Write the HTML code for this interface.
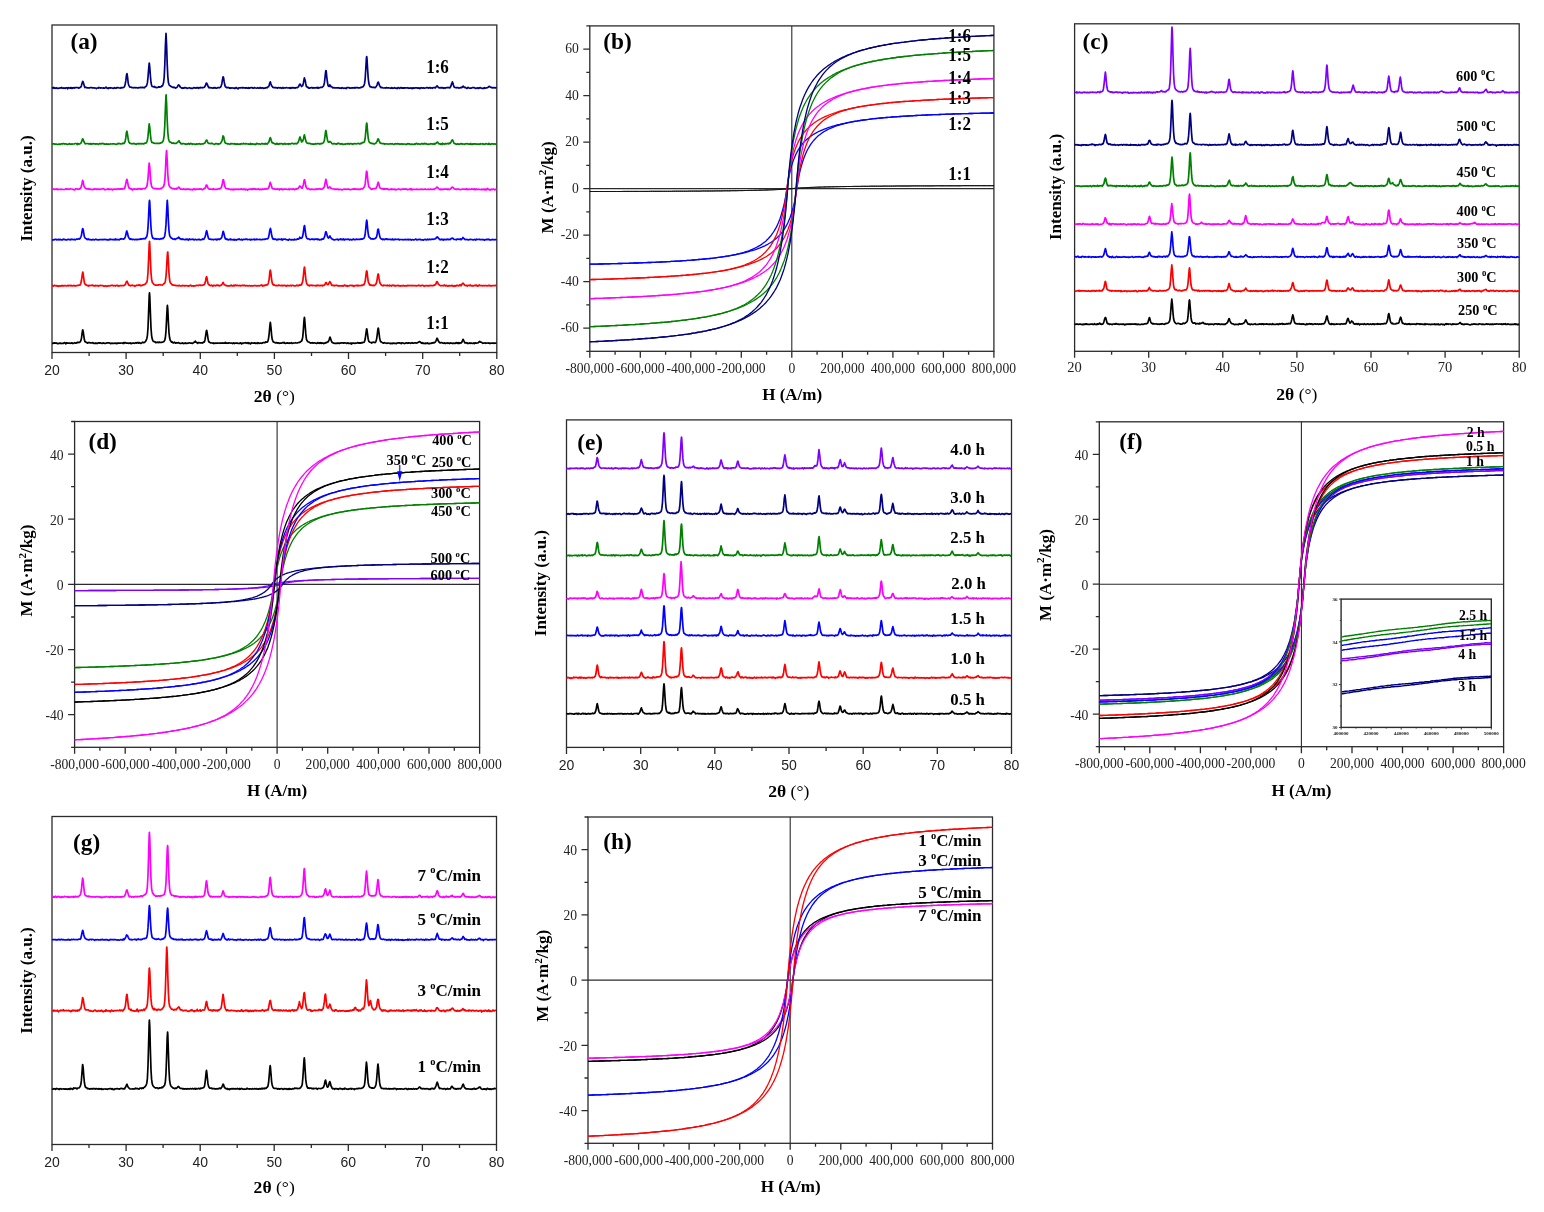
<!DOCTYPE html><html><head><meta charset="utf-8"><style>html,body{margin:0;padding:0;background:#fff}svg{display:block}</style></head><body><svg width="1544" height="1212" viewBox="0 0 1544 1212"><rect width="1544" height="1212" fill="#fff"/><g><rect x="52" y="25" width="444.8" height="327.5" fill="none" stroke="#2b2b2b" stroke-width="1.3"/>
<path d="M52 352.5v6.5M126.1 352.5v6.5M200.3 352.5v6.5M274.4 352.5v6.5M348.5 352.5v6.5M422.7 352.5v6.5M496.8 352.5v6.5M89.1 352.5v3.5M163.2 352.5v3.5M237.3 352.5v3.5M311.5 352.5v3.5M385.6 352.5v3.5M459.7 352.5v3.5" stroke="#2b2b2b" stroke-width="1.3" fill="none"/>
<text x="52" y="374.7" font-size="14" font-family="'Liberation Sans',Arial,sans-serif" text-anchor="middle" fill="#222222">20</text>
<text x="126.1" y="374.7" font-size="14" font-family="'Liberation Sans',Arial,sans-serif" text-anchor="middle" fill="#222222">30</text>
<text x="200.3" y="374.7" font-size="14" font-family="'Liberation Sans',Arial,sans-serif" text-anchor="middle" fill="#222222">40</text>
<text x="274.4" y="374.7" font-size="14" font-family="'Liberation Sans',Arial,sans-serif" text-anchor="middle" fill="#222222">50</text>
<text x="348.5" y="374.7" font-size="14" font-family="'Liberation Sans',Arial,sans-serif" text-anchor="middle" fill="#222222">60</text>
<text x="422.7" y="374.7" font-size="14" font-family="'Liberation Sans',Arial,sans-serif" text-anchor="middle" fill="#222222">70</text>
<text x="496.8" y="374.7" font-size="14" font-family="'Liberation Sans',Arial,sans-serif" text-anchor="middle" fill="#222222">80</text>
<path d="M52 343.4l.6 0 .6-.1 .6-.5 .6 .3 .6-.2 .6 .3 .6-.3 .6 .5 .6 0 .6 .4 .6-.4 .6 0 .6-.3 .6-.1 .6 .6 .6-.3 .6 0 .6 0 .6 .1 .6-.6 .6-.2 .6 .6 .6 .6 .6-1.1 .6 .2 .6 .3 .6-.2 .6 .1 .6-.1 .6 .4 .6-.2 .6 0 .6-.4 .6 .4 .6 .4 .6-.3 .6-.3 .6-.3 .6 .4 .6 0 .6-.2 .6-.6 .6 .3 .6-.2 .6-.1 .6 .1 .6-.7 .6-.9 .6-2 .6-4.8 .6-3.9 .2-.1 .4 1.4 .6 4.4 .6 4 .6 1.9 .6 .1 .6 .6 .6 .1 .6 .6 .6-.6 .6 .3 .6-.2 .6 .1 .6 .3 .6-.1 .6 .1 .6-.1 .6-.3 .6 .7 .6 .2 .6-.3 .6-.2 .6 .5 .6-.2 .6-.1 .6 .2 .6-.5 .6 0 .6 .2 .6-.3 .6 .3 .6 .1 .6 .1 .6 0 .6-.5 .6 .3 .6 .1 .6 .2 .6 .1 .6-.4 .6 0 .6-.3 .6 .2 .6-.1 .6-.1 .6 .2 .6 .4 .6 .2 .6-.3 .6-.1 .6 .1 .6 .1 .6-.1 .6 0 .6-.2 .6 0 .6 .6 .6-.2 .6-.5 .6 .4 .6-.4 .6 .2 .6-.2 .6 .2 .6-.2 .6 0 .6 .2 .6 .1 .6-.6 .6 .7 .6-.8 .6 0 .6 .3 .6 .3 .6-.1 .6-.1 .6 .4 .6-.2 .6-.1 .6 .2 .6-.4 .6 .7 .6-.1 .6-.4 .6 0 .6 0 .6 .2 .6-.1 .6-.4 .6-.1 .6 .5 .6-.6 .6 .1 .6 .5 .6-.7 .6 .4 .6 .2 .6 .3 .6-.3 .6-.4 .6-.5 .6 .5 .6-.1 .6-.2 .6-.3 .6-.8 .6-1 .6-1.6 .6-3 .6-8 .6-15.5 .6-16.7 .3-2.7 .3 3.7 .6 16.6 .6 14.9 .6 7.6 .6 3.2 .6 1.8 .6 .8 .6 .1 .6 .3 .6 .1 .6 .8 .6-.4 .6 0 .6-.1 .6 .4 .6-.2 .6-.4 .6 .5 .6 0 .6-.2 .6 0 .6-.1 .6-.2 .6-.2 .6-.6 .6-1.1 .6-2.8 .6-6.5 .6-11.9 .6-11.9 .2-1.7 .4 4.1 .6 13.4 .6 10 .6 5 .6 2.5 .6 .8 .6 .9 .6-.3 .6 .9 .6 .3 .6-.1 .6-.7 .6 .5 .6 .6 .6-.3 .6-.2 .6 .2 .6 0 .6-.3 .6 .4 .6 .3 .6 0 .6 .1 .6-.2 .6-.3 .6 .1 .6 .6 .6-.3 .6 0 .6-.4 .6 .5 .6-.2 .6 .3 .6-.4 .6 0 .6-.1 .6-.1 .6 .1 .6 .1 .6 0 .6 0 .6 .4 .6-.4 .6-.3 .6-.8 .6 .2 .3-.7 .3-.4 .6 1.1 .6 .5 .6 0 .6 .6 .6-.7 .6-.1 .6 .4 .6 0 .6-.1 .6 .2 .6-.2 .6 .3 .6-.9 .6 .1 .6-.3 .6-2.3 .6-3.6 .6-4.3 .4-1.5 .2 .4 .6 3.5 .6 4.4 .6 2.8 .6 .7 .6 .2 .6 .5 .6 .1 .6 .1 .6 0 .6 .2 .6-.3 .6 .7 .6-.3 .6-.2 .6 .2 .6-.1 .6 0 .6-.2 .6 .1 .6-.1 .6 0 .6 .3 .6-.3 .6 0 .6 .2 .6-.3 .6 .2 .6 .1 .6 0 .6-.1 .6-.7 .6 .7 .6 .1 .6-.2 .6 .3 .6-.2 .6-.2 .6 .1 .6 .1 .6-.1 .6 0 .6 .3 .6 .3 .6-.6 .6-.1 .6 .6 .6-.4 .6-.1 .6 .1 .6 .1 .6 0 .6 .1 .6 .2 .6-.1 .6 .1 .6-.7 .6 .4 .6 .6 .6-.7 .6 .4 .6-.5 .6 0 .6 0 .6-.4 .6 .4 .6-.1 .6 .5 .6-.5 .6-.3 .6 1 .6-.4 .6 0 .6 .6 .6-.7 .6-.4 .6 .3 .6 .1 .6-.1 .6 .2 .6-.4 .6 .6 .6-.3 .6 0 .6 .4 .6-.8 .6 .2 .6 .5 .6-.2 .6 0 .6-.2 .6 .3 .6-.1 .6-.4 .6-.2 .6 0 .6 .2 .6-.2 .6-.7 .6 .2 .6 .1 .6-.2 .6-1.1 .6-2.8 .6-4.8 .6-6.9 .5-4 .1 .3 .6 5.2 .6 7.2 .6 4.2 .6 1.6 .6 1.1 .6 .3 .6 0 .6 .4 .6 .3 .6-.3 .6-.1 .6 .5 .6-.3 .6 .3 .6 .3 .6-.4 .6 .1 .6-.1 .6 .1 .6-.4 .6-.1 .6 .3 .6-.5 .6 .9 .6 .2 .6-.3 .6-.3 .6 0 .6 .2 .6-.1 .6 .4 .6-.5 .6 .3 .6-.2 .6-.3 .6 .6 .6 0 .6-.2 .6-.1 .6 0 .6-.1 .6-.2 .6 .3 .6 0 .6-.1 .6-.2 .6-.2 .6-.1 .6 0 .6-.6 .6-.4 .6-.2 .6-1.6 .6-3 .6-7.2 .6-9.1 .4-2.9 .2 .7 .6 7.6 .6 8.2 .6 5.2 .6 1.5 .6 .7 .6 .7 .6 0 .6 .3 .6 .5 .6 .3 .6-.2 .6 0 .6-.2 .6 .5 .6-.2 .6-.2 .6 .2 .6 .1 .6 .1 .6 .3 .6-.2 .6-.7 .6 .3 .6 .4 .6-.5 .6 .4 .6-.6 .6 .8 .6-.5 .6 .3 .6-.2 .6 .6 .6-.5 .6 .1 .6-.7 .6 .3 .6-.3 .6-.5 .6 0 .6-1 .6-1.4 .6-2 .2-.5 .4 .8 .6 2.2 .6 1.2 .6 1.2 .6 .3 .6 .3 .6 .1 .6 .1 .6 0 .6 0 .6 0 .6 .2 .6-.5 .6 0 .6 .3 .6-.1 .6 .1 .6-.2 .6-.3 .6 .2 .6-.1 .6 .1 .6 .2 .6-.4 .6 0 .6 .2 .6 .1 .6 .3 .6-.2 .6-.4 .6 .7 .6-.3 .6 .2 .6-.2 .6-.2 .6 1 .6-1 .6 .3 .6-.1 .6-.2 .6 .3 .6 0 .6-.1 .6 0 .6-.2 .6-.3 .6 0 .6 .4 .6-.2 .6 .3 .6-.4 .6 .4 .6-.6 .6 .2 .6-.5 .6 0 .6 .1 .6-1.1 .6-2.3 .6-4.3 .6-4.7 .3-1.2 .3 1.2 .6 4.7 .6 4.5 .6 2 .6 .7 .6 .4 .6 .2 .6 0 .6 .5 .6-.6 .6 .1 .6-.4 .6 .2 .6 .3 .6-.2 .6-1.1 .6-2.2 .6-4.1 .6-5.2 .4-1.7 .2 .2 .6 4.6 .6 4.8 .6 2.9 .6 1.3 .6 0 .6 .5 .6 .3 .6 .5 .6-.3 .6-.3 .6 .4 .6 0 .6 .2 .6 .1 .6-.1 .6-.2 .6 0 .6 .2 .6 .2 .6 .2 .6-.4 .6 .2 .6 .3 .6-.7 .6 0 .6 .5 .6-.1 .6 0 .6-.1 .6 .4 .6-.5 .6-.1 .6-.3 .6 0 .6 0 .6 .4 .6-.1 .6 .6 .6-.9 .6 .1 .6 .1 .6 .4 .6-.1 .6 .3 .6-.3 .6-.4 .6 0 .6 .4 .6-.3 .6 .2 .6-.4 .6 .2 .6 .1 .6 .3 .6-.4 .6-.3 .6 .5 .6 0 .6 0 .6-.2 .6-.2 .6 0 .6 .2 .6 .1 .6-.5 .6-.1 .6-.4 .6-.4 .5-.1 .1 .1 .6 .3 .6 .8 .6 .4 .6-.5 .6 .7 .6-.3 .6 .3 .6 0 .6 .2 .6-.6 .6 .4 .6-.2 .6-.3 .6 .7 .6 0 .6 .1 .6-.4 .6 0 .6 .1 .6-.5 .6 .2 .6-.4 .6 0 .6 .1 .6-.3 .6-.6 .6-1 .6-1.5 .5-1.2 .1 .2 .6 1.1 .6 1.6 .6 .8 .6 .7 .6 .4 .6-.4 .6 0 .6 .1 .6 .3 .6 .3 .6-.2 .6-.3 .6 .7 .6-.2 .6-.1 .6-.2 .6-.1 .6 .5 .6-.4 .6 .1 .6 .4 .6-.6 .6 .3 .6 0 .6 .1 .6 .3 .6-.6 .6 .2 .6 .1 .6 .1 .6-.6 .6-.2 .6 .6 .6 .1 .6-.6 .6 .7 .6-.6 .6 .5 .6-.4 .6 .1 .6-.8 .6-1.4 .6-1.4 .1-.1 .5 1.1 .6 1 .6 1.4 .6 .1 .6 .1 .6-.3 .6 .6 .6-.1 .6 .2 .6-.1 .6-.4 .6 .2 .6 .3 .6-.4 .6 .4 .6 0 .6-.2 .6-.3 .6 .7 .6-.8 .6 .3 .6 .1 .6-.2 .6 0 .6-.1 .6-.6 .6-.6 .5-.4 .1 .5 .6 .3 .6 .1 .6 .2 .6 .5 .6 .4 .6-.2 .6 0 .6-.1 .6-.1 .6 .4 .6-.2 .6-.1 .6 0 .6 .2 .6-.3 .6 .6 .6-.3 .6 .2 .6-.3 .6 0 .6 .2 .6-.2 .6 0 .6 .3 .6-.4 .6 .2 .6-.2 .6 .3" stroke="#000000" stroke-width="1.7" fill="none" stroke-linejoin="round"/>
<path d="M52 285.6l.6 0 .6 .6 .6-.6 .6-.3 .6 .4 .6 0 .6 .2 .6-.3 .6 .5 .6-.2 .6 .5 .6-.5 .6-.1 .6 .3 .6-.1 .6-.5 .6 .4 .6-.4 .6 .5 .6-.4 .6 .2 .6-.3 .6 .2 .6 .3 .6 0 .6-.4 .6-.3 .6 .5 .6-.3 .6-.1 .6 .4 .6-.5 .6 .5 .6 .1 .6-.2 .6-.3 .6 .1 .6 .5 .6-.3 .6 .2 .6-.3 .6-.1 .6-.1 .6-.1 .6-.1 .6 0 .6-.3 .6-1.4 .6-2.7 .6-4.2 .6-4 .2-.6 .4 2.2 .6 4.5 .6 4.1 .6 1.2 .6 .4 .6 .7 .6 .1 .6 .4 .6-.1 .6 .5 .6-.6 .6 .2 .6-.1 .6-.1 .6-.2 .6 .5 .6-.5 .6 .5 .6 .1 .6 0 .6-.5 .6 .5 .6-.3 .6 .2 .6-.1 .6 .6 .6-.6 .6 0 .6 .1 .6-.4 .6 .2 .6 .1 .6 .1 .6-.1 .6 .5 .6 .2 .6-.2 .6-.4 .6 .2 .6 .4 .6-.1 .6-.3 .6-.3 .6 .4 .6-.1 .6-.2 .6 0 .6-.4 .6 0 .6 0 .6 .4 .6 .1 .6-.3 .6 .1 .6 .4 .6-.6 .6 .1 .6-.2 .6 .8 .6-.5 .6 .4 .6-.1 .6-.4 .6 .2 .6 0 .6 0 .6-.1 .6 0 .6-.1 .6-.5 .6-.2 .6-1.4 .6-1.7 .5-.4 .1-.1 .6 1.3 .6 1.3 .6 1.3 .6 .4 .6-.2 .6 .5 .6-.3 .6-.2 .6-.1 .6 .4 .6-.1 .6 .1 .6 .7 .6-.4 .6-.3 .6-.4 .6 .2 .6-.1 .6-.1 .6-.4 .6 .5 .6-.3 .6 .8 .6-.5 .6 .1 .6-.2 .6-.4 .6 .1 .6-.4 .6-.3 .6-.3 .6-1.1 .6-.4 .6-3 .6-7.2 .6-12.8 .6-15.1 .3-3 .3 3.7 .6 14.6 .6 13 .6 6.6 .6 2.8 .6 1 .6 .8 .6 .7 .6 .2 .6 .5 .6-.1 .6 0 .6 0 .6 .1 .6-.1 .6-.3 .6 0 .6-.2 .6 .3 .6 .1 .6 0 .6 .1 .6-.6 .6-.7 .6-.2 .6-.5 .6-2.2 .6-4.3 .6-8.9 .6-11.1 .4-4.6 .2 .1 .6 9.9 .6 11.3 .6 6.5 .6 2.8 .6 .8 .6 .5 .6 1 .6-.1 .6 .4 .6-.1 .6 .2 .6 0 .6 0 .6 .4 .6 0 .6-.2 .6 0 .6 .4 .6-.6 .6 .4 .6 .2 .6 .1 .6 0 .6-.6 .6 .4 .6-.3 .6 .3 .6-.1 .6 .2 .6-.4 .6 .1 .6 .2 .6 0 .6 .1 .6 .2 .6-.6 .6 .1 .6-.4 .6 .5 .6 .4 .6-.3 .6 .2 .6 .2 .6-.4 .6 .1 .6 0 .6-.4 .6-.2 .6 .2 .6-.1 .6 .3 .6-.7 .6 0 .6 0 .6 .5 .6-.1 .6 0 .6-.2 .6-.1 .6-.3 .6-.3 .6-1.4 .6-2.4 .6-3.2 .4-.8 .2 .4 .6 3.4 .6 2.8 .6 1.3 .6-.1 .6 .8 .6 .4 .6-.1 .6-.5 .6 .3 .6 .8 .6-.6 .6-.4 .6 .3 .6 .3 .6-.1 .6-.4 .6-.3 .6 .5 .6-.4 .6 .6 .6 .2 .6-.3 .6-.2 .6-.2 .6-.6 .6-1 .6-1.1 .2-.1 .4 .9 .6 1.2 .6 .4 .6 .5 .6 0 .6 .2 .6 .3 .6 0 .6 0 .6 0 .6 0 .6-.4 .6 .3 .6-.6 .6 .5 .6 .1 .6 0 .6-.6 .6 .6 .6-.4 .6-.4 .6 .5 .6 .1 .6-.3 .6 .4 .6-.1 .6 .1 .6-.3 .6 .4 .6-.1 .6-.1 .6-.2 .6 0 .6 .2 .6-.4 .6 .2 .6 .6 .6-.3 .6 0 .6-.1 .6 .3 .6 .1 .6-.2 .6-.2 .6 .2 .6 .1 .6-.2 .6 .1 .6 0 .6 .1 .6-.2 .6-.2 .6 .2 .6-.1 .6 0 .6 .4 .6-.1 .6-.2 .6 0 .6 .1 .6 0 .6-.3 .6 0 .6-.5 .6 .5 .6 .5 .6-.6 .6 .4 .6-.5 .6-.1 .6 .3 .6-.6 .6-.1 .6 .1 .6-1.1 .6-1.6 .6-3.4 .6-6.5 .5-2.3 .1 .3 .6 3.7 .6 5.3 .6 3.6 .6 1.4 .6 .8 .6-.4 .6 .4 .6 .4 .6 .1 .6-.2 .6 .3 .6 0 .6-.4 .6-.3 .6 .5 .6 0 .6 .1 .6 .1 .6-.3 .6 0 .6 .5 .6-.4 .6-.2 .6 0 .6 .4 .6 .5 .6-.2 .6-.7 .6 .3 .6-.1 .6 .3 .6-.1 .6-.1 .6-.2 .6 .5 .6-.6 .6 .2 .6-.2 .6 .5 .6 .2 .6-.2 .6 0 .6-.2 .6-.5 .6 .3 .6 .5 .6-.6 .6 .2 .6-.7 .6 .3 .6 0 .6-.6 .6-1.6 .6-2.1 .6-5.2 .6-6.1 .4-2.3 .2 .3 .6 5.7 .6 5.7 .6 3.5 .6 1.8 .6 .5 .6 .7 .6 0 .6 .5 .6-.7 .6 .1 .6 .2 .6-.3 .6 .4 .6-.2 .6 .1 .6 0 .6 .2 .6 .1 .6-.3 .6 .3 .6-.6 .6 .2 .6-.1 .6 .4 .6-.1 .6-.2 .6 .2 .6-.1 .6-.3 .6 .6 .6-.4 .6 0 .6-.3 .6-.6 .6-1.6 .3-.4 .3 0 .6 1.1 .6 1 .6 0 .6-.6 .6-1.4 .6-1 .2 .3 .4 .4 .6 1.3 .6 1.4 .6 .5 .6-.4 .6 .6 .6-.3 .6 .4 .6-.4 .6 .1 .6-.3 .6 .2 .6 .4 .6-.1 .6 .3 .6-.3 .6 .2 .6 0 .6 0 .6 .1 .6-.4 .6 .5 .6-.1 .6-.9 .6 0 .6 .6 .6 .1 .6-.3 .6 .8 .6-.6 .6 .2 .6 .1 .6-.4 .6-.3 .6 .2 .6-.1 .6 .4 .6-.5 .6 .5 .6 .5 .6-.6 .6-.2 .6 .2 .6-.1 .6-.2 .6-.2 .6 .8 .6-.6 .6 .1 .6 .1 .6 .1 .6-.1 .6-.5 .6 .2 .6 0 .6-.7 .6 0 .6-1.6 .6-1.9 .6-4.7 .6-5 .3-.5 .3 .5 .6 5.4 .6 4.6 .6 1.8 .6 1.2 .6 .7 .6-.2 .6 .2 .6 .3 .6 0 .6 .2 .6-.5 .6 .5 .6-.4 .6-.5 .6-1 .6-1.2 .6-3.4 .6-4.3 .4-.8 .2 .4 .6 3.8 .6 3.2 .6 2.1 .6 .8 .6 .6 .6 .6 .6 .2 .6 .1 .6-.7 .6 .4 .6-.2 .6 .2 .6 .1 .6 .1 .6-.6 .6 .7 .6-.3 .6 .3 .6-.6 .6 .4 .6 .1 .6 .4 .6-.9 .6 .3 .6-.2 .6-.1 .6 .7 .6-.2 .6 .1 .6-.1 .6-.1 .6 0 .6-.3 .6 .5 .6 .1 .6-.3 .6 .5 .6-.3 .6-.3 .6 .3 .6 .1 .6-.5 .6 .4 .6 .1 .6-.2 .6 .2 .6 .1 .6-.6 .6 .4 .6-.3 .6-.1 .6 .3 .6-.2 .6 .2 .6-.2 .6-.1 .6 .3 .6-.1 .6 0 .6-.1 .6 .2 .6 0 .6 .3 .6-.4 .6 .2 .6-.3 .6-.4 .6 .7 .6-.2 .6 .1 .6 .3 .6-.6 .6 0 .6 0 .6 .1 .6 .8 .6-.5 .6 0 .6-.3 .6 .2 .6-.1 .6 .4 .6-.4 .6 .3 .6-.3 .6 0 .6-.2 .6 .3 .6-.1 .6 .2 .6-.2 .6-.2 .6-.3 .6 .2 .6-.9 .6-.5 .6-2.1 .5-.1 .1 .1 .6 .9 .6 1.5 .6 .4 .6 .5 .6 .4 .6 .3 .6-.2 .6 0 .6 0 .6 .2 .6-.4 .6-.4 .6 .8 .6 0 .6-.5 .6 .4 .6 .4 .6 .1 .6-.5 .6 .3 .6-.5 .6 .3 .6 .2 .6-.5 .6-.2 .6 .8 .6-.1 .6 .3 .6-.6 .6-.2 .6 .6 .6-.4 .6-.5 .6 .3 .6 .3 .6-.1 .6-.7 .6 .5 .6-.6 .6 .8 .6-1.3 .6-.8 .6-.4 .1-.1 .5 .8 .6 .5 .6 .8 .6 .3 .6 .1 .6-.3 .6 .7 .6-.5 .6-.1 .6 .1 .6 .2 .6-.7 .6 .5 .6 .4 .6-.1 .6-.1 .6 .2 .6-.1 .6-.5 .6 0 .6 .3 .6-.6 .6 .6 .6 .6 .6-.5 .6 .2 .6-1 .6 .4 .6 .3 .6 .1 .6-.2 .6 .4 .6-.2 .6-.1 .6 0 .6 .2 .6-.3 .6 .1 .6 0 .6 .4 .6-.3 .6-.3 .6 .2 .6-.2 .6 .4 .6-.1 .6 .1 .6 0 .6-.3 .6 .2 .6 0 .6 0 .6 0 .6-.1 .6-.4 .6-.1" stroke="#ff0000" stroke-width="1.7" fill="none" stroke-linejoin="round"/>
<path d="M52 239.8l.6 .1 .6-.1 .6 .2 .6-.5 .6-.1 .6-.1 .6 0 .6 .6 .6-.2 .6-.3 .6-.1 .6 .6 .6-.6 .6 .1 .6 .3 .6 .2 .6 .1 .6-.5 .6-.3 .6 0 .6 .4 .6 0 .6 .3 .6-.1 .6 .1 .6-.5 .6-.1 .6 .2 .6 .2 .6-.3 .6 .5 .6-.7 .6 .3 .6-.2 .6 .3 .6 .1 .6-.3 .6 .2 .6 .2 .6-.5 .6-.1 .6-.1 .6 .1 .6-.2 .6-.4 .6 .4 .6-.7 .6-1.3 .6-1.4 .6-4 .6-2.9 .2 0 .4 .9 .6 3.8 .6 3.5 .6 .9 .6 .6 .6 .4 .6 .1 .6 .7 .6-.3 .6-.4 .6 .8 .6-.1 .6-.1 .6 .4 .6-.1 .6 0 .6-.4 .6 .1 .6 .4 .6-.1 .6-.3 .6-.3 .6 .4 .6 0 .6 .2 .6 0 .6 0 .6-.2 .6 .1 .6-.2 .6 .1 .6 .1 .6 0 .6-.3 .6 .3 .6-.1 .6-.3 .6 .2 .6 .2 .6-.2 .6 .5 .6-.3 .6 .2 .6-.1 .6-.6 .6-.2 .6 .6 .6-.1 .6-.1 .6 .3 .6 0 .6-.1 .6-.3 .6 .6 .6-.9 .6 .7 .6-.3 .6 .3 .6-.1 .6 0 .6 .3 .6-.5 .6-.5 .6 .2 .6-.4 .6 .3 .6 0 .6 .2 .6-.4 .6-.3 .6-1.5 .6-1.9 .6-3.2 .5-1 .1 .5 .6 2.1 .6 3 .6 1.2 .6 .8 .6 .9 .6-.6 .6 .3 .6 .3 .6 .2 .6-.3 .6 .1 .6 .1 .6 .3 .6-.3 .6-.2 .6 .4 .6 0 .6-.4 .6 .1 .6-.1 .6 0 .6-.5 .6 .4 .6-.1 .6-.3 .6 .2 .6-.3 .6-.1 .6-.1 .6 .4 .6-.5 .6-1.2 .6-.6 .6-3 .6-5.9 .6-12 .6-13 .3-2.4 .3 2.4 .6 13.3 .6 11.8 .6 6.1 .6 2.7 .6 1.5 .6 0 .6 .7 .6 0 .6 .1 .6-.3 .6 .3 .6 .2 .6-.1 .6-.2 .6 .2 .6 .3 .6-.1 .6-.5 .6 .3 .6-.4 .6-.2 .6 .2 .6-.6 .6-.8 .6-1.5 .6-4.3 .6-7 .6-12.7 .6-11 .1-.3 .5 7.1 .6 14 .6 9.3 .6 4.5 .6 1.4 .6 .7 .6 .8 .6 0 .6 .8 .6 .1 .6-.1 .6-.2 .6 .7 .6-.4 .6-.5 .6 .1 .6-.6 .6 0 .6-1 .2 .2 .4 .5 .6 .9 .6-.1 .6 .7 .6-.1 .6 .1 .6-.5 .6 .6 .6 .1 .6 .1 .6 .1 .6-.4 .6-.3 .6 .6 .6-.4 .6 .9 .6-.6 .6-.5 .6 .7 .6-.2 .6-.2 .6 .1 .6 0 .6-.3 .6 .6 .6 .2 .6-.3 .6-.3 .6 .3 .6 .2 .6-.1 .6-.2 .6 .1 .6-.4 .6 .5 .6 .2 .6-.2 .6 0 .6-.2 .6-.5 .6 .5 .6-.2 .6-1.1 .6-1.1 .6-2.1 .6-3.1 .4-1.2 .2 .3 .6 2.7 .6 3.1 .6 1.7 .6 .6 .6 0 .6 .2 .6-.1 .6 .4 .6-.1 .6-.1 .6 .4 .6-.3 .6-.1 .6-.2 .6 .2 .6 .4 .6-.6 .6 .5 .6-.6 .6 0 .6 .4 .6-.6 .6-.1 .6-.6 .6-.9 .6-2.7 .6-2.9 .2-.4 .4 .9 .6 2.6 .6 2.6 .6 1.4 .6 .4 .6-.3 .6 .7 .6-.2 .6 .4 .6-.1 .6-.2 .6-.5 .6 .9 .6-.5 .6 .2 .6 .2 .6 .2 .6-.6 .6 .6 .6-.5 .6 0 .6 .6 .6-.5 .6 0 .6-.4 .6 .3 .6-.5 .6 .5 .6 .3 .6-.2 .6-.3 .6 .7 .6-.4 .6-.2 .6 .1 .6-.2 .6 0 .6-.1 .6 .1 .6-.3 .6 .6 .6-.1 .6 0 .6 .1 .6-.2 .6 .6 .6-.7 .6 .3 .6 .1 .6-.2 .6-.2 .6-.1 .6 .6 .6-.3 .6 .2 .6-.6 .6 .2 .6 .3 .6-.1 .6 0 .6-.2 .6 .4 .6-.2 .6 .2 .6 0 .6-.4 .6 .1 .6 .1 .6-.3 .6 .1 .6-.2 .6-.3 .6 .2 .6-.1 .6-.4 .6-1.3 .6-3.1 .6-4 .5-1.4 .1-.4 .6 2.6 .6 3.7 .6 2.6 .6 1.7 .6-.3 .6 .8 .6-.3 .6 .1 .6-.1 .6 .7 .6 .1 .6-.6 .6 .3 .6-.5 .6 .2 .6 .2 .6-.1 .6 .2 .6-.7 .6 1.1 .6-.5 .6-.4 .6 .1 .6-.1 .6 .1 .6 .5 .6-.1 .6 .2 .6 .1 .6 .2 .6-.7 .6-.2 .6 .3 .6 .4 .6 0 .6-.3 .6 0 .6 .4 .6-.1 .6-.8 .6 .5 .6 .1 .6-.1 .6-.2 .6-.6 .6 .4 .6-.1 .6-.6 .6-1.3 .2 .7 .4 .1 .6 .4 .6-.4 .6-.4 .6-2 .6-3.6 .6-4.8 .4-1.6 .2 0 .6 4.7 .6 4.9 .6 2.1 .6 1.1 .6 .4 .6 .1 .6 .1 .6 .1 .6 .6 .6-.2 .6-.4 .6 0 .6 .2 .6-.3 .6 .5 .6 .2 .6-.6 .6 0 .6 .1 .6 0 .6 .4 .6-.6 .6 .4 .6 .2 .6 .4 .6-.5 .6 0 .6 .1 .6-.7 .6 .1 .6 .2 .6-.9 .6-1 .6-2.2 .6-2.9 .3-.5 .3 .2 .6 2.2 .6 2.3 .6 1.1 .6 .5 .6-.8 .6-.9 .2-.4 .4 1.5 .6 .6 .6 .4 .6 .9 .6 0 .6 .3 .6 .3 .6 .1 .6-.4 .6-.1 .6 0 .6-.3 .6 0 .6 .8 .6-.5 .6-.2 .6 .1 .6-.5 .6 .7 .6-.2 .6 .2 .6-.2 .6-.5 .6 1.1 .6-.4 .6-.3 .6 0 .6 .1 .6 0 .6-.2 .6 0 .6 .4 .6 .3 .6-.6 .6 .2 .6 .3 .6 .1 .6-.6 .6-.1 .6 0 .6 .4 .6 .2 .6-.3 .6-.3 .6 0 .6 .3 .6-.2 .6 0 .6 .1 .6-.2 .6 .1 .6-.4 .6 .2 .6 .1 .6-.4 .6-.1 .6-.5 .6-1.5 .6-2.7 .6-5.9 .6-6.5 .3-1.4 .3 1.2 .6 6.9 .6 5.3 .6 3.3 .6 .3 .6 .8 .6 .5 .6 .5 .6-.1 .6-.2 .6 .5 .6-.3 .6-.1 .6-.2 .6-.2 .6-.5 .6-1.2 .6-2.8 .6-4.6 .4 .3 .2-.4 .6 3.5 .6 2.9 .6 2.3 .6 .6 .6 .6 .6-.1 .6 .5 .6-.5 .6 .4 .6 .2 .6-.2 .6-.5 .6-.1 .6 .6 .6-.4 .6 .5 .6-.1 .6-.1 .6 0 .6 .1 .6 .2 .6 .1 .6-.7 .6 .6 .6-.2 .6 .5 .6-.5 .6-.2 .6 0 .6 .3 .6 0 .6-.2 .6 0 .6-.1 .6 .7 .6-.3 .6-.1 .6 0 .6 .1 .6-.1 .6 .2 .6 .1 .6-.2 .6 0 .6-.2 .6 .3 .6-.1 .6 .1 .6-.3 .6 .4 .6-.4 .6 .3 .6-.3 .6 .1 .6 .6 .6-.3 .6-.2 .6 .2 .6 .1 .6-.2 .6-.3 .6-.3 .6 .2 .6 .7 .6-.3 .6-.1 .6 0 .6-.3 .6 .3 .6-.3 .6 .5 .6 .2 .6-.3 .6 .3 .6 .1 .6-.6 .6 .1 .6-.3 .6 .2 .6 .5 .6-.2 .6-.6 .6 .5 .6-.1 .6-.5 .6 .6 .6-.2 .6-.3 .6 .2 .6-.2 .6 0 .6 .2 .6-.4 .6-.1 .6-.2 .6-.4 .6-1 .5-.4 .1 0 .6 .4 .6 1 .6 .3 .6 1 .6 0 .6 .2 .6-.6 .6 .3 .6-.1 .6 .7 .6-.7 .6 0 .6 .2 .6 0 .6-.2 .6 .2 .6-.2 .6-.3 .6 .6 .6-.1 .6-.3 .6 .3 .6-1 .6-.3 .6 0 .1-.1 .5 .1 .6 .4 .6 .8 .6 0 .6 0 .6 .1 .6 .2 .6-.6 .6 0 .6-.2 .6 .4 .6-.2 .6 .3 .6-.7 .6 .9 .6-.8 .6-.3 .6-1.1 .1 .8 .5 0 .6 .2 .6 .9 .6 .2 .6-.1 .6-.1 .6 .2 .6 .2 .6 0 .6-.1 .6 0 .6-.4 .6 .1 .6 .1 .6 .1 .6 .2 .6 .1 .6-.2 .6 0 .6-.4 .6 .8 .6-.4 .6-.6 .6 .4 .6 0 .6 0 .6-.3 .6 .4 .6 0 .6 .1 .6 0 .6-.3 .6 .3 .6-.2 .6 .5 .6 .2 .6-.7 .6 .2 .6 0 .6-.5 .6 .5 .6-.1 .6-.5 .6 .7 .6 .1 .6 .1 .6-.2 .6-.1 .6-.3 .6 .1 .6 .2 .6 .1 .6-.3 .6 0 .6 .3 .6 .3" stroke="#0000ff" stroke-width="1.7" fill="none" stroke-linejoin="round"/>
<path d="M52 189.6l.6-.3 .6-.1 .6-.3 .6 .4 .6 .1 .6-.2 .6 0 .6-.3 .6 .7 .6-.2 .6-.2 .6 .2 .6 0 .6-.1 .6-.1 .6 .1 .6 .1 .6 .1 .6 0 .6-.1 .6 .1 .6-.2 .6-.4 .6-.1 .6 .6 .6-.5 .6 .1 .6 .2 .6 .3 .6-.7 .6 .1 .6 .1 .6 0 .6 .2 .6 .2 .6 0 .6 .6 .6-.3 .6-.8 .6-.2 .6 .3 .6 0 .6 .3 .6-.1 .6 0 .6-.4 .6-.2 .6-.7 .6-1.8 .6-2.7 .6-3.1 .2 .4 .4 1.1 .6 3.7 .6 1.6 .6 .7 .6 .6 .6 .4 .6 0 .6-.1 .6 .2 .6-.2 .6 .7 .6-.6 .6 .5 .6 .2 .6-.1 .6 .2 .6-.2 .6 .1 .6-.4 .6-.2 .6 .2 .6 .2 .6 .2 .6-.5 .6 .1 .6-.1 .6 .4 .6-.3 .6 .4 .6-.3 .6-.1 .6-.1 .6-.2 .6-.3 .6 .5 .6 0 .6 .8 .6-.3 .6 0 .6-.2 .6-.1 .6-.3 .6 0 .6 .7 .6-.4 .6-.1 .6 .3 .6-.2 .6 0 .6 .6 .6-.4 .6-.2 .6-.1 .6-.1 .6 .3 .6 .1 .6-.3 .6 0 .6-.3 .6 .3 .6 .2 .6-.4 .6 .2 .6-.2 .6 0 .6 .2 .6-.4 .6 .3 .6-.1 .6-.5 .6-1.8 .6-2.9 .6-3.2 .5-1.2 .1 .1 .6 2.8 .6 3.3 .6 1.9 .6 1.1 .6-.2 .6 .6 .6 .2 .6-.2 .6 1.1 .6-.7 .6-.1 .6-.4 .6 .3 .6 .1 .6 .2 .6-.4 .6 .4 .6-.6 .6 .2 .6-.4 .6 .4 .6 .2 .6-.6 .6 .5 .6 0 .6-.6 .6 0 .6 0 .6 .2 .6 0 .6-.7 .6-.7 .6-.8 .6-3 .6-4.8 .6-8.9 .6-6.6 .1 .3 .5 4.4 .6 9 .6 6.6 .6 2.7 .6 1.2 .6 .5 .6 .3 .6 .3 .6 .1 .6-.2 .6 .6 .6-.3 .6-.1 .6 .4 .6-.3 .6 .1 .6 .2 .6-.1 .6-.5 .6 .2 .6-.5 .6-.5 .6-.5 .6-.5 .6-2 .6-3.9 .6-9.4 .6-13.8 .5-6.9 .1 0 .6 9.5 .6 14 .6 7.3 .6 4 .6 1 .6 1 .6 .4 .6 .1 .6 .6 .6 .1 .6 .1 .6-.2 .6 .6 .6-.3 .6 .2 .6-.5 .6 .5 .6-.7 .6-.3 .6-.9 .2 0 .4 .4 .6 .6 .6 1.1 .6-.2 .6 0 .6 .4 .6-.2 .6-.3 .6 .2 .6 .3 .6-.2 .6 .3 .6-.5 .6 .3 .6-.3 .6 .1 .6 0 .6-.1 .6 .8 .6-.4 .6 .1 .6-.1 .6 .4 .6-.6 .6-.3 .6 .5 .6-.4 .6 .6 .6-.5 .6 .1 .6 .2 .6-.4 .6 .1 .6 .2 .6-.4 .6 .3 .6-.3 .6 .2 .6 .5 .6 0 .6-.5 .6-.2 .6-.3 .6-.3 .6-1 .6-2 .4-.3 .2 .1 .6 1.6 .6 1.3 .6 .7 .6 .4 .6 .1 .6-.1 .6 .2 .6-.2 .6 .3 .6 .1 .6-.8 .6 .8 .6-.3 .6 .2 .6-.2 .6 .3 .6-.3 .6 0 .6-.3 .6 .1 .6 0 .6-.5 .6-.1 .6-.8 .6-1.5 .6-2.9 .6-3.4 .2-.2 .4 .4 .6 3.5 .6 2.9 .6 1.3 .6 .9 .6 0 .6 .1 .6 .3 .6-.1 .6 .2 .6 0 .6 .3 .6 .2 .6-.2 .6-.3 .6 .3 .6 .5 .6-.7 .6 0 .6 .4 .6-.3 .6-.1 .6 .3 .6-.4 .6 .4 .6-.4 .6 .3 .6-.1 .6-.2 .6 .3 .6-.5 .6 .5 .6-.2 .6 .3 .6-.5 .6 .5 .6 .3 .6-.6 .6 .1 .6 .2 .6 .7 .6-.7 .6-.4 .6 .2 .6-.1 .6 0 .6-.3 .6 .7 .6-.7 .6 .3 .6-.4 .6-.2 .6 .7 .6-.4 .6 .5 .6-.1 .6-.3 .6 .4 .6-.5 .6 .5 .6 .2 .6-.6 .6 .2 .6 .4 .6-.2 .6-.5 .6 .5 .6-.2 .6 0 .6-.4 .6 .3 .6 0 .6-.4 .6 .2 .6-.5 .6-.4 .6-1.6 .6-2.8 .5-1.3 .1 .7 .6 1.6 .6 1.9 .6 1.8 .6 .5 .6 .2 .6-.1 .6 0 .6 .5 .6-.3 .6 0 .6 .2 .6-.4 .6 .2 .6 .1 .6 .7 .6-1 .6 .3 .6-.2 .6-.2 .6 .9 .6 0 .6-.5 .6 0 .6 0 .6 0 .6-.1 .6 .2 .6 .2 .6-.1 .6 .1 .6-.6 .6 .7 .6-.5 .6-.1 .6 0 .6 .3 .6-.1 .6-.3 .6 .2 .6 .6 .6-.4 .6-.3 .6-.1 .6 .2 .6-.5 .6-.1 .6-.8 .6-.5 .6-1.3 .2 .4 .4 .3 .6 .7 .6 .8 .6 0 .6-1.7 .6-2 .6-3.5 .4-1.1 .2-.1 .6 3 .6 3.4 .6 1.5 .6 .7 .6 .6 .6-.3 .6-.1 .6 .7 .6 .1 .6 .3 .6-.2 .6-.4 .6 .3 .6 .1 .6 .1 .6-.1 .6 0 .6 .1 .6-.5 .6 .3 .6-.4 .6 .1 .6 .3 .6-.3 .6-.3 .6 .1 .6 .4 .6 .1 .6-.2 .6-.1 .6-1 .6-.2 .6-1.2 .6-3.1 .6-3.1 .3-1.1 .3 .7 .6 3.6 .6 2.3 .6 2.2 .6-.2 .6-.5 .6 .1 .2-.5 .4 .5 .6 .8 .6 .2 .6 .3 .6 .2 .6 0 .6-.1 .6 .5 .6-.1 .6-.3 .6 .1 .6 .4 .6-.5 .6 .1 .6 .5 .6 0 .6-.3 .6 .1 .6 0 .6 .5 .6-.2 .6-.2 .6-.4 .6 .1 .6 .1 .6-.2 .6 .2 .6 0 .6-.1 .6 0 .6-.2 .6 0 .6 .7 .6 0 .6-.2 .6-.1 .6-.1 .6-.3 .6 .3 .6-.5 .6 .4 .6-.3 .6 .2 .6 .4 .6-.3 .6-.1 .6 .2 .6-.1 .6 .3 .6-.3 .6 .1 .6-.4 .6-.2 .6 .2 .6 0 .6-.9 .6-.6 .6-1 .6-2.5 .6-6 .6-6 .3-.7 .3 .9 .6 6.1 .6 5.5 .6 3.1 .6 .6 .6 .6 .6 .4 .6 .8 .6 .2 .6-.5 .6 .1 .6-.4 .6 0 .6 .2 .6-.3 .6-.2 .6-1.1 .6-1.8 .6-2.2 .4-1 .2 .4 .6 2.1 .6 2.1 .6 1.3 .6 .4 .6 .1 .6 .2 .6 0 .6-.1 .6 .7 .6-.8 .6 .6 .6-.2 .6-.2 .6 .3 .6-.2 .6 .1 .6 .6 .6-.1 .6-.2 .6 .1 .6-.6 .6 .8 .6-.2 .6-.3 .6 .2 .6 .3 .6-.5 .6 .2 .6 .5 .6-.1 .6-.2 .6-.2 .6-.4 .6 .1 .6 .3 .6 .1 .6 .3 .6-.4 .6 0 .6-.1 .6-.3 .6 .4 .6-.3 .6 .1 .6-.2 .6 .4 .6-.2 .6 .3 .6 .4 .6-.4 .6 0 .6-.3 .6-.2 .6 .8 .6-.9 .6 1 .6-.2 .6-.3 .6 .1 .6-.1 .6 .1 .6 .1 .6-.2 .6-.1 .6 .1 .6 0 .6 0 .6 0 .6 .2 .6-.2 .6 0 .6-.1 .6 .1 .6 0 .6 0 .6 .1 .6-.2 .6-.3 .6 .6 .6 0 .6 0 .6 0 .6-.5 .6 .4 .6 .1 .6 0 .6-.5 .6 .2 .6 .2 .6 .1 .6-.4 .6 .2 .6 .1 .6-.7 .6-.2 .6-.4 .6-.8 .5-.2 .1 .3 .6 .3 .6 .6 .6 .5 .6 .7 .6 .2 .6-.7 .6 .5 .6 .1 .6-.4 .6 0 .6 .2 .6-.4 .6 .1 .6 .1 .6-.2 .6 .1 .6 .4 .6-.7 .6 .7 .6 .1 .6-.5 .6-.1 .6-.5 .6-1.1 .6-.1 .1-.2 .5 .4 .6 .2 .6 1.3 .6 0 .6 .2 .6-.1 .6 .4 .6-.4 .6-.1 .6-.1 .6 .3 .6 .2 .6 .3 .6-.2 .6-.1 .6-.1 .6-.2 .6-.1 .6 .4 .6-.1 .6-.2 .6 .1 .6 .3 .6-.8 .6 .6 .6 0 .6 0 .6-.3 .6 .5 .6 0 .6-.2 .6-.4 .6 .2 .6 .2 .6-.2 .6 .3 .6-.5 .6 .9 .6-.7 .6-.1 .6 .5 .6-.2 .6 0 .6-.1 .6 .3 .6-.1 .6 .1 .6 .1 .6-.5 .6 .6 .6-.3 .6-.3 .6 .6 .6-.6 .6 .8 .6-.8 .6 .7 .6-.8 .6-.5 .6 .9 .6-.1 .6 .4 .6 .5 .6-.7 .6-.2 .6-.1 .6 .4 .6-.3 .6-.2 .6 .3 .6 .5 .6-.6 .6 .1 .6 .1" stroke="#ff00ff" stroke-width="1.7" fill="none" stroke-linejoin="round"/>
<path d="M52 144.5l.6-.6 .6 .1 .6-.2 .6 0 .6 .5 .6-.2 .6-.1 .6 .3 .6 .2 .6-.2 .6 0 .6-.4 .6 .4 .6 0 .6-.5 .6 0 .6 .3 .6-.4 .6 0 .6 0 .6 .4 .6-.3 .6 .1 .6 .2 .6 .2 .6 0 .6-.1 .6 0 .6-.6 .6 .3 .6 .3 .6 0 .6-.3 .6 .2 .6-.1 .6 0 .6-.1 .6-.2 .6-.2 .6 0 .6 .2 .6 .9 .6-1.1 .6 .4 .6 .2 .6-.1 .6-.4 .6-.4 .6-.9 .6-1.9 .6-1.6 .2 0 .4 .7 .6 1.9 .6 1.1 .6 1.1 .6 .2 .6-.1 .6-.2 .6 0 .6 .2 .6 .1 .6-.1 .6 .4 .6-.5 .6 .6 .6-.6 .6 .5 .6-.4 .6-.2 .6 .3 .6 .1 .6 0 .6 .2 .6-.2 .6-.2 .6 .3 .6 .3 .6-.1 .6-.6 .6 .1 .6 .1 .6 0 .6-.4 .6 .2 .6 0 .6-.1 .6 .8 .6-.2 .6-.1 .6 .1 .6-.2 .6 .2 .6 0 .6 0 .6-.1 .6 .2 .6-.2 .6-.1 .6 .1 .6 0 .6-.2 .6 .1 .6-.1 .6 .1 .6 .1 .6 .2 .6 .3 .6-.3 .6-.5 .6 .1 .6-.5 .6 .3 .6-.1 .6 .3 .6 0 .6 .2 .6-.3 .6-.5 .6 0 .6 .4 .6-.9 .6-1.6 .6-3.4 .6-5.1 .5-1.4 .1 .2 .6 3.4 .6 4.3 .6 2.8 .6 .9 .6 .5 .6 .1 .6 .2 .6 .2 .6 0 .6-.3 .6 .1 .6-.2 .6 .6 .6-.1 .6 .3 .6 0 .6-.6 .6 .2 .6 .2 .6-.6 .6 .4 .6 0 .6-.2 .6 .3 .6-.4 .6 .2 .6 .3 .6-.5 .6 .2 .6-.5 .6-.1 .6-.1 .6-.9 .6-1.8 .6-4.1 .6-6.7 .6-5.7 .1 .6 .5 3.2 .6 7.1 .6 4.7 .6 2.7 .6 .6 .6-.2 .6 .4 .6 .2 .6 .2 .6 .1 .6 .1 .6-.1 .6 0 .6 0 .6-.1 .6 .3 .6-.3 .6-.1 .6-.1 .6-.5 .6 .1 .6-.8 .6-.6 .6-2.1 .6-4.1 .6-10.1 .6-16.6 .6-13 .1-.5 .5 8.6 .6 16.7 .6 11.9 .6 6.4 .6 2 .6 1.3 .6 .4 .6 0 .6 .6 .6 .5 .6-.2 .6-.3 .6 .7 .6-.1 .6 .1 .6-.2 .6 .1 .6-.5 .6-.7 .6-.3 .6-1 .2 .3 .4-.2 .6 1.3 .6 .5 .6 1.1 .6-.3 .6 .3 .6-.4 .6 .2 .6 0 .6 .2 .6 0 .6 .3 .6-.2 .6 .2 .6-.4 .6 .2 .6-.5 .6 .6 .6-.2 .6-.6 .6 .6 .6-.2 .6 .5 .6-.3 .6 .1 .6 0 .6 .2 .6 .3 .6-.4 .6-.2 .6 .2 .6-.1 .6-.1 .6 .1 .6-.3 .6 .4 .6 0 .6-.1 .6-.1 .6-.1 .6 .1 .6-.3 .6-.3 .6-.3 .6-1.4 .6-1.2 .4-.4 .2 .1 .6 1.4 .6 1.3 .6 .6 .6 0 .6 .1 .6 .2 .6 0 .6-.5 .6 .2 .6 .3 .6 .3 .6 .2 .6 .3 .6-.7 .6-.2 .6 .1 .6 .1 .6 .1 .6 .3 .6-.4 .6 .2 .6-.3 .6-.5 .6-.9 .6-.9 .6-2.5 .6-3 .2 .3 .4 .3 .6 3 .6 2.5 .6 1.1 .6 .2 .6 .2 .6 .3 .6 .1 .6-.2 .6 .3 .6 .2 .6-.3 .6-.3 .6 .3 .6-.4 .6 .3 .6 .2 .6-.2 .6-.2 .6 .7 .6-.4 .6 .2 .6 0 .6-.3 .6 .5 .6-.3 .6 .2 .6-.1 .6 .1 .6-.6 .6 .3 .6 .1 .6-.1 .6-.6 .6 .4 .6 .1 .6 .2 .6-.3 .6-.1 .6 .4 .6 0 .6-.1 .6 .3 .6-.1 .6 0 .6-.7 .6 .8 .6-.4 .6 .1 .6 .3 .6-.2 .6 .1 .6 0 .6 .5 .6-.4 .6-.9 .6 .4 .6 .1 .6 .1 .6-.1 .6 .3 .6-.1 .6 .1 .6-.3 .6-.4 .6 .6 .6-.1 .6-.1 .6-.1 .6 .5 .6-.8 .6 .5 .6-.2 .6 .4 .6-1.2 .6-.3 .6-1.5 .6-2.4 .5-1 .1 0 .6 1.7 .6 2.2 .6 1.2 .6 0 .6 .4 .6 .2 .6 .3 .6 .5 .6 .1 .6-.7 .6-.3 .6 .9 .6-.3 .6 .3 .6-.6 .6 .3 .6-.2 .6 0 .6-.2 .6 .3 .6 .6 .6-.6 .6 0 .6-.4 .6 .7 .6-.1 .6 0 .6-.2 .6 .1 .6 .4 .6-.8 .6 .2 .6 .4 .6-.4 .6-.3 .6 .1 .6-.1 .6 .2 .6 .4 .6-.3 .6-.3 .6 .1 .6 .3 .6-.1 .6-.7 .6-.5 .6-1.1 .6-2.2 .6-1.9 .2-.3 .4 .9 .6 2.2 .6 1.9 .6-.4 .6-.6 .6-2.1 .6-2.9 .4-1.1 .2 .8 .6 2.5 .6 2.7 .6 1.4 .6 .8 .6 .2 .6 .3 .6-.3 .6 0 .6 .1 .6 .6 .6 0 .6-.1 .6 .2 .6 .1 .6-.3 .6 .3 .6-.1 .6-.4 .6-.1 .6 .4 .6-.3 .6-.2 .6 .1 .6 .1 .6 .4 .6-.4 .6 .3 .6-.7 .6 .2 .6 0 .6-.7 .6-.8 .6-1.8 .6-4.1 .6-4.8 .3-.8 .3 1 .6 4.6 .6 3.6 .6 1.9 .6 .6 .6-.1 .6-.2 .2-.4 .4 .4 .6 .4 .6 .8 .6 .6 .6 .3 .6-.3 .6-.1 .6 0 .6 .4 .6-.2 .6 .4 .6-.5 .6 .1 .6-.7 .6 .4 .6 .4 .6-.3 .6 .5 .6 .1 .6-.6 .6 .3 .6 .5 .6 0 .6-.3 .6 0 .6 .1 .6-.4 .6 .1 .6 0 .6-.3 .6 .3 .6-.3 .6 .5 .6-.5 .6-.1 .6 .3 .6 .1 .6 .4 .6-.4 .6 .1 .6-.5 .6 0 .6 .2 .6 .2 .6-.2 .6 0 .6-.2 .6-.1 .6 .4 .6 .1 .6-.6 .6 .4 .6-.4 .6-.6 .6-.1 .6-.2 .6-.1 .6-1.2 .6-3.1 .6-6.7 .6-7.1 .3-1.2 .3 1.3 .6 7.4 .6 6.3 .6 3 .6 1.5 .6 .2 .6 .3 .6 .5 .6-.3 .6 .5 .6-.1 .6 .1 .6 .4 .6-.3 .6-.4 .6-.4 .6-.9 .6-.9 .6-2.2 .4-.1 .2 .2 .6 1.5 .6 1.4 .6 1.1 .6 .3 .6 0 .6 .1 .6 .2 .6-.1 .6 0 .6 .6 .6-.5 .6 .3 .6 0 .6-.2 .6 .2 .6 0 .6 .1 .6-.1 .6-.1 .6 .1 .6-.3 .6 .2 .6-.2 .6 .3 .6 .2 .6 .2 .6-.6 .6 0 .6-.1 .6 .2 .6-.1 .6-.1 .6 .3 .6-.4 .6 .6 .6-.1 .6 .1 .6-.4 .6 .1 .6 .3 .6-.3 .6 .3 .6-.2 .6 0 .6 .2 .6 .4 .6-.5 .6-.4 .6 .4 .6-.4 .6 .3 .6-.2 .6 .7 .6-.2 .6 0 .6-.3 .6 .2 .6 .3 .6 0 .6-.6 .6 .5 .6-.4 .6-.6 .6 .2 .6 .4 .6 .2 .6-.5 .6 .3 .6 .2 .6 0 .6-.3 .6-.3 .6 .1 .6 .4 .6-.4 .6 .4 .6-.8 .6 .4 .6 .3 .6-.4 .6 .6 .6 0 .6 .3 .6-.5 .6 .1 .6-.1 .6-.3 .6 .2 .6-.1 .6 .1 .6 .3 .6-.3 .6-.4 .6 .8 .6-.9 .6 0 .6-.7 .5-.4 .1-.3 .6 .2 .6 1.1 .6 .5 .6 0 .6-.1 .6 .7 .6-.6 .6 .7 .6-1.3 .6 .8 .6-.1 .6 .2 .6-.1 .6-.5 .6 .3 .6-.1 .6-.3 .6 .3 .6 .1 .6-.7 .6 .5 .6-.7 .6-.6 .6-1.5 .6-.7 .1-.3 .5 .6 .6 1.3 .6 1.5 .6 .4 .6 .1 .6 .3 .6 .4 .6-.4 .6-.2 .6 .4 .6-.1 .6 .1 .6-.2 .6-.4 .6 .3 .6-.3 .6 .6 .6-.2 .6 0 .6 .1 .6 .2 .6-.4 .6-.2 .6 0 .6 .2 .6-.2 .6 .3 .6 .3 .6-.4 .6 .3 .6-.7 .6 .9 .6 0 .6-.5 .6 .4 .6-.5 .6 0 .6 .3 .6-.3 .6 .4 .6-.1 .6 0 .6 .1 .6-.2 .6 .1 .6 .3 .6-.8 .6 .4 .6 0 .6 0 .6-.3 .6 .6 .6-.2 .6 .2 .6-.1 .6-.6 .6 .2 .6 .2 .6 .1 .6 0 .6-.7 .6 .9 .6-.2 .6 .3 .6-.3 .6-.4 .6 .3 .6-.1 .6 .2 .6-.1 .6-.1 .6 .2 .6-.1 .6 .1" stroke="#008000" stroke-width="1.7" fill="none" stroke-linejoin="round"/>
<path d="M52 88.2l.6-.3 .6 .2 .6-.7 .6 .3 .6 .7 .6-.4 .6 .1 .6-.3 .6 .5 .6 0 .6 0 .6-.3 .6 .1 .6-.3 .6 .3 .6-.6 .6 .5 .6 .2 .6-.3 .6 .4 .6-.3 .6 .4 .6-.5 .6-.1 .6 .1 .6 .9 .6-1.1 .6 .1 .6 .1 .6 .3 .6-.6 .6 .8 .6-.8 .6 .7 .6-.4 .6-.2 .6 .4 .6-.6 .6 .3 .6-.2 .6-.1 .6 0 .6 .2 .6 .5 .6-.5 .6 .3 .6-.7 .6-.3 .6-1.2 .6-2.4 .6-1.8 .2-.2 .4 .8 .6 1.9 .6 2.2 .6 1.3 .6-.5 .6 .5 .6 .1 .6 .1 .6 .1 .6 .1 .6-.2 .6 0 .6-.2 .6-.1 .6 .1 .6 .2 .6 .1 .6-.1 .6 0 .6 .3 .6-.1 .6 0 .6 .6 .6-.6 .6 0 .6 .1 .6-.7 .6 .3 .6 .2 .6 .2 .6-.3 .6 .2 .6 0 .6 .1 .6-.2 .6 .2 .6 .1 .6-.5 .6-.6 .6 .8 .6 .4 .6-.3 .6 .5 .6-.8 .6 .2 .6 .2 .6-.4 .6 .2 .6 .1 .6 .2 .6 .1 .6-.3 .6-.4 .6 .7 .6-.2 .6 .1 .6-.6 .6 .2 .6-.3 .6 .2 .6 .3 .6 0 .6 .1 .6-.6 .6 .5 .6-.3 .6 0 .6-.2 .6-.4 .6-.7 .6-2.3 .6-3.2 .6-5.1 .5-2.2 .1 0 .6 3.9 .6 5.6 .6 2.3 .6 1 .6 .8 .6-.1 .6 .1 .6 .4 .6 0 .6 .1 .6 .1 .6-.2 .6 0 .6 .2 .6-.1 .6 0 .6 .2 .6-.1 .6 .2 .6-.5 .6 .2 .6-.1 .6-.3 .6 .4 .6-.1 .6-.3 .6 .4 .6-.2 .6 .3 .6-.8 .6-.4 .6-.4 .6-1.1 .6-2.2 .6-5.5 .6-7.8 .6-6.4 .1 0 .5 4.5 .6 8.3 .6 6.5 .6 2.8 .6 1.2 .6 .1 .6 .2 .6 0 .6-.3 .6 1 .6-.2 .6 .3 .6 0 .6-.1 .6-.4 .6-.3 .6 .4 .6-.3 .6-.1 .6-.1 .6-.9 .6 .1 .6-1.3 .6-2.1 .6-5.4 .6-12.3 .6-19.1 .6-12.1 0-.2 .6 11.6 .6 18.9 .6 12.4 .6 6.2 .6 2.1 .6 .9 .6 .3 .6 .4 .6 .6 .6 .2 .6 .4 .6-.3 .6 .5 .6-.3 .6 .4 .6 .5 .6-.5 .6-.2 .6-.8 .6-1.1 .6-.7 .2 .2 .4 .1 .6 1.1 .6 1 .6 .3 .6 .4 .6 .4 .6-.5 .6 0 .6 .3 .6-.7 .6 .1 .6 .3 .6 0 .6 .4 .6 0 .6-.3 .6 0 .6-.2 .6 .1 .6 .3 .6 .3 .6-.3 .6 .2 .6-.3 .6-.4 .6 0 .6 .3 .6-.2 .6 .4 .6-.5 .6 .1 .6-.2 .6 .7 .6-.6 .6 .3 .6-.6 .6 .5 .6-.4 .6 0 .6 .4 .6-.4 .6 0 .6-.3 .6-.9 .6-1.1 .6-1.9 .4-.2 .2 .2 .6 1.3 .6 1.6 .6 1 .6 .7 .6-.5 .6 .4 .6 .2 .6-.2 .6 .2 .6 .1 .6-.5 .6 .5 .6-.4 .6-.1 .6 .6 .6-.1 .6 0 .6-.4 .6 0 .6-.1 .6 .2 .6-.3 .6-.4 .6-1.3 .6-1.9 .6-3.7 .6-3.3 .2-.1 .4 1.1 .6 4 .6 3.2 .6 1.7 .6 .1 .6 .8 .6-.1 .6 .1 .6-.3 .6 .5 .6 .2 .6-.3 .6 .5 .6-.3 .6-.2 .6 .2 .6 .1 .6 0 .6-.1 .6 .5 .6-.6 .6-.4 .6 .6 .6 .2 .6 .6 .6-1.1 .6 0 .6 .1 .6 .1 .6-.4 .6 .2 .6 0 .6-.3 .6 .5 .6-.1 .6 0 .6 0 .6 .2 .6-.4 .6 .5 .6-.2 .6 .3 .6-.7 .6 .6 .6-.3 .6-.1 .6-.2 .6-.1 .6 .4 .6 .2 .6 .1 .6-.5 .6 0 .6 .3 .6 0 .6 .2 .6-.2 .6-.3 .6 .5 .6 0 .6-.2 .6-.5 .6 .7 .6-.1 .6-.3 .6 .1 .6 .5 .6-.3 .6 0 .6 0 .6-.2 .6-.4 .6 .3 .6-.2 .6-.7 .6-.4 .6-1.2 .6-2.5 .5-1 .1 .3 .6 1.9 .6 1.7 .6 .7 .6 .9 .6 .1 .6 .3 .6-.2 .6 .4 .6-.4 .6 .3 .6 0 .6 .4 .6-.5 .6 0 .6 .1 .6 0 .6-.1 .6 .3 .6 .4 .6-.5 .6-.4 .6 .6 .6-.1 .6-.1 .6 0 .6-.2 .6-.2 .6 .3 .6 .2 .6-.1 .6-.2 .6 .4 .6 .2 .6-.6 .6 .4 .6-.4 .6 0 .6 .1 .6-.1 .6 .2 .6 .2 .6-.2 .6-.3 .6 .1 .6 0 .6-.5 .6-.6 .6-1.6 .6-.9 .2 0 .4 .3 .6 1.1 .6 1 .6-.6 .6-.4 .6-2.6 .6-3.3 .4-1.8 .2 .7 .6 1.9 .6 3.6 .6 2.6 .6 .1 .6 .6 .6 .1 .6 .7 .6 .1 .6-.3 .6 0 .6-.3 .6 0 .6 .3 .6 .2 .6-.5 .6 .4 .6-.2 .6 .1 .6-.2 .6-.1 .6 .6 .6-.9 .6 .8 .6-.2 .6-.2 .6-.3 .6-.1 .6 0 .6 .1 .6-.5 .6-.5 .6-1.1 .6-2.4 .6-5.3 .6-5.7 .3-1.4 .3 .6 .6 6.3 .6 4.6 .6 3.3 .6 1 .6 .2 .6-1.6 .2 .4 .4 .5 .6 .9 .6-.2 .6 .9 .6 .5 .6-.2 .6-.1 .6 .3 .6 .1 .6-.1 .6 0 .6-.1 .6 .2 .6-.3 .6 .2 .6 .2 .6 .1 .6 0 .6-.3 .6 .4 .6-.7 .6 .4 .6 .3 .6-.1 .6-.1 .6 .1 .6 .5 .6-.9 .6-.2 .6 .2 .6-.3 .6 .3 .6 .3 .6-.2 .6 .3 .6-.2 .6-.3 .6 .4 .6-.3 .6 0 .6-.3 .6 .7 .6-.7 .6 .1 .6 0 .6 0 .6 .3 .6 0 .6-.1 .6 .1 .6-.3 .6-.2 .6 0 .6-.6 .6 .2 .6-.7 .6-1 .6-1.9 .6-5.1 .6-9.5 .6-10.5 .3-1.8 .3 2.4 .6 10.1 .6 9.1 .6 4.9 .6 2.2 .6 1.4 .6 .4 .6-.1 .6 .4 .6 .1 .6-.2 .6 .3 .6-.2 .6 .4 .6-.1 .6-.8 .6-.9 .6-1.3 .6-2.1 .4-.4 .2 .1 .6 1.7 .6 1.9 .6 .7 .6 1.2 .6 0 .6-.4 .6 .5 .6 .2 .6 0 .6 0 .6-.2 .6 .3 .6-.4 .6 0 .6 .2 .6-.1 .6 .1 .6 .1 .6 0 .6 .2 .6 0 .6-.6 .6 .7 .6-.2 .6 .1 .6-.2 .6-.4 .6 .6 .6 0 .6-.2 .6 .6 .6-.7 .6-.3 .6 .2 .6 .6 .6-.3 .6-.4 .6-.1 .6 .6 .6-.3 .6 .2 .6-.2 .6 .2 .6-.2 .6 0 .6 .1 .6-.1 .6-.2 .6 .2 .6 .4 .6-.3 .6 0 .6 .2 .6-.3 .6 .4 .6-.5 .6 .8 .6-.5 .6-.2 .6 .2 .6-.1 .6-.2 .6 .2 .6-.2 .6 .3 .6 .1 .6-.3 .6 .6 .6-.5 .6 .3 .6-.4 .6-.2 .6 .3 .6 .2 .6-.4 .6 .3 .6 0 .6-.1 .6 0 .6-.4 .6 0 .6 .1 .6 .4 .6-.2 .6 .1 .6-.5 .6 .6 .6-.3 .6 .2 .6 .3 .6-.7 .6 0 .6 0 .6 .1 .6 .2 .6-.8 .6-.9 .5-.4 .1 .3 .6 .5 .6 .9 .6 .3 .6 .1 .6-.3 .6 .3 .6-.2 .6 .1 .6-.2 .6 .7 .6-.4 .6 0 .6 .4 .6-.4 .6-.2 .6-.2 .6 .2 .6-.3 .6 .3 .6 0 .6 .2 .6-.8 .6-1.2 .6-2.1 .6-1.6 .1-.3 .5 .9 .6 2.1 .6 1.9 .6 .6 .6 .1 .6 .1 .6 .3 .6-.4 .6 .1 .6 .1 .6 .4 .6-.1 .6-.1 .6-.3 .6-.2 .6 .2 .6-.6 .6-.5 .1-.4 .5 .7 .6 .4 .6 .4 .6-.3 .6 .6 .6 .4 .6 .1 .6-1 .6 .2 .6 .4 .6 .2 .6-.2 .6 .3 .6-.2 .6-.3 .6-.3 .6 .1 .6 .1 .6 0 .6 .4 .6 .4 .6-.3 .6-.2 .6-.2 .6 .7 .6-.6 .6 .3 .6-.6 .6 .1 .6 .5 .6 0 .6 .2 .6-.1 .6-.1 .6 .1 .6-.6 .6 .4 .6-.1 .6-.1 .6 0 .6-.4 .6-.3 .6-.6 .6-.2 0 .3 .6 .1 .6 .5 .6 .3 .6-.2 .6 .4 .6 0 .6-.1 .6-.1 .6 .3 .6-.1 .6-.1 .6 .2" stroke="#000080" stroke-width="1.7" fill="none" stroke-linejoin="round"/>
<text x="0" y="0" font-size="17.0" font-family="'Liberation Serif','Times New Roman',serif" font-weight="bold" transform="translate(426.2 72.9) scale(1 1.06)">1:6</text>
<text x="0" y="0" font-size="17.0" font-family="'Liberation Serif','Times New Roman',serif" font-weight="bold" transform="translate(426.2 130.4) scale(1 1.06)">1:5</text>
<text x="0" y="0" font-size="17.0" font-family="'Liberation Serif','Times New Roman',serif" font-weight="bold" transform="translate(426.2 177.8) scale(1 1.06)">1:4</text>
<text x="0" y="0" font-size="17.0" font-family="'Liberation Serif','Times New Roman',serif" font-weight="bold" transform="translate(426.2 225.2) scale(1 1.06)">1:3</text>
<text x="0" y="0" font-size="17.0" font-family="'Liberation Serif','Times New Roman',serif" font-weight="bold" transform="translate(426.2 272.5) scale(1 1.06)">1:2</text>
<text x="0" y="0" font-size="17.0" font-family="'Liberation Serif','Times New Roman',serif" font-weight="bold" transform="translate(426.2 329) scale(1 1.06)">1:1</text>
<text x="31.7" y="188.5" font-size="17" font-family="'Liberation Serif','Times New Roman',serif" font-weight="bold" text-anchor="middle" fill="#000" transform="rotate(-90 31.7 188.5)">Intensity (a.u.)</text>
<text x="274.4" y="402.3" font-size="17.6" font-family="'Liberation Serif','Times New Roman',serif" font-weight="bold" text-anchor="middle">2&#952; <tspan font-weight="normal">(&#176;)</tspan></text>
<text x="70.4" y="48.8" font-size="23.3" font-family="'Liberation Serif','Times New Roman',serif" font-weight="bold" fill="#000">(a)</text>
<rect x="589.8" y="25.9" width="404.1" height="325.4" fill="none" stroke="#2b2b2b" stroke-width="1.3"/>
<path d="M791.8 25.9V351.3M589.8 188.6H993.9" stroke="#2b2b2b" stroke-width="1.1" fill="none"/>
<path d="M589.8 351.3v6.5M640.3 351.3v6.5M690.8 351.3v6.5M741.3 351.3v6.5M791.8 351.3v6.5M842.4 351.3v6.5M892.9 351.3v6.5M943.4 351.3v6.5M993.9 351.3v6.5M615.1 351.3v3.5M665.6 351.3v3.5M716.1 351.3v3.5M766.6 351.3v3.5M817.1 351.3v3.5M867.6 351.3v3.5M918.1 351.3v3.5M968.6 351.3v3.5" stroke="#2b2b2b" stroke-width="1.3" fill="none"/>
<path d="M589.8 328.1h-6.5M589.8 281.6h-6.5M589.8 235.1h-6.5M589.8 188.6h-6.5M589.8 142.1h-6.5M589.8 95.6h-6.5M589.8 49.1h-6.5M589.8 351.3h-3.5M589.8 304.8h-3.5M589.8 258.3h-3.5M589.8 211.8h-3.5M589.8 165.4h-3.5M589.8 118.9h-3.5M589.8 72.4h-3.5M589.8 25.9h-3.5" stroke="#2b2b2b" stroke-width="1.3" fill="none"/>
<text x="589.8" y="372.8" font-size="13.6" font-family="'Liberation Serif','Times New Roman',serif" text-anchor="middle" fill="#222222">-800,000</text>
<text x="640.3" y="372.8" font-size="13.6" font-family="'Liberation Serif','Times New Roman',serif" text-anchor="middle" fill="#222222">-600,000</text>
<text x="690.8" y="372.8" font-size="13.6" font-family="'Liberation Serif','Times New Roman',serif" text-anchor="middle" fill="#222222">-400,000</text>
<text x="741.3" y="372.8" font-size="13.6" font-family="'Liberation Serif','Times New Roman',serif" text-anchor="middle" fill="#222222">-200,000</text>
<text x="791.8" y="372.8" font-size="13.6" font-family="'Liberation Serif','Times New Roman',serif" text-anchor="middle" fill="#222222">0</text>
<text x="842.4" y="372.8" font-size="13.6" font-family="'Liberation Serif','Times New Roman',serif" text-anchor="middle" fill="#222222">200,000</text>
<text x="892.9" y="372.8" font-size="13.6" font-family="'Liberation Serif','Times New Roman',serif" text-anchor="middle" fill="#222222">400,000</text>
<text x="943.4" y="372.8" font-size="13.6" font-family="'Liberation Serif','Times New Roman',serif" text-anchor="middle" fill="#222222">600,000</text>
<text x="993.9" y="372.8" font-size="13.6" font-family="'Liberation Serif','Times New Roman',serif" text-anchor="middle" fill="#222222">800,000</text>
<text x="578.8" y="332.4" font-size="13.6" font-family="'Liberation Serif','Times New Roman',serif" text-anchor="end" fill="#222222">-60</text>
<text x="578.8" y="285.9" font-size="13.6" font-family="'Liberation Serif','Times New Roman',serif" text-anchor="end" fill="#222222">-40</text>
<text x="578.8" y="239.4" font-size="13.6" font-family="'Liberation Serif','Times New Roman',serif" text-anchor="end" fill="#222222">-20</text>
<text x="578.8" y="192.9" font-size="13.6" font-family="'Liberation Serif','Times New Roman',serif" text-anchor="end" fill="#222222">0</text>
<text x="578.8" y="146.4" font-size="13.6" font-family="'Liberation Serif','Times New Roman',serif" text-anchor="end" fill="#222222">20</text>
<text x="578.8" y="99.9" font-size="13.6" font-family="'Liberation Serif','Times New Roman',serif" text-anchor="end" fill="#222222">40</text>
<text x="578.8" y="53.4" font-size="13.6" font-family="'Liberation Serif','Times New Roman',serif" text-anchor="end" fill="#222222">60</text>
<path d="M589.8 191.5l2.5 0 2.5 0 2.4 0 2.5 0 2.4 0 2.4 0 2.4 0 2.4 0 2.4 0 2.4 0 2.4 0 2.3 0 2.3 0 2.4-.1 2.3 0 2.3 0 2.3 0 2.3 0 2.2 0 2.3 0 2.2 0 2.3 0 2.2 0 2.2 0 2.2 0 2.2-.1 2.1 0 2.2 0 2.1 0 2.2 0 2.1 0 2.1 0 2.1 0 2.1 0 2 0 2.1 0 2-.1 2 0 2.1 0 2 0 2 0 1.9 0 2 0 1.9 0 2-.1 1.9 0 1.9 0 1.9 0 1.9 0 1.8 0 1.9 0 1.8-.1 1.8 0 1.9 0 1.7 0 1.8 0 1.8 0 1.7 0 1.8-.1 1.7 0 1.7 0 1.7 0 1.7 0 1.7-.1 1.6 0 1.6 0 1.6 0 1.7 0 1.5-.1 1.6 0 1.6 0 1.5 0 1.5-.1 1.5 0 1.5 0 1.5 0 1.5-.1 1.4 0 1.4 0 1.4 0 1.4-.1 1.4 0 1.4 0 1.3-.1 1.3 0 1.3 0 1.3 0 1.3-.1 1.3 0 1.2-.1 1.2 0 1.2 0 1.2-.1 1.2 0 1.1 0 1.1-.1 1.1 0 1.1-.1 1.1 0 1 0 1-.1 1 0 1-.1 1 0 .9-.1 .9 0 .9-.1 .9 0 .8-.1 .8 0 .8-.1 .8 0 .8-.1 .7 0 .7 0 .6-.1 .7 0 .6-.1 .6 0 .5-.1 .5 0 .5-.1 .5 0 .4 0 .3-.1 .4 0 .3 0 .2 0 .2-.1 .1 0 .2 0 .2 0 .3 0 .4-.1 .3 0 .4 0 .5-.1 .5 0 .5 0 .5-.1 .6 0 .6-.1 .7 0 .6-.1 .7 0 .7 0 .8-.1 .8 0 .8-.1 .8 0 .8-.1 .9 0 .9-.1 .9 0 .9 0 1-.1 1 0 1-.1 1 0 1 0 1.1-.1 1.1 0 1.1-.1 1.1 0 1.1 0 1.2-.1 1.2 0 1.2 0 1.2-.1 1.2 0 1.3 0 1.3-.1 1.3 0 1.3 0 1.3-.1 1.3 0 1.4 0 1.4 0 1.4-.1 1.4 0 1.4 0 1.4-.1 1.5 0 1.5 0 1.5 0 1.5-.1 1.5 0 1.5 0 1.6 0 1.6 0 1.5-.1 1.7 0 1.6 0 1.6 0 1.6 0 1.7-.1 1.7 0 1.7 0 1.7 0 1.7 0 1.8-.1 1.7 0 1.8 0 1.8 0 1.7 0 1.9 0 1.8 0 1.8-.1 1.9 0 1.8 0 1.9 0 1.9 0 1.9 0 1.9 0 2-.1 1.9 0 2 0 1.9 0 2 0 2 0 2.1 0 2 0 2-.1 2.1 0 2 0 2.1 0 2.1 0 2.1 0 2.1 0 2.2 0 2.1 0 2.2 0 2.1 0 2.2-.1 2.2 0 2.2 0 2.2 0 2.3 0 2.2 0 2.3 0 2.2 0 2.3 0 2.3 0 2.3 0 2.3 0 2.4-.1 2.3 0 2.3 0 2.4 0 2.4 0 2.4 0 2.4 0 2.4 0 2.4 0 2.4 0 2.5 0 2.4 0 2.5 0 2.5 0" stroke="#111" stroke-width="1.0" fill="none"/>
<path d="M589.8 191.5l2.5 0 2.5 0 2.4 0 2.5 0 2.4 0 2.4 0 2.4 0 2.4 0 2.4 0 2.4 0 2.4 0 2.3 0 2.3 0 2.4-.1 2.3 0 2.3 0 2.3 0 2.3 0 2.2 0 2.3 0 2.2 0 2.3 0 2.2 0 2.2 0 2.2 0 2.2-.1 2.1 0 2.2 0 2.1 0 2.2 0 2.1 0 2.1 0 2.1 0 2.1 0 2 0 2.1 0 2-.1 2 0 2.1 0 2 0 2 0 1.9 0 2 0 1.9 0 2-.1 1.9 0 1.9 0 1.9 0 1.9 0 1.8 0 1.9 0 1.8-.1 1.8 0 1.9 0 1.7 0 1.8 0 1.8 0 1.7 0 1.8-.1 1.7 0 1.7 0 1.7 0 1.7 0 1.7-.1 1.6 0 1.6 0 1.6 0 1.7 0 1.5-.1 1.6 0 1.6 0 1.5 0 1.5 0 1.5-.1 1.5 0 1.5 0 1.5 0 1.4-.1 1.4 0 1.4 0 1.4-.1 1.4 0 1.4 0 1.3 0 1.3-.1 1.3 0 1.3 0 1.3-.1 1.3 0 1.2 0 1.2-.1 1.2 0 1.2 0 1.2-.1 1.1 0 1.1 0 1.1-.1 1.1 0 1.1-.1 1 0 1 0 1-.1 1 0 1-.1 .9 0 .9 0 .9-.1 .9 0 .8-.1 .8 0 .8-.1 .8 0 .8-.1 .7 0 .7 0 .6-.1 .7 0 .6-.1 .6 0 .5-.1 .5 0 .5 0 .5-.1 .4 0 .3 0 .4-.1 .3 0 .2 0 .2 0 .1 0 .2-.1 .2 0 .3 0 .4 0 .3-.1 .4 0 .5 0 .5-.1 .5 0 .5-.1 .6 0 .6-.1 .7 0 .6-.1 .7 0 .7 0 .8-.1 .8 0 .8-.1 .8 0 .8-.1 .9 0 .9-.1 .9 0 .9-.1 1 0 1-.1 1 0 1-.1 1 0 1.1 0 1.1-.1 1.1 0 1.1-.1 1.1 0 1.2 0 1.2-.1 1.2 0 1.2 0 1.2-.1 1.3 0 1.3-.1 1.3 0 1.3 0 1.3 0 1.3-.1 1.4 0 1.4 0 1.4-.1 1.4 0 1.4 0 1.4 0 1.5-.1 1.5 0 1.5 0 1.5 0 1.5-.1 1.5 0 1.6 0 1.6 0 1.5-.1 1.7 0 1.6 0 1.6 0 1.6 0 1.7-.1 1.7 0 1.7 0 1.7 0 1.7 0 1.8-.1 1.7 0 1.8 0 1.8 0 1.7 0 1.9 0 1.8 0 1.8-.1 1.9 0 1.8 0 1.9 0 1.9 0 1.9 0 1.9 0 2-.1 1.9 0 2 0 1.9 0 2 0 2 0 2.1 0 2 0 2-.1 2.1 0 2 0 2.1 0 2.1 0 2.1 0 2.1 0 2.2 0 2.1 0 2.2 0 2.1 0 2.2-.1 2.2 0 2.2 0 2.2 0 2.3 0 2.2 0 2.3 0 2.2 0 2.3 0 2.3 0 2.3 0 2.3 0 2.4-.1 2.3 0 2.3 0 2.4 0 2.4 0 2.4 0 2.4 0 2.4 0 2.4 0 2.4 0 2.5 0 2.4 0 2.5 0 2.5 0" stroke="#111" stroke-width="1.0" fill="none"/>
<path d="M589.8 264.2l2.5 0 2.5-.1 2.4 0 2.5-.1 2.4 0 2.4-.1 2.4 0 2.4-.1 2.4-.1 2.4 0 2.4-.1 2.3-.1 2.3 0 2.4-.1 2.3-.1 2.3 0 2.3-.1 2.3-.1 2.2-.1 2.3 0 2.2-.1 2.3-.1 2.2-.1 2.2-.1 2.2-.1 2.2 0 2.1-.1 2.2-.1 2.1-.1 2.2-.1 2.1-.1 2.1-.1 2.1-.1 2.1-.1 2-.1 2.1-.2 2-.1 2-.1 2.1-.1 2-.1 2-.2 1.9-.1 2-.1 1.9-.2 2-.1 1.9-.1 1.9-.2 1.9-.1 1.9-.2 1.8-.2 1.9-.1 1.8-.2 1.8-.2 1.9-.2 1.7-.2 1.8-.1 1.8-.2 1.7-.2 1.8-.3 1.7-.2 1.7-.2 1.7-.2 1.7-.3 1.7-.2 1.6-.3 1.6-.3 1.6-.2 1.7-.3 1.5-.3 1.6-.3 1.6-.4 1.5-.3 1.5-.4 1.5-.3 1.5-.4 1.5-.4 1.5-.4 1.4-.5 1.4-.4 1.4-.5 1.4-.5 1.4-.6 1.4-.5 1.3-.6 1.3-.6 1.3-.7 1.3-.6 1.3-.8 1.3-.7 1.2-.8 1.2-.9 1.2-.9 1.2-.9 1.2-1 1.1-1.1 1.1-1.1 1.1-1.2 1.1-1.2 1.1-1.4 1-1.4 1-1.5 1-1.6 1-1.7 1-1.8 .9-1.9 .9-2 .9-2.2 .9-2.3 .8-2.5 .8-2.7 .8-2.8 .8-3 .8-3.2 .7-3.4 .7-3.6 .6-3.9 .7-4.1 .6-4 .6-3.4 .5-3 .5-2.6 .5-2.3 .5-2 .4-1.6 .3-1.5 .4-1.2 .3-1 .2-.8 .2-.6 0-.3 .1-.3 .2-.5 .2-.7 .3-.9 .4-1 .3-1 .4-1.1 .5-1.2 .5-1.2 .5-1.2 .5-1.2 .6-1.2 .6-1.2 .7-1.2 .6-1.2 .7-1.1 .7-1.1 .8-1.1 .8-1.1 .8-1 .8-1 .8-1 .9-.9 .9-.9 .9-.9 .9-.8 1-.8 1-.8 1-.8 1-.7 1-.7 1.1-.7 1.1-.6 1.1-.7 1.1-.6 1.1-.6 1.2-.6 1.2-.5 1.2-.6 1.2-.5 1.2-.5 1.3-.5 1.3-.4 1.3-.5 1.3-.5 1.3-.4 1.3-.4 1.4-.4 1.4-.4 1.4-.4 1.4-.4 1.4-.4 1.4-.3 1.5-.4 1.5-.3 1.5-.3 1.5-.3 1.5-.3 1.5-.3 1.6-.3 1.6-.3 1.5-.3 1.7-.3 1.6-.2 1.6-.3 1.6-.2 1.7-.3 1.7-.2 1.7-.2 1.7-.2 1.7-.3 1.8-.2 1.7-.2 1.8-.2 1.8-.2 1.7-.1 1.9-.2 1.8-.2 1.8-.2 1.9-.1 1.8-.2 1.9-.2 1.9-.1 1.9-.2 1.9-.1 2-.1 1.9-.2 2-.1 1.9-.1 2-.2 2-.1 2.1-.1 2-.1 2-.1 2.1-.2 2-.1 2.1-.1 2.1-.1 2.1-.1 2.1-.1 2.2-.1 2.1-.1 2.2-.1 2.1-.1 2.2 0 2.2-.1 2.2-.1 2.2-.1 2.3-.1 2.2-.1 2.3 0 2.2-.1 2.3-.1 2.3-.1 2.3 0 2.3-.1 2.4-.1 2.3 0 2.3-.1 2.4-.1 2.4 0 2.4-.1 2.4-.1 2.4 0 2.4-.1 2.4 0 2.5-.1 2.4 0 2.5-.1 2.5 0" stroke="#0000ff" stroke-width="1.3" fill="none"/>
<path d="M589.8 264.2l2.5 0 2.5-.1 2.4 0 2.5-.1 2.4 0 2.4-.1 2.4 0 2.4-.1 2.4-.1 2.4 0 2.4-.1 2.3-.1 2.3 0 2.4-.1 2.3-.1 2.3 0 2.3-.1 2.3-.1 2.2-.1 2.3 0 2.2-.1 2.3-.1 2.2-.1 2.2-.1 2.2-.1 2.2 0 2.1-.1 2.2-.1 2.1-.1 2.2-.1 2.1-.1 2.1-.1 2.1-.1 2.1-.1 2-.1 2.1-.2 2-.1 2-.1 2.1-.1 2-.1 2-.2 1.9-.1 2-.1 1.9-.2 2-.1 1.9-.1 1.9-.2 1.9-.1 1.9-.2 1.8-.2 1.9-.1 1.8-.2 1.8-.2 1.9-.2 1.7-.1 1.8-.2 1.8-.2 1.7-.2 1.8-.2 1.7-.3 1.7-.2 1.7-.2 1.7-.2 1.7-.3 1.6-.2 1.6-.3 1.6-.2 1.7-.3 1.5-.3 1.6-.3 1.6-.3 1.5-.3 1.5-.3 1.5-.3 1.5-.3 1.5-.3 1.5-.4 1.4-.3 1.4-.4 1.4-.4 1.4-.4 1.4-.4 1.4-.4 1.3-.4 1.3-.4 1.3-.5 1.3-.5 1.3-.4 1.3-.5 1.2-.5 1.2-.5 1.2-.6 1.2-.5 1.2-.6 1.1-.6 1.1-.6 1.1-.7 1.1-.6 1.1-.7 1-.7 1-.7 1-.8 1-.8 1-.8 .9-.8 .9-.9 .9-.9 .9-.9 .8-1 .8-1 .8-1 .8-1.1 .8-1.1 .7-1.1 .7-1.1 .6-1.2 .7-1.2 .6-1.2 .6-1.2 .5-1.2 .5-1.2 .5-1.2 .5-1.2 .4-1.1 .3-1 .4-1 .3-.9 .2-.7 .2-.5 0-.3 .1-.3 .2-.6 .2-.8 .3-1 .4-1.2 .3-1.5 .4-1.6 .5-2 .5-2.3 .5-2.6 .5-3 .6-3.4 .6-4 .7-4.1 .6-3.9 .7-3.6 .7-3.4 .8-3.2 .8-3 .8-2.8 .8-2.7 .8-2.5 .9-2.3 .9-2.2 .9-2 .9-1.9 1-1.8 1-1.7 1-1.6 1-1.5 1-1.4 1.1-1.4 1.1-1.2 1.1-1.2 1.1-1.1 1.1-1.1 1.2-1 1.2-.9 1.2-.9 1.2-.9 1.2-.8 1.3-.7 1.3-.8 1.3-.6 1.3-.7 1.3-.6 1.3-.6 1.4-.5 1.4-.6 1.4-.5 1.4-.5 1.4-.4 1.4-.5 1.5-.4 1.5-.4 1.5-.4 1.5-.3 1.5-.4 1.5-.3 1.6-.4 1.6-.3 1.5-.3 1.7-.3 1.6-.2 1.6-.3 1.6-.3 1.7-.2 1.7-.3 1.7-.2 1.7-.2 1.7-.2 1.8-.3 1.7-.2 1.8-.2 1.8-.1 1.7-.2 1.9-.2 1.8-.2 1.8-.2 1.9-.1 1.8-.2 1.9-.2 1.9-.1 1.9-.2 1.9-.1 2-.1 1.9-.2 2-.1 1.9-.1 2-.2 2-.1 2.1-.1 2-.1 2-.1 2.1-.2 2-.1 2.1-.1 2.1-.1 2.1-.1 2.1-.1 2.2-.1 2.1-.1 2.2-.1 2.1-.1 2.2 0 2.2-.1 2.2-.1 2.2-.1 2.3-.1 2.2-.1 2.3 0 2.2-.1 2.3-.1 2.3-.1 2.3 0 2.3-.1 2.4-.1 2.3 0 2.3-.1 2.4-.1 2.4 0 2.4-.1 2.4-.1 2.4 0 2.4-.1 2.4 0 2.5-.1 2.4 0 2.5-.1 2.5 0" stroke="#0000ff" stroke-width="1.3" fill="none"/>
<path d="M589.8 279.6l2.5-.1 2.5 0 2.4-.1 2.5-.1 2.4 0 2.4-.1 2.4-.1 2.4 0 2.4-.1 2.4-.1 2.4-.1 2.3-.1 2.3 0 2.4-.1 2.3-.1 2.3-.1 2.3-.1 2.3-.1 2.2-.1 2.3-.1 2.2 0 2.3-.1 2.2-.1 2.2-.1 2.2-.2 2.2-.1 2.1-.1 2.2-.1 2.1-.1 2.2-.1 2.1-.1 2.1-.2 2.1-.1 2.1-.1 2-.1 2.1-.2 2-.1 2-.2 2.1-.1 2-.1 2-.2 1.9-.2 2-.1 1.9-.2 2-.2 1.9-.1 1.9-.2 1.9-.2 1.9-.2 1.8-.2 1.9-.2 1.8-.2 1.8-.2 1.9-.2 1.7-.2 1.8-.3 1.8-.2 1.7-.3 1.8-.2 1.7-.3 1.7-.2 1.7-.3 1.7-.3 1.7-.3 1.6-.3 1.6-.4 1.6-.3 1.7-.3 1.5-.4 1.6-.4 1.6-.4 1.5-.4 1.5-.4 1.5-.4 1.5-.5 1.5-.5 1.5-.5 1.4-.5 1.4-.6 1.4-.6 1.4-.6 1.4-.6 1.4-.7 1.3-.7 1.3-.7 1.3-.8 1.3-.8 1.3-.9 1.3-.9 1.2-1 1.2-1 1.2-1.1 1.2-1.1 1.2-1.2 1.1-1.3 1.1-1.3 1.1-1.4 1.1-1.5 1.1-1.6 1-1.7 1-1.9 1-1.9 1-2 1-2.2 .9-2.3 .9-2.5 .9-2.6 .9-2.8 .8-3 .8-3.1 .8-3.4 .8-3.7 .8-3.8 .7-4.1 .7-4.4 .6-4.6 .7-4.9 .6-4.8 .6-4.2 .5-3.6 .5-3.1 .5-2.8 .5-2.3 .4-2 .3-1.8 .4-1.5 .3-1.2 .2-.9 .2-.7 0-.4 .1-.3 .2-.7 .2-.8 .3-1.1 .4-1.2 .3-1.2 .4-1.4 .5-1.4 .5-1.4 .5-1.4 .5-1.5 .6-1.4 .6-1.5 .7-1.4 .6-1.4 .7-1.4 .7-1.3 .8-1.3 .8-1.3 .8-1.2 .8-1.2 .8-1.2 .9-1.1 .9-1.1 .9-1.1 .9-1 1-1 1-.9 1-.9 1-.9 1-.8 1.1-.9 1.1-.7 1.1-.8 1.1-.8 1.1-.7 1.2-.7 1.2-.6 1.2-.7 1.2-.6 1.2-.6 1.3-.6 1.3-.6 1.3-.5 1.3-.6 1.3-.5 1.3-.5 1.4-.5 1.4-.5 1.4-.4 1.4-.5 1.4-.4 1.4-.5 1.5-.4 1.5-.4 1.5-.4 1.5-.4 1.5-.3 1.5-.4 1.6-.3 1.6-.4 1.5-.3 1.7-.3 1.6-.4 1.6-.3 1.6-.3 1.7-.2 1.7-.3 1.7-.3 1.7-.3 1.7-.2 1.8-.3 1.7-.2 1.8-.2 1.8-.3 1.7-.2 1.9-.2 1.8-.2 1.8-.2 1.9-.2 1.8-.2 1.9-.2 1.9-.2 1.9-.2 1.9-.1 2-.2 1.9-.2 2-.1 1.9-.2 2-.2 2-.1 2.1-.1 2-.2 2-.1 2.1-.2 2-.1 2.1-.1 2.1-.1 2.1-.2 2.1-.1 2.2-.1 2.1-.1 2.2-.1 2.1-.1 2.2-.1 2.2-.2 2.2-.1 2.2-.1 2.3-.1 2.2 0 2.3-.1 2.2-.1 2.3-.1 2.3-.1 2.3-.1 2.3-.1 2.4-.1 2.3 0 2.3-.1 2.4-.1 2.4-.1 2.4-.1 2.4 0 2.4-.1 2.4-.1 2.4 0 2.5-.1 2.4-.1 2.5 0 2.5-.1" stroke="#ff0000" stroke-width="1.3" fill="none"/>
<path d="M589.8 279.6l2.5-.1 2.5 0 2.4-.1 2.5-.1 2.4 0 2.4-.1 2.4-.1 2.4 0 2.4-.1 2.4-.1 2.4-.1 2.3-.1 2.3 0 2.4-.1 2.3-.1 2.3-.1 2.3-.1 2.3-.1 2.2-.1 2.3-.1 2.2 0 2.3-.1 2.2-.1 2.2-.1 2.2-.2 2.2-.1 2.1-.1 2.2-.1 2.1-.1 2.2-.1 2.1-.1 2.1-.2 2.1-.1 2.1-.1 2-.1 2.1-.2 2-.1 2-.2 2.1-.1 2-.1 2-.2 1.9-.2 2-.1 1.9-.2 2-.2 1.9-.1 1.9-.2 1.9-.2 1.9-.2 1.8-.2 1.9-.2 1.8-.2 1.8-.2 1.9-.2 1.7-.2 1.8-.3 1.8-.2 1.7-.2 1.8-.3 1.7-.2 1.7-.3 1.7-.3 1.7-.3 1.7-.2 1.6-.3 1.6-.3 1.6-.4 1.7-.3 1.5-.3 1.6-.4 1.6-.3 1.5-.4 1.5-.3 1.5-.4 1.5-.4 1.5-.4 1.5-.4 1.4-.5 1.4-.4 1.4-.5 1.4-.4 1.4-.5 1.4-.5 1.3-.5 1.3-.5 1.3-.6 1.3-.5 1.3-.6 1.3-.6 1.2-.6 1.2-.6 1.2-.7 1.2-.6 1.2-.7 1.1-.7 1.1-.8 1.1-.8 1.1-.7 1.1-.9 1-.8 1-.9 1-.9 1-.9 1-1 .9-1 .9-1.1 .9-1.1 .9-1.1 .8-1.2 .8-1.2 .8-1.2 .8-1.3 .8-1.3 .7-1.3 .7-1.4 .6-1.4 .7-1.4 .6-1.5 .6-1.4 .5-1.5 .5-1.4 .5-1.4 .5-1.4 .4-1.4 .3-1.2 .4-1.2 .3-1.1 .2-.8 .2-.7 0-.3 .1-.4 .2-.7 .2-.9 .3-1.2 .4-1.5 .3-1.8 .4-2 .5-2.3 .5-2.8 .5-3.1 .5-3.6 .6-4.2 .6-4.8 .7-4.9 .6-4.6 .7-4.4 .7-4.1 .8-3.8 .8-3.7 .8-3.4 .8-3.1 .8-3 .9-2.8 .9-2.6 .9-2.5 .9-2.3 1-2.2 1-2 1-1.9 1-1.9 1-1.7 1.1-1.6 1.1-1.5 1.1-1.4 1.1-1.3 1.1-1.3 1.2-1.2 1.2-1.1 1.2-1.1 1.2-1 1.2-1 1.3-.9 1.3-.9 1.3-.8 1.3-.8 1.3-.7 1.3-.7 1.4-.7 1.4-.6 1.4-.6 1.4-.6 1.4-.6 1.4-.5 1.5-.5 1.5-.5 1.5-.5 1.5-.4 1.5-.4 1.5-.4 1.6-.4 1.6-.4 1.5-.4 1.7-.3 1.6-.3 1.6-.4 1.6-.3 1.7-.3 1.7-.3 1.7-.3 1.7-.2 1.7-.3 1.8-.2 1.7-.3 1.8-.2 1.8-.3 1.7-.2 1.9-.2 1.8-.2 1.8-.2 1.9-.2 1.8-.2 1.9-.2 1.9-.2 1.9-.2 1.9-.1 2-.2 1.9-.2 2-.1 1.9-.2 2-.2 2-.1 2.1-.1 2-.2 2-.1 2.1-.2 2-.1 2.1-.1 2.1-.1 2.1-.2 2.1-.1 2.2-.1 2.1-.1 2.2-.1 2.1-.1 2.2-.1 2.2-.2 2.2-.1 2.2-.1 2.3-.1 2.2 0 2.3-.1 2.2-.1 2.3-.1 2.3-.1 2.3-.1 2.3-.1 2.4-.1 2.3 0 2.3-.1 2.4-.1 2.4-.1 2.4-.1 2.4 0 2.4-.1 2.4-.1 2.4 0 2.5-.1 2.4-.1 2.5 0 2.5-.1" stroke="#ff0000" stroke-width="1.3" fill="none"/>
<path d="M589.8 298.7l2.5-.1 2.5-.1 2.4-.1 2.5 0 2.4-.1 2.4-.1 2.4-.1 2.4-.1 2.4-.1 2.4-.1 2.4-.1 2.3-.1 2.3-.1 2.4-.1 2.3-.1 2.3-.1 2.3-.1 2.3-.1 2.2-.1 2.3-.1 2.2-.1 2.3-.1 2.2-.2 2.2-.1 2.2-.1 2.2-.1 2.1-.2 2.2-.1 2.1-.1 2.2-.2 2.1-.1 2.1-.2 2.1-.1 2.1-.2 2-.1 2.1-.2 2-.2 2-.1 2.1-.2 2-.2 2-.2 1.9-.2 2-.2 1.9-.2 2-.2 1.9-.2 1.9-.2 1.9-.2 1.9-.3 1.8-.2 1.9-.2 1.8-.3 1.8-.2 1.9-.3 1.7-.3 1.8-.3 1.8-.2 1.7-.3 1.8-.3 1.7-.4 1.7-.3 1.7-.3 1.7-.4 1.7-.3 1.6-.4 1.6-.4 1.6-.4 1.7-.4 1.5-.5 1.6-.4 1.6-.5 1.5-.5 1.5-.5 1.5-.5 1.5-.6 1.5-.6 1.5-.6 1.4-.6 1.4-.7 1.4-.7 1.4-.7 1.4-.8 1.4-.8 1.3-.8 1.3-.9 1.3-.9 1.3-1 1.3-1 1.3-1.1 1.2-1.1 1.2-1.2 1.2-1.3 1.2-1.3 1.2-1.4 1.1-1.5 1.1-1.6 1.1-1.7 1.1-1.7 1.1-1.9 1-2 1-2.1 1-2.2 1-2.4 1-2.5 .9-2.7 .9-2.8 .9-3.1 .9-3.2 .8-3.4 .8-3.6 .8-3.9 .8-4.1 .8-4.3 .7-4.6 .7-4.9 .6-5.2 .7-5.5 .6-5.8 .6-5.4 .5-4.7 .5-4.1 .5-3.5 .5-3 .4-2.7 .3-2.2 .4-1.9 .3-1.6 .2-1.2 .2-.9 0-.4 .1-.4 .2-.9 .2-1.1 .3-1.4 .4-1.5 .3-1.6 .4-1.7 .5-1.8 .5-1.8 .5-1.8 .5-1.9 .6-1.9 .6-1.8 .7-1.8 .6-1.8 .7-1.7 .7-1.7 .8-1.7 .8-1.6 .8-1.5 .8-1.5 .8-1.5 .9-1.4 .9-1.4 .9-1.3 .9-1.3 1-1.2 1-1.2 1-1.1 1-1.1 1-1.1 1.1-1 1.1-1 1.1-1 1.1-.9 1.1-.9 1.2-.8 1.2-.9 1.2-.8 1.2-.7 1.2-.8 1.3-.7 1.3-.7 1.3-.7 1.3-.7 1.3-.6 1.3-.6 1.4-.7 1.4-.5 1.4-.6 1.4-.6 1.4-.5 1.4-.5 1.5-.5 1.5-.5 1.5-.5 1.5-.5 1.5-.4 1.5-.5 1.6-.4 1.6-.4 1.5-.4 1.7-.4 1.6-.4 1.6-.4 1.6-.3 1.7-.4 1.7-.3 1.7-.3 1.7-.4 1.7-.3 1.8-.3 1.7-.3 1.8-.3 1.8-.2 1.7-.3 1.9-.3 1.8-.2 1.8-.3 1.9-.2 1.8-.2 1.9-.3 1.9-.2 1.9-.2 1.9-.2 2-.2 1.9-.2 2-.2 1.9-.2 2-.2 2-.2 2.1-.2 2-.1 2-.2 2.1-.2 2-.1 2.1-.2 2.1-.1 2.1-.2 2.1-.1 2.2-.2 2.1-.1 2.2-.1 2.1-.2 2.2-.1 2.2-.1 2.2-.1 2.2-.2 2.3-.1 2.2-.1 2.3-.1 2.2-.1 2.3-.1 2.3-.1 2.3-.1 2.3-.1 2.4-.1 2.3-.1 2.3-.1 2.4-.1 2.4-.1 2.4-.1 2.4-.1 2.4-.1 2.4-.1 2.4-.1 2.5 0 2.4-.1 2.5-.1 2.5-.1" stroke="#ff00ff" stroke-width="1.3" fill="none"/>
<path d="M589.8 298.7l2.5-.1 2.5-.1 2.4-.1 2.5 0 2.4-.1 2.4-.1 2.4-.1 2.4-.1 2.4-.1 2.4-.1 2.4-.1 2.3-.1 2.3-.1 2.4-.1 2.3-.1 2.3-.1 2.3-.1 2.3-.1 2.2-.1 2.3-.1 2.2-.1 2.3-.1 2.2-.2 2.2-.1 2.2-.1 2.2-.1 2.1-.2 2.2-.1 2.1-.1 2.2-.2 2.1-.1 2.1-.2 2.1-.1 2.1-.2 2-.1 2.1-.2 2-.2 2-.1 2.1-.2 2-.2 2-.2 1.9-.2 2-.2 1.9-.2 2-.2 1.9-.2 1.9-.2 1.9-.2 1.9-.3 1.8-.2 1.9-.2 1.8-.3 1.8-.2 1.9-.3 1.7-.3 1.8-.2 1.8-.3 1.7-.3 1.8-.3 1.7-.3 1.7-.4 1.7-.3 1.7-.3 1.7-.4 1.6-.3 1.6-.4 1.6-.4 1.7-.4 1.5-.4 1.6-.4 1.6-.4 1.5-.5 1.5-.4 1.5-.5 1.5-.5 1.5-.5 1.5-.5 1.4-.5 1.4-.5 1.4-.6 1.4-.6 1.4-.5 1.4-.7 1.3-.6 1.3-.6 1.3-.7 1.3-.7 1.3-.7 1.3-.7 1.2-.8 1.2-.7 1.2-.8 1.2-.9 1.2-.8 1.1-.9 1.1-.9 1.1-1 1.1-1 1.1-1 1-1.1 1-1.1 1-1.1 1-1.2 1-1.2 .9-1.3 .9-1.3 .9-1.4 .9-1.4 .8-1.5 .8-1.5 .8-1.5 .8-1.6 .8-1.7 .7-1.7 .7-1.7 .6-1.8 .7-1.8 .6-1.8 .6-1.9 .5-1.9 .5-1.8 .5-1.8 .5-1.8 .4-1.7 .3-1.6 .4-1.5 .3-1.4 .2-1.1 .2-.9 0-.4 .1-.4 .2-.9 .2-1.2 .3-1.6 .4-1.9 .3-2.2 .4-2.7 .5-3 .5-3.5 .5-4.1 .5-4.7 .6-5.4 .6-5.8 .7-5.5 .6-5.2 .7-4.9 .7-4.6 .8-4.3 .8-4.1 .8-3.9 .8-3.6 .8-3.4 .9-3.2 .9-3.1 .9-2.8 .9-2.7 1-2.5 1-2.4 1-2.2 1-2.1 1-2 1.1-1.9 1.1-1.7 1.1-1.7 1.1-1.6 1.1-1.5 1.2-1.4 1.2-1.3 1.2-1.3 1.2-1.2 1.2-1.1 1.3-1.1 1.3-1 1.3-1 1.3-.9 1.3-.9 1.3-.8 1.4-.8 1.4-.8 1.4-.7 1.4-.7 1.4-.7 1.4-.6 1.5-.6 1.5-.6 1.5-.6 1.5-.5 1.5-.5 1.5-.5 1.6-.5 1.6-.4 1.5-.5 1.7-.4 1.6-.4 1.6-.4 1.6-.4 1.7-.3 1.7-.4 1.7-.3 1.7-.3 1.7-.4 1.8-.3 1.7-.3 1.8-.2 1.8-.3 1.7-.3 1.9-.3 1.8-.2 1.8-.3 1.9-.2 1.8-.2 1.9-.3 1.9-.2 1.9-.2 1.9-.2 2-.2 1.9-.2 2-.2 1.9-.2 2-.2 2-.2 2.1-.2 2-.1 2-.2 2.1-.2 2-.1 2.1-.2 2.1-.1 2.1-.2 2.1-.1 2.2-.2 2.1-.1 2.2-.1 2.1-.2 2.2-.1 2.2-.1 2.2-.1 2.2-.2 2.3-.1 2.2-.1 2.3-.1 2.2-.1 2.3-.1 2.3-.1 2.3-.1 2.3-.1 2.4-.1 2.3-.1 2.3-.1 2.4-.1 2.4-.1 2.4-.1 2.4-.1 2.4-.1 2.4-.1 2.4-.1 2.5 0 2.4-.1 2.5-.1 2.5-.1" stroke="#ff00ff" stroke-width="1.3" fill="none"/>
<path d="M589.8 326.7l2.5-.1 2.5-.1 2.4-.1 2.5-.1 2.4-.1 2.4-.1 2.4-.1 2.4-.1 2.4-.2 2.4-.1 2.4-.1 2.3-.1 2.3-.1 2.4-.2 2.3-.1 2.3-.1 2.3-.2 2.3-.1 2.2-.1 2.3-.2 2.2-.1 2.3-.2 2.2-.1 2.2-.2 2.2-.1 2.2-.2 2.1-.2 2.2-.1 2.1-.2 2.2-.2 2.1-.2 2.1-.2 2.1-.2 2.1-.1 2-.2 2.1-.3 2-.2 2-.2 2.1-.2 2-.2 2-.3 1.9-.2 2-.2 1.9-.3 2-.3 1.9-.2 1.9-.3 1.9-.3 1.9-.3 1.8-.3 1.9-.3 1.8-.3 1.8-.3 1.9-.3 1.7-.4 1.8-.3 1.8-.4 1.7-.4 1.8-.4 1.7-.4 1.7-.4 1.7-.4 1.7-.4 1.7-.5 1.6-.5 1.6-.5 1.6-.5 1.7-.5 1.5-.6 1.6-.5 1.6-.6 1.5-.6 1.5-.7 1.5-.6 1.5-.7 1.5-.8 1.5-.7 1.4-.8 1.4-.9 1.4-.8 1.4-.9 1.4-1 1.4-1 1.3-1 1.3-1.1 1.3-1.2 1.3-1.2 1.3-1.3 1.3-1.3 1.2-1.4 1.2-1.5 1.2-1.6 1.2-1.7 1.2-1.7 1.1-1.9 1.1-1.9 1.1-2.1 1.1-2.2 1.1-2.3 1-2.4 1-2.6 1-2.8 1-2.9 1-3.1 .9-3.3 .9-3.4 .9-3.7 .9-3.9 .8-4.2 .8-4.4 .8-4.7 .8-5 .8-5.3 .7-5.5 .7-6 .6-6.2 .7-6.6 .6-6.9 .6-6.9 .5-6.1 .5-5.3 .5-4.5 .5-4 .4-3.3 .3-3 .4-2.4 .3-2 .2-1.6 .2-1.2 0-.5 .1-.6 .2-1.1 .2-1.4 .3-1.7 .4-2 .3-2.1 .4-2.2 .5-2.3 .5-2.3 .5-2.4 .5-2.4 .6-2.4 .6-2.3 .7-2.3 .6-2.3 .7-2.3 .7-2.1 .8-2.2 .8-2 .8-2 .8-2 .8-1.8 .9-1.9 .9-1.7 .9-1.7 .9-1.6 1-1.6 1-1.5 1-1.5 1-1.4 1-1.3 1.1-1.3 1.1-1.3 1.1-1.2 1.1-1.2 1.1-1.1 1.2-1.1 1.2-1.1 1.2-1 1.2-1 1.2-1 1.3-.9 1.3-.9 1.3-.9 1.3-.8 1.3-.8 1.3-.8 1.4-.8 1.4-.7 1.4-.8 1.4-.7 1.4-.7 1.4-.6 1.5-.7 1.5-.6 1.5-.6 1.5-.6 1.5-.6 1.5-.5 1.6-.6 1.6-.5 1.5-.5 1.7-.5 1.6-.5 1.6-.4 1.6-.5 1.7-.4 1.7-.5 1.7-.4 1.7-.4 1.7-.4 1.8-.3 1.7-.4 1.8-.4 1.8-.3 1.7-.4 1.9-.3 1.8-.3 1.8-.3 1.9-.3 1.8-.3 1.9-.3 1.9-.3 1.9-.3 1.9-.2 2-.3 1.9-.3 2-.2 1.9-.2 2-.3 2-.2 2.1-.2 2-.2 2-.2 2.1-.3 2-.2 2.1-.1 2.1-.2 2.1-.2 2.1-.2 2.2-.2 2.1-.2 2.2-.1 2.1-.2 2.2-.2 2.2-.1 2.2-.2 2.2-.1 2.3-.2 2.2-.1 2.3-.2 2.2-.1 2.3-.1 2.3-.2 2.3-.1 2.3-.1 2.4-.2 2.3-.1 2.3-.1 2.4-.1 2.4-.1 2.4-.2 2.4-.1 2.4-.1 2.4-.1 2.4-.1 2.5-.1 2.4-.1 2.5-.1 2.5-.1" stroke="#008000" stroke-width="1.3" fill="none"/>
<path d="M589.8 326.7l2.5-.1 2.5-.1 2.4-.1 2.5-.1 2.4-.1 2.4-.1 2.4-.1 2.4-.1 2.4-.2 2.4-.1 2.4-.1 2.3-.1 2.3-.1 2.4-.2 2.3-.1 2.3-.1 2.3-.2 2.3-.1 2.2-.1 2.3-.2 2.2-.1 2.3-.2 2.2-.1 2.2-.2 2.2-.1 2.2-.2 2.1-.2 2.2-.1 2.1-.2 2.2-.2 2.1-.2 2.1-.2 2.1-.2 2.1-.1 2-.2 2.1-.3 2-.2 2-.2 2.1-.2 2-.2 2-.3 1.9-.2 2-.2 1.9-.3 2-.3 1.9-.2 1.9-.3 1.9-.3 1.9-.3 1.8-.3 1.9-.3 1.8-.3 1.8-.3 1.9-.3 1.7-.4 1.8-.3 1.8-.4 1.7-.4 1.8-.3 1.7-.4 1.7-.4 1.7-.4 1.7-.5 1.7-.4 1.6-.5 1.6-.4 1.6-.5 1.7-.5 1.5-.5 1.6-.5 1.6-.6 1.5-.5 1.5-.6 1.5-.6 1.5-.6 1.5-.6 1.5-.7 1.4-.6 1.4-.7 1.4-.7 1.4-.8 1.4-.7 1.4-.8 1.3-.8 1.3-.8 1.3-.8 1.3-.9 1.3-.9 1.3-.9 1.2-1 1.2-1 1.2-1 1.2-1.1 1.2-1.1 1.1-1.1 1.1-1.2 1.1-1.2 1.1-1.3 1.1-1.3 1-1.3 1-1.4 1-1.5 1-1.5 1-1.6 .9-1.6 .9-1.7 .9-1.7 .9-1.9 .8-1.8 .8-2 .8-2 .8-2 .8-2.2 .7-2.1 .7-2.3 .6-2.3 .7-2.3 .6-2.3 .6-2.4 .5-2.4 .5-2.4 .5-2.3 .5-2.3 .4-2.2 .3-2.1 .4-2 .3-1.7 .2-1.4 .2-1.1 0-.6 .1-.5 .2-1.2 .2-1.6 .3-2 .4-2.4 .3-3 .4-3.3 .5-4 .5-4.5 .5-5.3 .5-6.1 .6-6.9 .6-6.9 .7-6.6 .6-6.2 .7-6 .7-5.5 .8-5.3 .8-5 .8-4.7 .8-4.4 .8-4.2 .9-3.9 .9-3.7 .9-3.4 .9-3.3 1-3.1 1-2.9 1-2.8 1-2.6 1-2.4 1.1-2.3 1.1-2.2 1.1-2.1 1.1-1.9 1.1-1.9 1.2-1.7 1.2-1.7 1.2-1.6 1.2-1.5 1.2-1.4 1.3-1.3 1.3-1.3 1.3-1.2 1.3-1.2 1.3-1.1 1.3-1 1.4-1 1.4-1 1.4-.9 1.4-.8 1.4-.9 1.4-.8 1.5-.7 1.5-.8 1.5-.7 1.5-.6 1.5-.7 1.5-.6 1.6-.6 1.6-.5 1.5-.6 1.7-.5 1.6-.5 1.6-.5 1.6-.5 1.7-.5 1.7-.4 1.7-.4 1.7-.4 1.7-.4 1.8-.4 1.7-.4 1.8-.4 1.8-.3 1.7-.4 1.9-.3 1.8-.3 1.8-.3 1.9-.3 1.8-.3 1.9-.3 1.9-.3 1.9-.3 1.9-.2 2-.3 1.9-.3 2-.2 1.9-.2 2-.3 2-.2 2.1-.2 2-.2 2-.2 2.1-.3 2-.2 2.1-.1 2.1-.2 2.1-.2 2.1-.2 2.2-.2 2.1-.2 2.2-.1 2.1-.2 2.2-.2 2.2-.1 2.2-.2 2.2-.1 2.3-.2 2.2-.1 2.3-.2 2.2-.1 2.3-.1 2.3-.2 2.3-.1 2.3-.1 2.4-.2 2.3-.1 2.3-.1 2.4-.1 2.4-.1 2.4-.2 2.4-.1 2.4-.1 2.4-.1 2.4-.1 2.5-.1 2.4-.1 2.5-.1 2.5-.1" stroke="#008000" stroke-width="1.3" fill="none"/>
<path d="M589.8 341.8l2.5-.1 2.5-.1 2.4-.1 2.5-.1 2.4-.1 2.4-.2 2.4-.1 2.4-.1 2.4-.1 2.4-.2 2.4-.1 2.3-.1 2.3-.2 2.4-.1 2.3-.2 2.3-.1 2.3-.1 2.3-.2 2.2-.2 2.3-.1 2.2-.2 2.3-.1 2.2-.2 2.2-.2 2.2-.2 2.2-.1 2.1-.2 2.2-.2 2.1-.2 2.2-.2 2.1-.2 2.1-.2 2.1-.2 2.1-.2 2-.3 2.1-.2 2-.2 2-.3 2.1-.2 2-.3 2-.2 1.9-.3 2-.3 1.9-.2 2-.3 1.9-.3 1.9-.3 1.9-.3 1.9-.4 1.8-.3 1.9-.3 1.8-.4 1.8-.3 1.9-.4 1.7-.4 1.8-.4 1.8-.4 1.7-.4 1.8-.4 1.7-.5 1.7-.4 1.7-.5 1.7-.5 1.7-.5 1.6-.5 1.6-.6 1.6-.5 1.7-.6 1.5-.6 1.6-.7 1.6-.6 1.5-.7 1.5-.7 1.5-.8 1.5-.7 1.5-.8 1.5-.9 1.4-.9 1.4-.9 1.4-.9 1.4-1.1 1.4-1 1.4-1.1 1.3-1.2 1.3-1.2 1.3-1.3 1.3-1.3 1.3-1.5 1.3-1.5 1.2-1.5 1.2-1.7 1.2-1.7 1.2-1.9 1.2-1.9 1.1-2.1 1.1-2.1 1.1-2.3 1.1-2.4 1.1-2.6 1-2.7 1-2.9 1-3.1 1-3.2 1-3.4 .9-3.6 .9-3.9 .9-4.1 .9-4.3 .8-4.7 .8-4.9 .8-5.2 .8-5.5 .8-5.8 .7-6.2 .7-6.6 .6-6.9 .7-7.3 .6-7.7 .6-7.7 .5-6.8 .5-5.8 .5-5 .5-4.4 .4-3.8 .3-3.2 .4-2.7 .3-2.2 .2-1.8 .2-1.3 0-.6 .1-.6 .2-1.2 .2-1.6 .3-1.9 .4-2.2 .3-2.3 .4-2.5 .5-2.5 .5-2.6 .5-2.6 .5-2.7 .6-2.6 .6-2.6 .7-2.6 .6-2.6 .7-2.4 .7-2.5 .8-2.3 .8-2.3 .8-2.2 .8-2.2 .8-2.1 .9-2 .9-1.9 .9-1.9 .9-1.8 1-1.7 1-1.7 1-1.6 1-1.6 1-1.5 1.1-1.5 1.1-1.4 1.1-1.3 1.1-1.3 1.1-1.3 1.2-1.2 1.2-1.2 1.2-1.1 1.2-1.1 1.2-1.1 1.3-1 1.3-1 1.3-1 1.3-.9 1.3-.9 1.3-.9 1.4-.8 1.4-.9 1.4-.8 1.4-.8 1.4-.7 1.4-.8 1.5-.7 1.5-.7 1.5-.6 1.5-.7 1.5-.6 1.5-.6 1.6-.6 1.6-.6 1.5-.6 1.7-.5 1.6-.6 1.6-.5 1.6-.5 1.7-.5 1.7-.5 1.7-.4 1.7-.5 1.7-.4 1.8-.4 1.7-.4 1.8-.4 1.8-.4 1.7-.4 1.9-.4 1.8-.3 1.8-.4 1.9-.3 1.8-.3 1.9-.4 1.9-.3 1.9-.3 1.9-.3 2-.3 1.9-.2 2-.3 1.9-.3 2-.2 2-.3 2.1-.2 2-.3 2-.2 2.1-.2 2-.3 2.1-.2 2.1-.2 2.1-.2 2.1-.2 2.2-.2 2.1-.2 2.2-.2 2.1-.2 2.2-.1 2.2-.2 2.2-.2 2.2-.2 2.3-.1 2.2-.2 2.3-.1 2.2-.2 2.3-.2 2.3-.1 2.3-.1 2.3-.2 2.4-.1 2.3-.2 2.3-.1 2.4-.1 2.4-.2 2.4-.1 2.4-.1 2.4-.1 2.4-.2 2.4-.1 2.5-.1 2.4-.1 2.5-.1 2.5-.1" stroke="#000080" stroke-width="1.3" fill="none"/>
<path d="M589.8 341.8l2.5-.1 2.5-.1 2.4-.1 2.5-.1 2.4-.1 2.4-.2 2.4-.1 2.4-.1 2.4-.1 2.4-.2 2.4-.1 2.3-.1 2.3-.2 2.4-.1 2.3-.2 2.3-.1 2.3-.1 2.3-.2 2.2-.2 2.3-.1 2.2-.2 2.3-.1 2.2-.2 2.2-.2 2.2-.2 2.2-.1 2.1-.2 2.2-.2 2.1-.2 2.2-.2 2.1-.2 2.1-.2 2.1-.2 2.1-.2 2-.3 2.1-.2 2-.2 2-.3 2.1-.2 2-.3 2-.2 1.9-.3 2-.3 1.9-.2 2-.3 1.9-.3 1.9-.3 1.9-.3 1.9-.4 1.8-.3 1.9-.3 1.8-.4 1.8-.3 1.9-.4 1.7-.4 1.8-.4 1.8-.4 1.7-.4 1.8-.4 1.7-.4 1.7-.5 1.7-.4 1.7-.5 1.7-.5 1.6-.5 1.6-.5 1.6-.6 1.7-.5 1.5-.6 1.6-.6 1.6-.6 1.5-.6 1.5-.6 1.5-.7 1.5-.6 1.5-.7 1.5-.7 1.4-.8 1.4-.7 1.4-.8 1.4-.8 1.4-.9 1.4-.8 1.3-.9 1.3-.9 1.3-.9 1.3-1 1.3-1 1.3-1 1.2-1.1 1.2-1.1 1.2-1.1 1.2-1.2 1.2-1.2 1.1-1.3 1.1-1.3 1.1-1.3 1.1-1.4 1.1-1.5 1-1.5 1-1.6 1-1.6 1-1.7 1-1.7 .9-1.8 .9-1.9 .9-1.9 .9-2 .8-2.1 .8-2.2 .8-2.2 .8-2.3 .8-2.3 .7-2.5 .7-2.4 .6-2.6 .7-2.6 .6-2.6 .6-2.6 .5-2.7 .5-2.6 .5-2.6 .5-2.5 .4-2.5 .3-2.3 .4-2.2 .3-1.9 .2-1.6 .2-1.2 0-.6 .1-.6 .2-1.3 .2-1.8 .3-2.2 .4-2.7 .3-3.2 .4-3.8 .5-4.4 .5-5 .5-5.8 .5-6.8 .6-7.7 .6-7.7 .7-7.3 .6-6.9 .7-6.6 .7-6.2 .8-5.8 .8-5.5 .8-5.2 .8-4.9 .8-4.7 .9-4.3 .9-4.1 .9-3.9 .9-3.6 1-3.4 1-3.2 1-3.1 1-2.9 1-2.7 1.1-2.6 1.1-2.4 1.1-2.3 1.1-2.1 1.1-2.1 1.2-1.9 1.2-1.9 1.2-1.7 1.2-1.7 1.2-1.5 1.3-1.5 1.3-1.5 1.3-1.3 1.3-1.3 1.3-1.2 1.3-1.2 1.4-1.1 1.4-1 1.4-1.1 1.4-.9 1.4-.9 1.4-.9 1.5-.9 1.5-.8 1.5-.7 1.5-.8 1.5-.7 1.5-.7 1.6-.6 1.6-.7 1.5-.6 1.7-.6 1.6-.5 1.6-.6 1.6-.5 1.7-.5 1.7-.5 1.7-.5 1.7-.4 1.7-.5 1.8-.4 1.7-.4 1.8-.4 1.8-.4 1.7-.4 1.9-.4 1.8-.3 1.8-.4 1.9-.3 1.8-.3 1.9-.4 1.9-.3 1.9-.3 1.9-.3 2-.3 1.9-.2 2-.3 1.9-.3 2-.2 2-.3 2.1-.2 2-.3 2-.2 2.1-.2 2-.3 2.1-.2 2.1-.2 2.1-.2 2.1-.2 2.2-.2 2.1-.2 2.2-.2 2.1-.2 2.2-.1 2.2-.2 2.2-.2 2.2-.2 2.3-.1 2.2-.2 2.3-.1 2.2-.2 2.3-.2 2.3-.1 2.3-.1 2.3-.2 2.4-.1 2.3-.2 2.3-.1 2.4-.1 2.4-.2 2.4-.1 2.4-.1 2.4-.1 2.4-.2 2.4-.1 2.5-.1 2.4-.1 2.5-.1 2.5-.1" stroke="#000080" stroke-width="1.3" fill="none"/>
<text x="0" y="0" font-size="17.0" font-family="'Liberation Serif','Times New Roman',serif" font-weight="bold" transform="translate(948.3 42.1) scale(1 1.08)">1:6</text>
<text x="0" y="0" font-size="17.0" font-family="'Liberation Serif','Times New Roman',serif" font-weight="bold" transform="translate(948.3 61.2) scale(1 1.08)">1:5</text>
<text x="0" y="0" font-size="17.0" font-family="'Liberation Serif','Times New Roman',serif" font-weight="bold" transform="translate(948.3 84.1) scale(1 1.08)">1:4</text>
<text x="0" y="0" font-size="17.0" font-family="'Liberation Serif','Times New Roman',serif" font-weight="bold" transform="translate(948.3 104.3) scale(1 1.08)">1:3</text>
<text x="0" y="0" font-size="17.0" font-family="'Liberation Serif','Times New Roman',serif" font-weight="bold" transform="translate(948.3 129.6) scale(1 1.08)">1:2</text>
<text x="0" y="0" font-size="17.0" font-family="'Liberation Serif','Times New Roman',serif" font-weight="bold" transform="translate(948.3 179.7) scale(1 1.08)">1:1</text>
<text x="552.6" y="187.4" font-size="17" font-family="'Liberation Serif','Times New Roman',serif" font-weight="bold" text-anchor="middle" transform="rotate(-90 552.6 187.4)">M (A&#183;m<tspan dy="-6.8" font-size="11">2</tspan><tspan dy="6.8">/kg)</tspan></text>
<text x="792.2" y="399.8" font-size="17.0" font-family="'Liberation Serif','Times New Roman',serif" font-weight="bold" text-anchor="middle" fill="#000">H (A/m)</text>
<text x="603.3" y="48.9" font-size="23.3" font-family="'Liberation Serif','Times New Roman',serif" font-weight="bold" fill="#000">(b)</text>
<rect x="1074.6" y="23.8" width="444.6" height="327.5" fill="none" stroke="#2b2b2b" stroke-width="1.3"/>
<path d="M1074.6 351.3v6.5M1148.7 351.3v6.5M1222.8 351.3v6.5M1296.9 351.3v6.5M1371 351.3v6.5M1445.1 351.3v6.5M1519.2 351.3v6.5M1111.6 351.3v3.5M1185.8 351.3v3.5M1259.8 351.3v3.5M1334 351.3v3.5M1408 351.3v3.5M1482.2 351.3v3.5" stroke="#2b2b2b" stroke-width="1.3" fill="none"/>
<text x="1074.6" y="372.1" font-size="14.5" font-family="'Liberation Serif','Times New Roman',serif" text-anchor="middle" fill="#222222">20</text>
<text x="1148.7" y="372.1" font-size="14.5" font-family="'Liberation Serif','Times New Roman',serif" text-anchor="middle" fill="#222222">30</text>
<text x="1222.8" y="372.1" font-size="14.5" font-family="'Liberation Serif','Times New Roman',serif" text-anchor="middle" fill="#222222">40</text>
<text x="1296.9" y="372.1" font-size="14.5" font-family="'Liberation Serif','Times New Roman',serif" text-anchor="middle" fill="#222222">50</text>
<text x="1371" y="372.1" font-size="14.5" font-family="'Liberation Serif','Times New Roman',serif" text-anchor="middle" fill="#222222">60</text>
<text x="1445.1" y="372.1" font-size="14.5" font-family="'Liberation Serif','Times New Roman',serif" text-anchor="middle" fill="#222222">70</text>
<text x="1519.2" y="372.1" font-size="14.5" font-family="'Liberation Serif','Times New Roman',serif" text-anchor="middle" fill="#222222">80</text>
<path d="M1074.6 324.4l.6-.1 .6-.1 .6-.1 .6 .2 .6-.2 .6 .3 .6-.1 .6-.1 .6 0 .6-.1 .6 .4 .6-.1 .6 .3 .6-.6 .6 .5 .6-.4 .6 .1 .6-.5 .6 .5 .6-.5 .6 .4 .6 .1 .6 0 .6 .1 .6 0 .6 0 .6-.4 .6 .2 .6-.1 .6 .1 .6 .4 .6-.3 .6-.6 .6 .6 .6 .1 .6-.2 .6 .4 .6-.7 .6 0 .6 .3 .6-.8 .6-.3 .6 1 .6-.2 .6 .5 .6-.2 .6-.3 .6-.6 .6-1.8 .6-2.4 .6-1.4 .2-.2 .4 .4 .6 2.5 .6 2.3 .6 1 .6 .1 .6-.1 .6 .6 .6 0 .6-.2 .6 .2 .6 0 .6 .3 .6-.5 .6-.1 .6-.1 .6 .3 .6 0 .6-.7 .6 .4 .6 .2 .6-.1 .6 .3 .6-.1 .6 .3 .6-.2 .6-.2 .6 .1 .6 .2 .6-.3 .6 0 .6 .1 .6 .6 .6-.5 .6 .3 .6-.4 .6 .1 .6-.1 .6 0 .6 0 .6 .1 .6-.4 .6 .4 .6-.1 .6-.3 .6 .3 .6-.2 .6 .1 .6 .1 .6-.1 .6-.3 .6 .5 .6-.1 .6 0 .6 .4 .6-.4 .6 .1 .6 .2 .6 .1 .6-.1 .6-.2 .6-.1 .6 0 .6 .2 .6-.2 .6-.3 .6 .1 .6-.3 .6-.2 .6 .3 .6-.4 .6-.5 .6-2.1 .6-2.1 .4-1.1 .2 0 .6 2.7 .6 1.8 .6 1 .6 .2 .6 .6 .6-.4 .6 .5 .6 0 .6-.2 .6 .2 .6 0 .6-.1 .6 .3 .6 .1 .6-.2 .6 0 .6 .3 .6-.4 .6-.1 .6 .2 .6-.4 .6 .3 .6 .2 .6-.2 .6 .4 .6-.8 .6 0 .6-.2 .6 .1 .6-.2 .6-.4 .6-.7 .6-.6 .6-2.3 .6-6.1 .6-8.1 .6-6.1 .6 5.4 .6 8.4 .6 6 .6 2.4 .6 1.1 .6 .8 .6 .4 .6 .3 .6-.3 .6-.1 .6 0 .6 .1 .6 .4 .6-.1 .6 .4 .6 0 .6 0 .6-.5 .6-.6 .6 .3 .6 .2 .6-.3 .6-.3 .6-.7 .6-.4 .6-1.1 .6-4.1 .6-7.9 .6-8.1 .3-.7 .3 2 .6 7.9 .6 7.5 .6 3.4 .6 1.4 .6 .8 .6 .2 .6-.1 .6-.2 .6 .2 .6 .9 .6-.5 .6 .2 .6 0 .6 0 .6 .2 .6-.7 .6 .7 .6-.5 .6 0 .6-.4 .6-.4 .4 .2 .2-.4 .6 .5 .6 .9 .6-.1 .6-.2 .6 .6 .6 0 .6-.1 .6-.1 .6 .5 .6 .2 .6-.5 .6-.1 .6 .4 .6-.3 .6 .1 .6 0 .6 .2 .6 .2 .6-.6 .6-.2 .6 .1 .6-.1 .6 .2 .6 .4 .6-.6 .6 .4 .6-.3 .6 .5 .6-.2 .6 .2 .6-.3 .6 0 .6 .3 .6-.1 .6-.1 .6 .1 .6 0 .6-.6 .6-.2 .6-.5 .6-.6 .6-1.5 .6-2 .3-.3 .3 .4 .6 2.1 .6 1 .6 1.1 .6 .4 .6 .2 .6 0 .6 .3 .6 .4 .6 .2 .6-.4 .6 .2 .6-.2 .6 .1 .6-.1 .6 .4 .6-.7 .6-.4 .6 .6 .6-.1 .6-.3 .6 .3 .6-.3 .6-.5 .6-.2 .6-.5 .6-1.2 .6-1.4 .2-.2 .4 .7 .6 1.3 .6 1.1 .6 1.2 .6-.1 .6 .3 .6-.3 .6 .7 .6-.4 .6-.3 .6 .4 .6 .1 .6-.2 .6-.1 .6-.2 .6-.3 .6 .8 .6 0 .6-.1 .6 .1 .6-.2 .6-.1 .6-.1 .6-.2 .6 .1 .6 .4 .6-.6 .6 .3 .6-.3 .6 .7 .6-.5 .6 .2 .6 0 .6-.1 .6-.2 .6 .4 .6-.2 .6 0 .6 .4 .6-.5 .6 .3 .6-.3 .6 .2 .6 .4 .6-.9 .6 .4 .6 .3 .6 .1 .6-.2 .6 .2 .6-.3 .6 0 .6 .1 .6-.4 .6 .6 .6-.4 .6-.4 .6 .5 .6-.2 .6 0 .6-.5 .6 .8 .6-.5 .6 .3 .6 .2 .6-.3 .6 .1 .6-.2 .6-.3 .6 .3 .6 0 .6-.6 .6 .3 .6 .2 .6-.5 .6-1.5 .6-2.4 .6-3 .4-1.5 .2 .4 .6 2.6 .6 3.1 .6 1.9 .6 .5 .6 .2 .6 .2 .6 0 .6 .2 .6 0 .6-.4 .6 .3 .6 .3 .6-.1 .6-.2 .6 .4 .6-.3 .6-.1 .6 .2 .6 .2 .6 .1 .6 .3 .6-.3 .6-.7 .6 .6 .6 0 .6-.3 .6-.3 .6 .1 .6 .4 .6-.4 .6 .1 .6 .6 .6-.3 .6 .2 .6-.4 .6-.1 .6-.1 .6 .4 .6 0 .6-.2 .6-.1 .6 .4 .6 0 .6-.4 .6 .3 .6-.2 .6 .3 .6-.4 .6 .1 .6-.4 .6 .3 .6-.3 .6-.9 .6-1.3 .6-2.1 .6-3 .3-.3 .3 .2 .6 3.2 .6 1.8 .6 1.9 .6 .9 .6 .2 .6 .1 .6-.6 .6 .6 .6-.2 .6-.2 .6 .6 .6-.4 .6 .3 .6-.2 .6-.3 .6 .2 .6 .1 .6-.2 .6 0 .6 0 .6 .4 .6-.1 .6-.4 .6-.1 .6 .2 .6 .1 .6-.1 .6-.3 .6 .3 .6-.2 .6 0 .6-1.1 .6-1.9 .6-2 .4-.4 .2 .2 .6 1.9 .6 1.3 .6 1.4 .6-.6 .6-.8 .5-.8 .1 .3 .6 .4 .6 .3 .6 1.6 .6 .3 .6 .2 .6 .1 .6-.5 .6 .1 .6 .6 .6-.6 .6-.2 .6 .6 .6 .6 .6-.7 .6-.1 .6 .2 .6-.1 .6-.1 .6 .3 .6 0 .6-.6 .6 .4 .6 .3 .6 0 .6-.2 .6-.4 .6 .1 .6 .4 .6 0 .6 0 .6-.4 .6 .3 .6 .3 .6-.5 .6-.1 .6 .4 .6-.4 .6 .6 .6-.4 .6-.1 .6 0 .6 .3 .6-.6 .6 .5 .6-.3 .6 .2 .6-.1 .6 .3 .6-.5 .6 0 .6 .1 .6-.1 .6 .1 .6-.5 .6 .2 .6 .1 .6 0 .6-1.1 .6-1.4 .6-2.5 .6-4.1 .4-1 .2 .2 .6 3.1 .6 3.7 .6 1.9 .6 .6 .6 .6 .6-.6 .6 .8 .6 .1 .6 0 .6 0 .6 0 .6-.5 .6-.1 .6-.1 .6 .1 .6-.4 .6-1.2 .6-2.2 .6-1.9 .2-.5 .4 .6 .6 2.3 .6 2.6 .6 .6 .6 .1 .6 .2 .6 .6 .6-.1 .6-.4 .6 .4 .6 .4 .6-.4 .6-.2 .6 .2 .6-.4 .6 .8 .6 0 .6-.5 .6 .2 .6-.1 .6 0 .6-.1 .6 .2 .6 0 .6-.1 .6 .4 .6-.8 .6 0 .6 .3 .6-.1 .6-.1 .6 .4 .6 .3 .6-.6 .6 .2 .6-.1 .6 .4 .6 .1 .6-.4 .6 .4 .6-.9 .6 .9 .6-.5 .6 0 .6 .2 .6 0 .6 .2 .6-.3 .6 .4 .6-.1 .6 .2 .6-.4 .6 .2 .6-.2 .6 0 .6 .2 .6-.4 .6 .7 .6-.7 .6 .1 .6 .5 .6-.4 .6-.3 .6 .7 .6 0 .6 0 .6-.2 .6-.4 .6 .3 .6 .3 .6-.2 .6-.1 .6 .7 .6-.4 .6-.6 .6-.3 .6 .6 .6-.3 .6-.2 .6 .6 .6-.4 .6 0 .6 0 .6 .2 .6 .4 .6-.2 .6-.6 .6 .6 .6-.4 .6 .2 .6-.1 .6 .2 .6 0 .6-.1 .6 0 .6-.2 .6-.2 .6-.4 .6-.6 .1-.3 .5 .1 .6 1 .6 .5 .6-.3 .6 .5 .6 0 .6 .4 .6-.7 .6 .2 .6-.2 .6 .1 .6 .2 .6-.3 .6 .3 .6 .2 .6 .2 .6 .2 .6-.2 .6-.3 .6-.2 .6 .3 .6-.3 .6-.1 .6-.2 .6 .1 .6 .4 .6-.4 .6 .4 .6-.1 .6 .2 .6 0 .6-.7 .6 0 .6 .2 .6 0 .6 .3 .6 .1 .6-.3 .6 .3 .6-.2 .6 .2 .6 .1 .6-.2 .6-.5 .6 0 .6 .5 .6-.2 .6 0 .6 .2 .6 .3 .6-.4 .6 0 .6 .1 .6 .2 .6-.5 .6 .3 .6 0 .6-.2 .6 .1 .6 0 .6-.3 .6 .1 .6 0 .6 .1 .6 .1 .6-.2 .6 0 .6 .2 .6-.3 .6 .6 .6-.3 .6 .1 .6-.5 .6 .4 .6 0 .6-.5 .6 .8 .6-.2 .6 0 .6-.5 .6 .3 .6 .2 .6 0 .6 0 .6 .3 .6-.2 .6 0 .6-.2 .6 .2 .6-.1 .6-.5 .6 .6 .6-.6 .6 .6 .6-.2 .6 .5 .6-.4 .6 .3 .6-.2" stroke="#000000" stroke-width="1.7" fill="none" stroke-linejoin="round"/>
<path d="M1074.6 291.2l.6-.1 .6 .1 .6-.2 .6 0 .6-.4 .6-.1 .6 .5 .6-.5 .6 .6 .6-.2 .6 0 .6-.2 .6 .1 .6 0 .6 .1 .6 0 .6-.1 .6 .1 .6 .3 .6-.2 .6 .1 .6-.1 .6-.4 .6 .6 .6-.1 .6 .2 .6-.1 .6-.5 .6 .4 .6-.1 .6-.5 .6 .3 .6-.1 .6 .5 .6 0 .6-.8 .6 .3 .6 .3 .6-.2 .6-.3 .6 .5 .6-.7 .6 .7 .6 0 .6-.3 .6 .1 .6-1.1 .6-.6 .6-1.6 .6-3.2 .6-2.7 .2-.1 .4 1.1 .6 3.7 .6 2.7 .6 .9 .6 .1 .6 .2 .6 .2 .6 .3 .6 .1 .6-.3 .6 .7 .6-.7 .6 .3 .6 .2 .6-.1 .6 0 .6-.3 .6 .5 .6-.1 .6-.3 .6 .2 .6 .2 .6-.3 .6 .2 .6-.3 .6 .9 .6-.8 .6 .4 .6 .2 .6-.2 .6 0 .6 0 .6-.4 .6 .2 .6 0 .6 .5 .6-.5 .6 .2 .6-.2 .6-.1 .6 .4 .6 .1 .6-.3 .6 0 .6 0 .6-.1 .6-.2 .6 .5 .6-.3 .6-.3 .6 0 .6 .3 .6 .6 .6 0 .6-.4 .6-.5 .6 .2 .6-.2 .6 .2 .6 .2 .6 .1 .6-.4 .6-.1 .6 .3 .6-.5 .6 .4 .6 0 .6 .1 .6-.5 .6 .3 .6-.3 .6-1.4 .6-.9 .4-.8 .2 .6 .6 1.4 .6 .6 .6 .4 .6 0 .6 .5 .6 0 .6-.1 .6-.3 .6 .2 .6 .1 .6 .3 .6 0 .6 0 .6 0 .6 0 .6-.2 .6-.5 .6 .2 .6 .4 .6-.1 .6-.2 .6 .2 .6-.1 .6-.1 .6 0 .6 .1 .6-.1 .6-.4 .6-.2 .6-.4 .6-.1 .6-.6 .6-.9 .6-2.2 .6-6.1 .6-8.7 .6-6.2 0 .1 .6 5.1 .6 9.1 .6 6.4 .6 2.6 .6 1.3 .6 .4 .6-.5 .6 .5 .6 .6 .6 .2 .6-.1 .6-.2 .6-.2 .6 .4 .6 .2 .6 0 .6 .3 .6-.8 .6 .2 .6-.1 .6-.3 .6-.3 .6 .1 .6-.1 .6-.9 .6-1.7 .6-3.4 .6-7.2 .6-7.1 .3-1.6 .3 1.8 .6 8.4 .6 6.7 .6 2.8 .6 1.5 .6 .8 .6-.1 .6 .2 .6 .3 .6 .1 .6 0 .6-.1 .6 .1 .6 .6 .6-.5 .6-.3 .6 1.2 .6-.4 .6-.1 .6-.2 .6 .3 .6 .1 .6-.4 .6 0 .6-.2 .6 .6 .6-.5 .6 .2 .6 0 .6-.3 .6 .4 .6 .1 .6-.5 .6 .5 .6 .2 .6-.4 .6 .3 .6 .2 .6 0 .6-.6 .6 .2 .6 .1 .6-.2 .6 .2 .6-.2 .6 .5 .6-.3 .6-.4 .6 .6 .6-.4 .6 .3 .6 .1 .6-.5 .6 .9 .6-.8 .6 .2 .6 .3 .6-.9 .6 .2 .6 .2 .6-.2 .6-.1 .6-.6 .6-1.1 .6-1.7 .6-2.8 .3-.8 .3 .9 .6 2.4 .6 1.9 .6 1 .6 .2 .6 .1 .6 .6 .6 .2 .6 0 .6 .2 .6 .7 .6-.8 .6 .2 .6 .1 .6-.1 .6-.2 .6 .3 .6-.1 .6-.1 .6 .5 .6-.5 .6-.1 .6-.2 .6 0 .6 0 .6-.9 .6-.5 .6-.8 .2-.4 .4 1 .6 .7 .6 .8 .6 .2 .6 .2 .6 0 .6 .1 .6 .2 .6-.7 .6 .5 .6 .1 .6-.1 .6-.4 .6 .2 .6 .3 .6 0 .6-.6 .6 .2 .6 .6 .6-.4 .6-.1 .6 .4 .6-.3 .6 0 .6-.2 .6 0 .6 .2 .6 .4 .6-.3 .6 .5 .6-.4 .6-.3 .6 .2 .6-.1 .6-.4 .6-.1 .6 .2 .6 .6 .6-.4 .6 .1 .6 .1 .6-.4 .6 .3 .6-.6 .6-.2 .6 1.1 .6-.3 .6-.4 .6-.1 .6 .3 .6 .2 .6 .1 .6 .1 .6-.7 .6 .2 .6-.2 .6 .9 .6-.7 .6 .4 .6-.3 .6 .4 .6-.2 .6 .2 .6-.5 .6 .3 .6 .1 .6-.2 .6 0 .6-.1 .6-.3 .6 .6 .6-.5 .6-.2 .6 0 .6-1.2 .6-.9 .6-1.9 .6-3 .4-.8 .2 .2 .6 2.4 .6 2.8 .6 1.8 .6 .3 .6 0 .6 .4 .6-.1 .6 .5 .6 .5 .6-.3 .6 .4 .6-.5 .6-.2 .6 .1 .6 .3 .6 0 .6-.5 .6 .4 .6 .1 .6-.8 .6 .3 .6-.2 .6 .1 .6 .1 .6 .1 .6 .3 .6 .3 .6-.5 .6 0 .6 0 .6 .1 .6-.3 .6 .1 .6 .3 .6-.1 .6-.2 .6 0 .6 .1 .6 0 .6-.2 .6 .2 .6-.2 .6 .1 .6 .1 .6-.1 .6 .1 .6 0 .6 .1 .6 0 .6-.3 .6-.1 .6-.3 .6-.6 .6-1.8 .6-3.6 .6-3.3 .3-1 .3 .7 .6 3.8 .6 3.1 .6 2.2 .6 .4 .6 .3 .6-.2 .6 .7 .6-.3 .6 .1 .6 .1 .6-.1 .6-.3 .6 .5 .6-.2 .6 .6 .6-.4 .6-.3 .6 .2 .6 .1 .6 .3 .6-.8 .6 .3 .6 .2 .6 .2 .6-.3 .6 0 .6 .3 .6-.2 .6 0 .6-.4 .6 .4 .6-.3 .6-1.4 .6-.8 .4-.6 .2 .3 .6 .5 .6 .8 .6 .4 .6-.1 .6-.3 .6-1.1 .6-.5 .1 0 .5 .4 .6 1.5 .6 .9 .6-.3 .6 .4 .6 0 .6-.2 .6 .6 .6-.6 .6 .2 .6 .6 .6-.4 .6 0 .6 0 .6-.5 .6 .3 .6-.1 .6 .7 .6-.4 .6 .1 .6-.1 .6 .1 .6-.2 .6-.3 .6-.2 .6 .7 .6-.1 .6-.1 .6-.1 .6 .2 .6 0 .6 .2 .6-.3 .6 .4 .6-.1 .6-.2 .6-.3 .6 .1 .6-.2 .6 .3 .6-.2 .6 .4 .6-.1 .6-.2 .6 .3 .6-.2 .6-.1 .6 0 .6-.2 .6 .1 .6 .3 .6 .1 .6-.2 .6-.8 .6-.1 .6 0 .6-1.2 .6-1 .6-3 .6-3.5 .4-1.5 .2 .5 .6 3.8 .6 3.3 .6 1.7 .6 .4 .6 .6 .6 .4 .6-.3 .6 .7 .6-.3 .6-.1 .6 0 .6 .5 .6-.4 .6 0 .6-.1 .6-.6 .6-1 .6-2 .6-1.9 .2 .1 .4 .5 .6 2 .6 1.6 .6 1.1 .6 .3 .6 .1 .6-.1 .6 .6 .6 .1 .6-.2 .6-.2 .6-.1 .6-.1 .6 .2 .6 0 .6 0 .6-.1 .6 .2 .6 0 .6-.2 .6 .3 .6-.1 .6 0 .6 0 .6-.2 .6-.1 .6 .1 .6 .7 .6-.7 .6 0 .6 .5 .6-.2 .6 0 .6 .2 .6 .4 .6-.3 .6-.3 .6-.3 .6 0 .6 .3 .6 .1 .6 0 .6-.3 .6 .2 .6 0 .6-.5 .6 .7 .6-.3 .6-.2 .6 0 .6 .2 .6-.3 .6-.1 .6-.1 .6 .2 .6 .5 .6-.3 .6 .3 .6-.2 .6-.2 .6-.1 .6-.2 .6 .4 .6 .5 .6-.5 .6-.4 .6-.3 .6 .3 .6 .4 .6-.5 .6 .6 .6 0 .6 .2 .6 .4 .6-.7 .6-.4 .6 .5 .6 .4 .6 .1 .6-.1 .6 0 .6-.2 .6 .2 .6-.2 .6-.3 .6 0 .6 .3 .6-.1 .6-.3 .6-.1 .6 .6 .6-.6 .6-.1 .6 .5 .6-.4 .6-.3 .6 .2 .6-1 .6-.2 .1 0 .5-.1 .6 1.4 .6 .2 .6 0 .6 .1 .6 0 .6-.1 .6 .4 .6-.5 .6 .6 .6-.6 .6 .1 .6 .2 .6 0 .6-.4 .6 .2 .6 .6 .6-.3 .6-.2 .6-.1 .6 .1 .6-.3 .6 0 .6 .2 .6 .5 .6-.1 .6-.4 .6 0 .6 .2 .6-.4 .6 .1 .6 0 .6-.3 .6 .8 .6 0 .6 .4 .6-.9 .6 .1 .6-.3 .6-.2 .6-.4 .6-.2 .6-.2 .3-.3 .3 .3 .6 .8 .6 .5 .6 0 .6 .2 .6 .2 .6-.4 .6-.2 .6-.4 .6 .7 .6-.2 .6-.2 .6-.2 .6 .7 .6 .2 .6-.2 .6-.2 .6-.3 .6-.1 .6 .2 .6 .4 .6 .2 .6-.2 .6-.2 .6 .1 .6-.1 .6 .1 .6 .4 .6-.3 .6-.3 .6-.1 .6 .2 .6 .1 .6 .4 .6-.1 .6-.3 .6 .3 .6-.3 .6-.3 .6 .3 .6 0 .6-.3 .6 .2 .6-.2 .6 0 .6 .7 .6 .1 .6-.4 .6-.6 .6 .7 .6 .2 .6-.1 .6-.4 .6 .2 .6 .1 .6 .4" stroke="#ff0000" stroke-width="1.7" fill="none" stroke-linejoin="round"/>
<path d="M1074.6 257l.6-.4 .6 .2 .6 .3 .6-.4 .6-.4 .6 .1 .6 .7 .6 .2 .6-.2 .6 0 .6 .2 .6-.6 .6-.1 .6-.2 .6 .4 .6 .1 .6 .2 .6-.5 .6 .4 .6 0 .6-.1 .6 .1 .6 .2 .6-.7 .6 .5 .6 0 .6 .1 .6 .3 .6-.7 .6 .2 .6 0 .6 0 .6 .2 .6 0 .6-.2 .6 .2 .6 0 .6-.1 .6-.2 .6 .3 .6-.2 .6-.2 .6-.1 .6 0 .6 .5 .6-.3 .6-.5 .6-.8 .6-1.4 .6-2.7 .6-2.2 .2-.7 .4 1.3 .6 2.9 .6 2.3 .6 .8 .6 .5 .6-.1 .6 1 .6-.4 .6 0 .6 .7 .6-.7 .6-.5 .6 1 .6 .1 .6 0 .6-.1 .6 .1 .6-.7 .6-.3 .6 .4 .6 .5 .6-.2 .6-.2 .6 .2 .6 .2 .6-.2 .6 0 .6 .1 .6-.2 .6-.2 .6-.1 .6 .2 .6 0 .6 .3 .6 0 .6-.2 .6 0 .6 .3 .6-.1 .6 .1 .6-.3 .6 .1 .6-.1 .6-.2 .6-.3 .6 .5 .6 .3 .6 0 .6-.2 .6-.1 .6-.3 .6 .3 .6-.2 .6 0 .6-.1 .6 .2 .6 0 .6-.3 .6 .4 .6 0 .6 .3 .6-.1 .6-.2 .6 .3 .6-.5 .6-.5 .6 .4 .6-.1 .6-.3 .6-.3 .6 .1 .6-1.7 .6-1.5 .4-.6 .2 .3 .6 1.4 .6 1.7 .6 .1 .6 .6 .6 0 .6 .4 .6-.2 .6 .1 .6 .5 .6-.4 .6 0 .6 .3 .6 .2 .6-.9 .6 .2 .6-.3 .6 .6 .6-.3 .6-.1 .6 .4 .6 .2 .6-.2 .6-.6 .6 .2 .6-.2 .6 .8 .6-.5 .6-.5 .6 .3 .6 .3 .6-.9 .6-.8 .6-.6 .6-2.4 .6-5.4 .6-8.3 .6-6.5 0 .3 .6 4.9 .6 8.4 .6 6.1 .6 2.9 .6 1.1 .6 .3 .6 .5 .6 0 .6 .3 .6-.1 .6 .1 .6-.3 .6 .3 .6 .1 .6 .3 .6-.2 .6-.4 .6 .4 .6-.1 .6 0 .6-.5 .6 0 .6-.2 .6-.4 .6-.4 .6-1.8 .6-3.5 .6-5.8 .6-7.2 .3-.2 .3 1.3 .6 6.9 .6 6.3 .6 2.6 .6 1.8 .6 0 .6 .8 .6-.2 .6 0 .6 .7 .6 .1 .6-.4 .6 .1 .6-.3 .6 .3 .6 .3 .6-.2 .6-.1 .6-.3 .6 .6 .6-.3 .6 .4 .6 .2 .6-.4 .6-.1 .6 .1 .6 0 .6-.2 .6 .1 .6-.5 .6 .6 .6-.1 .6 .5 .6-.5 .6 .2 .6 0 .6 0 .6 .3 .6-.3 .6 0 .6 .1 .6-.2 .6 .2 .6-.4 .6 .4 .6-.6 .6 .3 .6-.1 .6 0 .6 .2 .6 0 .6 .1 .6-.4 .6 .7 .6-.3 .6-.2 .6-.1 .6 .4 .6-.5 .6 .1 .6 .1 .6-.4 .6-.5 .6-.9 .6-1.2 .6-1.9 .3-.1 .3 .3 .6 2 .6 .9 .6 1.3 .6 0 .6 .1 .6 .1 .6 .2 .6 .4 .6 0 .6 0 .6-.6 .6 .8 .6-.2 .6 .1 .6-.1 .6-.1 .6-.4 .6 .2 .6-.6 .6 .5 .6-.2 .6 .4 .6 0 .6-.3 .6-.3 .6-.8 .6-.2 .2-.6 .4 .6 .6 .2 .6 1 .6 .3 .6 0 .6 .1 .6 .2 .6-.2 .6 .1 .6 .4 .6 0 .6 0 .6-.6 .6 .4 .6-.1 .6-.2 .6 .1 .6 .2 .6-.2 .6-.2 .6 0 .6 .2 .6-.2 .6 0 .6 .2 .6 0 .6-.6 .6 .3 .6 .3 .6 .2 .6-.2 .6-.1 .6-.2 .6 .2 .6 .2 .6 .1 .6-.1 .6-.4 .6 .2 .6 .4 .6-.1 .6-.2 .6 0 .6-.2 .6 .2 .6 .1 .6-.4 .6 .1 .6 .1 .6-.3 .6 .2 .6 .1 .6 0 .6 .2 .6 0 .6-.1 .6 .1 .6-.3 .6 .3 .6-.3 .6 .5 .6-.4 .6 0 .6 0 .6 0 .6-.1 .6-.1 .6 0 .6 .3 .6 .1 .6-.4 .6 .2 .6-.4 .6-.2 .6-.7 .6-.8 .6-1.8 .6-3.7 .4-.9 .2 .5 .6 2.2 .6 2.9 .6 2 .6 .1 .6 .6 .6 .4 .6 0 .6-.7 .6 .3 .6 .2 .6-.1 .6-.1 .6 .2 .6-.1 .6 0 .6 .1 .6-.1 .6 0 .6 .6 .6-.2 .6-.2 .6-.4 .6 .2 .6 .3 .6-.3 .6 .1 .6 0 .6-.1 .6 .3 .6 .1 .6-.6 .6 .3 .6 0 .6-.3 .6-.2 .6 .7 .6-.4 .6 .2 .6 .1 .6 .4 .6 0 .6-.3 .6-.6 .6-.4 .6 .8 .6-.3 .6 .1 .6-.2 .6 0 .6 .7 .6-.9 .6 .2 .6-.7 .6-1.5 .6-2.6 .6-3.6 .3-.4 .3 .3 .6 3.5 .6 2.9 .6 .9 .6 .9 .6 .6 .6-.2 .6 0 .6-.2 .6 .9 .6 0 .6-.9 .6 .7 .6 0 .6-.3 .6-.2 .6 .1 .6 .1 .6-.1 .6 .3 .6 .1 .6-.6 .6 .8 .6-.6 .6 .3 .6 .1 .6-.2 .6-.5 .6 .7 .6-.6 .6 .5 .6-.3 .6-1.3 .6-.2 .6-1.2 .4-.4 .2-.3 .6 1.3 .6 1.4 .6 .3 .6 .2 .6-.7 .6-1.5 .6-.5 .1-.1 .5 .4 .6 1.2 .6 .9 .6 .8 .6 .3 .6-.8 .6-.1 .6 .4 .6 .4 .6-.3 .6-.2 .6 .3 .6 .4 .6-.2 .6 .1 .6-.3 .6 .1 .6-.6 .6 .6 .6 0 .6-.5 .6 .2 .6 .3 .6 .1 .6-.2 .6 0 .6-.1 .6-.4 .6 .8 .6-.4 .6 .2 .6-.5 .6 .4 .6 .2 .6-.1 .6 .2 .6-.2 .6-.4 .6 .3 .6 0 .6-.2 .6-.2 .6 .1 .6 .1 .6 .2 .6 .3 .6-.4 .6 .2 .6-.2 .6-.2 .6 .1 .6-.3 .6 .4 .6-.7 .6 .1 .6-.8 .6 .3 .6-2.1 .6-3.1 .6-3.8 .4-1.4 .2 .3 .6 3.7 .6 3.4 .6 2.3 .6 .6 .6 .6 .6 .2 .6 .4 .6-.6 .6 .6 .6-.3 .6 .1 .6-.3 .6 .3 .6 0 .6-.7 .6-.4 .6-.8 .6-2.4 .6-2.5 .2-.2 .4 .8 .6 2.4 .6 2.4 .6 .7 .6 .3 .6 .6 .6 .1 .6-.3 .6 .5 .6-.1 .6-.4 .6-.3 .6 .7 .6-.8 .6 .6 .6-.2 .6 .4 .6-.1 .6-.2 .6 .2 .6-.2 .6 .2 .6-.1 .6-.1 .6 0 .6 .2 .6-.5 .6 .1 .6 .4 .6-.2 .6 .4 .6-.6 .6-.2 .6 .7 .6 0 .6 0 .6 0 .6-.3 .6 .3 .6 .3 .6-.4 .6 .1 .6-.2 .6 .3 .6-.3 .6 0 .6 .4 .6-.4 .6 0 .6 .4 .6-.2 .6-.1 .6-.1 .6 .3 .6-.7 .6 0 .6 .1 .6 .3 .6 .4 .6-.1 .6 0 .6-.1 .6-.3 .6-.1 .6 .4 .6 0 .6 .4 .6-.1 .6-.1 .6-.3 .6-.1 .6-.5 .6 .5 .6 .1 .6 .2 .6 .2 .6-.2 .6-.4 .6 .4 .6-.1 .6-.6 .6 .2 .6 .5 .6-.1 .6 0 .6 0 .6-.3 .6 .5 .6-.3 .6 .1 .6-.1 .6-.1 .6-.1 .6 .7 .6-.8 .6 0 .6-.5 .6-.8 .6-.6 .1 0 .5 .2 .6 1.3 .6 .2 .6-.1 .6 .4 .6-.1 .6 .2 .6 .2 .6-.2 .6 .4 .6-.2 .6-.1 .6-.2 .6 .3 .6-.5 .6 .6 .6-.1 .6 .3 .6-.5 .6 .1 .6 .3 .6-.3 .6-.4 .6 .3 .6 .3 .6 .1 .6 0 .6-.2 .6-.3 .6 .3 .6 .4 .6-.2 .6-.1 .6 .1 .6 .1 .6-.1 .6-.5 .6 0 .6-.2 .6 .3 .6-.1 .6-.7 .6-.5 .3 .1 .3 0 .6 .4 .6 .4 .6 .4 .6 .1 .6-.3 .6-.1 .6 .6 .6 .1 .6-.8 .6 .5 .6-.1 .6-.2 .6 .3 .6-.1 .6-.1 .6 .3 .6 .2 .6 .2 .6-1 .6 .4 .6 0 .6 0 .6-.2 .6 .5 .6-.7 .6 0 .6 .3 .6 .4 .6-.9 .6 .8 .6-.1 .6-.4 .6 .7 .6 0 .6-.3 .6 .3 .6-.4 .6 .5 .6-.1 .6-.2 .6-.5 .6 .1 .6 .2 .6 .2 .6 .1 .6-.2 .6 .3 .6-.1 .6 .2 .6-.1 .6-.5 .6 .1 .6 .1 .6 .2 .6-.2" stroke="#0000ff" stroke-width="1.7" fill="none" stroke-linejoin="round"/>
<path d="M1074.6 224.6l.6-.1 .6-.4 .6 0 .6 .1 .6-.3 .6 .4 .6-.4 .6 .2 .6-.4 .6 .4 .6 .2 .6 0 .6-.2 .6-.7 .6 .4 .6 .2 .6 .3 .6-.2 .6 .2 .6-.1 .6-.2 .6 .5 .6-.1 .6-.2 .6 .1 .6 .4 .6-.4 .6-.3 .6 .4 .6-.7 .6 .5 .6 .3 .6-.1 .6-.1 .6-.3 .6-.1 .6 .3 .6-.3 .6 .7 .6-.4 .6 .3 .6 .1 .6-.4 .6 .2 .6-.2 .6-.2 .6-.3 .6-.6 .6-1 .6-2.2 .6-2.2 .2 .3 .4 .8 .6 1.8 .6 2.2 .6 .5 .6 .2 .6 .6 .6-.7 .6 1.3 .6-.8 .6 .8 .6-.9 .6 .2 .6-.3 .6 .2 .6 .1 .6 .3 .6-.3 .6 .4 .6-.4 .6 .6 .6-.3 .6-.1 .6 0 .6 .2 .6-.6 .6 .5 .6-.3 .6 .2 .6 .1 .6-.5 .6 .2 .6 0 .6 .1 .6 .5 .6 .2 .6 .1 .6-.6 .6-.2 .6 .1 .6 0 .6 .3 .6 0 .6-.6 .6 .7 .6 0 .6-.5 .6-.2 .6 .3 .6-.3 .6 .2 .6 0 .6 .6 .6-.2 .6-.7 .6 .5 .6-.3 .6 .3 .6 .3 .6 0 .6-.4 .6 .4 .6-.3 .6 0 .6 .1 .6-.1 .6 0 .6-.5 .6-.1 .6-.2 .6-.2 .6-1.1 .6-2 .6-2.4 .4-1.4 .2 0 .6 2.4 .6 2.5 .6 1.8 .6 .5 .6-.3 .6 .2 .6-.2 .6 .7 .6 .1 .6-.7 .6 .5 .6-.1 .6 0 .6-.1 .6 .3 .6 .2 .6-.3 .6 .4 .6 0 .6-.2 .6 .3 .6 .1 .6-.8 .6 .3 .6 .1 .6 0 .6 .2 .6-.6 .6 0 .6-.3 .6 .1 .6-1 .6-.7 .6-1.7 .6-4.4 .6-7.4 .6-4.6 0 .4 .6 3.6 .6 7.3 .6 4.4 .6 2.6 .6 .7 .6 .2 .6 .6 .6 0 .6 .1 .6 .3 .6 .2 .6-.3 .6-.2 .6 .2 .6-.3 .6 .3 .6-.3 .6 0 .6 0 .6 .2 .6-.2 .6-.3 .6-.2 .6-.6 .6-.7 .6-1.9 .6-5.1 .6-9.4 .6-9.4 .3-1.7 .3 2.2 .6 10.5 .6 8.9 .6 4 .6 1.9 .6 .8 .6 .4 .6 .3 .6 .2 .6 .5 .6 .4 .6-.5 .6 .2 .6 .4 .6-.4 .6-.2 .6 .1 .6-.4 .6-.3 .6-.6 .1-.4 .5 .5 .6 .4 .6 .7 .6-.3 .6 .3 .6 .2 .6 .1 .6-.6 .6 .7 .6 0 .6-.2 .6 0 .6-.4 .6 .5 .6 0 .6 .3 .6-.2 .6 .5 .6-.7 .6-.1 .6 .8 .6-.4 .6-.4 .6 .3 .6 .1 .6-.2 .6 .1 .6-.4 .6 .3 .6 .2 .6-.1 .6 .2 .6 0 .6-.1 .6 0 .6-.5 .6 .1 .6 .2 .6-.3 .6 .2 .6 0 .6 0 .6-.8 .6 0 .6-1.2 .6-1.3 .3-.4 .3 .5 .6 .5 .6 1.1 .6 .9 .6-.2 .6 .8 .6 .1 .6 .1 .6-.8 .6 .7 .6-.2 .6 0 .6 .3 .6-.4 .6 .3 .6-.2 .6-.1 .6 .7 .6-.3 .6 .2 .6-.3 .6 .2 .6-1 .6 .3 .6-.8 .6-1.4 .6-2.8 .6-2.6 .2-.2 .4 1.5 .6 2.7 .6 2.1 .6 1.2 .6 .3 .6 .3 .6-.2 .6 .5 .6 .1 .6 .2 .6-.5 .6-.2 .6 .1 .6 .5 .6-.4 .6 .5 .6-.6 .6 .1 .6 0 .6 .3 .6-.1 .6 0 .6 .5 .6-.5 .6-.1 .6 .4 .6 .1 .6 .1 .6-.1 .6-.3 .6-.1 .6-.1 .6 .6 .6-.7 .6 .4 .6-.3 .6 0 .6-.1 .6 0 .6 .5 .6-.6 .6 .2 .6 .3 .6-.2 .6 0 .6 .2 .6-.4 .6 .4 .6 .2 .6 0 .6-.1 .6-.2 .6 .3 .6 0 .6-.9 .6 .3 .6 .3 .6-.4 .6 .3 .6 .4 .6-.4 .6 .2 .6-.3 .6 .5 .6-.2 .6-.2 .6 .1 .6-.1 .6 .2 .6 0 .6 0 .6-.5 .6 0 .6-.1 .6 .1 .6-1 .6-1.3 .6-1.9 .4-.6 .2 .4 .6 1 .6 2.2 .6 .9 .6-.1 .6 .6 .6-.4 .6 .4 .6-.4 .6 .6 .6 0 .6-.2 .6 .2 .6 0 .6 .2 .6 .1 .6-.4 .6 0 .6-.3 .6 .3 .6 .2 .6-.5 .6 .3 .6 .3 .6 .3 .6-.3 .6-.4 .6 .3 .6 .2 .6-.2 .6-.6 .6 .1 .6 .5 .6 .2 .6-.3 .6-.1 .6-.1 .6 .4 .6 .3 .6-.7 .6 .2 .6-.4 .6 .6 .6-1 .6 .1 .6 .1 .6 .3 .6-.3 .6-.9 .6-.2 .4 0 .2 0 .6 0 .6 .3 .6 0 .6-1.1 .6-1.9 .6-3.1 .3-.3 .3 .7 .6 2.6 .6 2.3 .6 .9 .6 .2 .6 .5 .6 .8 .6-.3 .6-.1 .6-.2 .6 .1 .6 .3 .6-.3 .6 .2 .6-.3 .6 .2 .6-.3 .6-.2 .6-.2 .6 .3 .6 .3 .6 .4 .6-.4 .6 .3 .6 0 .6-.3 .6 0 .6 .1 .6-.4 .6 .7 .6-.6 .6-.4 .6-1 .6-1.7 .6-3.1 .4-.5 .2-.4 .6 2.5 .6 1.9 .6 1.7 .6 .2 .6 .1 .6-.8 .6-.2 .1-.1 .5 .6 .6 .7 .6 .5 .6 .4 .6-.2 .6 .1 .6-.3 .6 .4 .6 .3 .6-.3 .6 .1 .6-.2 .6 .2 .6 .1 .6 .2 .6 .3 .6-.3 .6-.5 .6 .9 .6-.6 .6 .3 .6-.7 .6-.2 .6 .3 .6 .4 .6-.2 .6 0 .6 .2 .6 .2 .6 .2 .6-.3 .6-.8 .6 .4 .6 0 .6 .1 .6 .5 .6-1 .6-.1 .6 .5 .6 0 .6-.1 .6 0 .6 .6 .6-.7 .6-.3 .6 .8 .6-.4 .6 .5 .6-.4 .6 .1 .6-.3 .6-.7 .6 .5 .6 0 .6 0 .6-.5 .6-.9 .6-1.8 .6-4.2 .6-5.4 .4-.8 .2 0 .6 4.5 .6 5.1 .6 2 .6 1.5 .6 .4 .6 .4 .6-.6 .6 .3 .6 .3 .6-.2 .6 .2 .6 .1 .6 .6 .6-1.1 .6-.2 .6 .2 .6-1 .6-2 .6-1.8 .2 .4 .4 .5 .6 1.8 .6 1.3 .6 0 .6 .7 .6 .2 .6 .7 .6-.8 .6 .5 .6 .3 .6-.3 .6 .1 .6 .4 .6-.2 .6-.1 .6-.1 .6-.1 .6 .4 .6-.4 .6 0 .6 .2 .6-.3 .6 .5 .6 .3 .6-.7 .6 .4 .6-.6 .6 .6 .6-.5 .6 .6 .6-.5 .6-.5 .6 .6 .6 .2 .6-.1 .6-.1 .6 .3 .6 .2 .6-.5 .6 .1 .6-.2 .6 .3 .6-.2 .6-.1 .6-.2 .6 .2 .6-.3 .6 0 .6 .4 .6-.1 .6-.2 .6 .3 .6-.3 .6 .1 .6-.3 .6 .4 .6-.1 .6-.1 .6 .5 .6-.3 .6 .3 .6 0 .6 .1 .6-.5 .6 .2 .6 .2 .6-.4 .6 .2 .6 .3 .6-.2 .6-.1 .6-.3 .6 .1 .6 0 .6 .2 .6-.1 .6 .2 .6-.6 .6 .6 .6 .3 .6-.7 .6 .4 .6-.5 .6-.1 .6 .1 .6 .3 .6 .1 .6 0 .6-.1 .6 .2 .6 .1 .6-.6 .6 .5 .6-.4 .6 .3 .6 .1 .6-.7 .6 0 .6-1 .1 .3 .5 .5 .6 .1 .6 .2 .6 .5 .6-.1 .6-.1 .6 .2 .6-.4 .6 .6 .6-.3 .6 .3 .6-.3 .6 .1 .6 .1 .6-.2 .6 .1 .6-.3 .6-.1 .6-.1 .6 0 .6 0 .6-.4 .6-.2 .6-.2 .5 .2 .1-.7 .6 .5 .6 .7 .6 .5 .6 0 .6 .1 .6 .3 .6-.6 .6 .5 .6 0 .6-.2 .6-.3 .6 .4 .6 .1 .6-.4 .6 .3 .6-.1 .6 .3 .6-.1 .6-.5 .6 .1 .6 .2 .6 .1 .6-.1 .6 .2 .6 .1 .6-.1 .6-.4 .6 0 .6 .3 .6-.2 .6 .2 .6-.2 .6 .1 .6-.5 .6 .6 .6 0 .6-.1 .6 .2 .6-.6 .6 .4 .6-.4 .6 .1 .6 .3 .6 0 .6-.3 .6 .3 .6 .1 .6-.4 .6 .5 .6-.3 .6 .1 .6-.2 .6 .3 .6-.3 .6 .1 .6-.2 .6 0 .6 .1 .6-.1 .6 .2 .6-.1 .6 .1 .6 .3 .6-.1 .6-.2 .6 .1 .6-.2 .6-.4 .6 .7 .6 .1 .6-.1 .6-.2 .6-.1 .6 .4" stroke="#ff00ff" stroke-width="1.7" fill="none" stroke-linejoin="round"/>
<path d="M1074.6 186l.6 .2 .6-.2 .6 0 .6-.1 .6 .2 .6-.1 .6-.1 .6 .3 .6-.1 .6 .3 .6-.1 .6 .3 .6-.5 .6 .1 .6-.2 .6 .1 .6 .2 .6-.2 .6 .1 .6-.2 .6 .3 .6-.4 .6 .6 .6-.3 .6-.2 .6-.3 .6 .3 .6 .7 .6-.4 .6-.5 .6 .1 .6-.3 .6 .7 .6-.5 .6 .2 .6 .2 .6-.2 .6-.6 .6 .7 .6 .1 .6-.6 .6 .4 .6-.2 .6-.1 .6-.2 .6 .8 .6-.8 .6-1.1 .6-.9 .6-3 .6-2 .2-.4 .4 .6 .6 3.3 .6 1.9 .6 1.8 .6 .2 .6-.5 .6 .3 .6 0 .6-.4 .6 .5 .6-.2 .6 0 .6 .5 .6-.1 .6-.3 .6 .5 .6-.2 .6 .8 .6-1.2 .6 .4 .6-.2 .6 0 .6 .2 .6 .2 .6-.5 .6 .4 .6 .2 .6-.2 .6-.2 .6 .2 .6-.3 .6 .4 .6 .1 .6-.1 .6-.2 .6-.7 .6 .8 .6-.1 .6 .5 .6-.8 .6 .6 .6 .2 .6-.5 .6 .2 .6 .5 .6-.8 .6 .5 .6-.4 .6-.2 .6-.1 .6 .6 .6 .3 .6-.5 .6 .1 .6-.3 .6 .2 .6 .4 .6-.9 .6 .5 .6-.7 .6 .6 .6 .6 .6-.4 .6-.3 .6 .5 .6-.7 .6 0 .6-.3 .6 .5 .6-.1 .6-.8 .6-.9 .6-1.6 .4-.3 .2-.1 .6 1.3 .6 1.2 .6 .4 .6 .9 .6 .1 .6 .3 .6-.6 .6 .3 .6-.1 .6 .5 .6-.2 .6 0 .6 0 .6 0 .6 .1 .6-.2 .6-.2 .6 0 .6 .2 .6 0 .6 .1 .6-.4 .6-.1 .6 0 .6 0 .6-.1 .6 .3 .6-.4 .6-.6 .6 .5 .6-.4 .6-.3 .6-.9 .6-2.7 .6-4.5 .6-8.7 .6-9.4 .2-1.4 .4 3.3 .6 9 .6 8.8 .6 3.9 .6 2.1 .6 .3 .6 .5 .6 .8 .6-.1 .6-.1 .6 0 .6 .3 .6-.6 .6 .2 .6 .2 .6-.3 .6-.4 .6 .5 .6-.1 .6 .2 .6-.5 .6 .1 .6-.5 .6 0 .6-.5 .6-.5 .6-1.7 .6-5 .6-8.9 .6-11.7 .4-3.5 .2 1 .6 10.6 .6 10.7 .6 5.5 .6 2.1 .6 1.2 .6 .8 .6 .5 .6-.2 .6 .9 .6-.2 .6-.1 .6 0 .6-.4 .6 .8 .6-.3 .6 .2 .6-.2 .6-.3 .6 .7 .6-.3 .6-.2 .6 .4 .6 .1 .6-.1 .6-.1 .6-.2 .6 .3 .6-.2 .6 .2 .6 .1 .6-.1 .6 .2 .6-.4 .6-.6 .6 .4 .6 .4 .6 0 .6-.3 .6 .1 .6 .5 .6 .2 .6-.2 .6-.2 .6 0 .6-.3 .6 .1 .6 .5 .6 0 .6-.7 .6 .2 .6 .4 .6-.4 .6-.1 .6-.3 .6 .8 .6-.4 .6-.1 .6 .3 .6-.4 .6-.1 .6-.8 .6-.3 .6-2.1 .6-1.4 .3-.5 .3-.4 .6 2.1 .6 1.9 .6 1 .6 .4 .6 .3 .6-.5 .6 0 .6 .4 .6 0 .6 0 .6 .2 .6-.3 .6 .6 .6-.4 .6-.4 .6 .6 .6-.1 .6-.2 .6-.2 .6 .3 .6-.2 .6 .2 .6-.1 .6-.6 .6 .1 .6-.8 .6-1.3 .2-.2 .4 .5 .6 .6 .6 1.3 .6 .6 .6 .3 .6-.2 .6-.4 .6 .3 .6 0 .6-.6 .6 .6 .6 .2 .6 0 .6-.6 .6 .2 .6 .4 .6-.2 .6 .2 .6-.1 .6-.1 .6 .2 .6 .1 .6 0 .6-.6 .6 .2 .6 .2 .6 .1 .6-.3 .6 .1 .6 .1 .6-.2 .6-.2 .6 .2 .6 .4 .6 .1 .6 0 .6-.6 .6-.1 .6 .2 .6 0 .6 .6 .6-.4 .6 .3 .6-.4 .6-.1 .6 .2 .6-.1 .6 .5 .6-.4 .6 0 .6-.4 .6 .5 .6 .2 .6-.3 .6 0 .6-.2 .6 0 .6 0 .6 .3 .6-.2 .6 0 .6-.1 .6 .1 .6-.3 .6 .1 .6 .1 .6 0 .6-.2 .6 .6 .6-.6 .6 .1 .6-.1 .6-.3 .6-.2 .6-.6 .6-.9 .6-2.9 .6-3.1 .4-.7 .2-.4 .6 3.2 .6 3.2 .6 1 .6 1.8 .6-.5 .6 .7 .6-.1 .6 .1 .6-.4 .6 .2 .6 .1 .6 .3 .6-.5 .6 .5 .6 .2 .6-.4 .6 .3 .6 .3 .6-.5 .6 .3 .6-.6 .6 0 .6 .2 .6-.1 .6 0 .6-.1 .6 .1 .6 .1 .6-.2 .6 .5 .6-.3 .6-.3 .6-.1 .6 .3 .6 .4 .6-.2 .6-.5 .6 .2 .6 .2 .6 .2 .6 .3 .6-.3 .6 0 .6 0 .6-.2 .6-.2 .6 0 .6 .2 .6-.4 .6-.1 .6 .1 .6-.5 .6-.6 .6-2 .6-3.4 .6-3.6 .3-1 .3 .7 .6 3.8 .6 3.5 .6 2.4 .6-.4 .6 .3 .6 .8 .6 .3 .6-.6 .6 .3 .6 .4 .6-.1 .6 0 .6 .2 .6-.1 .6-.2 .6 .1 .6-.2 .6 .2 .6 .4 .6 .1 .6-.9 .6 .3 .6 0 .6 .4 .6-.3 .6 .1 .6-.1 .6 .2 .6-.4 .6 .1 .6 0 .6-.1 .6-.6 .6-.2 .6-.8 .6-.1 .6-1.2 .6 0 .3 0 .3-.2 .6 .5 .6 .8 .6 .3 .6 .8 .6 .5 .6 .1 .6 .2 .6-.1 .6 .4 .6-.3 .6 .2 .6 .3 .6-.2 .6-.2 .6 0 .6-.2 .6 .7 .6-.3 .6 0 .6-.2 .6 .5 .6-.1 .6-.4 .6 .5 .6-.6 .6-.1 .6 .2 .6-.1 .6 .1 .6-.1 .6 .7 .6-.2 .6-.5 .6 0 .6 .3 .6 0 .6 0 .6 .3 .6 .2 .6-.8 .6 .3 .6-.2 .6 .1 .6 .5 .6-.3 .6-.4 .6 0 .6 .4 .6-.3 .6 0 .6-.6 .6 .8 .6-.3 .6-.3 .6 .7 .6-.4 .6 .1 .6-.3 .6-.5 .6-.7 .6-.4 .6-2.8 .6-2.3 .4-.6 .2 .4 .6 2.4 .6 2.4 .6 .3 .6-.2 .6-.4 .5 0 .1-.6 .6 1.1 .6 .8 .6 .4 .6 .2 .6 .5 .6 .4 .6-.4 .6-.6 .6 .6 .6-1 .6-1 .6-2 .6-2.1 .2 .1 .4 .4 .6 2.1 .6 1.9 .6 .9 .6 1.4 .6-.5 .6-.3 .6 .6 .6-.1 .6 .3 .6-.3 .6 0 .6-.1 .6 .2 .6 .1 .6 0 .6-.1 .6 0 .6 .1 .6-.5 .6 .2 .6-.2 .6 .1 .6 .1 .6 .2 .6 .3 .6 0 .6-.1 .6-.2 .6-.2 .6 .2 .6 .2 .6-.4 .6 .3 .6 .2 .6-.1 .6 .1 .6-.2 .6 0 .6 0 .6-.5 .6 .5 .6-.4 .6 .1 .6 .1 .6 .1 .6 0 .6 .1 .6-.6 .6 .6 .6-.1 .6 0 .6-.4 .6 .4 .6-.5 .6 .4 .6 .1 .6-.3 .6 .5 .6-.5 .6 .2 .6 .5 .6-.2 .6-.1 .6-.4 .6 .4 .6 .4 .6-.2 .6-.3 .6 .1 .6-.3 .6 .1 .6 .2 .6-.3 .6 .3 .6-.3 .6 0 .6 .1 .6-.1 .6 .1 .6-.2 .6 .3 .6 .1 .6-.1 .6-.3 .6 .5 .6-.4 .6-.4 .6 .5 .6 .2 .6-.4 .6 .5 .6-.2 .6-.4 .6 .2 .6 0 .6-.4 .6-1.1 .6-.6 .1-.4 .5 .1 .6 1.4 .6 .4 .6 .3 .6-.3 .6 .8 .6-.1 .6-.3 .6 .3 .6 .2 .6 0 .6 0 .6-.6 .6 .1 .6 .9 .6-.4 .6-.1 .6 .1 .6-.1 .6 0 .6 .5 .6-.3 .6 0 .6 .1 .6-.2 .6 0 .6-.4 .6 0 .6 .5 .6-.2 .6-.4 .6 .4 .6 .1 .6 .1 .6-.3 .6-.5 .6 .2 .6 .2 .6 0 .6-.4 .6-.2 .6-1 .6-.3 .3-.2 .3 .3 .6 1 .6 0 .6 .7 .6 .2 .6 .1 .6 .2 .6-.1 .6-.1 .6 .3 .6-.3 .6 .1 .6-.1 .6-.2 .6 .4 .6 .1 .6-.7 .6 .3 .6 .1 .6-.2 .6 0 .6 .2 .6 .1 .6 .2 .6 .1 .6 .2 .6-.1 .6-.4 .6 .1 .6 0 .6 0 .6-.1 .6 0 .6 .1 .6-.5 .6 .5 .6-.2 .6 .1 .6 0 .6 0 .6 .3 .6-.8 .6 .5 .6-.3 .6-.2 .6 .2 .6 .2 .6 .3 .6-.2 .6-.7 .6 .6 .6 .1 .6 .3 .6-.7 .6 .4 .6-.4" stroke="#008000" stroke-width="1.7" fill="none" stroke-linejoin="round"/>
<path d="M1074.6 144.5l.6 .5 .6-.4 .6 .2 .6 .2 .6-.3 .6 .5 .6-.3 .6 .3 .6 0 .6-.2 .6 .6 .6-.7 .6-.2 .6 .4 .6-.2 .6 0 .6 0 .6-.1 .6 .4 .6-.3 .6 .2 .6 .1 .6-.1 .6-.1 .6-.3 .6 0 .6-.1 .6 0 .6-.6 .6 .5 .6 .2 .6-.3 .6 .4 .6 .8 .6-.7 .6-.1 .6 .1 .6 .1 .6-.2 .6-.1 .6-.1 .6-.3 .6 .3 .6 .2 .6-.4 .6-.5 .6 .2 .6-1.1 .6-1.9 .6-3.5 .6-2.8 .2-.3 .4 1 .6 4.3 .6 2.7 .6 1.2 .6 0 .6 .6 .6-.1 .6-.3 .6 .7 .6-.1 .6 .3 .6-.1 .6 .3 .6-.3 .6 .2 .6-.4 .6 .6 .6-.1 .6 0 .6-.1 .6 .1 .6 .4 .6-.5 .6 0 .6 0 .6-.2 .6-.2 .6 .4 .6 .2 .6-.5 .6 .2 .6-.2 .6 .4 .6 0 .6-.5 .6 .6 .6-.5 .6 .4 .6 .2 .6-.3 .6 .3 .6-.7 .6 .7 .6-.5 .6 .2 .6-.1 .6 .4 .6-.4 .6 0 .6 .4 .6-.4 .6 .1 .6 .5 .6-.1 .6-.2 .6-.6 .6 .7 .6 .2 .6-.2 .6-.6 .6-.1 .6 .1 .6 .3 .6-.3 .6 0 .6 .4 .6-.5 .6 .1 .6-.5 .6 .1 .6-.3 .6-1.5 .6-1.8 .4-.1 .2-.2 .6 .9 .6 1.9 .6 .8 .6 .3 .6 .4 .6 .1 .6 .1 .6 .1 .6-.1 .6 .2 .6-.5 .6 .7 .6-.9 .6 .3 .6-.2 .6 .1 .6 .2 .6 0 .6 .4 .6-.6 .6 .1 .6 0 .6-.2 .6 .2 .6-.4 .6-.1 .6 0 .6-.4 .6-.1 .6 0 .6-.6 .6-.8 .6-1.3 .6-3 .6-7.7 .6-13.9 .6-14.5 .2-1.4 .4 4 .6 15.2 .6 12.4 .6 6.6 .6 2.5 .6 1.2 .6 1 .6-.1 .6 .5 .6 .1 .6 .1 .6 .4 .6 .3 .6-.3 .6 .4 .6-.1 .6 0 .6-.2 .6 0 .6 0 .6-.4 .6-.6 .6 .3 .6 .1 .6 0 .6-1.3 .6-1.6 .6-5 .6-8.4 .6-10.9 .4-3.3 .2 1.1 .6 10 .6 9.8 .6 6.2 .6 1.9 .6 .8 .6 0 .6 .3 .6 .8 .6 .3 .6-.3 .6-.1 .6 .4 .6 .1 .6-.1 .6 0 .6 0 .6 .1 .6 .1 .6 .2 .6-.4 .6-.1 .6 .1 .6 0 .6 .3 .6 .1 .6-.3 .6-.1 .6 .3 .6 .1 .6 .6 .6-.3 .6-.8 .6 .3 .6 .5 .6 0 .6-.6 .6 .4 .6-.2 .6 .1 .6-.3 .6 .2 .6-.1 .6 .4 .6-.1 .6-.1 .6-.3 .6 .2 .6-.1 .6 .3 .6-.2 .6-.2 .6 0 .6 .1 .6-.1 .6 .2 .6-.3 .6-.2 .6-.1 .6 .4 .6-.9 .6-.1 .6-2.3 .6-2.9 .6-3.6 .3-.9 .3 1 .6 3.6 .6 3.1 .6 1.8 .6 .9 .6-.2 .6 .8 .6 0 .6-.4 .6-.2 .6 1 .6-1.1 .6 .7 .6-.2 .6 .3 .6-.2 .6-.3 .6-.4 .6 .2 .6 .5 .6-.2 .6-.2 .6-.1 .6 .3 .6 .1 .6-1.1 .6-1.3 .6-.7 .2-.2 .4 .5 .6 1.1 .6 .8 .6 .6 .6 .1 .6 .4 .6 .4 .6 0 .6-.8 .6 .2 .6 .6 .6-.3 .6-.1 .6 .1 .6-.1 .6-.1 .6 .1 .6 .4 .6-.4 .6-.2 .6 .2 .6-.1 .6 .3 .6 0 .6-.5 .6 0 .6 1 .6-.1 .6-.5 .6-.1 .6 .6 .6-.4 .6-.5 .6 .5 .6-.4 .6 .5 .6-.5 .6 .2 .6 0 .6 .4 .6-.2 .6 .4 .6-.1 .6-.6 .6 .1 .6 .4 .6-.3 .6-.4 .6 .3 .6 0 .6-.1 .6 0 .6 .3 .6-.2 .6 .4 .6-.7 .6 .2 .6 .2 .6-.2 .6 .2 .6 0 .6-.6 .6 .2 .6-.3 .6-.2 .6 .6 .6 .4 .6-.5 .6 0 .6 .3 .6-.2 .6-.3 .6 0 .6-.6 .6-.8 .6-1.4 .6-4.4 .6-5.6 .4-1.3 .2 .7 .6 4.1 .6 4.3 .6 2.5 .6 1.8 .6 .7 .6-.2 .6 .7 .6-.8 .6 .6 .6 .1 .6 .2 .6-.3 .6-.3 .6-.1 .6 .6 .6 0 .6-.1 .6-.2 .6 .6 .6-.1 .6-.4 .6 .1 .6 0 .6 .3 .6-.2 .6-.1 .6 .3 .6-.2 .6 .1 .6-.2 .6 .1 .6-.1 .6 .1 .6-.6 .6 .6 .6-.1 .6-.2 .6-.2 .6 .5 .6-.3 .6-.3 .6 .5 .6 .1 .6-.4 .6-.1 .6 .2 .6-.2 .6 .2 .6-.5 .6-.3 .6 .4 .6-.3 .6-1.3 .6-3 .6-5.4 .6-6 .3-1.5 .3 1.5 .6 5.6 .6 5.3 .6 2.7 .6 1.3 .6 1 .6 0 .6 .3 .6-.1 .6 .5 .6 .3 .6 .3 .6-1 .6 .3 .6 .3 .6-.6 .6 .4 .6 0 .6 .2 .6 0 .6 0 .6 .4 .6-.4 .6-.2 .6 .1 .6-.3 .6 .1 .6 .1 .6-.2 .6-.5 .6 .2 .6 .3 .6-1.3 .6-1.9 .6-1.7 .4-1 .2-.1 .6 2.1 .6 1.7 .6 1 .6 .2 .6-.3 .6-.9 .6-.1 .1-.1 .5 0 .6 1.1 .6 .8 .6 .3 .6 .4 .6-.1 .6 .4 .6-.2 .6-.4 .6 .1 .6 .6 .6-.8 .6 .2 .6 .4 .6-.3 .6-.4 .6 .5 .6 .3 .6-.5 .6 0 .6 .4 .6 .4 .6-.5 .6 .1 .6-.4 .6 .5 .6 .3 .6 .1 .6 .1 .6-.3 .6-.2 .6-.3 .6 .1 .6-.4 .6 .8 .6-.4 .6-.4 .6 .2 .6 .3 .6 0 .6-.5 .6 .4 .6 0 .6-.1 .6 .2 .6 .3 .6-1 .6 .1 .6 .5 .6-.1 .6-.7 .6 0 .6-.2 .6 0 .6-.1 .6 .3 .6-1.6 .6-1.8 .6-5.2 .6-6 .4-1.9 .2 .3 .6 5.5 .6 5.2 .6 3.6 .6 1.2 .6 .6 .6 .4 .6-.1 .6-.3 .6 .2 .6 0 .6 .3 .6-.1 .6 0 .6-.1 .6-.3 .6-1.6 .6-1.7 .6-3.2 .6-4.6 .2-.6 .4 1.6 .6 4.3 .6 3.4 .6 1.6 .6 .8 .6 .4 .6 0 .6 .5 .6-.6 .6 .4 .6 .2 .6-.2 .6 .2 .6 .1 .6-.2 .6-.3 .6 .4 .6 .1 .6 0 .6-.2 .6-.3 .6 0 .6 .3 .6 .1 .6 .1 .6-.2 .6-.4 .6 .3 .6 .6 .6-.1 .6-.6 .6 .8 .6-.1 .6-.6 .6 .1 .6 .5 .6-.2 .6-.3 .6 .3 .6-.1 .6-.2 .6-.1 .6-.1 .6 .8 .6-.3 .6-.1 .6-.4 .6 .2 .6 .3 .6-.1 .6-.9 .6 .8 .6 0 .6-.1 .6 .3 .6-.5 .6 .3 .6 .5 .6-.9 .6 .4 .6 .1 .6-.3 .6 .4 .6-.7 .6 1.1 .6-.2 .6-.5 .6-.3 .6 .4 .6-.3 .6 .4 .6-.4 .6 .2 .6 .2 .6-.1 .6-.5 .6 .3 .6 .5 .6-.1 .6 0 .6-.3 .6 .2 .6-.2 .6 .1 .6-.3 .6 .2 .6 .2 .6-.5 .6 .2 .6-.1 .6 0 .6 0 .6-.3 .6 .6 .6-.9 .6-.9 .6-1.6 .6-1.9 .3-.3 .3 .1 .6 1.8 .6 1.6 .6 1 .6 .5 .6 .5 .6-.3 .6-.4 .6-.1 .6 .6 .6 .2 .6-.1 .6 .6 .6-.5 .6-.1 .6-.1 .6 .1 .6 0 .6 .2 .6 0 .6 .4 .6-.5 .6 0 .6 .3 .6-.1 .6-.2 .6 0 .6-.2 .6 .4 .6 .1 .6-.4 .6 .3 .6-.1 .6-.3 .6-.2 .6 .5 .6 .3 .6-.4 .6-.2 .6-.1 .6 .1 .6-.6 .6-1.2 .6-.9 .3 .1 .3 .2 .6 1 .6 0 .6 1.6 .6-.1 .6 .5 .6-.6 .6 .6 .6-.6 .6 .4 .6-.4 .6-.1 .6 .2 .6 .3 .6 0 .6 .2 .6-.3 .6 1.1 .6-.9 .6 0 .6 .1 .6 0 .6-.3 .6-.1 .6 .4 .6-.5 .6 .5 .6-.3 .6-.1 .6 0 .6-.1 .6 .7 .6-.3 .6-.2 .6-.1 .6-.2 .6 .3 .6 .4 .6-.5 .6 .1 .6 .1 .6-.2 .6 .3 .6-.1 .6 .2 .6-.3 .6-.3 .6 0 .6 .3 .6-.1 .6-.3 .6 .5 .6 0 .6-.2 .6 .4 .6-.3" stroke="#000080" stroke-width="1.7" fill="none" stroke-linejoin="round"/>
<path d="M1074.6 92.7l.6-.2 .6-.1 .6-.4 .6 1 .6-.9 .6 .4 .6 .2 .6-.6 .6 .3 .6 .2 .6 .3 .6-.4 .6 .4 .6-.5 .6-.1 .6-.2 .6 .5 .6-.3 .6 .1 .6 .3 .6-.3 .6 0 .6 .2 .6 .2 .6-.4 .6-.1 .6-.1 .6 .2 .6 .1 .6-.5 .6 .2 .6 .3 .6-.1 .6 .1 .6-.1 .6 .2 .6 .1 .6-.5 .6-.4 .6 .2 .6 .3 .6 .4 .6-1.2 .6 .4 .6-.2 .6-.2 .6-.6 .6-2 .6-3.9 .6-6.1 .6-5.6 .2-1.2 .4 3.1 .6 7.2 .6 5.1 .6 2.6 .6 1 .6 .2 .6 .4 .6 .2 .6-.1 .6 .6 .6-.5 .6 .2 .6 .7 .6-.4 .6-.1 .6 .1 .6-.4 .6 .3 .6-.2 .6-.1 .6 .6 .6-.2 .6 0 .6-.2 .6 .3 .6-.1 .6 .4 .6-.3 .6 .6 .6-.7 .6-.1 .6 0 .6 .3 .6-.4 .6 .2 .6 .1 .6 .2 .6-.5 .6 .9 .6-.1 .6 .1 .6-.5 .6 .1 .6 .1 .6-.1 .6 .1 .6-.5 .6 .5 .6-.3 .6 .1 .6 0 .6 .1 .6 .2 .6-.2 .6 .3 .6-.6 .6 .1 .6 .5 .6-.3 .6-.7 .6 .4 .6 .2 .6 .2 .6-.1 .6-.5 .6 .6 .6-.3 .6-.4 .6 .7 .6-.6 .6-.1 .6 .8 .6-.7 .6-.1 .6 .3 .6 .5 .6-.6 .6 .1 .6 .6 .6-.5 .6-.4 .6 .4 .6 .3 .6-.6 .6-.2 .6-.3 .6 .5 .6-.4 .6 .2 .6 0 .6-.2 .6-.5 .6-.5 .3-.2 .3-.1 .6 1.1 .6 .2 .6-.1 .6 0 .6 .3 .6-.3 .6 .1 .6-.7 .6-.3 .6-.7 .6-.1 .6-.5 .6-2.1 .6-5.1 .6-10.5 .6-20.4 .6-21.6 .2-2.7 .4 6 .6 22.6 .6 18.5 .6 9.2 .6 4.2 .6 1.3 .6 .8 .6 .4 .6 .7 .6 .3 .6 .5 .6 0 .6 .1 .6 .3 .6-.1 .6-.5 .6 .4 .6 .3 .6-.2 .6-.5 .6 0 .6 .2 .6-.6 .6-.1 .6-.9 .6-.9 .6-2.5 .6-6.2 .6-11.9 .6-15.3 .4-4.8 .2 1.9 .6 13.6 .6 14 .6 7.8 .6 3.1 .6 1.1 .6 1.1 .6-.1 .6 .6 .6 .1 .6 .1 .6 .1 .6-.6 .6 .8 .6-.3 .6 .6 .6-.3 .6 .1 .6 0 .6-.2 .6 .5 .6 .1 .6-.3 .6 .1 .6 .5 .6-.5 .6-.3 .6 1 .6-.5 .6-.1 .6-.1 .6 0 .6-.1 .6-.3 .6-.2 .6 0 .3-.4 .3 .5 .6 .1 .6 .1 .6 .1 .6 .3 .6 0 .6 .4 .6-.7 .6 .1 .6 .2 .6-.2 .6 .4 .6-.5 .6 .2 .6 0 .6-.4 .6 0 .6 .3 .6 .2 .6-.2 .6 .1 .6-.1 .6-.2 .6-.2 .6-.2 .6-1.6 .6-1.4 .6-3.8 .6-4.8 .3-.7 .3 1.2 .6 4.3 .6 3.9 .6 1.9 .6 .7 .6 .6 .6 .3 .6 .3 .6-.6 .6 0 .6 .2 .6 .3 .6-.2 .6 .2 .6-.1 .6 .1 .6-.4 .6 .5 .6 0 .6-.2 .6 .1 .6 .6 .6-1 .6 .7 .6-.5 .6 .3 .6-.2 .6 .3 .6 .1 .6-.5 .6 .2 .6 .4 .6-.5 .6 .3 .6 .1 .6 0 .6-.3 .6-.6 .6 .6 .6 0 .6-.2 .6 .8 .6-.1 .6-.5 .6 .2 .6-.2 .6-.1 .6 .3 .6-.6 .6 .7 .6 .4 .6-.2 .6-.7 .6 0 .6-.3 .6 .5 .6-.1 .6 .6 .6 .1 .6-.3 .6 .4 .6-.4 .6-.4 .6-.2 .6 .8 .6-.5 .6-.2 .6 .2 .6-.1 .6 .6 .6-.5 .6-.3 .6 .2 .6 0 .6 0 .6 .4 .6-.2 .6 0 .6 .3 .6-.2 .6 0 .6-.2 .6 .3 .6 0 .6-.6 .6 .6 .6 0 .6-.2 .6-.2 .6 .1 .6-.3 .6 .2 .6-.6 .6 .7 .6 .3 .6-.3 .6-.2 .6-.4 .6 0 .6-.3 .6-.1 .6-.6 .6-.9 .6-2.6 .6-5.7 .6-7.9 .4-2.8 .2 .7 .6 6.6 .6 6.4 .6 4.3 .6 1.5 .6 .8 .6 .5 .6 .1 .6 .1 .6 .1 .6 .2 .6-.2 .6 0 .6 .6 .6-.3 .6 .2 .6-.7 .6 .5 .6 .3 .6 .3 .6-.3 .6-.4 .6-.2 .6 .7 .6-.4 .6 .3 .6-.6 .6 .2 .6 .1 .6 .6 .6 0 .6-.4 .6-.3 .6-.1 .6-.2 .6 .3 .6 .3 .6-.4 .6 0 .6 .2 .6-.1 .6 .4 .6 .1 .6-.4 .6-.3 .6 .1 .6 0 .6-.1 .6-.3 .6-.1 .6 .3 .6-.9 .6-.8 .6-1.9 .6-4.2 .6-7.6 .6-9.3 .3-2.1 .3 2 .6 9.4 .6 7.7 .6 4.1 .6 1.6 .6 .9 .6 .6 .6 0 .6 .6 .6 .3 .6-.3 .6 .2 .6-.1 .6 .2 .6 .1 .6-.1 .6 .2 .6-.4 .6 .2 .6 .1 .6 .4 .6 .1 .6-.5 .6 .4 .6-.6 .6 .4 .6-.1 .6-.3 .6 .4 .6-.2 .6-.1 .6 0 .6 .1 .6-.1 .6 .1 .6-.3 .6 .3 .6-.4 .6 .7 .6-.4 .6-.8 .6-1.4 .6-2.4 .6-2.1 .2-.5 .4 1.1 .6 2.7 .6 1.4 .6 1.5 .6 .3 .6 .1 .6 0 .6 .1 .6-.3 .6-.3 .6 .4 .6 .1 .6 .3 .6-.1 .6-.1 .6-.1 .6 .1 .6 .5 .6-.2 .6-.7 .6 .4 .6-.2 .6 .4 .6-.2 .6 .3 .6 .2 .6-.2 .6-.3 .6 0 .6 .1 .6 .2 .6-.8 .6 .2 .6 .5 .6 .1 .6-.5 .6 .1 .6 .3 .6 .2 .6 .3 .6-.6 .6 0 .6-.3 .6 .1 .6 .3 .6-.1 .6-.2 .6 .2 .6 .4 .6-.5 .6-.2 .6 .3 .6-.8 .6 0 .6-.2 .6-1.2 .6-2 .6-4.7 .6-5.2 .4-2.2 .2 .9 .6 4.7 .6 5.1 .6 2.6 .6 1.8 .6 .5 .6-.1 .6 .1 .6 .2 .6 .4 .6-.7 .6-.2 .6 .3 .6-.6 .6 .5 .6-.7 .6-2.1 .6-3.9 .6-5.1 .5-2.6 .1 .1 .6 4.4 .6 5.2 .6 3 .6 1.1 .6 .7 .6 0 .6 .3 .6 .4 .6 0 .6-.1 .6 .4 .6-.5 .6 .5 .6-.3 .6-.3 .6 .1 .6 0 .6-.1 .6-.1 .6 .2 .6 .1 .6 .6 .6-.2 .6-.5 .6 .4 .6 .2 .6-.1 .6-.4 .6 0 .6-.1 .6 .4 .6-.2 .6-.4 .6 .3 .6 .4 .6 .2 .6-.2 .6-.2 .6 .1 .6-.2 .6 .2 .6-.3 .6 .1 .6 .3 .6-.4 .6-.1 .6 .6 .6-.3 .6-.1 .6 .2 .6-.5 .6 .5 .6-.1 .6-.1 .6-.2 .6 .6 .6-.7 .6 .3 .6-.2 .6 .7 .6-.4 .6-.4 .6 .6 .6 0 .6-.6 .6-.4 .6-.2 .6-.2 .2-.2 .4 0 .6 .3 .6 .5 .6 .4 .6-.3 .6 .3 .6 .3 .6 0 .6-.2 .6 .3 .6-.2 .6 .1 .6 .1 .6-.2 .6-.1 .6 .2 .6-.3 .6-.1 .6 .1 .6 .2 .6 0 .6-.4 .6 .3 .6-.3 .6 .2 .6 0 .6-.9 .6-.1 .6-1.4 .6-1.6 .3-.4 .3 0 .6 1.8 .6 1.6 .6 .6 .6 .1 .6 .3 .6 0 .6-.1 .6 0 .6 .1 .6-.1 .6 .2 .6-.4 .6 .6 .6-.3 .6 0 .6 .1 .6 0 .6-.2 .6 .3 .6-.2 .6 .1 .6 .1 .6-.3 .6 .5 .6 0 .6-.3 .6-.1 .6 .2 .6-.3 .6 .5 .6 .3 .6-.6 .6 .4 .6 0 .6-.1 .6 0 .6-.4 .6 .1 .6 .2 .6-.8 .6-.5 .6-.9 .6-.7 .3 .2 .3-.6 .6 1.2 .6 1.5 .6 .5 .6-.2 .6 0 .6-.1 .6-.4 .6 .3 .6 0 .6 .2 .6 .5 .6-.4 .6-.1 .6 .3 .6 .2 .6-.4 .6-.1 .6-.3 .6 .3 .6-.2 .6 .1 .6 .1 .6 .2 .6-.1 .6-.4 .6-.2 .6-.7 .5 .4 .1-.7 .6 .6 .6 .5 .6 .9 .6-.4 .6-.4 .6 .7 .6 0 .6-.3 .6 .3 .6-.3 .6 0 .6 .3 .6-.2 .6-.2 .6-.1 .6 .4 .6 0 .6-.3 .6 .2 .6 .2 .6-.2 .6-.5 .6 .9 .6-.9 .6 .5 .6-.2 .6 .3" stroke="#8000ff" stroke-width="1.7" fill="none" stroke-linejoin="round"/>
<text x="0" y="0" font-size="14.2" font-family="'Liberation Serif','Times New Roman',serif" font-weight="bold" transform="translate(1456.1 80.8) scale(1 1.07)">600 <tspan dy="-5.26" font-size="8.8">o</tspan><tspan dy="5.26">C</tspan></text>
<text x="0" y="0" font-size="14.2" font-family="'Liberation Serif','Times New Roman',serif" font-weight="bold" transform="translate(1456.6 131.4) scale(1 1.07)">500 <tspan dy="-5.26" font-size="8.8">o</tspan><tspan dy="5.26">C</tspan></text>
<text x="0" y="0" font-size="14.2" font-family="'Liberation Serif','Times New Roman',serif" font-weight="bold" transform="translate(1456.6 176.9) scale(1 1.07)">450 <tspan dy="-5.26" font-size="8.8">o</tspan><tspan dy="5.26">C</tspan></text>
<text x="0" y="0" font-size="14.2" font-family="'Liberation Serif','Times New Roman',serif" font-weight="bold" transform="translate(1456.6 216.2) scale(1 1.07)">400 <tspan dy="-5.26" font-size="8.8">o</tspan><tspan dy="5.26">C</tspan></text>
<text x="0" y="0" font-size="14.2" font-family="'Liberation Serif','Times New Roman',serif" font-weight="bold" transform="translate(1457.1 247.9) scale(1 1.07)">350 <tspan dy="-5.26" font-size="8.8">o</tspan><tspan dy="5.26">C</tspan></text>
<text x="0" y="0" font-size="14.2" font-family="'Liberation Serif','Times New Roman',serif" font-weight="bold" transform="translate(1457.1 281.8) scale(1 1.07)">300 <tspan dy="-5.26" font-size="8.8">o</tspan><tspan dy="5.26">C</tspan></text>
<text x="0" y="0" font-size="14.2" font-family="'Liberation Serif','Times New Roman',serif" font-weight="bold" transform="translate(1458.1 315.3) scale(1 1.07)">250 <tspan dy="-5.26" font-size="8.8">o</tspan><tspan dy="5.26">C</tspan></text>
<text x="1061.2" y="186.9" font-size="17" font-family="'Liberation Serif','Times New Roman',serif" font-weight="bold" text-anchor="middle" fill="#000" transform="rotate(-90 1061.2 186.9)">Intensity (a.u.)</text>
<text x="1296.9" y="399.8" font-size="17.6" font-family="'Liberation Serif','Times New Roman',serif" font-weight="bold" text-anchor="middle">2&#952; <tspan font-weight="normal">(&#176;)</tspan></text>
<text x="1082.6" y="48.8" font-size="23.3" font-family="'Liberation Serif','Times New Roman',serif" font-weight="bold" fill="#000">(c)</text>
<rect x="74.6" y="421.5" width="405" height="325.8" fill="none" stroke="#2b2b2b" stroke-width="1.3"/>
<path d="M277.1 421.5V747.3M74.6 584.4H479.6" stroke="#2b2b2b" stroke-width="1.1" fill="none"/>
<path d="M74.6 747.3v6.5M125.2 747.3v6.5M175.8 747.3v6.5M226.5 747.3v6.5M277.1 747.3v6.5M327.7 747.3v6.5M378.4 747.3v6.5M429 747.3v6.5M479.6 747.3v6.5M99.9 747.3v3.5M150.5 747.3v3.5M201.2 747.3v3.5M251.8 747.3v3.5M302.4 747.3v3.5M353 747.3v3.5M403.7 747.3v3.5M454.3 747.3v3.5" stroke="#2b2b2b" stroke-width="1.3" fill="none"/>
<path d="M74.6 714.7h-6.5M74.6 649.6h-6.5M74.6 584.4h-6.5M74.6 519.2h-6.5M74.6 454.1h-6.5M74.6 747.3h-3.5M74.6 682.1h-3.5M74.6 617h-3.5M74.6 551.8h-3.5M74.6 486.7h-3.5M74.6 421.5h-3.5" stroke="#2b2b2b" stroke-width="1.3" fill="none"/>
<text x="74.6" y="768.8" font-size="13.6" font-family="'Liberation Serif','Times New Roman',serif" text-anchor="middle" fill="#222222">-800,000</text>
<text x="125.2" y="768.8" font-size="13.6" font-family="'Liberation Serif','Times New Roman',serif" text-anchor="middle" fill="#222222">-600,000</text>
<text x="175.8" y="768.8" font-size="13.6" font-family="'Liberation Serif','Times New Roman',serif" text-anchor="middle" fill="#222222">-400,000</text>
<text x="226.5" y="768.8" font-size="13.6" font-family="'Liberation Serif','Times New Roman',serif" text-anchor="middle" fill="#222222">-200,000</text>
<text x="277.1" y="768.8" font-size="13.6" font-family="'Liberation Serif','Times New Roman',serif" text-anchor="middle" fill="#222222">0</text>
<text x="327.7" y="768.8" font-size="13.6" font-family="'Liberation Serif','Times New Roman',serif" text-anchor="middle" fill="#222222">200,000</text>
<text x="378.4" y="768.8" font-size="13.6" font-family="'Liberation Serif','Times New Roman',serif" text-anchor="middle" fill="#222222">400,000</text>
<text x="429" y="768.8" font-size="13.6" font-family="'Liberation Serif','Times New Roman',serif" text-anchor="middle" fill="#222222">600,000</text>
<text x="479.6" y="768.8" font-size="13.6" font-family="'Liberation Serif','Times New Roman',serif" text-anchor="middle" fill="#222222">800,000</text>
<text x="63.6" y="720.1" font-size="13.6" font-family="'Liberation Serif','Times New Roman',serif" text-anchor="end" fill="#222222">-40</text>
<text x="63.6" y="655" font-size="13.6" font-family="'Liberation Serif','Times New Roman',serif" text-anchor="end" fill="#222222">-20</text>
<text x="63.6" y="589.8" font-size="13.6" font-family="'Liberation Serif','Times New Roman',serif" text-anchor="end" fill="#222222">0</text>
<text x="63.6" y="524.6" font-size="13.6" font-family="'Liberation Serif','Times New Roman',serif" text-anchor="end" fill="#222222">20</text>
<text x="63.6" y="459.5" font-size="13.6" font-family="'Liberation Serif','Times New Roman',serif" text-anchor="end" fill="#222222">40</text>
<path d="M74.6 590.6l2.5 0 2.5 0 2.4 0 2.5 0 2.4 0 2.4-.1 2.5 0 2.4 0 2.4 0 2.3 0 2.4 0 2.4 0 2.3 0 2.3 0 2.4 0 2.3 0 2.3 0 2.3-.1 2.2 0 2.3 0 2.2 0 2.3 0 2.2 0 2.2 0 2.2 0 2.2 0 2.2-.1 2.1 0 2.2 0 2.1 0 2.1 0 2.2 0 2 0 2.1 0 2.1-.1 2.1 0 2 0 2 0 2.1 0 2 0 2 0 1.9-.1 2 0 2 0 1.9 0 1.9 0 1.9 0 1.9-.1 1.9 0 1.9 0 1.8 0 1.9 0 1.8-.1 1.8 0 1.8 0 1.8 0 1.8-.1 1.7 0 1.8 0 1.7 0 1.7-.1 1.7 0 1.7 0 1.6 0 1.7-.1 1.6 0 1.7 0 1.6-.1 1.6 0 1.5 0 1.6-.1 1.5 0 1.6-.1 1.5 0 1.5 0 1.4-.1 1.5 0 1.5-.1 1.4 0 1.4-.1 1.4 0 1.4-.1 1.3 0 1.4-.1 1.3-.1 1.3 0 1.3-.1 1.3-.1 1.2 0 1.3-.1 1.2-.1 1.2-.1 1.2 0 1.1-.1 1.2-.1 1.1-.1 1.1-.1 1.1-.1 1.1-.1 1-.1 1-.2 1-.1 1-.1 1-.1 .9-.2 .9-.1 .9-.2 .9-.1 .8-.2 .9-.1 .8-.2 .7-.2 .8-.1 .7-.2 .7-.2 .7-.2 .6-.2 .6-.2 .6-.2 .6-.1 .5-.2 .5-.1 .4-.2 .4-.1 .4-.1 .3-.1 .3 0 .2-.1 .2 0 .1-.1 .1 0 .2 0 .2-.1 .3 0 .3-.1 .4-.1 .4-.1 .4-.1 .5 0 .5-.1 .6-.1 .6-.1 .6-.1 .6-.1 .7-.1 .7-.1 .7-.1 .8-.1 .7-.1 .8-.1 .9-.1 .8-.1 .9-.1 .9 0 .9-.1 .9-.1 1-.1 1-.1 1 0 1-.1 1-.1 1.1 0 1.1-.1 1.1-.1 1.1 0 1.2-.1 1.1-.1 1.2 0 1.2-.1 1.2 0 1.3-.1 1.2 0 1.3-.1 1.3 0 1.3-.1 1.3 0 1.4-.1 1.3 0 1.4-.1 1.4 0 1.4 0 1.4-.1 1.5 0 1.5-.1 1.4 0 1.5 0 1.5-.1 1.6 0 1.5 0 1.6-.1 1.5 0 1.6 0 1.6-.1 1.7 0 1.6 0 1.7-.1 1.6 0 1.7 0 1.7 0 1.7-.1 1.7 0 1.8 0 1.7 0 1.8-.1 1.8 0 1.8 0 1.8 0 1.8 0 1.9-.1 1.8 0 1.9 0 1.9 0 1.9 0 1.9-.1 1.9 0 1.9 0 2 0 2 0 1.9 0 2-.1 2 0 2.1 0 2 0 2 0 2.1 0 2.1 0 2.1-.1 2 0 2.2 0 2.1 0 2.1 0 2.2 0 2.1 0 2.2 0 2.2-.1 2.2 0 2.2 0 2.2 0 2.3 0 2.2 0 2.3 0 2.2 0 2.3 0 2.3 0 2.3-.1 2.4 0 2.3 0 2.3 0 2.4 0 2.4 0 2.3 0 2.4 0 2.4 0 2.5 0 2.4 0 2.4 0 2.5-.1 2.4 0 2.5 0 2.5 0" stroke="#8000ff" stroke-width="1.3" fill="none"/>
<path d="M74.6 590.6l2.5 0 2.5 0 2.4 0 2.5 0 2.4 0 2.4-.1 2.5 0 2.4 0 2.4 0 2.3 0 2.4 0 2.4 0 2.3 0 2.3 0 2.4 0 2.3 0 2.3 0 2.3-.1 2.2 0 2.3 0 2.2 0 2.3 0 2.2 0 2.2 0 2.2 0 2.2 0 2.2-.1 2.1 0 2.2 0 2.1 0 2.1 0 2.2 0 2 0 2.1 0 2.1-.1 2.1 0 2 0 2 0 2.1 0 2 0 2 0 1.9-.1 2 0 2 0 1.9 0 1.9 0 1.9 0 1.9-.1 1.9 0 1.9 0 1.8 0 1.9 0 1.8-.1 1.8 0 1.8 0 1.8 0 1.8-.1 1.7 0 1.8 0 1.7 0 1.7-.1 1.7 0 1.7 0 1.6 0 1.7-.1 1.6 0 1.7 0 1.6-.1 1.6 0 1.5 0 1.6-.1 1.5 0 1.6 0 1.5-.1 1.5 0 1.4 0 1.5-.1 1.5 0 1.4-.1 1.4 0 1.4 0 1.4-.1 1.3 0 1.4-.1 1.3 0 1.3-.1 1.3 0 1.3-.1 1.2 0 1.3-.1 1.2 0 1.2-.1 1.2-.1 1.1 0 1.2-.1 1.1-.1 1.1 0 1.1-.1 1.1-.1 1 0 1-.1 1-.1 1-.1 1 0 .9-.1 .9-.1 .9-.1 .9-.1 .8-.1 .9-.1 .8 0 .7-.1 .8-.1 .7-.1 .7-.1 .7-.1 .6-.1 .6-.1 .6-.1 .6-.1 .5-.1 .5-.1 .4-.1 .4-.1 .4-.1 .3 0 .3-.1 .2-.1 .2 0 .1 0 .1 0 .2-.1 .2 0 .3-.1 .3-.1 .4-.1 .4-.1 .4-.1 .5-.2 .5-.2 .6-.1 .6-.2 .6-.2 .6-.2 .7-.2 .7-.2 .7-.1 .8-.2 .7-.2 .8-.1 .9-.2 .8-.2 .9-.1 .9-.1 .9-.2 .9-.1 1-.1 1-.2 1-.1 1-.1 1-.1 1.1-.1 1.1-.1 1.1-.1 1.1-.1 1.2-.1 1.1-.1 1.2-.1 1.2 0 1.2-.1 1.3-.1 1.2-.1 1.3 0 1.3-.1 1.3-.1 1.3 0 1.4-.1 1.3 0 1.4-.1 1.4 0 1.4-.1 1.4 0 1.5-.1 1.5 0 1.4-.1 1.5 0 1.5 0 1.6-.1 1.5 0 1.6-.1 1.5 0 1.6 0 1.6-.1 1.7 0 1.6 0 1.7-.1 1.6 0 1.7 0 1.7 0 1.7-.1 1.7 0 1.8 0 1.7 0 1.8-.1 1.8 0 1.8 0 1.8 0 1.8 0 1.9-.1 1.8 0 1.9 0 1.9 0 1.9 0 1.9-.1 1.9 0 1.9 0 2 0 2 0 1.9 0 2-.1 2 0 2.1 0 2 0 2 0 2.1 0 2.1 0 2.1-.1 2 0 2.2 0 2.1 0 2.1 0 2.2 0 2.1 0 2.2 0 2.2-.1 2.2 0 2.2 0 2.2 0 2.3 0 2.2 0 2.3 0 2.2 0 2.3 0 2.3 0 2.3-.1 2.4 0 2.3 0 2.3 0 2.4 0 2.4 0 2.3 0 2.4 0 2.4 0 2.5 0 2.4 0 2.4 0 2.5-.1 2.4 0 2.5 0 2.5 0" stroke="#8000ff" stroke-width="1.3" fill="none"/>
<path d="M74.6 605.7l2.5 0 2.5 0 2.4 0 2.5 0 2.4-.1 2.4 0 2.5 0 2.4 0 2.4 0 2.3-.1 2.4 0 2.4 0 2.3 0 2.3-.1 2.4 0 2.3 0 2.3 0 2.3-.1 2.2 0 2.3 0 2.2 0 2.3-.1 2.2 0 2.2 0 2.2-.1 2.2 0 2.2 0 2.1-.1 2.2 0 2.1 0 2.1-.1 2.2 0 2 0 2.1-.1 2.1 0 2.1 0 2-.1 2 0 2.1-.1 2 0 2 0 1.9-.1 2 0 2-.1 1.9 0 1.9-.1 1.9 0 1.9-.1 1.9 0 1.9-.1 1.8 0 1.9-.1 1.8-.1 1.8 0 1.8-.1 1.8 0 1.8-.1 1.7-.1 1.8-.1 1.7 0 1.7-.1 1.7-.1 1.7-.1 1.6 0 1.7-.1 1.6-.1 1.7-.1 1.6-.1 1.6-.1 1.5-.1 1.6-.1 1.5-.1 1.6-.1 1.5-.2 1.5-.1 1.4-.1 1.5-.2 1.5-.1 1.4-.2 1.4-.1 1.4-.2 1.4-.1 1.3-.2 1.4-.2 1.3-.2 1.3-.2 1.3-.2 1.3-.3 1.2-.2 1.3-.3 1.2-.2 1.2-.3 1.2-.3 1.1-.3 1.2-.3 1.1-.4 1.1-.4 1.1-.3 1.1-.4 1-.5 1-.4 1-.5 1-.5 1-.5 .9-.6 .9-.6 .9-.6 .9-.6 .8-.7 .9-.8 .8-.7 .7-.8 .8-.9 .7-.9 .7-.9 .7-1 .6-1 .6-.8 .6-.8 .6-.6 .5-.6 .5-.5 .4-.5 .4-.4 .4-.3 .3-.3 .3-.2 .2-.2 .2-.2 .1 0 .1-.1 .2-.1 .2-.2 .3-.2 .3-.3 .4-.2 .4-.3 .4-.3 .5-.3 .5-.3 .6-.3 .6-.3 .6-.3 .6-.3 .7-.3 .7-.3 .7-.3 .8-.3 .7-.3 .8-.3 .9-.3 .8-.2 .9-.3 .9-.2 .9-.3 .9-.2 1-.2 1-.3 1-.2 1-.2 1-.2 1.1-.2 1.1-.2 1.1-.2 1.1-.2 1.2-.1 1.1-.2 1.2-.2 1.2-.1 1.2-.2 1.3-.1 1.2-.2 1.3-.1 1.3-.2 1.3-.1 1.3-.1 1.4-.2 1.3-.1 1.4-.1 1.4-.1 1.4-.2 1.4-.1 1.5-.1 1.5-.1 1.4-.1 1.5-.1 1.5-.1 1.6-.1 1.5-.1 1.6-.1 1.5-.1 1.6-.1 1.6-.1 1.7 0 1.6-.1 1.7-.1 1.6-.1 1.7-.1 1.7 0 1.7-.1 1.7-.1 1.8 0 1.7-.1 1.8-.1 1.8 0 1.8-.1 1.8-.1 1.8 0 1.9-.1 1.8 0 1.9-.1 1.9 0 1.9-.1 1.9 0 1.9-.1 1.9 0 2-.1 2 0 1.9-.1 2 0 2 0 2.1-.1 2 0 2-.1 2.1 0 2.1 0 2.1-.1 2 0 2.2 0 2.1-.1 2.1 0 2.2 0 2.1-.1 2.2 0 2.2 0 2.2-.1 2.2 0 2.2 0 2.3 0 2.2-.1 2.3 0 2.2 0 2.3-.1 2.3 0 2.3 0 2.4 0 2.3 0 2.3-.1 2.4 0 2.4 0 2.3 0 2.4-.1 2.4 0 2.5 0 2.4 0 2.4 0 2.5-.1 2.4 0 2.5 0 2.5 0" stroke="#000080" stroke-width="1.3" fill="none"/>
<path d="M74.6 605.7l2.5 0 2.5 0 2.4 0 2.5 0 2.4-.1 2.4 0 2.5 0 2.4 0 2.4 0 2.3-.1 2.4 0 2.4 0 2.3 0 2.3-.1 2.4 0 2.3 0 2.3 0 2.3-.1 2.2 0 2.3 0 2.2 0 2.3-.1 2.2 0 2.2 0 2.2-.1 2.2 0 2.2 0 2.1-.1 2.2 0 2.1 0 2.1-.1 2.2 0 2 0 2.1-.1 2.1 0 2.1 0 2-.1 2 0 2.1-.1 2 0 2 0 1.9-.1 2 0 2-.1 1.9 0 1.9-.1 1.9 0 1.9-.1 1.9 0 1.9-.1 1.8 0 1.9-.1 1.8-.1 1.8 0 1.8-.1 1.8 0 1.8-.1 1.7-.1 1.8 0 1.7-.1 1.7-.1 1.7-.1 1.7 0 1.6-.1 1.7-.1 1.6-.1 1.7-.1 1.6-.1 1.6-.1 1.5 0 1.6-.1 1.5-.1 1.6-.1 1.5-.1 1.5-.2 1.4-.1 1.5-.1 1.5-.1 1.4-.1 1.4-.1 1.4-.1 1.4-.2 1.3-.1 1.4-.1 1.3-.2 1.3-.1 1.3-.2 1.3-.1 1.2-.2 1.3-.1 1.2-.2 1.2-.1 1.2-.2 1.1-.2 1.2-.2 1.1-.1 1.1-.2 1.1-.2 1.1-.2 1-.2 1-.2 1-.3 1-.2 1-.2 .9-.3 .9-.2 .9-.3 .9-.2 .8-.3 .9-.3 .8-.3 .7-.3 .8-.3 .7-.3 .7-.3 .7-.3 .6-.3 .6-.3 .6-.3 .6-.3 .5-.4 .5-.3 .4-.3 .4-.2 .4-.3 .3-.2 .3-.3 .2-.1 .2-.2 .1 0 .1-.1 .2-.2 .2-.2 .3-.2 .3-.3 .4-.3 .4-.4 .4-.5 .5-.5 .5-.6 .6-.7 .6-.8 .6-.8 .6-1 .7-1 .7-.9 .7-.9 .8-.8 .7-.8 .8-.7 .9-.7 .8-.7 .9-.7 .9-.6 .9-.5 .9-.6 1-.5 1-.5 1-.5 1-.4 1-.4 1.1-.4 1.1-.4 1.1-.4 1.1-.3 1.2-.3 1.1-.3 1.2-.3 1.2-.3 1.2-.2 1.3-.3 1.2-.2 1.3-.3 1.3-.2 1.3-.2 1.3-.2 1.4-.1 1.3-.2 1.4-.2 1.4-.2 1.4-.1 1.4-.2 1.5-.1 1.5-.1 1.4-.2 1.5-.1 1.5-.1 1.6-.1 1.5-.1 1.6-.1 1.5-.1 1.6-.1 1.6-.1 1.7-.1 1.6-.1 1.7-.1 1.6-.1 1.7 0 1.7-.1 1.7-.1 1.7-.1 1.8 0 1.7-.1 1.8-.1 1.8 0 1.8-.1 1.8-.1 1.8 0 1.9-.1 1.8 0 1.9-.1 1.9 0 1.9-.1 1.9 0 1.9-.1 1.9 0 2-.1 2 0 1.9-.1 2 0 2 0 2.1-.1 2 0 2-.1 2.1 0 2.1 0 2.1-.1 2 0 2.2 0 2.1-.1 2.1 0 2.2 0 2.1-.1 2.2 0 2.2 0 2.2-.1 2.2 0 2.2 0 2.3 0 2.2-.1 2.3 0 2.2 0 2.3-.1 2.3 0 2.3 0 2.4 0 2.3 0 2.3-.1 2.4 0 2.4 0 2.3 0 2.4-.1 2.4 0 2.5 0 2.4 0 2.4 0 2.5-.1 2.4 0 2.5 0 2.5 0" stroke="#000080" stroke-width="1.3" fill="none"/>
<path d="M74.6 667.6l2.5-.1 2.5 0 2.4-.1 2.5-.1 2.4 0 2.4-.1 2.5-.1 2.4 0 2.4-.1 2.3-.1 2.4 0 2.4-.1 2.3-.1 2.3-.1 2.4-.1 2.3 0 2.3-.1 2.3-.1 2.2-.1 2.3-.1 2.2-.1 2.3-.1 2.2-.1 2.2-.1 2.2-.1 2.2-.1 2.2-.1 2.1-.1 2.2-.1 2.1-.1 2.1-.1 2.2-.1 2-.1 2.1-.2 2.1-.1 2.1-.1 2-.1 2-.2 2.1-.1 2-.1 2-.2 1.9-.1 2-.2 2-.1 1.9-.2 1.9-.2 1.9-.1 1.9-.2 1.9-.2 1.9-.2 1.8-.2 1.9-.2 1.8-.2 1.8-.2 1.8-.2 1.8-.2 1.8-.2 1.7-.3 1.8-.2 1.7-.2 1.7-.3 1.7-.3 1.7-.2 1.6-.3 1.7-.3 1.6-.3 1.7-.3 1.6-.3 1.6-.4 1.5-.3 1.6-.4 1.5-.4 1.6-.4 1.5-.4 1.5-.4 1.4-.4 1.5-.5 1.5-.5 1.4-.4 1.4-.6 1.4-.5 1.4-.6 1.3-.6 1.4-.6 1.3-.6 1.3-.7 1.3-.7 1.3-.8 1.2-.8 1.3-.8 1.2-.8 1.2-.9 1.2-1 1.1-1 1.2-1 1.1-1.1 1.1-1.2 1.1-1.2 1.1-1.3 1-1.4 1-1.4 1-1.5 1-1.6 1-1.7 .9-1.7 .9-1.9 .9-2 .9-2.1 .8-2.1 .9-2.4 .8-2.4 .7-2.5 .8-2.7 .7-2.8 .7-3 .7-3.1 .6-3.2 .6-3.3 .6-3.5 .6-3.6 .5-3.5 .5-3.2 .4-2.7 .4-2.3 .4-2 .3-1.7 .3-1.3 .2-1.1 .2-.8 .1-.4 .1-.3 .2-.8 .2-1 .3-1.1 .3-1.4 .4-1.4 .4-1.5 .4-1.5 .5-1.6 .5-1.6 .6-1.6 .6-1.6 .6-1.5 .6-1.6 .7-1.5 .7-1.5 .7-1.5 .8-1.4 .7-1.3 .8-1.3 .9-1.3 .8-1.3 .9-1.2 .9-1.1 .9-1.1 .9-1.1 1-1 1-1 1-.9 1-1 1-.8 1.1-.9 1.1-.8 1.1-.8 1.1-.8 1.2-.7 1.1-.7 1.2-.7 1.2-.6 1.2-.7 1.3-.6 1.2-.6 1.3-.5 1.3-.6 1.3-.5 1.3-.5 1.4-.5 1.3-.5 1.4-.5 1.4-.4 1.4-.5 1.4-.4 1.5-.4 1.5-.4 1.4-.4 1.5-.4 1.5-.3 1.6-.4 1.5-.3 1.6-.4 1.5-.3 1.6-.3 1.6-.3 1.7-.3 1.6-.3 1.7-.3 1.6-.2 1.7-.3 1.7-.2 1.7-.3 1.7-.2 1.8-.3 1.7-.2 1.8-.2 1.8-.2 1.8-.2 1.8-.2 1.8-.2 1.9-.2 1.8-.2 1.9-.2 1.9-.1 1.9-.2 1.9-.2 1.9-.1 1.9-.2 2-.2 2-.1 1.9-.2 2-.1 2-.1 2.1-.2 2-.1 2-.1 2.1-.2 2.1-.1 2.1-.1 2-.1 2.2-.1 2.1-.1 2.1-.1 2.2-.2 2.1-.1 2.2-.1 2.2-.1 2.2-.1 2.2 0 2.2-.1 2.3-.1 2.2-.1 2.3-.1 2.2-.1 2.3-.1 2.3-.1 2.3 0 2.4-.1 2.3-.1 2.3-.1 2.4 0 2.4-.1 2.3-.1 2.4-.1 2.4 0 2.5-.1 2.4-.1 2.4 0 2.5-.1 2.4 0 2.5-.1 2.5-.1" stroke="#008000" stroke-width="1.3" fill="none"/>
<path d="M74.6 667.6l2.5-.1 2.5 0 2.4-.1 2.5-.1 2.4 0 2.4-.1 2.5-.1 2.4 0 2.4-.1 2.3-.1 2.4 0 2.4-.1 2.3-.1 2.3-.1 2.4-.1 2.3 0 2.3-.1 2.3-.1 2.2-.1 2.3-.1 2.2-.1 2.3-.1 2.2-.1 2.2-.1 2.2-.1 2.2-.1 2.2-.1 2.1-.1 2.2-.1 2.1-.1 2.1-.1 2.2-.1 2-.1 2.1-.2 2.1-.1 2.1-.1 2-.1 2-.2 2.1-.1 2-.1 2-.2 1.9-.1 2-.2 2-.1 1.9-.2 1.9-.2 1.9-.1 1.9-.2 1.9-.2 1.9-.2 1.8-.2 1.9-.2 1.8-.2 1.8-.2 1.8-.2 1.8-.2 1.8-.2 1.7-.2 1.8-.3 1.7-.2 1.7-.3 1.7-.2 1.7-.3 1.6-.3 1.7-.3 1.6-.3 1.7-.3 1.6-.3 1.6-.3 1.5-.3 1.6-.3 1.5-.4 1.6-.4 1.5-.3 1.5-.4 1.4-.4 1.5-.4 1.5-.4 1.4-.5 1.4-.4 1.4-.5 1.4-.4 1.3-.5 1.4-.6 1.3-.5 1.3-.5 1.3-.6 1.3-.6 1.2-.6 1.3-.6 1.2-.6 1.2-.7 1.2-.7 1.1-.7 1.2-.8 1.1-.7 1.1-.8 1.1-.9 1.1-.8 1-.9 1-1 1-.9 1-1.1 1-1 .9-1.1 .9-1.1 .9-1.2 .9-1.2 .8-1.3 .9-1.3 .8-1.3 .7-1.4 .8-1.5 .7-1.4 .7-1.5 .7-1.6 .6-1.6 .6-1.6 .6-1.6 .6-1.6 .5-1.7 .5-1.6 .4-1.6 .4-1.5 .4-1.4 .3-1.4 .3-1.1 .2-1.1 .2-.7 .1-.4 .1-.4 .2-.8 .2-1.1 .3-1.4 .3-1.7 .4-2 .4-2.4 .4-2.7 .5-3.2 .5-3.6 .6-3.5 .6-3.4 .6-3.2 .6-3.2 .7-3 .7-2.9 .7-2.8 .8-2.6 .7-2.5 .8-2.4 .9-2.3 .8-2.1 .9-2.1 .9-1.9 .9-1.8 .9-1.8 1-1.6 1-1.6 1-1.4 1-1.4 1-1.4 1.1-1.2 1.1-1.2 1.1-1.2 1.1-1.1 1.2-1 1.1-1 1.2-.9 1.2-.9 1.2-.8 1.3-.8 1.2-.8 1.3-.7 1.3-.7 1.3-.7 1.3-.6 1.4-.6 1.3-.6 1.4-.6 1.4-.5 1.4-.5 1.4-.5 1.5-.5 1.5-.4 1.4-.4 1.5-.4 1.5-.4 1.6-.4 1.5-.4 1.6-.3 1.5-.4 1.6-.3 1.6-.3 1.7-.3 1.6-.3 1.7-.3 1.6-.3 1.7-.3 1.7-.2 1.7-.3 1.7-.2 1.8-.2 1.7-.3 1.8-.2 1.8-.2 1.8-.2 1.8-.2 1.8-.2 1.9-.2 1.8-.2 1.9-.2 1.9-.1 1.9-.2 1.9-.2 1.9-.1 1.9-.2 2-.2 2-.1 1.9-.2 2-.1 2-.1 2.1-.2 2-.1 2-.1 2.1-.2 2.1-.1 2.1-.1 2-.1 2.2-.1 2.1-.1 2.1-.1 2.2-.2 2.1-.1 2.2-.1 2.2-.1 2.2-.1 2.2 0 2.2-.1 2.3-.1 2.2-.1 2.3-.1 2.2-.1 2.3-.1 2.3-.1 2.3 0 2.4-.1 2.3-.1 2.3-.1 2.4 0 2.4-.1 2.3-.1 2.4-.1 2.4 0 2.5-.1 2.4-.1 2.4 0 2.5-.1 2.4 0 2.5-.1 2.5-.1" stroke="#008000" stroke-width="1.3" fill="none"/>
<path d="M74.6 684.5l2.5-.1 2.5-.1 2.4 0 2.5-.1 2.4-.1 2.4-.1 2.5-.1 2.4 0 2.4-.1 2.3-.1 2.4-.1 2.4-.1 2.3-.1 2.3-.1 2.4-.1 2.3-.1 2.3-.1 2.3-.1 2.2-.1 2.3-.1 2.2-.1 2.3-.1 2.2-.1 2.2-.1 2.2-.2 2.2-.1 2.2-.1 2.1-.1 2.2-.2 2.1-.1 2.1-.1 2.2-.2 2-.1 2.1-.2 2.1-.1 2.1-.2 2-.1 2-.2 2.1-.1 2-.2 2-.2 1.9-.2 2-.2 2-.1 1.9-.2 1.9-.2 1.9-.2 1.9-.2 1.9-.3 1.9-.2 1.8-.2 1.9-.2 1.8-.3 1.8-.2 1.8-.3 1.8-.3 1.8-.2 1.7-.3 1.8-.3 1.7-.3 1.7-.3 1.7-.3 1.7-.3 1.6-.4 1.7-.3 1.6-.4 1.7-.4 1.6-.4 1.6-.4 1.5-.4 1.6-.4 1.5-.5 1.6-.4 1.5-.5 1.5-.5 1.4-.6 1.5-.5 1.5-.6 1.4-.6 1.4-.6 1.4-.6 1.4-.7 1.3-.7 1.4-.8 1.3-.8 1.3-.8 1.3-.8 1.3-.9 1.2-1 1.3-1 1.2-1 1.2-1.1 1.2-1.1 1.1-1.2 1.2-1.3 1.1-1.3 1.1-1.4 1.1-1.5 1.1-1.5 1-1.7 1-1.7 1-1.8 1-1.9 1-2 .9-2.2 .9-2.2 .9-2.4 .9-2.5 .8-2.6 .9-2.8 .8-2.9 .7-3.1 .8-3.2 .7-3.4 .7-3.6 .7-3.7 .6-3.8 .6-4.1 .6-4.1 .6-4.3 .5-4.3 .5-3.8 .4-3.2 .4-2.8 .4-2.4 .3-2 .3-1.7 .2-1.3 .2-.9 .1-.5 .1-.4 .2-.9 .2-1.2 .3-1.4 .3-1.6 .4-1.7 .4-1.8 .4-1.8 .5-1.9 .5-2 .6-1.9 .6-1.9 .6-1.9 .6-1.9 .7-1.8 .7-1.8 .7-1.7 .8-1.7 .7-1.7 .8-1.6 .9-1.5 .8-1.5 .9-1.4 .9-1.4 .9-1.3 .9-1.3 1-1.2 1-1.2 1-1.2 1-1.1 1-1 1.1-1.1 1.1-.9 1.1-1 1.1-.9 1.2-.9 1.1-.8 1.2-.9 1.2-.7 1.2-.8 1.3-.7 1.2-.7 1.3-.7 1.3-.7 1.3-.6 1.3-.7 1.4-.6 1.3-.5 1.4-.6 1.4-.6 1.4-.5 1.4-.5 1.5-.5 1.5-.5 1.4-.4 1.5-.5 1.5-.4 1.6-.4 1.5-.5 1.6-.4 1.5-.3 1.6-.4 1.6-.4 1.7-.3 1.6-.4 1.7-.3 1.6-.3 1.7-.3 1.7-.4 1.7-.2 1.7-.3 1.8-.3 1.7-.3 1.8-.3 1.8-.2 1.8-.3 1.8-.2 1.8-.2 1.9-.3 1.8-.2 1.9-.2 1.9-.2 1.9-.2 1.9-.2 1.9-.2 1.9-.2 2-.2 2-.2 1.9-.1 2-.2 2-.2 2.1-.1 2-.2 2-.1 2.1-.2 2.1-.1 2.1-.2 2-.1 2.2-.2 2.1-.1 2.1-.1 2.2-.2 2.1-.1 2.2-.1 2.2-.1 2.2-.1 2.2-.2 2.2-.1 2.3-.1 2.2-.1 2.3-.1 2.2-.1 2.3-.1 2.3-.1 2.3-.1 2.4-.1 2.3-.1 2.3-.1 2.4-.1 2.4 0 2.3-.1 2.4-.1 2.4-.1 2.5-.1 2.4-.1 2.4 0 2.5-.1 2.4-.1 2.5-.1 2.5 0" stroke="#ff0000" stroke-width="1.3" fill="none"/>
<path d="M74.6 684.5l2.5-.1 2.5-.1 2.4 0 2.5-.1 2.4-.1 2.4-.1 2.5-.1 2.4 0 2.4-.1 2.3-.1 2.4-.1 2.4-.1 2.3-.1 2.3-.1 2.4-.1 2.3-.1 2.3-.1 2.3-.1 2.2-.1 2.3-.1 2.2-.1 2.3-.1 2.2-.1 2.2-.1 2.2-.2 2.2-.1 2.2-.1 2.1-.1 2.2-.2 2.1-.1 2.1-.1 2.2-.2 2-.1 2.1-.2 2.1-.1 2.1-.2 2-.1 2-.2 2.1-.1 2-.2 2-.2 1.9-.2 2-.2 2-.1 1.9-.2 1.9-.2 1.9-.2 1.9-.2 1.9-.3 1.9-.2 1.8-.2 1.9-.2 1.8-.3 1.8-.2 1.8-.3 1.8-.2 1.8-.3 1.7-.3 1.8-.3 1.7-.3 1.7-.3 1.7-.3 1.7-.3 1.6-.3 1.7-.4 1.6-.3 1.7-.4 1.6-.4 1.6-.3 1.5-.4 1.6-.4 1.5-.5 1.6-.4 1.5-.4 1.5-.5 1.4-.5 1.5-.5 1.5-.5 1.4-.5 1.4-.5 1.4-.6 1.4-.6 1.3-.5 1.4-.7 1.3-.6 1.3-.6 1.3-.7 1.3-.7 1.2-.7 1.3-.8 1.2-.8 1.2-.8 1.2-.8 1.1-.9 1.2-.9 1.1-.9 1.1-1 1.1-1 1.1-1 1-1.1 1-1.1 1-1.2 1-1.2 1-1.3 .9-1.3 .9-1.3 .9-1.4 .9-1.5 .8-1.5 .9-1.6 .8-1.6 .7-1.7 .8-1.7 .7-1.8 .7-1.8 .7-1.9 .6-1.9 .6-1.9 .6-2 .6-1.9 .5-2 .5-1.9 .4-1.9 .4-1.9 .4-1.7 .3-1.6 .3-1.4 .2-1.2 .2-1 .1-.4 .1-.5 .2-.9 .2-1.4 .3-1.7 .3-2 .4-2.5 .4-2.8 .4-3.3 .5-3.9 .5-4.2 .6-4.2 .6-4.1 .6-4 .6-3.8 .7-3.6 .7-3.5 .7-3.3 .8-3.2 .7-3 .8-2.9 .9-2.7 .8-2.6 .9-2.4 .9-2.3 .9-2.2 .9-2.1 1-2 1-1.9 1-1.7 1-1.7 1-1.6 1.1-1.6 1.1-1.4 1.1-1.4 1.1-1.3 1.2-1.2 1.1-1.2 1.2-1.1 1.2-1.1 1.2-1 1.3-1 1.2-.9 1.3-.9 1.3-.8 1.3-.8 1.3-.8 1.4-.7 1.3-.7 1.4-.7 1.4-.6 1.4-.6 1.4-.6 1.5-.6 1.5-.5 1.4-.5 1.5-.5 1.5-.5 1.6-.4 1.5-.5 1.6-.4 1.5-.4 1.6-.4 1.6-.4 1.7-.4 1.6-.3 1.7-.4 1.6-.3 1.7-.3 1.7-.3 1.7-.3 1.7-.3 1.8-.3 1.7-.3 1.8-.2 1.8-.3 1.8-.2 1.8-.3 1.8-.2 1.9-.3 1.8-.2 1.9-.2 1.9-.2 1.9-.2 1.9-.2 1.9-.2 1.9-.2 2-.2 2-.2 1.9-.1 2-.2 2-.2 2.1-.1 2-.2 2-.1 2.1-.2 2.1-.1 2.1-.2 2-.1 2.2-.2 2.1-.1 2.1-.1 2.2-.2 2.1-.1 2.2-.1 2.2-.1 2.2-.1 2.2-.2 2.2-.1 2.3-.1 2.2-.1 2.3-.1 2.2-.1 2.3-.1 2.3-.1 2.3-.1 2.4-.1 2.3-.1 2.3-.1 2.4-.1 2.4 0 2.3-.1 2.4-.1 2.4-.1 2.5-.1 2.4-.1 2.4 0 2.5-.1 2.4-.1 2.5-.1 2.5 0" stroke="#ff0000" stroke-width="1.3" fill="none"/>
<path d="M74.6 692.3l2.5-.1 2.5-.1 2.4 0 2.5-.1 2.4-.1 2.4-.1 2.5-.1 2.4-.1 2.4-.1 2.3-.1 2.4-.1 2.4 0 2.3-.1 2.3-.1 2.4-.2 2.3-.1 2.3-.1 2.3-.1 2.2-.1 2.3-.1 2.2-.1 2.3-.1 2.2-.2 2.2-.1 2.2-.1 2.2-.2 2.2-.1 2.1-.1 2.2-.2 2.1-.1 2.1-.2 2.2-.1 2-.2 2.1-.1 2.1-.2 2.1-.1 2-.2 2-.2 2.1-.2 2-.2 2-.1 1.9-.2 2-.2 2-.2 1.9-.2 1.9-.3 1.9-.2 1.9-.2 1.9-.2 1.9-.3 1.8-.2 1.9-.3 1.8-.2 1.8-.3 1.8-.3 1.8-.3 1.8-.2 1.7-.3 1.8-.4 1.7-.3 1.7-.3 1.7-.3 1.7-.4 1.6-.4 1.7-.3 1.6-.4 1.7-.4 1.6-.5 1.6-.4 1.5-.4 1.6-.5 1.5-.5 1.6-.5 1.5-.5 1.5-.6 1.4-.5 1.5-.6 1.5-.7 1.4-.6 1.4-.7 1.4-.7 1.4-.7 1.3-.8 1.4-.8 1.3-.8 1.3-.9 1.3-.9 1.3-1 1.2-1 1.3-1.1 1.2-1.1 1.2-1.2 1.2-1.2 1.1-1.3 1.2-1.3 1.1-1.5 1.1-1.5 1.1-1.6 1.1-1.6 1-1.8 1-1.9 1-1.9 1-2.1 1-2.2 .9-2.2 .9-2.5 .9-2.5 .9-2.7 .8-2.9 .9-2.9 .8-3.2 .7-3.3 .8-3.5 .7-3.7 .7-3.8 .7-4 .6-4.2 .6-4.3 .6-4.5 .6-4.6 .5-4.6 .5-4.1 .4-3.5 .4-3 .4-2.6 .3-2.2 .3-1.7 .2-1.5 .2-1 .1-.5 .1-.4 .2-1 .2-1.3 .3-1.5 .3-1.7 .4-1.8 .4-2 .4-2 .5-2 .5-2.1 .6-2.1 .6-2 .6-2.1 .6-2 .7-2 .7-1.9 .7-1.9 .8-1.8 .7-1.8 .8-1.7 .9-1.6 .8-1.6 .9-1.6 .9-1.5 .9-1.4 .9-1.4 1-1.3 1-1.3 1-1.2 1-1.2 1-1.2 1.1-1.1 1.1-1 1.1-1.1 1.1-.9 1.2-1 1.1-.9 1.2-.9 1.2-.8 1.2-.9 1.3-.7 1.2-.8 1.3-.8 1.3-.7 1.3-.7 1.3-.6 1.4-.7 1.3-.6 1.4-.6 1.4-.6 1.4-.6 1.4-.5 1.5-.6 1.5-.5 1.4-.5 1.5-.5 1.5-.4 1.6-.5 1.5-.4 1.6-.5 1.5-.4 1.6-.4 1.6-.4 1.7-.4 1.6-.3 1.7-.4 1.6-.3 1.7-.4 1.7-.3 1.7-.3 1.7-.3 1.8-.3 1.7-.3 1.8-.3 1.8-.3 1.8-.3 1.8-.2 1.8-.3 1.9-.2 1.8-.3 1.9-.2 1.9-.2 1.9-.2 1.9-.2 1.9-.3 1.9-.2 2-.2 2-.2 1.9-.1 2-.2 2-.2 2.1-.2 2-.2 2-.1 2.1-.2 2.1-.1 2.1-.2 2-.1 2.2-.2 2.1-.1 2.1-.2 2.2-.1 2.1-.2 2.2-.1 2.2-.1 2.2-.1 2.2-.2 2.2-.1 2.3-.1 2.2-.1 2.3-.1 2.2-.1 2.3-.1 2.3-.2 2.3-.1 2.4-.1 2.3-.1 2.3-.1 2.4-.1 2.4 0 2.3-.1 2.4-.1 2.4-.1 2.5-.1 2.4-.1 2.4-.1 2.5-.1 2.4 0 2.5-.1 2.5-.1" stroke="#0000ff" stroke-width="1.3" fill="none"/>
<path d="M74.6 692.3l2.5-.1 2.5-.1 2.4 0 2.5-.1 2.4-.1 2.4-.1 2.5-.1 2.4-.1 2.4-.1 2.3-.1 2.4-.1 2.4 0 2.3-.1 2.3-.1 2.4-.2 2.3-.1 2.3-.1 2.3-.1 2.2-.1 2.3-.1 2.2-.1 2.3-.1 2.2-.2 2.2-.1 2.2-.1 2.2-.2 2.2-.1 2.1-.1 2.2-.2 2.1-.1 2.1-.2 2.2-.1 2-.2 2.1-.1 2.1-.2 2.1-.1 2-.2 2-.2 2.1-.2 2-.2 2-.1 1.9-.2 2-.2 2-.2 1.9-.2 1.9-.3 1.9-.2 1.9-.2 1.9-.2 1.9-.3 1.8-.2 1.9-.3 1.8-.2 1.8-.3 1.8-.3 1.8-.2 1.8-.3 1.7-.3 1.8-.3 1.7-.4 1.7-.3 1.7-.3 1.7-.4 1.6-.3 1.7-.4 1.6-.4 1.7-.3 1.6-.4 1.6-.5 1.5-.4 1.6-.4 1.5-.5 1.6-.4 1.5-.5 1.5-.5 1.4-.5 1.5-.6 1.5-.5 1.4-.6 1.4-.6 1.4-.5 1.4-.7 1.3-.6 1.4-.7 1.3-.6 1.3-.8 1.3-.7 1.3-.7 1.2-.8 1.3-.8 1.2-.9 1.2-.8 1.2-.9 1.1-1 1.2-.9 1.1-1 1.1-1.1 1.1-1.1 1.1-1.1 1-1.2 1-1.2 1-1.2 1-1.3 1-1.4 .9-1.4 .9-1.5 .9-1.5 .9-1.6 .8-1.6 .9-1.7 .8-1.7 .7-1.8 .8-1.9 .7-1.9 .7-2 .7-2 .6-2.1 .6-2 .6-2.2 .6-2.1 .5-2.1 .5-2.1 .4-2 .4-2 .4-1.9 .3-1.7 .3-1.5 .2-1.3 .2-1 .1-.5 .1-.5 .2-1 .2-1.5 .3-1.8 .3-2.2 .4-2.6 .4-3.1 .4-3.6 .5-4.1 .5-4.6 .6-4.6 .6-4.4 .6-4.2 .6-4.1 .7-3.9 .7-3.8 .7-3.6 .8-3.4 .7-3.2 .8-3.1 .9-3 .8-2.7 .9-2.7 .9-2.5 .9-2.4 .9-2.2 1-2.1 1-2.1 1-1.9 1-1.8 1-1.7 1.1-1.7 1.1-1.5 1.1-1.5 1.1-1.4 1.2-1.3 1.1-1.3 1.2-1.2 1.2-1.2 1.2-1.1 1.3-1 1.2-1 1.3-.9 1.3-1 1.3-.8 1.3-.8 1.4-.8 1.3-.8 1.4-.7 1.4-.7 1.4-.6 1.4-.7 1.5-.6 1.5-.6 1.4-.5 1.5-.6 1.5-.5 1.6-.5 1.5-.4 1.6-.5 1.5-.4 1.6-.5 1.6-.4 1.7-.4 1.6-.4 1.7-.3 1.6-.4 1.7-.3 1.7-.4 1.7-.3 1.7-.3 1.8-.3 1.7-.3 1.8-.3 1.8-.3 1.8-.2 1.8-.3 1.8-.3 1.9-.2 1.8-.3 1.9-.2 1.9-.2 1.9-.2 1.9-.2 1.9-.3 1.9-.2 2-.2 2-.2 1.9-.1 2-.2 2-.2 2.1-.2 2-.2 2-.1 2.1-.2 2.1-.1 2.1-.2 2-.1 2.2-.2 2.1-.1 2.1-.2 2.2-.1 2.1-.2 2.2-.1 2.2-.1 2.2-.1 2.2-.2 2.2-.1 2.3-.1 2.2-.1 2.3-.1 2.2-.1 2.3-.1 2.3-.2 2.3-.1 2.4-.1 2.3-.1 2.3-.1 2.4-.1 2.4 0 2.3-.1 2.4-.1 2.4-.1 2.5-.1 2.4-.1 2.4-.1 2.5-.1 2.4 0 2.5-.1 2.5-.1" stroke="#0000ff" stroke-width="1.3" fill="none"/>
<path d="M74.6 702.1l2.5-.1 2.5-.1 2.4-.1 2.5-.1 2.4 0 2.4-.1 2.5-.1 2.4-.1 2.4-.1 2.3-.1 2.4-.1 2.4-.1 2.3-.1 2.3-.1 2.4-.1 2.3-.1 2.3-.1 2.3-.1 2.2-.1 2.3-.1 2.2-.1 2.3-.2 2.2-.1 2.2-.1 2.2-.1 2.2-.2 2.2-.1 2.1-.1 2.2-.2 2.1-.1 2.1-.2 2.2-.1 2-.2 2.1-.1 2.1-.2 2.1-.1 2-.2 2-.2 2.1-.2 2-.1 2-.2 1.9-.2 2-.2 2-.2 1.9-.2 1.9-.2 1.9-.3 1.9-.2 1.9-.2 1.9-.3 1.8-.2 1.9-.3 1.8-.2 1.8-.3 1.8-.3 1.8-.2 1.8-.3 1.7-.3 1.8-.3 1.7-.4 1.7-.3 1.7-.3 1.7-.4 1.6-.4 1.7-.3 1.6-.4 1.7-.4 1.6-.5 1.6-.4 1.5-.5 1.6-.4 1.5-.5 1.6-.5 1.5-.6 1.5-.5 1.4-.6 1.5-.6 1.5-.6 1.4-.7 1.4-.6 1.4-.7 1.4-.8 1.3-.8 1.4-.8 1.3-.8 1.3-.9 1.3-.9 1.3-1 1.2-1 1.3-1.1 1.2-1.1 1.2-1.2 1.2-1.3 1.1-1.3 1.2-1.4 1.1-1.4 1.1-1.6 1.1-1.6 1.1-1.7 1-1.8 1-1.9 1-2 1-2.2 1-2.2 .9-2.4 .9-2.5 .9-2.7 .9-2.8 .8-2.9 .9-3.2 .8-3.3 .7-3.5 .8-3.7 .7-3.9 .7-4.1 .7-4.3 .6-4.5 .6-4.7 .6-4.9 .6-5 .5-5.2 .5-5.2 .4-4.5 .4-3.9 .4-3.3 .3-2.7 .3-2.2 .2-1.8 .2-1.2 .1-.7 .1-.6 .2-1.1 .2-1.6 .3-1.9 .3-2.1 .4-2.2 .4-2.3 .4-2.4 .5-2.5 .5-2.5 .6-2.4 .6-2.5 .6-2.4 .6-2.3 .7-2.3 .7-2.2 .7-2.2 .8-2.1 .7-2 .8-1.9 .9-1.9 .8-1.8 .9-1.7 .9-1.7 .9-1.6 .9-1.5 1-1.5 1-1.4 1-1.3 1-1.3 1-1.3 1.1-1.2 1.1-1.1 1.1-1.1 1.1-1.1 1.2-1 1.1-1 1.2-.9 1.2-.9 1.2-.9 1.3-.8 1.2-.8 1.3-.8 1.3-.8 1.3-.7 1.3-.7 1.4-.7 1.3-.6 1.4-.6 1.4-.6 1.4-.6 1.4-.6 1.5-.6 1.5-.5 1.4-.5 1.5-.5 1.5-.5 1.6-.4 1.5-.5 1.6-.4 1.5-.5 1.6-.4 1.6-.4 1.7-.4 1.6-.3 1.7-.4 1.6-.3 1.7-.4 1.7-.3 1.7-.3 1.7-.3 1.8-.3 1.7-.3 1.8-.3 1.8-.3 1.8-.3 1.8-.2 1.8-.3 1.9-.2 1.8-.3 1.9-.2 1.9-.2 1.9-.3 1.9-.2 1.9-.2 1.9-.2 2-.2 2-.2 1.9-.2 2-.1 2-.2 2.1-.2 2-.2 2-.1 2.1-.2 2.1-.1 2.1-.2 2-.2 2.2-.1 2.1-.1 2.1-.2 2.2-.1 2.1-.2 2.2-.1 2.2-.1 2.2-.1 2.2-.2 2.2-.1 2.3-.1 2.2-.1 2.3-.1 2.2-.1 2.3-.1 2.3-.1 2.3-.1 2.4-.1 2.3-.1 2.3-.1 2.4-.1 2.4-.1 2.3-.1 2.4-.1 2.4-.1 2.5-.1 2.4-.1 2.4 0 2.5-.1 2.4-.1 2.5-.1 2.5-.1" stroke="#000000" stroke-width="1.3" fill="none"/>
<path d="M74.6 702.1l2.5-.1 2.5-.1 2.4-.1 2.5-.1 2.4 0 2.4-.1 2.5-.1 2.4-.1 2.4-.1 2.3-.1 2.4-.1 2.4-.1 2.3-.1 2.3-.1 2.4-.1 2.3-.1 2.3-.1 2.3-.1 2.2-.1 2.3-.1 2.2-.1 2.3-.2 2.2-.1 2.2-.1 2.2-.1 2.2-.2 2.2-.1 2.1-.1 2.2-.2 2.1-.1 2.1-.2 2.2-.1 2-.2 2.1-.1 2.1-.2 2.1-.1 2-.2 2-.2 2.1-.2 2-.1 2-.2 1.9-.2 2-.2 2-.2 1.9-.2 1.9-.2 1.9-.3 1.9-.2 1.9-.2 1.9-.3 1.8-.2 1.9-.3 1.8-.2 1.8-.3 1.8-.3 1.8-.2 1.8-.3 1.7-.3 1.8-.3 1.7-.4 1.7-.3 1.7-.3 1.7-.4 1.6-.3 1.7-.4 1.6-.4 1.7-.4 1.6-.4 1.6-.4 1.5-.4 1.6-.5 1.5-.4 1.6-.5 1.5-.5 1.5-.5 1.4-.5 1.5-.6 1.5-.5 1.4-.6 1.4-.6 1.4-.6 1.4-.7 1.3-.6 1.4-.7 1.3-.7 1.3-.8 1.3-.7 1.3-.8 1.2-.9 1.3-.8 1.2-.9 1.2-.9 1.2-1 1.1-1 1.2-1 1.1-1.1 1.1-1.1 1.1-1.2 1.1-1.2 1-1.3 1-1.3 1-1.4 1-1.4 1-1.5 .9-1.6 .9-1.6 .9-1.7 .9-1.7 .8-1.9 .9-1.9 .8-2 .7-2 .8-2.2 .7-2.2 .7-2.2 .7-2.4 .6-2.4 .6-2.4 .6-2.5 .6-2.5 .5-2.5 .5-2.5 .4-2.5 .4-2.4 .4-2.3 .3-2.1 .3-1.9 .2-1.6 .2-1.2 .1-.6 .1-.6 .2-1.3 .2-1.8 .3-2.3 .3-2.8 .4-3.3 .4-3.9 .4-4.6 .5-5.2 .5-5.1 .6-4.9 .6-4.8 .6-4.6 .6-4.5 .7-4.2 .7-4 .7-3.8 .8-3.6 .7-3.5 .8-3.2 .9-3.1 .8-2.9 .9-2.8 .9-2.6 .9-2.4 .9-2.4 1-2.2 1-2.1 1-1.9 1-1.9 1-1.8 1.1-1.6 1.1-1.6 1.1-1.5 1.1-1.5 1.2-1.3 1.1-1.3 1.2-1.3 1.2-1.1 1.2-1.1 1.3-1.1 1.2-1 1.3-.9 1.3-1 1.3-.8 1.3-.9 1.4-.8 1.3-.7 1.4-.7 1.4-.7 1.4-.7 1.4-.6 1.5-.7 1.5-.5 1.4-.6 1.5-.5 1.5-.6 1.6-.5 1.5-.4 1.6-.5 1.5-.4 1.6-.5 1.6-.4 1.7-.4 1.6-.4 1.7-.3 1.6-.4 1.7-.4 1.7-.3 1.7-.3 1.7-.3 1.8-.3 1.7-.3 1.8-.3 1.8-.3 1.8-.3 1.8-.2 1.8-.3 1.9-.2 1.8-.3 1.9-.2 1.9-.2 1.9-.3 1.9-.2 1.9-.2 1.9-.2 2-.2 2-.2 1.9-.2 2-.1 2-.2 2.1-.2 2-.2 2-.1 2.1-.2 2.1-.1 2.1-.2 2-.2 2.2-.1 2.1-.1 2.1-.2 2.2-.1 2.1-.2 2.2-.1 2.2-.1 2.2-.1 2.2-.2 2.2-.1 2.3-.1 2.2-.1 2.3-.1 2.2-.1 2.3-.1 2.3-.1 2.3-.1 2.4-.1 2.3-.1 2.3-.1 2.4-.1 2.4-.1 2.3-.1 2.4-.1 2.4-.1 2.5-.1 2.4-.1 2.4 0 2.5-.1 2.4-.1 2.5-.1 2.5-.1" stroke="#000000" stroke-width="1.3" fill="none"/>
<path d="M74.6 739.9l2.5-.2 2.5-.1 2.4-.1 2.5-.1 2.4-.2 2.4-.1 2.5-.2 2.4-.1 2.4-.1 2.3-.2 2.4-.1 2.4-.2 2.3-.1 2.3-.2 2.4-.2 2.3-.1 2.3-.2 2.3-.2 2.2-.2 2.3-.1 2.2-.2 2.3-.2 2.2-.2 2.2-.2 2.2-.2 2.2-.2 2.2-.2 2.1-.2 2.2-.3 2.1-.2 2.1-.2 2.2-.2 2-.3 2.1-.2 2.1-.3 2.1-.2 2-.3 2-.3 2.1-.3 2-.2 2-.3 1.9-.3 2-.4 2-.3 1.9-.3 1.9-.3 1.9-.4 1.9-.3 1.9-.4 1.9-.4 1.8-.3 1.9-.4 1.8-.4 1.8-.4 1.8-.5 1.8-.4 1.8-.5 1.7-.4 1.8-.5 1.7-.5 1.7-.5 1.7-.6 1.7-.5 1.6-.6 1.7-.6 1.6-.6 1.7-.6 1.6-.6 1.6-.7 1.5-.7 1.6-.7 1.5-.8 1.6-.8 1.5-.8 1.5-.8 1.4-.9 1.5-.9 1.5-1 1.4-1 1.4-1.1 1.4-1 1.4-1.2 1.3-1.2 1.4-1.2 1.3-1.3 1.3-1.4 1.3-1.4 1.3-1.5 1.2-1.6 1.3-1.7 1.2-1.7 1.2-1.8 1.2-1.9 1.1-2 1.2-2.1 1.1-2.3 1.1-2.3 1.1-2.5 1.1-2.6 1-2.7 1-2.8 1-3.1 1-3.1 1-3.4 .9-3.5 .9-3.7 .9-4 .9-4.1 .8-4.3 .9-4.6 .8-4.8 .7-5 .8-5.3 .7-5.5 .7-5.8 .7-6 .6-6.2 .6-6.5 .6-6.7 .6-6.4 .5-5.6 .5-4.9 .4-4.2 .4-3.7 .4-3.2 .3-2.7 .3-2.2 .2-1.7 .2-1.3 .1-.6 .1-.6 .2-1.2 .2-1.6 .3-1.9 .3-2.2 .4-2.3 .4-2.5 .4-2.6 .5-2.6 .5-2.7 .6-2.7 .6-2.7 .6-2.7 .6-2.6 .7-2.6 .7-2.6 .7-2.5 .8-2.5 .7-2.4 .8-2.3 .9-2.3 .8-2.2 .9-2.1 .9-2 .9-2 .9-2 1-1.8 1-1.8 1-1.7 1-1.7 1-1.6 1.1-1.6 1.1-1.5 1.1-1.5 1.1-1.4 1.2-1.3 1.1-1.3 1.2-1.3 1.2-1.3 1.2-1.1 1.3-1.2 1.2-1.1 1.3-1.1 1.3-1.1 1.3-1 1.3-1 1.4-.9 1.3-1 1.4-.9 1.4-.8 1.4-.9 1.4-.8 1.5-.8 1.5-.8 1.4-.8 1.5-.7 1.5-.7 1.6-.7 1.5-.7 1.6-.6 1.5-.7 1.6-.6 1.6-.6 1.7-.6 1.6-.6 1.7-.5 1.6-.6 1.7-.5 1.7-.5 1.7-.5 1.7-.5 1.8-.4 1.7-.5 1.8-.4 1.8-.4 1.8-.5 1.8-.4 1.8-.4 1.9-.3 1.8-.4 1.9-.4 1.9-.3 1.9-.4 1.9-.3 1.9-.3 1.9-.4 2-.3 2-.3 1.9-.3 2-.3 2-.2 2.1-.3 2-.3 2-.2 2.1-.3 2.1-.2 2.1-.3 2-.2 2.2-.2 2.1-.3 2.1-.2 2.2-.2 2.1-.2 2.2-.2 2.2-.2 2.2-.2 2.2-.2 2.2-.2 2.3-.2 2.2-.2 2.3-.2 2.2-.1 2.3-.2 2.3-.2 2.3-.1 2.4-.2 2.3-.1 2.3-.2 2.4-.1 2.4-.2 2.3-.1 2.4-.2 2.4-.1 2.5-.2 2.4-.1 2.4-.1 2.5-.1 2.4-.2 2.5-.1 2.5-.1" stroke="#ff00ff" stroke-width="1.3" fill="none"/>
<path d="M74.6 739.9l2.5-.2 2.5-.1 2.4-.1 2.5-.1 2.4-.2 2.4-.1 2.5-.2 2.4-.1 2.4-.1 2.3-.2 2.4-.1 2.4-.2 2.3-.1 2.3-.2 2.4-.2 2.3-.1 2.3-.2 2.3-.2 2.2-.2 2.3-.1 2.2-.2 2.3-.2 2.2-.2 2.2-.2 2.2-.2 2.2-.2 2.2-.2 2.1-.2 2.2-.3 2.1-.2 2.1-.2 2.2-.2 2-.3 2.1-.2 2.1-.3 2.1-.2 2-.3 2-.3 2.1-.3 2-.2 2-.3 1.9-.3 2-.4 2-.3 1.9-.3 1.9-.3 1.9-.4 1.9-.3 1.9-.4 1.9-.3 1.8-.4 1.9-.4 1.8-.4 1.8-.4 1.8-.5 1.8-.4 1.8-.4 1.7-.5 1.8-.5 1.7-.5 1.7-.5 1.7-.5 1.7-.5 1.6-.6 1.7-.5 1.6-.6 1.7-.6 1.6-.6 1.6-.7 1.5-.6 1.6-.7 1.5-.7 1.6-.7 1.5-.7 1.5-.8 1.4-.7 1.5-.8 1.5-.9 1.4-.8 1.4-.9 1.4-.9 1.4-.9 1.3-.9 1.4-1 1.3-1 1.3-1.1 1.3-1 1.3-1.1 1.2-1.2 1.3-1.2 1.2-1.2 1.2-1.2 1.2-1.3 1.1-1.4 1.2-1.4 1.1-1.4 1.1-1.5 1.1-1.5 1.1-1.6 1-1.7 1-1.7 1-1.8 1-1.8 1-1.9 .9-1.9 .9-2.1 .9-2.1 .9-2.1 .8-2.3 .9-2.3 .8-2.4 .7-2.4 .8-2.5 .7-2.6 .7-2.6 .7-2.7 .6-2.7 .6-2.7 .6-2.8 .6-2.7 .5-2.8 .5-2.7 .4-2.6 .4-2.5 .4-2.4 .3-2.2 .3-1.9 .2-1.6 .2-1.3 .1-.6 .1-.6 .2-1.3 .2-1.8 .3-2.3 .3-2.7 .4-3.2 .4-3.8 .4-4.3 .5-5 .5-5.7 .6-6.5 .6-6.5 .6-6.4 .6-6.1 .7-5.9 .7-5.7 .7-5.4 .8-5.1 .7-5 .8-4.7 .9-4.4 .8-4.3 .9-4 .9-3.9 .9-3.6 .9-3.5 1-3.3 1-3.1 1-2.9 1-2.9 1-2.6 1.1-2.6 1.1-2.4 1.1-2.3 1.1-2.1 1.2-2.1 1.1-2 1.2-1.9 1.2-1.7 1.2-1.7 1.3-1.7 1.2-1.5 1.3-1.5 1.3-1.4 1.3-1.3 1.3-1.3 1.4-1.2 1.3-1.2 1.4-1.1 1.4-1.1 1.4-1 1.4-1 1.5-.9 1.5-.9 1.4-.9 1.5-.8 1.5-.8 1.6-.8 1.5-.7 1.6-.8 1.5-.6 1.6-.7 1.6-.6 1.7-.7 1.6-.5 1.7-.6 1.6-.6 1.7-.5 1.7-.5 1.7-.5 1.7-.5 1.8-.5 1.7-.5 1.8-.4 1.8-.4 1.8-.4 1.8-.5 1.8-.4 1.9-.3 1.8-.4 1.9-.4 1.9-.3 1.9-.4 1.9-.3 1.9-.3 1.9-.4 2-.3 2-.3 1.9-.3 2-.3 2-.2 2.1-.3 2-.3 2-.2 2.1-.3 2.1-.2 2.1-.3 2-.2 2.2-.2 2.1-.3 2.1-.2 2.2-.2 2.1-.2 2.2-.2 2.2-.2 2.2-.2 2.2-.2 2.2-.2 2.3-.2 2.2-.2 2.3-.2 2.2-.1 2.3-.2 2.3-.2 2.3-.1 2.4-.2 2.3-.1 2.3-.2 2.4-.1 2.4-.2 2.3-.1 2.4-.2 2.4-.1 2.5-.2 2.4-.1 2.4-.1 2.5-.1 2.4-.2 2.5-.1 2.5-.1" stroke="#ff00ff" stroke-width="1.3" fill="none"/>
<text x="0" y="0" font-size="14.3" font-family="'Liberation Serif','Times New Roman',serif" font-weight="bold" transform="translate(432.2 444.6) scale(1 1.03)">400 <tspan dy="-5.33" font-size="8.8">o</tspan><tspan dy="5.33">C</tspan></text>
<text x="0" y="0" font-size="14.3" font-family="'Liberation Serif','Times New Roman',serif" font-weight="bold" transform="translate(386.5 464.9) scale(1 1.03)">350 <tspan dy="-5.33" font-size="8.8">o</tspan><tspan dy="5.33">C</tspan></text>
<text x="0" y="0" font-size="14.3" font-family="'Liberation Serif','Times New Roman',serif" font-weight="bold" transform="translate(431.7 466.6) scale(1 1.03)">250 <tspan dy="-5.33" font-size="8.8">o</tspan><tspan dy="5.33">C</tspan></text>
<text x="0" y="0" font-size="14.3" font-family="'Liberation Serif','Times New Roman',serif" font-weight="bold" transform="translate(431 497.9) scale(1 1.03)">300 <tspan dy="-5.33" font-size="8.8">o</tspan><tspan dy="5.33">C</tspan></text>
<text x="0" y="0" font-size="14.3" font-family="'Liberation Serif','Times New Roman',serif" font-weight="bold" transform="translate(431 515.6) scale(1 1.03)">450 <tspan dy="-5.33" font-size="8.8">o</tspan><tspan dy="5.33">C</tspan></text>
<text x="0" y="0" font-size="14.3" font-family="'Liberation Serif','Times New Roman',serif" font-weight="bold" transform="translate(430.6 562.8) scale(1 1.03)">500 <tspan dy="-5.33" font-size="8.8">o</tspan><tspan dy="5.33">C</tspan></text>
<text x="0" y="0" font-size="14.3" font-family="'Liberation Serif','Times New Roman',serif" font-weight="bold" transform="translate(430.6 579.7) scale(1 1.03)">600 <tspan dy="-5.33" font-size="8.8">o</tspan><tspan dy="5.33">C</tspan></text>
<path d="M399.7 465V472" stroke="#3a3aff" stroke-width="1.5"/><path d="M397.1 471.2L402.3 471.2L399.7 481.2Z" fill="#0000ff"/>
<text x="32.4" y="570.5" font-size="17" font-family="'Liberation Serif','Times New Roman',serif" font-weight="bold" text-anchor="middle" transform="rotate(-90 32.4 570.5)">M (A&#183;m<tspan dy="-6.8" font-size="11">2</tspan><tspan dy="6.8">/kg)</tspan></text>
<text x="277.1" y="795.6" font-size="17.0" font-family="'Liberation Serif','Times New Roman',serif" font-weight="bold" text-anchor="middle" fill="#000">H (A/m)</text>
<text x="88.4" y="449" font-size="23.3" font-family="'Liberation Serif','Times New Roman',serif" font-weight="bold" fill="#000">(d)</text>
<rect x="566.5" y="419.9" width="445" height="327.5" fill="none" stroke="#2b2b2b" stroke-width="1.3"/>
<path d="M566.5 747.4v6.5M640.7 747.4v6.5M714.8 747.4v6.5M789 747.4v6.5M863.2 747.4v6.5M937.3 747.4v6.5M1011.5 747.4v6.5M603.6 747.4v3.5M677.8 747.4v3.5M751.9 747.4v3.5M826.1 747.4v3.5M900.2 747.4v3.5M974.4 747.4v3.5" stroke="#2b2b2b" stroke-width="1.3" fill="none"/>
<text x="566.5" y="769.6" font-size="14" font-family="'Liberation Sans',Arial,sans-serif" text-anchor="middle" fill="#222222">20</text>
<text x="640.7" y="769.6" font-size="14" font-family="'Liberation Sans',Arial,sans-serif" text-anchor="middle" fill="#222222">30</text>
<text x="714.8" y="769.6" font-size="14" font-family="'Liberation Sans',Arial,sans-serif" text-anchor="middle" fill="#222222">40</text>
<text x="789" y="769.6" font-size="14" font-family="'Liberation Sans',Arial,sans-serif" text-anchor="middle" fill="#222222">50</text>
<text x="863.2" y="769.6" font-size="14" font-family="'Liberation Sans',Arial,sans-serif" text-anchor="middle" fill="#222222">60</text>
<text x="937.3" y="769.6" font-size="14" font-family="'Liberation Sans',Arial,sans-serif" text-anchor="middle" fill="#222222">70</text>
<text x="1011.5" y="769.6" font-size="14" font-family="'Liberation Sans',Arial,sans-serif" text-anchor="middle" fill="#222222">80</text>
<path d="M566.5 713.6l.6 0 .6 .4 .6-.2 .6 .1 .6-.3 .6 0 .6 .1 .6-.1 .6 .3 .6 0 .6 .1 .6 .2 .6-.1 .6-.6 .6 .2 .6 .1 .6-.4 .6 .2 .6 .7 .6-1 .6 .2 .6 .2 .6 .3 .6 .2 .6-.2 .6-.5 .6-.1 .6-.1 .6 .8 .6-.3 .6-.5 .6 .8 .6-.2 .6 .3 .6-.5 .6-.3 .6 .4 .6-.1 .6 .2 .6 .1 .6-.5 .6 .2 .6-.3 .6-.3 .6 .5 .6-.1 .6-.3 .6-1.2 .6-1.6 .6-3.1 .6-3.3 .2-.3 .4 1.7 .6 3.4 .6 2.5 .6 1.5 .6 .3 .6 .1 .6 .3 .6 .3 .6-.1 .6 .2 .6 0 .6 .2 .6-.5 .6 .2 .6 .1 .6 .1 .6-.5 .6 .5 .6-.2 .6-.3 .6 .1 .6 .4 .6 0 .6-.5 .6 .2 .6 .5 .6-.4 .6 0 .6 0 .6 .1 .6 0 .6 0 .6 0 .6-.1 .6-.2 .6 0 .6 .3 .6-.3 .6 .2 .6-.3 .6 .2 .6 0 .6 .4 .6-.2 .6 0 .6-.2 .6 .3 .6-.3 .6 .3 .6-.3 .6-.2 .6 .3 .6 0 .6 0 .6 .1 .6 0 .6-.6 .6 .6 .6 .3 .6-.1 .6-.6 .6 0 .6 .1 .6-.1 .6 0 .6-.1 .6 .4 .6-.3 .6 .5 .6-.9 .6-.6 .6-1.6 .6-2 .5-1.1 .1 .4 .6 1.5 .6 2 .6 .8 .6 .2 .6 .7 .6 .2 .6 .1 .6 0 .6 .3 .6-.2 .6-.3 .6 .1 .6-.1 .6 .3 .6-.3 .6 .5 .6-.1 .6-.1 .6-.3 .6 .1 .6-.2 .6 .2 .6-.1 .6-.1 .6 .1 .6 0 .6 .1 .6-.2 .6-.2 .6 .2 .6-.8 .6-.4 .6-1.2 .6-1 .6-4.8 .6-9.5 .6-9.7 .3-2.2 .3 1.8 .6 9.9 .6 8.9 .6 4.7 .6 2.4 .6 .8 .6 .2 .6 .5 .6-.6 .6 .9 .6-.1 .6 .5 .6-.2 .6 .2 .6-.4 .6 0 .6 .4 .6-.5 .6-.5 .6 .1 .6 .1 .6-.1 .6-.2 .6-.1 .6-.2 .6-2.1 .6-3.9 .6-7.8 .6-8.7 .4-2.1 .2 1.6 .6 7.9 .6 8.4 .6 3.9 .6 1.7 .6 1.3 .6 .7 .6 .2 .6-.1 .6-.2 .6 0 .6 .1 .6-.1 .6 .5 .6-.2 .6 .3 .6 .1 .6-1 .6-.4 .6-1.2 .2 .3 .4 .7 .6 0 .6 .5 .6 1.1 .6-.1 .6-.2 .6-.1 .6-.1 .6 .4 .6 .1 .6-.3 .6 .1 .6-.1 .6 .5 .6-.4 .6 .3 .6-.3 .6 .3 .6-.3 .6 .6 .6-.5 .6 .3 .6 0 .6-.4 .6 .2 .6-.1 .6 .1 .6 .1 .6-.2 .6 .3 .6-.5 .6 .1 .6 .3 .6 0 .6-.4 .6 .3 .6 .1 .6-.2 .6-.1 .6-.2 .6-.1 .6-.4 .6-.1 .6-.7 .6-2 .6-2.1 .4-1.2 .2 .1 .6 2.5 .6 1.8 .6 1.6 .6 .8 .6-.3 .6 .1 .6 .2 .6 0 .6 0 .6-.3 .6 .2 .6 .5 .6-.4 .6 .2 .6-.4 .6 0 .6 .3 .6 0 .6 0 .6-.1 .6-.2 .6-.2 .6 .3 .6-.3 .6-.7 .6-1.9 .6-1.9 .3 .3 .3 .4 .6 1.2 .6 1.6 .6 1 .6 .6 .6-.4 .6 0 .6 0 .6 .2 .6 0 .6 .3 .6 .2 .6 0 .6 0 .6-.2 .6-.2 .6-.3 .6 .5 .6 .2 .6-.3 .6-.3 .6 .1 .6 0 .6 0 .6 .8 .6-.9 .6 .5 .6-.2 .6 0 .6 .3 .6-.3 .6 .1 .6 .2 .6-.3 .6-.2 .6 .3 .6-.1 .6 .3 .6-.2 .6 0 .6-.1 .6 .1 .6-.5 .6 .9 .6-.4 .6-.2 .6-.1 .6 .6 .6-.4 .6-.4 .6 .6 .6-.4 .6 0 .6 .1 .6 .3 .6 .2 .6-.7 .6 .2 .6-.2 .6 .1 .6 .2 .6-.6 .6-.1 .6 .3 .6 0 .6 .2 .6 .3 .6-.3 .6 0 .6 .1 .6-.4 .6-.1 .6 .3 .6-.2 .6-.9 .6-.8 .6-2.2 .6-3.2 .6-2.6 0-.1 .6 2.3 .6 3.3 .6 2.9 .6 .6 .6 .4 .6 .4 .6 .1 .6 .7 .6-.3 .6-.2 .6-.5 .6 .8 .6-.2 .6-.1 .6 .4 .6-.2 .6-.5 .6 .1 .6 0 .6 .1 .6 0 .6 0 .6 .2 .6 0 .6 0 .6 .1 .6-.2 .6 0 .6-.3 .6 .3 .6-.2 .6 .2 .6 0 .6-.1 .6-.1 .6 0 .6 .1 .6 .1 .6-.3 .6 .5 .6-.5 .6 .1 .6 .2 .6-.1 .6-.2 .6 0 .6 .2 .6 .3 .6-.8 .6 .1 .6 0 .6-.6 .6 0 .6-1.2 .6-3.7 .6-4.6 .5-1.6 .1-.3 .6 3.3 .6 4.3 .6 2.7 .6 .6 .6 .8 .6 .6 .6 .1 .6-.1 .6-.4 .6 .2 .6 .1 .6 .3 .6-.4 .6 .4 .6-.3 .6 0 .6 .4 .6-.2 .6 0 .6 .2 .6-.2 .6 .2 .6 .1 .6-.3 .6 .2 .6-.8 .6 .4 .6-.1 .6 .3 .6-.2 .6 0 .6-1.1 .6-1.7 .6-2.4 .6-2.1 .1 .4 .5 .6 .6 3.2 .6 1.3 .6 .7 .6-.1 .6-.9 .6-1.1 .3 .3 .3-.3 .6 1.3 .6 1 .6 .4 .6 .2 .6 .4 .6 .2 .6 .1 .6-.1 .6-.1 .6 0 .6 .2 .6 .4 .6-.6 .6-.2 .6 0 .6 .5 .6-.5 .6 0 .6 .2 .6 0 .6 0 .6-.1 .6-.3 .6 .7 .6-.5 .6-.1 .6 .4 .6-.3 .6 .5 .6 .5 .6-.8 .6 0 .6 .3 .6-.5 .6 0 .6 .1 .6-.2 .6 .5 .6 .1 .6-.2 .6 .2 .6-.4 .6-.3 .6 .6 .6 .1 .6-.1 .6-.7 .6 .4 .6 0 .6-.3 .6 .2 .6 .1 .6-.3 .6-.2 .6 0 .6-.6 .6-.8 .6-2.7 .6-3.8 .6-6.8 .4-2.1 .2 0 .6 5.1 .6 5.7 .6 3.3 .6 1.7 .6 .9 .6 0 .6 0 .6 .2 .6 .2 .6 .3 .6-.1 .6-.1 .6-.8 .6 0 .6-.2 .6-1.1 .6-1.5 .6-3 .5-1.8 .1-.6 .6 2.4 .6 2.6 .6 2.7 .6 1.1 .6 .2 .6-.1 .6-.4 .6 0 .6 1 .6-.3 .6 0 .6 .7 .6-.2 .6-.6 .6-.2 .6-.1 .6 .3 .6 .7 .6-.4 .6 .1 .6-.2 .6 .1 .6 0 .6 .3 .6-.3 .6-.2 .6 0 .6 .3 .6-.5 .6 .1 .6 .7 .6-.7 .6 .2 .6 .5 .6-.8 .6-.1 .6 .2 .6 .6 .6 .1 .6-.8 .6 .5 .6-.4 .6 .3 .6-.1 .6 0 .6 .1 .6-.2 .6-.2 .6 .4 .6 0 .6 0 .6-.2 .6 .3 .6-.1 .6 .3 .6-.7 .6 .1 .6 .1 .6 .6 .6-.4 .6-.1 .6 .1 .6-.2 .6-.1 .6 0 .6 .3 .6 .3 .6 .3 .6-.5 .6 0 .6 .1 .6-.2 .6 0 .6 .1 .6 .2 .6-.2 .6-.4 .6 .9 .6-.9 .6 .1 .6-.1 .6 .2 .6-.2 .6 .3 .6 .1 .6 0 .6 0 .6-.4 .6 .3 .6-.1 .6-.2 .6 .1 .6 .3 .6-.2 .6-.6 .6 .1 .6-.6 .6-1.2 .5 .2 .1-.3 .6 .7 .6 .8 .6 .3 .6 .7 .6-.3 .6 .1 .6 .1 .6 .4 .6 0 .6-.2 .6 .1 .6-.2 .6 0 .6-.1 .6 .2 .6 .4 .6-.5 .6 .1 .6 0 .6-.2 .6-.4 .6-.2 .6-.3 .6-.6 .3 0 .3-.1 .6 .9 .6 .1 .6 1.1 .6-.7 .6 .3 .6-.2 .6-.1 .6 .7 .6-.6 .6 .2 .6 .2 .6-.1 .6-.1 .6-.5 .6-.4 .6-.1 .6-.4 .6-.8 0 .3 .6 .4 .6 .3 .6 .6 .6 .2 .6 .3 .6-.1 .6 .1 .6-.2 .6 .1 .6 .3 .6 0 .6-.2 .6-.1 .6 .2 .6 0 .6-.4 .6 0 .6 .2 .6 .3 .6-.6 .6 .6 .6-.2 .6 0 .6 .3 .6 .1 .6 .1 .6-.5 .6 .1 .6 0 .6-.3 .6 .5 .6-.3 .6-.5 .6 .3 .6 .2 .6 0 .6 0 .6 0 .6 .3 .6-.2 .6 0 .6 .3 .6-.3 .6 .1 .6 0 .6 .2 .6-.8 .6 .5 .6-.1 .6 0 .6 .3 .6 .1 .6-.2 .6 0 .6-.3" stroke="#000000" stroke-width="1.7" fill="none" stroke-linejoin="round"/>
<path d="M566.5 677.3l.6 .6 .6-.5 .6 .3 .6 0 .6 .4 .6-.4 .6 .7 .6-.6 .6 .6 .6-.4 .6-.1 .6-.8 .6 .3 .6 .4 .6-.3 .6-.2 .6 0 .6 .5 .6 .3 .6-.1 .6-.9 .6 .6 .6 .4 .6-1 .6 .7 .6-.1 .6-.1 .6 .5 .6-.5 .6-.1 .6 .8 .6-.3 .6 .2 .6-.5 .6-.1 .6 .1 .6-.3 .6 .3 .6-.1 .6 .2 .6-.1 .6-.3 .6 .5 .6-.6 .6 0 .6 .1 .6-.7 .6-.6 .6-2.3 .6-4.4 .6-4.1 .2-.2 .4 1.5 .6 4.7 .6 3.1 .6 1.9 .6 .8 .6 .5 .6-.8 .6 .3 .6 .4 .6-.1 .6 .1 .6-.1 .6 0 .6 0 .6 .6 .6 0 .6-.4 .6-.1 .6 .7 .6-.7 .6-.1 .6-.2 .6 .7 .6-.3 .6 .2 .6-.3 .6 .3 .6 0 .6 0 .6-.2 .6-.1 .6 .4 .6-.5 .6 .4 .6-.4 .6 .7 .6-.2 .6 .1 .6-.2 .6 .1 .6-.5 .6 .5 .6-.4 .6 .2 .6-.3 .6 0 .6 .5 .6-.4 .6 .2 .6 0 .6-.3 .6 .5 .6-.3 .6-.5 .6 .8 .6-.4 .6 .1 .6-.2 .6 0 .6 .4 .6-.1 .6-.1 .6 .3 .6-.5 .6 .2 .6-.3 .6 .5 .6-.4 .6 0 .6-.2 .6-.4 .6-1.8 .6-1.6 .5-1.1 .1 .1 .6 1.4 .6 1.7 .6 1.1 .6 .7 .6 0 .6 .6 .6 .2 .6-.3 .6-.5 .6 .2 .6-.5 .6 .4 .6 .3 .6 .1 .6-.1 .6 .2 .6-.2 .6 .3 .6-1.1 .6 .1 .6 .7 .6-.4 .6 .3 .6-.2 .6-.3 .6-.2 .6 0 .6 0 .6 .1 .6-.2 .6-.5 .6-.6 .6-.8 .6-2.5 .6-5.4 .6-10 .6-12.6 .3-2.7 .3 1.7 .6 11.7 .6 10.9 .6 6.7 .6 2.2 .6 .3 .6 .6 .6 .5 .6 .7 .6-.1 .6 .8 .6-.5 .6 .6 .6-.3 .6-.2 .6 .1 .6-.1 .6 0 .6-.6 .6-.1 .6-.1 .6 .5 .6-.7 .6-.3 .6-.3 .6-1.9 .6-5.2 .6-7.8 .6-10.4 .4-2.5 .2 1.5 .6 9 .6 9.7 .6 4.9 .6 2.2 .6 .7 .6 .8 .6-.2 .6 .4 .6 .3 .6-.4 .6 .3 .6-.4 .6 .5 .6 .2 .6 .1 .6-.2 .6-.4 .6-.5 .6-1.2 .2 .3 .4 0 .6 .8 .6 .7 .6 .7 .6 0 .6 0 .6 .2 .6-.2 .6-.2 .6 0 .6 .2 .6 .2 .6 .3 .6-.7 .6-.2 .6 0 .6 .5 .6-.3 .6 .1 .6 0 .6 .2 .6-.2 .6 .3 .6-.3 .6-.1 .6 0 .6 .5 .6-.4 .6 0 .6-.3 .6 .4 .6 0 .6-.2 .6 .3 .6 .1 .6-.3 .6-.1 .6-.2 .6 .4 .6-.4 .6 0 .6 0 .6-1 .6-1.1 .6-2.5 .6-3.6 .4-.9 .2-.3 .6 2.2 .6 4.3 .6 1.7 .6 .7 .6 .2 .6 .2 .6 .7 .6-.8 .6-.1 .6 .5 .6 .5 .6-.2 .6-.4 .6 .7 .6-.4 .6 0 .6-.6 .6 .1 .6 0 .6 .3 .6 0 .6 .1 .6-.6 .6-.5 .6-.9 .6-1.3 .6-1.7 .3-.4 .3-.4 .6 2.1 .6 2 .6 .8 .6 .4 .6 .8 .6-1.1 .6 .3 .6 .6 .6 .2 .6-.4 .6-.2 .6-.1 .6-.2 .6 .5 .6 .5 .6-.2 .6 0 .6-.4 .6 .2 .6 .6 .6-.5 .6-.1 .6 .6 .6-.3 .6 .2 .6-.3 .6-.6 .6 .6 .6 .2 .6 .1 .6-.7 .6 .2 .6-.1 .6 .3 .6-.2 .6 .1 .6-.2 .6 .3 .6-.7 .6 .7 .6 0 .6-.2 .6-.1 .6-.1 .6 .2 .6-.2 .6 .1 .6 .4 .6-.3 .6 0 .6-.3 .6 .2 .6-.1 .6-.1 .6 .1 .6 .4 .6-.6 .6 .6 .6-.7 .6 .4 .6 .4 .6 .4 .6-.5 .6-.2 .6-.1 .6 .3 .6-.6 .6 .1 .6 .2 .6-.5 .6 .6 .6-.1 .6-.6 .6 0 .6-1.8 .6-3 .6-5 .6-2.3 0-.4 .6 2.8 .6 5.2 .6 2.4 .6 1.5 .6 .7 .6 .2 .6-.2 .6 .3 .6 .1 .6 .1 .6 .2 .6-.2 .6-.6 .6 .6 .6 .1 .6 0 .6-.3 .6 .1 .6-.1 .6 .3 .6 .3 .6-.1 .6 .3 .6-.4 .6 .1 .6 .3 .6-.7 .6 .6 .6-.2 .6-.3 .6 .2 .6 0 .6-.1 .6 .1 .6 .1 .6-.1 .6 0 .6-.3 .6-.1 .6 .1 .6 0 .6 .3 .6-.2 .6-.1 .6 0 .6 .4 .6-.3 .6 .1 .6-.2 .6-.4 .6-.3 .6 .1 .6-1.3 .6-1.8 .6-3.3 .6-5.5 .5-3.1 .1 .7 .6 3.9 .6 5.1 .6 2.7 .6 2.1 .6 .7 .6-.3 .6 .7 .6-.1 .6-.3 .6 .8 .6-.3 .6-.5 .6-.1 .6 .3 .6 .1 .6 .9 .6-.7 .6 0 .6 0 .6-.4 .6 0 .6 .4 .6 0 .6 0 .6-.1 .6 .3 .6-.8 .6 .7 .6-.1 .6-.2 .6-.7 .6-.2 .6-1.8 .6-2.4 .6-1.3 .1 .2 .5 1.8 .6 1.4 .6 1.6 .6 .6 .6-.2 .6-2 .6-1.7 .3-.6 .3 .2 .6 1.7 .6 1.7 .6 1.7 .6 0 .6 .2 .6-.1 .6 .4 .6-.1 .6-.4 .6 .2 .6-.1 .6 .4 .6-.3 .6-.2 .6 0 .6 .4 .6 0 .6-.3 .6 .2 .6 0 .6 .3 .6 .3 .6-.7 .6-.3 .6 .1 .6 .4 .6-.2 .6-.1 .6 .3 .6-.4 .6 .1 .6 .4 .6-.2 .6 .6 .6-.4 .6-.2 .6 .5 .6-.5 .6 .3 .6-.3 .6 0 .6-.1 .6 .4 .6 .1 .6-.7 .6 .5 .6-.3 .6 .1 .6 0 .6 0 .6 0 .6-.3 .6 0 .6-.5 .6 .2 .6-.9 .6-.5 .6-2 .6-3.7 .6-5.6 .4-1.9 .2 .3 .6 4.2 .6 5 .6 2.8 .6 1.7 .6 .3 .6 .6 .6-.1 .6-.1 .6 .2 .6 0 .6 0 .6 0 .6 .2 .6-.4 .6-.4 .6-1.9 .6-1.6 .6-3.6 .5-1.3 .1-.3 .6 2.6 .6 3.1 .6 2.1 .6 .9 .6 .3 .6 .3 .6 .2 .6 .3 .6-.5 .6 .2 .6 0 .6 .1 .6-.1 .6-.1 .6 .4 .6 .2 .6-.3 .6-.3 .6 .3 .6-.3 .6 .6 .6-.3 .6 0 .6 0 .6 .2 .6 .3 .6-.5 .6 .4 .6-.3 .6-.2 .6 .1 .6-.2 .6 .5 .6-.2 .6 .5 .6-.6 .6-.5 .6 .6 .6-.1 .6 .2 .6-.3 .6 .1 .6 .3 .6-.4 .6 .4 .6-.2 .6-.1 .6 .1 .6 .1 .6 0 .6-.1 .6-.1 .6 .5 .6 .1 .6-.5 .6 0 .6-.1 .6 .2 .6 .2 .6 .1 .6-.3 .6 .2 .6-.4 .6 0 .6-.5 .6 .7 .6 0 .6-.4 .6 .3 .6-.3 .6 .7 .6-.5 .6 .4 .6-.3 .6 .2 .6-.3 .6-.1 .6 .3 .6-.2 .6 .1 .6-.3 .6-.3 .6 .3 .6 .1 .6-.4 .6 .2 .6 .5 .6 0 .6-.4 .6 0 .6 .2 .6 0 .6-.5 .6 .2 .6-.1 .6-.6 .6-1.2 .6-.5 .5-.9 .1-.4 .6 1.3 .6 1.1 .6 .8 .6 .6 .6-.1 .6 .2 .6-.1 .6 .2 .6 0 .6-.3 .6-.2 .6 .3 .6 .1 .6 .1 .6-.2 .6 .1 .6 .2 .6-.8 .6 .5 .6 .2 .6-.5 .6 .4 .6-.9 .6-.7 .3-.1 .3 .1 .6 .5 .6 .8 .6 0 .6 .3 .6-.5 .6 .9 .6-.2 .6-.4 .6 .5 .6 0 .6-.3 .6-.1 .6-.3 .6 .1 .6-.1 .6-.9 .6-.2 .6-.1 0-.3 .6 .6 .6 .8 .6 .1 .6 .2 .6 .2 .6-.5 .6 .5 .6 .1 .6 .2 .6 0 .6-.4 .6 .2 .6 .1 .6-.2 .6 .1 .6-.4 .6 .4 .6-.2 .6 .2 .6-.5 .6 .2 .6 .3 .6-.1 .6 .1 .6 .4 .6-.6 .6 .1 .6 .6 .6 0 .6-.4 .6 .3 .6 0 .6-.4 .6 0 .6 .4 .6-.4 .6-.2 .6 0 .6-.1 .6-.1 .6 .3 .6 .1 .6 0 .6-.5 .6 .2 .6 .1 .6 .1 .6 .1 .6-.1 .6 .3 .6-.3 .6 .3 .6 0 .6 .1 .6-.3" stroke="#ff0000" stroke-width="1.7" fill="none" stroke-linejoin="round"/>
<path d="M566.5 635.9l.6-.3 .6-.3 .6 .2 .6 .1 .6 .1 .6-.3 .6 .3 .6 0 .6-.3 .6 .3 .6-.1 .6 0 .6-.1 .6 .1 .6 .1 .6 .3 .6-.4 .6-.5 .6 .2 .6 .5 .6-.3 .6 .2 .6-.3 .6 0 .6-.3 .6 .1 .6 .6 .6-.2 .6-.1 .6 .1 .6-.2 .6 .1 .6 .2 .6-.3 .6 .7 .6-.9 .6 .5 .6 0 .6 0 .6 .1 .6-.3 .6 .2 .6-.4 .6 0 .6-.2 .6 .2 .6-.4 .6-.3 .6-2 .6-2.3 .6-3.1 .2-.1 .4 1.2 .6 2.7 .6 2.3 .6 .9 .6 .8 .6 .2 .6 .8 .6 0 .6-.3 .6 .4 .6-.4 .6-.3 .6 .2 .6-.4 .6 0 .6 .1 .6 .4 .6-.2 .6-.1 .6 0 .6 .5 .6-.7 .6 .4 .6-.4 .6 .5 .6-.3 .6 .1 .6-.2 .6 .5 .6-.6 .6 .4 .6-.2 .6-.2 .6 .3 .6 .6 .6-.2 .6-.4 .6 .3 .6-.4 .6 .1 .6 .2 .6-.3 .6-.2 .6 .2 .6-.1 .6 .3 .6 0 .6-.3 .6 0 .6 .7 .6-.5 .6-.6 .6 .4 .6 .8 .6-.4 .6-.4 .6 .2 .6-.1 .6 0 .6-.4 .6 .5 .6-.2 .6-.4 .6 .3 .6 .2 .6-.4 .6 .4 .6-.2 .6 .3 .6-.6 .6-.8 .6-.7 .6-2.1 .5-1.2 .1 1 .6 1.2 .6 1.3 .6 .5 .6 .6 .6 .8 .6-.6 .6 .4 .6-.3 .6 .3 .6-.3 .6 .1 .6 .3 .6 .2 .6 .1 .6-.7 .6 .3 .6 .2 .6 .4 .6-.4 .6-.3 .6-.2 .6-.3 .6 .8 .6-.5 .6 .1 .6 .3 .6-.4 .6 .1 .6-.7 .6 .4 .6-.4 .6-.6 .6-.8 .6-2 .6-4.1 .6-8.6 .6-10.3 .3-2.2 .3 1.4 .6 9.6 .6 8.9 .6 5.7 .6 1.6 .6 1 .6 .1 .6 .6 .6 .2 .6 .2 .6-.2 .6-.2 .6 .6 .6 .1 .6-.3 .6-.1 .6 0 .6 .4 .6-.2 .6-.7 .6 0 .6 .6 .6-1 .6-.2 .6-.6 .6-1.4 .6-4.1 .6-7.9 .6-9.8 .4-2.6 .2 1.2 .6 8.9 .6 8.7 .6 5.1 .6 2 .6 .4 .6 .3 .6 .7 .6 0 .6 .2 .6 .2 .6 .5 .6-.2 .6-.5 .6 .7 .6-.4 .6-.2 .6-.2 .6 .6 .6 .2 .6-.2 .6-.2 .6 .1 .6 0 .6 .3 .6-.1 .6-.2 .6-.3 .6 0 .6 .5 .6-.2 .6 .3 .6 0 .6 .1 .6 .1 .6-.4 .6-.3 .6 .4 .6-.4 .6 0 .6 0 .6 .3 .6-.1 .6 .5 .6 0 .6-.5 .6 .3 .6 0 .6-.2 .6-.1 .6 .2 .6-.2 .6 .5 .6-.6 .6-.1 .6 .1 .6 .3 .6-.4 .6 .7 .6-.9 .6 .5 .6-.1 .6-1.4 .6-.8 .6-2 .6-3.1 .4-1.8 .2 .5 .6 2.5 .6 3.1 .6 1.1 .6 .9 .6 .5 .6 .4 .6 0 .6-.2 .6 .5 .6-.1 .6 .1 .6 .4 .6-.6 .6-.3 .6 .1 .6 .3 .6-.4 .6 .5 .6-.3 .6 .4 .6-.2 .6 .1 .6-.1 .6-.6 .6-.7 .6-1 .6-1.6 .3-1.1 .3 .7 .6 2.3 .6 .6 .6 .8 .6 .5 .6 0 .6-.1 .6 .3 .6-.4 .6-.1 .6 1.1 .6-.7 .6 0 .6-.3 .6 .5 .6-.7 .6 .4 .6 .4 .6 .2 .6-.2 .6 .4 .6-.6 .6-.4 .6 .3 .6 .1 .6-.2 .6 .3 .6-.2 .6 .2 .6-.3 .6-.3 .6 .1 .6 .7 .6-.1 .6-.2 .6 .3 .6-.4 .6 .3 .6 .1 .6 0 .6-.2 .6-.3 .6-.3 .6 0 .6 .2 .6 .3 .6 .2 .6 0 .6 .3 .6-.8 .6-.1 .6 .5 .6 .1 .6-.2 .6 .2 .6-.7 .6 .3 .6 0 .6-.1 .6 .3 .6 .2 .6-.1 .6-.2 .6-.3 .6 .6 .6 0 .6-.2 .6-.4 .6 .3 .6-.1 .6-.3 .6 0 .6-.2 .6-.3 .6-.2 .6-1.9 .6-2.8 .6-5.2 .6-3.9 0 .2 .6 3.1 .6 5.1 .6 3.2 .6 1.7 .6 .4 .6 .7 .6 0 .6 .4 .6-.1 .6-.1 .6 .2 .6-.2 .6 .6 .6-.7 .6 .6 .6 .1 .6 0 .6 .1 .6-.6 .6-.1 .6 .4 .6 0 .6 0 .6-.2 .6 0 .6 .1 .6 .5 .6 .1 .6-.7 .6-.1 .6 .2 .6-.1 .6 .2 .6 .3 .6 0 .6-.5 .6 .2 .6-.1 .6-.2 .6-.1 .6-.2 .6 .3 .6-.6 .6 .6 .6 .1 .6 0 .6 .1 .6 0 .6-.3 .6-.2 .6-.2 .6-.3 .6-.2 .6-1.5 .6-3.7 .6-4.7 .5-2.2 .1 .2 .6 3.2 .6 4.1 .6 2.8 .6 1.2 .6 1.2 .6 .4 .6 0 .6-.2 .6 .3 .6 0 .6-.1 .6 .1 .6 .5 .6-.4 .6-.1 .6 .5 .6-.6 .6 .1 .6-.1 .6 .2 .6-.4 .6 .4 .6-.1 .6 .1 .6 .3 .6 .3 .6-.9 .6 0 .6 .1 .6 0 .6-.1 .6-1.1 .6-1.4 .6-2.3 .6-1.9 .1 .2 .5 1.1 .6 2.4 .6 1.5 .6 .6 .6-.5 .6-.4 .6-1.5 .3 0 .3 .6 .6 1.1 .6 1.1 .6 .4 .6 .2 .6 .1 .6 .3 .6-.1 .6 0 .6 .2 .6-.6 .6 .1 .6 .2 .6 .1 .6 .1 .6 .1 .6-.2 .6 .3 .6 .2 .6-.2 .6-.3 .6 .2 .6 .3 .6-.4 .6 .2 .6-.2 .6 0 .6 .1 .6-.3 .6-.4 .6 .2 .6 .5 .6 .2 .6-.1 .6-.5 .6 .4 .6 .2 .6-.1 .6 .4 .6-.8 .6 0 .6 .1 .6-.2 .6 0 .6 .2 .6-.1 .6 .5 .6-1.2 .6 .6 .6 0 .6-.1 .6-.3 .6 .3 .6 0 .6-.5 .6 .2 .6-.3 .6-1.1 .6-1.6 .6-4.1 .6-5.3 .4-1.9 .2 .4 .6 4.2 .6 5 .6 3 .6 .9 .6 .2 .6 .9 .6-.4 .6 .3 .6 .2 .6-.3 .6 0 .6 0 .6-.5 .6 .4 .6-.6 .6-1 .6-1.5 .6-3.5 .5-1.5 .1-.3 .6 2.4 .6 2.7 .6 2.1 .6 .9 .6 0 .6 .7 .6-.1 .6 0 .6 0 .6 .3 .6 .3 .6-.4 .6 0 .6 .3 .6-.1 .6-.1 .6-.1 .6 0 .6-.5 .6 .2 .6 .3 .6 .4 .6-.1 .6-.1 .6-.3 .6 .1 .6 0 .6 .2 .6-.1 .6 .2 .6 0 .6-.5 .6 .4 .6-.2 .6 .4 .6-.5 .6 .7 .6-.3 .6-.5 .6 .3 .6 .1 .6-.1 .6-.4 .6 .5 .6 .1 .6-.3 .6-.2 .6 .1 .6-.3 .6 .1 .6 .6 .6 .1 .6-.4 .6-.2 .6 .4 .6-.4 .6-.4 .6 .5 .6 .4 .6-.1 .6-.3 .6 .2 .6 .4 .6-.3 .6-.2 .6 .6 .6-.7 .6-.2 .6 .6 .6-.3 .6 .4 .6-.2 .6-.1 .6 0 .6-.3 .6 .3 .6-.1 .6-.2 .6 .2 .6-.1 .6 .4 .6 .3 .6-.2 .6-.5 .6-.1 .6-.1 .6 .6 .6-.3 .6-.6 .6 .3 .6 .5 .6-.1 .6-.4 .6-.2 .6 .1 .6 .1 .6-1 .6-.7 .5-.5 .1 .3 .6 .5 .6 .7 .6 .2 .6 .4 .6 .3 .6 .2 .6-.3 .6-.1 .6 .4 .6 .4 .6-.6 .6-.1 .6 0 .6 .1 .6 .2 .6 .1 .6-.1 .6 .1 .6 0 .6 .2 .6 .1 .6-.4 .6 .1 .6-.5 .6-.4 .6 1 .6-.1 .6 0 .6-.4 .6 .3 .6-.1 .6 .2 .6-.2 .6 .1 .6 .1 .6 .3 .6-.2 .6-.3 .6-.1 .6-.2 .6-.2 .6-.6 .6-.9 0-.3 .6 .7 .6 .6 .6 .6 .6 .5 .6-.4 .6 .3 .6 .1 .6-.7 .6 .7 .6-.3 .6 .2 .6 0 .6 .1 .6-.7 .6 .8 .6-.1 .6 .1 .6-.2 .6-.4 .6 .7 .6-.1 .6 .3 .6-.3 .6-.1 .6-.3 .6 .1 .6 .5 .6-.6 .6 .4 .6 0 .6-.5 .6 .3 .6 .1 .6 .2 .6-.5 .6 .2 .6 .6 .6-.1 .6-.2 .6-.2 .6 0 .6 .1 .6-.4 .6 .3 .6-.7 .6 .9 .6-.2 .6-.2 .6 .4 .6-.3 .6 .1 .6-.3 .6 .3 .6 .1 .6-.3" stroke="#0000ff" stroke-width="1.7" fill="none" stroke-linejoin="round"/>
<path d="M566.5 599.1l.6-.5 .6 .1 .6 .5 .6-.5 .6-.3 .6-.3 .6 .2 .6-.3 .6 .6 .6-.1 .6-.3 .6-.2 .6 .2 .6 .1 .6 0 .6-.2 .6 .4 .6 .3 .6-.6 .6 .1 .6-.1 .6 .3 .6-.2 .6 0 .6 .2 .6-.5 .6 .1 .6 .1 .6-.3 .6 .3 .6-.2 .6 .3 .6 .7 .6-.1 .6-.5 .6 .5 .6-.5 .6 .2 .6-.5 .6 .3 .6-.5 .6 .6 .6 .1 .6-.6 .6 .4 .6-.1 .6-.7 .6-.4 .6-1 .6-2.1 .6-2.8 .2 .6 .4 .4 .6 2.5 .6 1.5 .6 1.4 .6 .8 .6 .2 .6-.3 .6-.3 .6 0 .6 .4 .6 .2 .6-.1 .6-.1 .6 0 .6-.1 .6 0 .6 .3 .6 .2 .6-.4 .6-.2 .6-.1 .6 .1 .6 0 .6 .1 .6 .3 .6 0 .6-.6 .6 .9 .6-.4 .6-.1 .6 0 .6-.2 .6 0 .6-.1 .6 .2 .6-.2 .6 .2 .6-.2 .6 .3 .6-.5 .6 .4 .6-.3 .6 .4 .6-.2 .6 .3 .6 .1 .6-.2 .6-.3 .6 .1 .6-.1 .6 .4 .6-.6 .6 .3 .6 0 .6 .5 .6 0 .6 .1 .6-.6 .6 .2 .6-.5 .6 .8 .6-.6 .6-.5 .6 .7 .6-.2 .6 0 .6-.2 .6 0 .6-.4 .6-.5 .6-.5 .6-2.8 .6-3 .5-1.5 .1 .3 .6 2.3 .6 2.9 .6 2.2 .6 .6 .6 .4 .6 .1 .6 0 .6 .1 .6-.6 .6 1 .6-.3 .6-.1 .6 .6 .6-.5 .6 .1 .6-.3 .6 0 .6 .2 .6-.1 .6-.4 .6 .2 .6 .8 .6-.6 .6-.5 .6-.1 .6 .6 .6-.6 .6 .1 .6 .1 .6-.2 .6 0 .6-.5 .6-.5 .6-1.8 .6-3.9 .6-6.7 .6-8.9 .3-1.7 .3 1.5 .6 7.8 .6 7.6 .6 3.9 .6 1.8 .6 .4 .6 .5 .6 .4 .6 .2 .6 0 .6 .1 .6-.3 .6 1 .6-.5 .6-.1 .6-.2 .6 .3 .6 .3 .6-.9 .6 .2 .6-.3 .6-.2 .6-.3 .6-.8 .6-1.4 .6-3.9 .6-8.9 .6-12.3 .6-7.6 0-.2 .6 8.1 .6 13.1 .6 7.9 .6 3.8 .6 1.4 .6 .6 .6 .6 .6 0 .6 .6 .6 .2 .6-.5 .6-.3 .6 .6 .6 .2 .6 .1 .6-.3 .6-.3 .6-.4 .6-.2 .6-1.1 .2 0 .4 0 .6 1.1 .6 .4 .6 .6 .6-.2 .6 .6 .6 .1 .6-.3 .6 0 .6 .1 .6 .3 .6-.7 .6 .6 .6 .3 .6-.5 .6-.2 .6-.2 .6 .7 .6-.4 .6 .4 .6-.1 .6-.1 .6 .4 .6-.4 .6 .1 .6-.2 .6-.1 .6-.3 .6 .5 .6 .1 .6-.2 .6-.3 .6 .4 .6 .1 .6 .2 .6-.1 .6-.8 .6 .4 .6-.1 .6-.1 .6-.3 .6 .5 .6-.2 .6-1.1 .6-1.2 .6-1.1 .4-.7 .2-.1 .6 1.9 .6 1.1 .6 1 .6-.1 .6 .5 .6 0 .6 .5 .6-.5 .6 0 .6 .1 .6 .7 .6-.3 .6-.2 .6-.3 .6 .3 .6-.2 .6 .6 .6-.6 .6 .4 .6-.8 .6 0 .6 .2 .6-.5 .6-.2 .6-1.5 .6-2.6 .6-3.1 .3-.6 .3 .4 .6 3.3 .6 2.1 .6 1.7 .6 .7 .6 .5 .6-.1 .6-.5 .6 .7 .6-.3 .6 .4 .6-.2 .6 0 .6 .1 .6 .2 .6-.4 .6 .5 .6-.7 .6 .6 .6-.3 .6 0 .6-.1 .6 .7 .6-.1 .6-.3 .6-.2 .6 .2 .6 .1 .6-.7 .6 .4 .6 .4 .6-.2 .6 .4 .6-.1 .6-.3 .6 .3 .6-.1 .6-.5 .6 .1 .6 .1 .6-.1 .6 .6 .6-.6 .6 .1 .6 .4 .6-.8 .6 .3 .6-.1 .6 0 .6 .3 .6 .2 .6-.2 .6 0 .6-.2 .6 .3 .6-.3 .6-.2 .6 .5 .6 0 .6-.1 .6-.1 .6 0 .6 .1 .6-.1 .6 .7 .6-1.1 .6 .6 .6 .2 .6-.2 .6-.4 .6 .1 .6 0 .6-.2 .6-.2 .6-.3 .6 .1 .6-1.2 .6-2.1 .6-.6 0-.2 .6 .7 .6 2.1 .6 .9 .6 .3 .6 .6 .6 0 .6-.2 .6 .5 .6-.1 .6 .1 .6-.2 .6 0 .6 .1 .6 .3 .6 .3 .6-.3 .6 .3 .6-.6 .6-.2 .6-.1 .6 .3 .6 0 .6 .3 .6-.3 .6-.3 .6 .5 .6 .1 .6-.7 .6 .3 .6 .5 .6 0 .6-.3 .6-.4 .6 .5 .6 0 .6-.1 .6-.4 .6 .5 .6 .1 .6-.5 .6 .5 .6-.1 .6-.1 .6 0 .6 .1 .6-.1 .6-1.1 .6-.3 .6-.3 .6 0 .1-.8 .5 .3 .6 .5 .6-.2 .6-.5 .6-1.9 .6-3.3 .5-1.6 .1-.3 .6 2.6 .6 3.4 .6 2 .6 .6 .6 .1 .6 .4 .6 .4 .6-.2 .6-.1 .6-.1 .6-.1 .6 .6 .6-.4 .6 .3 .6-.2 .6 .4 .6-.1 .6-.2 .6-.2 .6 .2 .6 .1 .6 .1 .6-.5 .6 .2 .6-.3 .6 0 .6 .3 .6 0 .6-.2 .6 0 .6-.4 .6-.7 .6-1.7 .6-3.2 .6-1.8 .1-.5 .5 1.1 .6 3.4 .6 1.9 .6 1 .6 .2 .6-.7 .6-.7 .3 .4 .3-.2 .6 .8 .6 .8 .6 .9 .6-.7 .6-.2 .6 .6 .6 0 .6-.2 .6-.2 .6 .4 .6-.1 .6 .2 .6-.1 .6 0 .6 .3 .6-.5 .6 .4 .6-.1 .6 .2 .6-.6 .6-.4 .6 .6 .6 .5 .6 .1 .6-.2 .6-.2 .6-.3 .6 .4 .6-.3 .6-.1 .6 .5 .6 0 .6-.4 .6 .7 .6-.1 .6-.4 .6 .2 .6-.4 .6-.1 .6 .1 .6-.1 .6 .2 .6 .3 .6-.2 .6-.1 .6-.1 .6-.2 .6 .1 .6-.2 .6 .2 .6 .2 .6-.9 .6 .7 .6-.4 .6-.3 .6-.6 .6-.9 .6-1.8 .6-4.4 .6-7.1 .4-1.4 .2 .1 .6 5 .6 6.2 .6 3.2 .6 .9 .6 .6 .6 1.1 .6 .1 .6-.2 .6-.2 .6-.2 .6 0 .6 .3 .6-.4 .6 .4 .6-.8 .6 .1 .6-1.5 .6-2 .5-.4 .1 0 .6 1.2 .6 1.8 .6 1.1 .6 .7 .6 0 .6-.2 .6 .1 .6 .3 .6 .2 .6-.4 .6 .3 .6-.3 .6-.1 .6-.2 .6 .5 .6 .1 .6-.1 .6-.3 .6-.2 .6 .3 .6-.2 .6-.5 .6 .9 .6-.6 .6 .4 .6 .3 .6-.6 .6 .1 .6 .3 .6 0 .6-.2 .6-.1 .6 .1 .6-.3 .6 .1 .6 0 .6 0 .6 .5 .6-.2 .6 .4 .6-.1 .6 0 .6-.5 .6 .5 .6-.4 .6 .2 .6-.1 .6 .1 .6-.1 .6 .4 .6-.2 .6 .6 .6-.7 .6 .7 .6-.5 .6-.2 .6 .1 .6 .4 .6 .3 .6-.5 .6 .3 .6-.4 .6-.4 .6 .2 .6 .2 .6 .1 .6-.3 .6-.1 .6-.1 .6 .4 .6-.1 .6-.3 .6 .2 .6-.1 .6 .1 .6 .2 .6-.4 .6 .2 .6 .4 .6-1 .6 .2 .6 .2 .6-.5 .6 .6 .6 .2 .6-.2 .6-.1 .6 .3 .6 0 .6 .1 .6-.1 .6-.2 .6-.2 .6 .5 .6 .3 .6-1.2 .6-.2 .6-.7 .5 .1 .1 .1 .6 .6 .6 .6 .6-.1 .6 .4 .6 .1 .6-.2 .6-.2 .6 .4 .6 .1 .6-.5 .6 .6 .6-.3 .6-.3 .6 .4 .6-.1 .6 .2 .6-.1 .6-.3 .6-.2 .6 .1 .6 .1 .6 .1 .6-1.1 .6-.4 .3-.4 .3 .5 .6 .4 .6 .7 .6 .4 .6-.2 .6 .2 .6-.3 .6 .4 .6-.4 .6-.3 .6 1 .6-.9 .6 .3 .6 0 .6 .1 .6-.5 .6 .7 .6 .3 .6-.3 .6-.4 .6 .4 .6-.1 .6-.2 .6 .1 .6 .4 .6-.6 .6 0 .6-.1 .6 .3 .6-.2 .6 .1 .6 .1 .6 .1 .6-.3 .6-.1 .6 .7 .6-.3 .6-.4 .6 .3 .6 .3 .6-.1 .6 .3 .6-.5 .6 .5 .6-.6 .6 .2 .6-.1 .6-.1 .6 0 .6 .3 .6 .1 .6-.3 .6 .4 .6-.2 .6 0 .6-.2 .6 .2 .6-.6 .6 .2 .6 0 .6 .3 .6 0 .6 0 .6 0 .6-.3 .6-.1 .6 .4 .6 0 .6-.4 .6-.1 .6 .3 .6 .2 .6 .2 .6 0" stroke="#ff00ff" stroke-width="1.7" fill="none" stroke-linejoin="round"/>
<path d="M566.5 555.6l.6 0 .6 0 .6-.4 .6 .2 .6 .4 .6-.5 .6 .4 .6-.2 .6 .3 .6-.1 .6-.2 .6 0 .6-.1 .6-.1 .6 .2 .6-.3 .6 .4 .6 .4 .6-.7 .6-.1 .6 .6 .6-.5 .6 .1 .6-.1 .6 .3 .6-.9 .6 1.1 .6-.3 .6-.2 .6-.2 .6 .1 .6 .1 .6 .5 .6 0 .6-.2 .6-.2 .6-.1 .6-.2 .6 .6 .6-.2 .6-.2 .6-.1 .6 .4 .6-.4 .6-.7 .6 .1 .6-.3 .6-.9 .6-2.7 .6-4.1 .6-3.9 .2-.3 .4 1.2 .6 4.8 .6 3.6 .6 1.7 .6 .7 .6 .6 .6 0 .6-.3 .6 .2 .6 .3 .6 0 .6 .1 .6 0 .6-.3 .6 0 .6 .3 .6 .3 .6-.1 .6-.1 .6-.1 .6 .2 .6-.2 .6 .3 .6-.6 .6 .6 .6-.2 .6-.5 .6 .6 .6 .3 .6-.8 .6 .7 .6-.6 .6 0 .6 .2 .6 0 .6 0 .6 .2 .6-.1 .6 .4 .6-.5 .6 .2 .6-.1 .6-.2 .6 .3 .6 .1 .6-.4 .6 .4 .6-.4 .6-.2 .6 .1 .6 .1 .6 0 .6 .5 .6-.4 .6-.5 .6 .2 .6-.1 .6 .6 .6-.1 .6-.2 .6 .5 .6-.1 .6-.6 .6 .2 .6 .4 .6-.3 .6 .2 .6 .1 .6-.5 .6-.3 .6-.9 .6-1.7 .6-2.3 .5-.7 .1 .1 .6 1.7 .6 2 .6 .7 .6 1.1 .6 .4 .6-.3 .6 .4 .6-.1 .6 .2 .6 .1 .6-.3 .6 .2 .6-.4 .6 .2 .6 .4 .6 0 .6-.4 .6 .1 .6-.5 .6 .5 .6-.2 .6 .1 .6-.5 .6 0 .6 0 .6 0 .6 .1 .6 0 .6-.3 .6-.3 .6 0 .6-.7 .6-1 .6-2 .6-5.4 .6-9.8 .6-11.5 .3-3.3 .3 2.7 .6 11.5 .6 10 .6 5.8 .6 2.2 .6 .6 .6 .5 .6 .6 .6-.1 .6 .5 .6-.4 .6 .4 .6 0 .6 0 .6 .1 .6 .2 .6-.4 .6 .3 .6-1.1 .6 .4 .6 .4 .6-.8 .6 0 .6-.1 .6-.9 .6-2 .6-4.2 .6-9.4 .6-11.1 .4-2.1 .2 1.1 .6 9.7 .6 10.2 .6 5.1 .6 2.5 .6 1.1 .6 .6 .6 0 .6 .8 .6-.4 .6 .3 .6-.1 .6 .2 .6-.3 .6-.1 .6 .5 .6-.1 .6-.1 .6 .4 .6 0 .6 .3 .6-.7 .6 .1 .6 0 .6-.1 .6 .1 .6 .4 .6-.2 .6-.1 .6 .2 .6 0 .6 .2 .6-.4 .6 .3 .6-.2 .6 .1 .6-.6 .6 .4 .6 .4 .6-.5 .6 .5 .6-.1 .6-.3 .6-.3 .6 .1 .6 .6 .6-.6 .6 .2 .6 .5 .6-.2 .6-.1 .6 0 .6 .2 .6-.7 .6 .6 .6-.7 .6 .4 .6-.1 .6-.1 .6 .1 .6 .5 .6-.7 .6-1 .6-1.2 .6-1.8 .6-3.4 .4-1.7 .2 1.2 .6 2.1 .6 3 .6 1.5 .6 .6 .6 .5 .6 .6 .6-.5 .6 0 .6 .3 .6-.4 .6 .7 .6-.6 .6 .4 .6 0 .6-.1 .6 .4 .6-.2 .6-.1 .6 .1 .6 .5 .6-.6 .6-.5 .6 .5 .6-.3 .6-.7 .6-1.4 .6-1.5 .3-.3 .3 .3 .6 1.2 .6 1.6 .6 .6 .6 .1 .6 .1 .6-.2 .6 .1 .6 .9 .6-.3 .6-.4 .6-.2 .6 .2 .6 0 .6 0 .6 .3 .6-.2 .6 .3 .6 0 .6-.1 .6-.6 .6 .2 .6 .4 .6-.1 .6 .1 .6 0 .6 .2 .6-.4 .6 .1 .6 .6 .6-.4 .6-.5 .6 .6 .6-.2 .6 0 .6 0 .6-.1 .6 .1 .6 .7 .6-.4 .6-.6 .6 0 .6-.2 .6 .1 .6 0 .6 .5 .6 .2 .6-.4 .6-.1 .6 .2 .6-.3 .6 .3 .6-.1 .6 0 .6-.1 .6 0 .6-.1 .6 0 .6 0 .6 0 .6 .4 .6-.3 .6 .1 .6-.2 .6 .1 .6 0 .6 .1 .6-.4 .6-.3 .6 .3 .6-.3 .6 .4 .6 .2 .6-.3 .6-.6 .6-1.5 .6-2.5 .6-4.1 .6-3.3 0 .2 .6 2.4 .6 4.1 .6 2.9 .6 1.9 .6 .1 .6 .1 .6 .4 .6 .2 .6 .2 .6 .2 .6-.2 .6 .2 .6-.1 .6-.7 .6 .3 .6 .2 .6 .1 .6-.2 .6 .1 .6-.1 .6 .6 .6-.6 .6-.3 .6 .6 .6-.2 .6-.1 .6 .2 .6-.4 .6 0 .6 .7 .6-.3 .6-.2 .6 .3 .6-.2 .6 .3 .6-.3 .6 0 .6-.2 .6 .5 .6 .1 .6-.1 .6-.4 .6 .2 .6 .2 .6-.4 .6 .3 .6-.3 .6-.5 .6 .1 .6-.2 .6 .1 .6-.5 .6-.9 .6-1.8 .6-4.8 .6-7 .5-2.9 .1-.2 .6 4.5 .6 6.5 .6 4.2 .6 1.4 .6 1 .6 .4 .6 .4 .6 .2 .6-.1 .6 0 .6 0 .6 .7 .6-.9 .6 .2 .6 .1 .6 .2 .6 .2 .6-.1 .6-.8 .6 .1 .6 .4 .6 .2 .6 .1 .6-.1 .6-.3 .6 .1 .6 .1 .6-.3 .6 .1 .6-.1 .6-.3 .6-.3 .6-1.3 .6-2.4 .6-1.6 .1-.1 .5 1.3 .6 1.7 .6 1.8 .6 .4 .6-.1 .6-.8 .6-1.6 .3-.3 .3 .7 .6 1.4 .6 .5 .6 .7 .6 .6 .6-.1 .6 .2 .6-.3 .6 .3 .6 .1 .6-.4 .6 .4 .6-.3 .6-.3 .6 0 .6 .6 .6 .1 .6-.1 .6 0 .6 0 .6-.2 .6 .3 .6-.3 .6 0 .6 .1 .6-.2 .6 .1 .6-.4 .6 .3 .6-.2 .6 .4 .6-.1 .6-.1 .6 0 .6 .2 .6-.2 .6 0 .6 .2 .6-.3 .6-.4 .6 .7 .6-.2 .6-.3 .6 .8 .6-.4 .6-.5 .6 .1 .6 .4 .6-.5 .6 .1 .6 .4 .6 .4 .6-.8 .6-.1 .6 .4 .6-.7 .6-.5 .6-.6 .6-2 .6-4.2 .6-5.3 .4-2.3 .2 .9 .6 4.7 .6 4.7 .6 2.5 .6 2 .6 .7 .6-.3 .6 .1 .6 .1 .6 0 .6-.3 .6-.1 .6 .1 .6-.1 .6-.2 .6-.4 .6-1.3 .6-2.1 .6-4.2 .5-1.8 .1 .1 .6 2.7 .6 3.7 .6 2.1 .6 1 .6 .4 .6 .5 .6-.3 .6 .5 .6-.1 .6-.3 .6 .3 .6 .2 .6-.1 .6 .5 .6-.4 .6-.5 .6 .7 .6-.4 .6 .3 .6-.3 .6 .3 .6-.3 .6 .4 .6-.5 .6 .5 .6-.3 .6-.1 .6-.2 .6 .8 .6 .2 .6-.6 .6 .1 .6-.4 .6 .1 .6 .1 .6 .2 .6-.2 .6 .3 .6-.3 .6-.1 .6 .2 .6 .1 .6 0 .6 0 .6-.3 .6 .2 .6 0 .6-.4 .6 .4 .6 .2 .6-.2 .6-.4 .6 .7 .6-.4 .6-.3 .6 .3 .6 .3 .6-.5 .6 .4 .6-.4 .6-.1 .6 .5 .6-.5 .6 .1 .6 .1 .6-.1 .6 .2 .6 0 .6 .2 .6-.1 .6 .2 .6-.5 .6 0 .6 .1 .6-.1 .6-.3 .6 .3 .6 .6 .6-.3 .6 .3 .6-.1 .6-.4 .6 0 .6 0 .6-.1 .6 .4 .6 .1 .6-.3 .6 .1 .6 .1 .6 0 .6-.4 .6 .2 .6-.2 .6-.2 .6-.7 .6-1 .6-1.2 .5-.8 .1 .2 .6 1.1 .6 1.6 .6 .6 .6 .3 .6 .5 .6-.7 .6 .5 .6-.4 .6 .2 .6 0 .6-.2 .6 0 .6 .3 .6 0 .6-.3 .6-.1 .6-.1 .6 .4 .6 .2 .6 .4 .6-.1 .6-.5 .6 .5 .6-.3 .6-.6 .6 .7 .6-.2 .6 .9 .6-.9 .6 .6 .6 0 .6-.7 .6 .2 .6 .2 .6-.5 .6 .2 .6 .2 .6-.4 .6 .2 .6-.2 .6-.9 .6-.5 .6-.1 0-.8 .6 1 .6 .5 .6 .4 .6 .5 .6 0 .6 .4 .6 .1 .6-.2 .6 .1 .6-.1 .6-.1 .6 .1 .6 0 .6 .2 .6-.2 .6 .3 .6 .1 .6-.5 .6 .1 .6 0 .6-.2 .6 0 .6 .4 .6-.2 .6-.5 .6 .4 .6-.2 .6 .6 .6-.3 .6 .2 .6-.1 .6-.2 .6 0 .6 .1 .6-.4 .6 0 .6 .1 .6-.2 .6 .2 .6 .9 .6-.3 .6-.5 .6 .2 .6-.4 .6 .2 .6 .1 .6-.1 .6-.1 .6 .3 .6-.1 .6-.3 .6 .2 .6 0 .6 .8 .6-.9" stroke="#008000" stroke-width="1.7" fill="none" stroke-linejoin="round"/>
<path d="M566.5 514l.6 .2 .6-.4 .6-.1 .6 .4 .6 .2 .6-.5 .6 0 .6-.3 .6 .2 .6 0 .6-.3 .6 .8 .6-.4 .6 .4 .6-.3 .6-.1 .6 .7 .6-.5 .6 0 .6 .1 .6 0 .6 0 .6-.3 .6 .6 .6-.6 .6 .1 .6 .3 .6-.6 .6 0 .6 .2 .6-.1 .6 .1 .6-.1 .6-.2 .6 .3 .6 .3 .6 0 .6-.5 .6 .1 .6 0 .6-.1 .6 .1 .6-.1 .6 0 .6-.5 .6 .2 .6-.4 .6-.7 .6-2.8 .6-4.4 .6-3.8 .2 .1 .4 1.7 .6 4.4 .6 3.1 .6 .9 .6 1.8 .6 .3 .6-.2 .6 .3 .6 0 .6-.4 .6 .3 .6 .1 .6-.2 .6 .2 .6 .8 .6-1 .6 .1 .6 .6 .6-.4 .6-.3 .6 .4 .6 .2 .6 .1 .6-.1 .6-.1 .6 .5 .6-.3 .6-.4 .6 .1 .6 .5 .6-.6 .6-.1 .6 .3 .6-.1 .6 .3 .6-.4 .6-.2 .6 .1 .6 .7 .6 .3 .6-.3 .6-.4 .6-.2 .6 0 .6-.5 .6 .5 .6-.1 .6 .4 .6-.4 .6 .2 .6 0 .6-.4 .6 .6 .6-.7 .6 .6 .6-.2 .6 .1 .6 0 .6-.1 .6 .2 .6 .4 .6-.5 .6-.1 .6 .3 .6-.2 .6 .1 .6-.2 .6-.3 .6 .1 .6-.7 .6-.2 .6-1.7 .6-1.7 .5-1.1 .1 .2 .6 1.4 .6 1.4 .6 1.8 .6 1 .6-.3 .6-.5 .6 .1 .6 .5 .6 .6 .6-.2 .6 0 .6-.2 .6 .1 .6 .5 .6-.9 .6 0 .6-.3 .6 .1 .6 .4 .6-.1 .6-.3 .6 .4 .6 .1 .6-.2 .6-.6 .6 .3 .6-.2 .6 0 .6-.3 .6-.2 .6-.4 .6-.4 .6-.8 .6-2.9 .6-5.8 .6-11 .6-13.5 .3-2.6 .3 2 .6 12.3 .6 11.9 .6 6.6 .6 2.5 .6 .9 .6 1.1 .6-.1 .6 .2 .6 .2 .6 .5 .6-.2 .6-.2 .6-.2 .6 .6 .6-.2 .6 .1 .6 0 .6 .1 .6 .1 .6-.8 .6-.4 .6 .3 .6-.3 .6-.9 .6-1.8 .6-4.5 .6-9.3 .6-10.7 .4-3.6 .2 1.5 .6 10.7 .6 9.9 .6 5.5 .6 2.1 .6 .5 .6 1 .6 .3 .6-.1 .6 .5 .6 .1 .6-.1 .6 .2 .6-.2 .6 .4 .6-.6 .6 .6 .6 .3 .6 .2 .6-.5 .6-.3 .6-.2 .6 .1 .6 .3 .6 .2 .6-.2 .6-.3 .6 .8 .6-.1 .6 0 .6-.4 .6 0 .6 .6 .6-.3 .6-.3 .6-.2 .6 .2 .6 .5 .6-.9 .6 .5 .6 .4 .6-.8 .6 .4 .6 .1 .6-.5 .6 .3 .6-.2 .6 .6 .6-.2 .6-.2 .6 .3 .6 .3 .6-.3 .6 0 .6-.1 .6 .2 .6-.5 .6-.4 .6 .9 .6-.4 .6-.3 .6-.4 .6-.5 .6-.9 .6-2.1 .6-3.9 .4-1.5 .2 .6 .6 3 .6 2.9 .6 1.6 .6 1 .6 0 .6 .5 .6-.1 .6-.2 .6 .6 .6-.5 .6 .4 .6-.3 .6 .5 .6-.5 .6 .1 .6 .5 .6-.6 .6-.1 .6 .2 .6 .1 .6 0 .6 .5 .6-.5 .6-.7 .6-.9 .6-1.1 .6-2.3 .3-.3 .3 .7 .6 1.7 .6 1.5 .6 .4 .6 .4 .6 .4 .6 .2 .6-.2 .6 .6 .6-.6 .6 .3 .6-.2 .6-.1 .6 .5 .6 .1 .6-.4 .6-.4 .6 .4 .6 0 .6 .4 .6-.6 .6 .4 .6-.2 .6 .2 .6-.3 .6-.1 .6-.3 .6 .3 .6-.3 .6 .3 .6-.1 .6 .4 .6 .1 .6-.1 .6-.4 .6 .6 .6-.3 .6-.5 .6 .5 .6 0 .6 .2 .6 .2 .6-.2 .6-.3 .6 .2 .6 .2 .6 .2 .6-.6 .6 .3 .6-.5 .6 0 .6 .1 .6 .2 .6 .1 .6-.5 .6 .6 .6 .2 .6-.5 .6 0 .6 .1 .6-.4 .6 .5 .6-.1 .6-.1 .6 .1 .6 .1 .6-.2 .6-.1 .6-.4 .6 .5 .6-.4 .6-.2 .6-.3 .6-.4 .6-.5 .6-1.7 .6-4.3 .6-7.2 .6-3.6 0-.3 .6 4.2 .6 6.8 .6 4.1 .6 2 .6 .2 .6 .5 .6 .8 .6 .2 .6 .1 .6-.1 .6 .1 .6 .2 .6-.5 .6-.2 .6 .8 .6-.4 .6 0 .6 .2 .6 0 .6 .3 .6-.5 .6-.2 .6 .6 .6-.5 .6 .2 .6 0 .6 .2 .6-.2 .6 .7 .6-.8 .6 .1 .6 0 .6-.2 .6 .7 .6-.3 .6 .6 .6-.7 .6-.1 .6 0 .6 0 .6-.2 .6-.4 .6 .5 .6 .3 .6 0 .6 0 .6-.7 .6 .2 .6-.5 .6 .3 .6-.4 .6-.5 .6-.5 .6-2.6 .6-3.4 .6-7 .5-2.8 .1-.1 .6 5.2 .6 5.9 .6 3.7 .6 1.4 .6 .8 .6 .1 .6 .1 .6 .3 .6 0 .6 .1 .6-.3 .6 .7 .6-.8 .6 .5 .6 .2 .6-.1 .6-.1 .6-.2 .6 .6 .6-.3 .6 .2 .6-.1 .6 .1 .6-.3 .6-.1 .6 0 .6 .1 .6 .1 .6 0 .6-.4 .6 .2 .6-.7 .6-1.5 .6-2.5 .6-1.4 .1-.3 .5 1 .6 2.7 .6 .9 .6 1 .6-.5 .6-1.3 .6-1.6 .3-.1 .3 .1 .6 1.4 .6 1.3 .6 .8 .6 .4 .6 .6 .6-.3 .6 .2 .6 0 .6 .1 .6-.3 .6 .2 .6 .4 .6-.4 .6 .1 .6-.2 .6 .1 .6 .4 .6-.3 .6 .2 .6-.5 .6 .3 .6-.1 .6 .1 .6 .1 .6 .5 .6-.3 .6-.4 .6 .1 .6 .9 .6-.3 .6-.2 .6-.3 .6-.4 .6 .5 .6 0 .6 0 .6 0 .6 .1 .6-.5 .6-.2 .6 .6 .6 .1 .6-.1 .6-.1 .6-.1 .6-.5 .6 0 .6-.2 .6 .6 .6 .4 .6-.7 .6-.1 .6-.1 .6 .2 .6-.3 .6-.1 .6-1.5 .6-2.3 .6-5.7 .6-6.9 .4-2.2 .2 .3 .6 5.4 .6 6.9 .6 4.1 .6 1.4 .6 .4 .6-.1 .6 .6 .6 .2 .6 .5 .6-.4 .6-.4 .6 .2 .6-.6 .6-.1 .6-.3 .6-.9 .6-2.6 .6-3.4 .5-2.2 .1 .3 .6 2.5 .6 4.1 .6 1.2 .6 1.7 .6-.1 .6-.1 .6 0 .6 .5 .6 .4 .6-.5 .6-.1 .6 .9 .6-.5 .6 .3 .6-.6 .6 0 .6 .2 .6 .4 .6-.2 .6 0 .6 .4 .6-.5 .6 .2 .6 .1 .6-.8 .6 .6 .6 .1 .6-.3 .6 0 .6 .3 .6 .2 .6-.1 .6-.2 .6 .6 .6-.6 .6-.1 .6 .2 .6 0 .6-.2 .6 .3 .6-.4 .6 .4 .6 .2 .6-.1 .6-.2 .6 .3 .6-.1 .6-.3 .6 .1 .6-.1 .6 .1 .6-.3 .6 .2 .6-.1 .6-.1 .6 .5 .6-.2 .6-.1 .6 0 .6 .2 .6-.1 .6 .2 .6-.4 .6 .3 .6-.8 .6 1.1 .6-.3 .6-.2 .6 0 .6-.2 .6 .5 .6-.2 .6-.3 .6 .1 .6-.1 .6 .8 .6-.3 .6-.6 .6 0 .6-.2 .6 .3 .6 .1 .6-.1 .6 .3 .6-.2 .6 .4 .6-.1 .6-.7 .6 .7 .6-.2 .6-.6 .6 .5 .6 .3 .6-.4 .6-.1 .6-.8 .6-.6 .6-1.9 .5-.3 .1-.1 .6 .9 .6 1.2 .6 1.5 .6 .5 .6 .2 .6-.2 .6 0 .6-.5 .6 .3 .6 .1 .6-.1 .6-.5 .6 .6 .6 .3 .6 0 .6-.5 .6-.2 .6 0 .6 .6 .6-.2 .6-.1 .6-.4 .6-.4 .6-1.1 .3 .5 .3 .1 .6 .5 .6 .4 .6 .3 .6 0 .6 .1 .6 .1 .6 0 .6 .1 .6-.2 .6-.1 .6-.1 .6 .1 .6 0 .6 .1 .6-.5 .6-.5 .6-1.1 .6-1.1 0 .6 .6 .6 .6 1.1 .6 .1 .6 .7 .6 0 .6 .3 .6-.3 .6 .4 .6-.2 .6-.2 .6-.5 .6 .6 .6-.3 .6 .3 .6 .1 .6 .4 .6 0 .6 0 .6-.6 .6 .7 .6-.6 .6 .1 .6 .3 .6-.3 .6 .1 .6 0 .6-.1 .6 .6 .6-.5 .6-.1 .6 .5 .6-.3 .6 .1 .6 .1 .6-.7 .6 .5 .6 .3 .6 0 .6-.4 .6-.3 .6 .3 .6-.1 .6 .6 .6 0 .6-.8 .6 .2 .6-.3 .6 .1 .6 .1 .6 .5 .6-.2 .6 .2 .6-.3 .6-.1 .6-.3" stroke="#000080" stroke-width="1.7" fill="none" stroke-linejoin="round"/>
<path d="M566.5 468.1l.6 .4 .6 .1 .6 .2 .6-.2 .6 .2 .6-.6 .6 .4 .6-.2 .6-.1 .6 .2 .6-.1 .6 .1 .6-.2 .6 .3 .6-.4 .6-.2 .6 .1 .6 .5 .6-.2 .6 .1 .6-.2 .6 0 .6 .4 .6-.6 .6-.1 .6 .3 .6-.1 .6 0 .6 .4 .6-.1 .6 .4 .6-.2 .6-.5 .6 .1 .6 0 .6 .2 .6-.4 .6 .3 .6 .3 .6-.5 .6 0 .6-.2 .6 .1 .6 .2 .6-.3 .6-.7 .6-.2 .6-.4 .6-1.9 .6-3.7 .6-3.5 .2 .1 .4 1 .6 3.9 .6 2.9 .6 1.3 .6 .7 .6 .5 .6 .3 .6-.1 .6-.2 .6 0 .6 0 .6 .1 .6 .1 .6 0 .6 .1 .6 .1 .6 .1 .6-.3 .6-.2 .6 .4 .6-.2 .6 .3 .6-.1 .6-.5 .6 .7 .6-.3 .6 .5 .6-.4 .6 .1 .6-.6 .6 .2 .6 .1 .6-.1 .6 .4 .6-.2 .6 .5 .6-.4 .6 0 .6 .1 .6 .3 .6-.6 .6-.2 .6 .4 .6-.3 .6 .6 .6-.5 .6 .2 .6-.4 .6 .4 .6-.1 .6 0 .6 0 .6 .4 .6 0 .6 0 .6-.3 .6 0 .6-.5 .6 .8 .6-.4 .6 0 .6-.3 .6 .2 .6 .3 .6-.2 .6-.3 .6 0 .6-.6 .6 .5 .6-.7 .6-1 .6-2 .6-2.9 .5-1.7 .1 .6 .6 2.3 .6 2.5 .6 1.8 .6 .7 .6-.2 .6 .1 .6 .4 .6 0 .6 .3 .6-.2 .6-.1 .6 .5 .6-.3 .6 .4 .6-.3 .6-.3 .6 .4 .6 .3 .6-.4 .6 .5 .6-.3 .6-.1 .6-.2 .6-.1 .6-.1 .6 .5 .6-.9 .6 .6 .6-.7 .6 .3 .6-1.1 .6-.3 .6-1.3 .6-1.6 .6-5.2 .6-10.5 .6-12.1 .3-2.7 .3 1.7 .6 11.8 .6 11 .6 5.5 .6 2.5 .6 1.2 .6 .6 .6 .1 .6 .5 .6 .1 .6 .4 .6-.4 .6-.1 .6 .1 .6 .3 .6 .2 .6-.4 .6-.1 .6 0 .6-.6 .6 .1 .6-.2 .6 0 .6-.1 .6-1 .6-1.7 .6-4.7 .6-8.6 .6-10.3 .4-3.6 .2 1 .6 10.5 .6 9.8 .6 5.1 .6 2.3 .6 .8 .6 .7 .6 0 .6 .4 .6 0 .6-.1 .6 .3 .6-.3 .6-.2 .6 .5 .6-.6 .6 .2 .6-.1 .6-.6 .6-.3 .2-.1 .4-.2 .6 1.1 .6 .5 .6-.2 .6 .2 .6 .3 .6 0 .6-.3 .6 .6 .6 .2 .6-.5 .6 .1 .6-.3 .6 .1 .6 .5 .6-.1 .6 0 .6 .1 .6 .2 .6 .1 .6-.1 .6-.1 .6-.7 .6 .7 .6-.3 .6 .7 .6-.7 .6-.1 .6 .5 .6-.4 .6 0 .6 .2 .6-.7 .6 .6 .6-.2 .6 .1 .6 .2 .6-.3 .6 .1 .6 0 .6-.4 .6 .1 .6-.8 .6-.9 .6-2.1 .6-3.2 .4-1 .2 .4 .6 2.7 .6 2 .6 1.6 .6 1.1 .6 .6 .6-.6 .6 .1 .6 .4 .6-.5 .6 .3 .6 .8 .6-.9 .6 .1 .6 .4 .6 .1 .6-.6 .6 .5 .6-.6 .6 0 .6-.2 .6 .3 .6 0 .6-.1 .6-.8 .6-.4 .6-2.4 .6-2.6 .3-.5 .3 .2 .6 2.6 .6 2.3 .6 .7 .6 .6 .6 .3 .6 .3 .6-.2 .6 .2 .6 0 .6 0 .6-.1 .6 .2 .6 0 .6 .1 .6-.5 .6 .2 .6 .1 .6 .4 .6 .2 .6 .1 .6-.3 .6 .2 .6-.1 .6-.3 .6-.2 .6 .5 .6-.6 .6 .5 .6-.5 .6 .3 .6-.2 .6 .3 .6 0 .6-.4 .6 0 .6-.1 .6 .4 .6 .6 .6-.6 .6-.4 .6 .4 .6 .3 .6-.2 .6-.5 .6 .5 .6 .2 .6-.1 .6-.3 .6 .1 .6 .1 .6 .1 .6 .2 .6-.5 .6-.1 .6 .3 .6-.3 .6 0 .6 .2 .6-.5 .6-.1 .6 .3 .6 .1 .6-.3 .6 .6 .6-.1 .6-.2 .6 .3 .6-.3 .6 .2 .6 .2 .6-.3 .6-.3 .6-.4 .6 0 .6-2 .6-3.4 .6-4.2 .6-3.2 0 .2 .6 2.9 .6 4.5 .6 3.4 .6 .8 .6 1 .6 .3 .6-.6 .6 1.1 .6-.4 .6-.2 .6 .8 .6-.1 .6 .2 .6-.7 .6 1 .6-.5 .6-.2 .6 0 .6-.2 .6-.1 .6 .7 .6-.4 .6 .1 .6 .2 .6-.5 .6 .4 .6-.2 .6 .1 .6-.6 .6 .4 .6 .6 .6-.9 .6 0 .6 .5 .6-.3 .6 .1 .6 0 .6 0 .6-.1 .6 .2 .6-.2 .6-.2 .6 .2 .6 0 .6-.2 .6 .2 .6-.2 .6-.6 .6-1 .6-.7 .1 .6 .5-.6 .6 .4 .6-.1 .6-1.6 .6-4.4 .6-6.1 .5-4.1 .1 .9 .6 4.3 .6 5.6 .6 4.3 .6 1.5 .6 .5 .6 1.1 .6 .4 .6-.1 .6-.5 .6 .6 .6 .1 .6-.3 .6-.2 .6 .5 .6-.2 .6 .5 .6-.4 .6-.1 .6-.4 .6 .3 .6-.5 .6 .2 .6 .4 .6-.2 .6-.3 .6 1.1 .6-.8 .6-.2 .6-.2 .6 .1 .6 .1 .6-1.1 .6-1.8 .6-3 .6-1.9 .1-.4 .5 1.5 .6 2.8 .6 2.4 .6 .1 .6 .1 .6-1.6 .6-1.4 .3-.8 .3 1.2 .6 1.2 .6 1.8 .6 .5 .6 .4 .6-.1 .6 .3 .6-.1 .6 .5 .6-.3 .6 .3 .6-.3 .6 .1 .6 .2 .6-.1 .6-.3 .6 .7 .6-.1 .6-.5 .6 0 .6 .7 .6-.2 .6-.1 .6-.3 .6 .3 .6-.1 .6-.1 .6 .4 .6-.2 .6 .3 .6-.3 .6-.3 .6 .1 .6-.1 .6 .4 .6-.1 .6-.3 .6 .2 .6 .1 .6 .1 .6-.6 .6 .2 .6 .3 .6-.4 .6 0 .6 .3 .6-.4 .6 .4 .6-.2 .6 0 .6 .1 .6-.1 .6 .1 .6-.4 .6-.5 .6-.1 .6-.6 .6-1.1 .6-2.5 .6-5.2 .6-6.7 .4-3.1 .2 .7 .6 5.6 .6 7 .6 3 .6 2 .6 .5 .6 1.1 .6-.4 .6 .2 .6 .1 .6 .4 .6-.4 .6 0 .6-.2 .6-.1 .6-.2 .6-1.8 .6-2.6 .6-3 .5-2.2 .1-.3 .6 3.2 .6 3.3 .6 1.8 .6 1.6 .6 .5 .6 .3 .6-.2 .6 0 .6 .1 .6-.2 .6 .4 .6 .1 .6-.1 .6-.2 .6 .3 .6-.3 .6 .5 .6-.1 .6 .1 .6-.3 .6-.6 .6 .7 .6 0 .6-.5 .6 .6 .6 0 .6 0 .6-.2 .6 .2 .6-.3 .6 .1 .6 0 .6 .7 .6-.5 .6-.2 .6 .1 .6 .2 .6-.5 .6 0 .6-.1 .6 .2 .6 .3 .6-.2 .6 .1 .6 .2 .6 0 .6 .1 .6-.3 .6 .1 .6-.4 .6-.1 .6 0 .6 .1 .6-.1 .6 .4 .6-.1 .6-.2 .6 .2 .6 .1 .6 .3 .6-.2 .6-.1 .6 .4 .6-.2 .6 0 .6-.2 .6-.3 .6 0 .6 0 .6 .3 .6 .2 .6 0 .6-.3 .6 .3 .6-.6 .6 .1 .6 .4 .6 .1 .6 0 .6 .1 .6-.4 .6 0 .6-.3 .6 0 .6-.2 .6 .2 .6 .6 .6-.5 .6 .1 .6 0 .6 .3 .6 .1 .6-.4 .6 .2 .6-.3 .6-.4 .6-1.1 .6-1.1 .5-.2 .1-.3 .6 1.6 .6 .7 .6 .9 .6 0 .6-.3 .6 .2 .6-.2 .6 .5 .6-.2 .6-.1 .6 .4 .6-.5 .6 .3 .6 0 .6-.4 .6 .5 .6-.1 .6 .1 .6 .1 .6 .4 .6-.8 .6 .3 .6-1 .6-.3 .3-.2 .3 .2 .6 .3 .6 .5 .6 0 .6 .5 .6-.2 .6 .4 .6-.2 .6 0 .6 .2 .6-.2 .6 .1 .6-.1 .6-.4 .6 .1 .6-.4 .6-.1 .6-.8 .6-.4 0-.2 .6 .9 .6 .4 .6 .4 .6 .3 .6-.1 .6 0 .6 .1 .6 .2 .6 .1 .6 .3 .6-.6 .6 .2 .6-.1 .6 .2 .6 .1 .6 .2 .6-.2 .6-.2 .6 0 .6 .1 .6-.1 .6 0 .6 .3 .6 .1 .6-.3 .6-.2 .6-.4 .6 .4 .6 .1 .6-.5 .6 .3 .6 .2 .6 .1 .6-.1 .6-.1 .6-.2 .6 .4 .6-.2 .6 .4 .6-.4 .6 .2 .6-.2 .6 0 .6 .1 .6 .2 .6-.1 .6 0 .6-.2 .6-.1 .6 .4 .6 .1 .6-.7 .6 .3 .6 .5 .6-.3" stroke="#8000ff" stroke-width="1.7" fill="none" stroke-linejoin="round"/>
<text x="950.3" y="455" font-size="16.8" font-family="'Liberation Serif','Times New Roman',serif" font-weight="bold" fill="#000">4.0 h</text>
<text x="950.3" y="503.4" font-size="16.8" font-family="'Liberation Serif','Times New Roman',serif" font-weight="bold" fill="#000">3.0 h</text>
<text x="950.3" y="542.9" font-size="16.8" font-family="'Liberation Serif','Times New Roman',serif" font-weight="bold" fill="#000">2.5 h</text>
<text x="951.3" y="589.4" font-size="16.8" font-family="'Liberation Serif','Times New Roman',serif" font-weight="bold" fill="#000">2.0 h</text>
<text x="950.3" y="624" font-size="16.8" font-family="'Liberation Serif','Times New Roman',serif" font-weight="bold" fill="#000">1.5 h</text>
<text x="950.3" y="663.8" font-size="16.8" font-family="'Liberation Serif','Times New Roman',serif" font-weight="bold" fill="#000">1.0 h</text>
<text x="950.3" y="705.3" font-size="16.8" font-family="'Liberation Serif','Times New Roman',serif" font-weight="bold" fill="#000">0.5 h</text>
<text x="546" y="583.1" font-size="17" font-family="'Liberation Serif','Times New Roman',serif" font-weight="bold" text-anchor="middle" fill="#000" transform="rotate(-90 546 583.1)">Intensity (a.u.)</text>
<text x="788.8" y="796.9" font-size="17.6" font-family="'Liberation Serif','Times New Roman',serif" font-weight="bold" text-anchor="middle">2&#952; <tspan font-weight="normal">(&#176;)</tspan></text>
<text x="577.2" y="449.5" font-size="23.3" font-family="'Liberation Serif','Times New Roman',serif" font-weight="bold" fill="#000">(e)</text>
<rect x="1099.3" y="421.8" width="404.3" height="324.9" fill="none" stroke="#2b2b2b" stroke-width="1.3"/>
<path d="M1301.4 421.8V746.7M1099.3 584.2H1503.6" stroke="#2b2b2b" stroke-width="1.1" fill="none"/>
<path d="M1099.3 746.7v6.5M1149.8 746.7v6.5M1200.4 746.7v6.5M1250.9 746.7v6.5M1301.4 746.7v6.5M1352 746.7v6.5M1402.5 746.7v6.5M1453.1 746.7v6.5M1503.6 746.7v6.5M1124.6 746.7v3.5M1175.1 746.7v3.5M1225.6 746.7v3.5M1276.2 746.7v3.5M1326.7 746.7v3.5M1377.3 746.7v3.5M1427.8 746.7v3.5M1478.3 746.7v3.5" stroke="#2b2b2b" stroke-width="1.3" fill="none"/>
<path d="M1099.3 714.2h-6.5M1099.3 649.2h-6.5M1099.3 584.2h-6.5M1099.3 519.3h-6.5M1099.3 454.3h-6.5M1099.3 746.7h-3.5M1099.3 681.7h-3.5M1099.3 616.7h-3.5M1099.3 551.8h-3.5M1099.3 486.8h-3.5M1099.3 421.8h-3.5" stroke="#2b2b2b" stroke-width="1.3" fill="none"/>
<text x="1099.3" y="768.2" font-size="13.6" font-family="'Liberation Serif','Times New Roman',serif" text-anchor="middle" fill="#222222">-800,000</text>
<text x="1149.8" y="768.2" font-size="13.6" font-family="'Liberation Serif','Times New Roman',serif" text-anchor="middle" fill="#222222">-600,000</text>
<text x="1200.4" y="768.2" font-size="13.6" font-family="'Liberation Serif','Times New Roman',serif" text-anchor="middle" fill="#222222">-400,000</text>
<text x="1250.9" y="768.2" font-size="13.6" font-family="'Liberation Serif','Times New Roman',serif" text-anchor="middle" fill="#222222">-200,000</text>
<text x="1301.4" y="768.2" font-size="13.6" font-family="'Liberation Serif','Times New Roman',serif" text-anchor="middle" fill="#222222">0</text>
<text x="1352" y="768.2" font-size="13.6" font-family="'Liberation Serif','Times New Roman',serif" text-anchor="middle" fill="#222222">200,000</text>
<text x="1402.5" y="768.2" font-size="13.6" font-family="'Liberation Serif','Times New Roman',serif" text-anchor="middle" fill="#222222">400,000</text>
<text x="1453.1" y="768.2" font-size="13.6" font-family="'Liberation Serif','Times New Roman',serif" text-anchor="middle" fill="#222222">600,000</text>
<text x="1503.6" y="768.2" font-size="13.6" font-family="'Liberation Serif','Times New Roman',serif" text-anchor="middle" fill="#222222">800,000</text>
<text x="1088.3" y="719.6" font-size="13.6" font-family="'Liberation Serif','Times New Roman',serif" text-anchor="end" fill="#222222">-40</text>
<text x="1088.3" y="654.6" font-size="13.6" font-family="'Liberation Serif','Times New Roman',serif" text-anchor="end" fill="#222222">-20</text>
<text x="1088.3" y="589.6" font-size="13.6" font-family="'Liberation Serif','Times New Roman',serif" text-anchor="end" fill="#222222">0</text>
<text x="1088.3" y="524.7" font-size="13.6" font-family="'Liberation Serif','Times New Roman',serif" text-anchor="end" fill="#222222">20</text>
<text x="1088.3" y="459.7" font-size="13.6" font-family="'Liberation Serif','Times New Roman',serif" text-anchor="end" fill="#222222">40</text>
<path d="M1099.3 695.7l2.5-.1 2.5-.1 2.4 0 2.5-.1 2.4-.1 2.4-.1 2.4 0 2.4-.1 2.4-.1 2.4-.1 2.4 0 2.3-.1 2.4-.1 2.3-.1 2.3-.1 2.3-.1 2.3-.1 2.3 0 2.3-.1 2.2-.1 2.3-.1 2.2-.1 2.2-.1 2.2-.1 2.2-.2 2.2-.1 2.2-.1 2.1-.1 2.2-.1 2.1-.1 2.1-.2 2.1-.1 2.1-.1 2.1-.2 2.1-.1 2-.1 2.1-.2 2-.1 2-.2 2-.1 2-.2 2-.2 1.9-.1 2-.2 1.9-.2 1.9-.2 1.9-.1 1.9-.2 1.9-.2 1.9-.2 1.8-.2 1.9-.3 1.8-.2 1.8-.2 1.8-.3 1.8-.2 1.8-.3 1.7-.2 1.7-.3 1.8-.3 1.7-.2 1.7-.3 1.7-.3 1.6-.4 1.7-.3 1.6-.3 1.6-.4 1.6-.3 1.6-.4 1.6-.4 1.5-.4 1.6-.5 1.5-.4 1.5-.5 1.5-.4 1.5-.5 1.4-.6 1.5-.5 1.4-.6 1.4-.6 1.4-.6 1.4-.6 1.4-.7 1.3-.7 1.3-.8 1.3-.8 1.3-.8 1.3-.9 1.2-.9 1.3-.9 1.2-1 1.2-1.1 1.2-1.1 1.1-1.2 1.2-1.3 1.1-1.3 1.1-1.4 1.1-1.4 1.1-1.6 1-1.6 1-1.8 1-1.8 1-2 1-2.1 .9-2.2 .9-2.4 .9-2.5 .9-2.6 .8-2.8 .8-3 .8-3.2 .8-3.4 .8-3.6 .7-3.9 .7-4 .6-4.3 .7-4.5 .6-4.8 .6-5 .5-5.3 .5-5.4 .5-5.5 .5-4.7 .4-4 .3-3.4 .4-2.8 .3-2.3 .2-1.8 .2-1.3 0-.6 .1-.6 .2-1.2 .2-1.6 .3-1.9 .4-2 .3-2.2 .4-2.4 .5-2.4 .5-2.4 .5-2.4 .5-2.4 .6-2.3 .6-2.3 .7-2.3 .6-2.2 .7-2.1 .7-2 .8-2 .8-1.9 .8-1.8 .8-1.7 .8-1.7 .9-1.6 .9-1.5 .9-1.5 .9-1.4 1-1.3 1-1.3 1-1.3 1-1.1 1-1.2 1.1-1 1.1-1.1 1.1-1 1.1-.9 1.2-.9 1.1-.9 1.2-.8 1.2-.8 1.2-.8 1.3-.7 1.2-.8 1.3-.6 1.3-.7 1.3-.6 1.3-.7 1.3-.6 1.4-.5 1.4-.6 1.4-.5 1.4-.5 1.4-.5 1.5-.5 1.4-.5 1.5-.4 1.5-.4 1.5-.5 1.5-.4 1.6-.4 1.5-.3 1.6-.4 1.6-.4 1.6-.3 1.6-.3 1.6-.4 1.7-.3 1.6-.3 1.7-.3 1.7-.3 1.7-.2 1.8-.3 1.7-.3 1.7-.2 1.8-.3 1.8-.2 1.8-.2 1.8-.3 1.8-.2 1.9-.2 1.8-.2 1.9-.2 1.9-.2 1.9-.2 1.9-.2 1.9-.1 1.9-.2 2-.2 1.9-.1 2-.2 2-.2 2-.1 2-.2 2-.1 2.1-.2 2-.1 2.1-.1 2.1-.2 2.1-.1 2.1-.1 2.1-.1 2.1-.2 2.2-.1 2.1-.1 2.2-.1 2.2-.1 2.2-.1 2.2-.1 2.2-.1 2.2-.1 2.3-.1 2.2-.1 2.3-.1 2.3-.1 2.3-.1 2.3-.1 2.3 0 2.3-.1 2.4-.1 2.3-.1 2.4-.1 2.4 0 2.4-.1 2.4-.1 2.4-.1 2.4 0 2.4-.1 2.5-.1 2.4 0 2.5-.1 2.5-.1" stroke="#000080" stroke-width="1.3" fill="none"/>
<path d="M1099.3 695.7l2.5-.1 2.5-.1 2.4 0 2.5-.1 2.4-.1 2.4-.1 2.4 0 2.4-.1 2.4-.1 2.4-.1 2.4 0 2.3-.1 2.4-.1 2.3-.1 2.3-.1 2.3-.1 2.3-.1 2.3 0 2.3-.1 2.2-.1 2.3-.1 2.2-.1 2.2-.1 2.2-.1 2.2-.2 2.2-.1 2.2-.1 2.1-.1 2.2-.1 2.1-.1 2.1-.2 2.1-.1 2.1-.1 2.1-.2 2.1-.1 2-.1 2.1-.2 2-.1 2-.2 2-.1 2-.2 2-.2 1.9-.1 2-.2 1.9-.2 1.9-.2 1.9-.1 1.9-.2 1.9-.2 1.9-.2 1.8-.2 1.9-.3 1.8-.2 1.8-.2 1.8-.2 1.8-.3 1.8-.2 1.7-.3 1.7-.3 1.8-.2 1.7-.3 1.7-.3 1.7-.3 1.6-.3 1.7-.3 1.6-.4 1.6-.3 1.6-.4 1.6-.3 1.6-.4 1.5-.4 1.6-.4 1.5-.4 1.5-.4 1.5-.5 1.5-.4 1.4-.5 1.5-.5 1.4-.5 1.4-.5 1.4-.6 1.4-.5 1.4-.6 1.3-.6 1.3-.6 1.3-.7 1.3-.7 1.3-.7 1.2-.7 1.3-.8 1.2-.7 1.2-.9 1.2-.8 1.1-.9 1.2-.9 1.1-1 1.1-1 1.1-1.1 1.1-1.1 1-1.1 1-1.2 1-1.3 1-1.3 1-1.3 .9-1.5 .9-1.5 .9-1.5 .9-1.7 .8-1.7 .8-1.7 .8-1.9 .8-1.9 .8-2 .7-2.1 .7-2.2 .6-2.2 .7-2.3 .6-2.3 .6-2.5 .5-2.4 .5-2.4 .5-2.5 .5-2.4 .4-2.4 .3-2.3 .4-2.1 .3-1.9 .2-1.6 .2-1.2 0-.7 .1-.6 .2-1.3 .2-1.8 .3-2.3 .4-2.9 .3-3.4 .4-4.1 .5-4.9 .5-5.4 .5-5.4 .5-5.1 .6-4.9 .6-4.7 .7-4.4 .6-4.2 .7-4 .7-3.8 .8-3.5 .8-3.3 .8-3.2 .8-2.9 .8-2.8 .9-2.6 .9-2.4 .9-2.3 .9-2.2 1-2.1 1-1.9 1-1.8 1-1.7 1-1.6 1.1-1.6 1.1-1.4 1.1-1.4 1.1-1.3 1.2-1.2 1.1-1.1 1.2-1.1 1.2-1.1 1.2-1 1.3-.9 1.2-.9 1.3-.8 1.3-.9 1.3-.7 1.3-.8 1.3-.7 1.4-.6 1.4-.7 1.4-.6 1.4-.6 1.4-.5 1.5-.6 1.4-.5 1.5-.5 1.5-.4 1.5-.5 1.5-.4 1.6-.4 1.5-.4 1.6-.4 1.6-.4 1.6-.3 1.6-.4 1.6-.3 1.7-.3 1.6-.4 1.7-.3 1.7-.2 1.7-.3 1.8-.3 1.7-.3 1.7-.2 1.8-.3 1.8-.2 1.8-.2 1.8-.3 1.8-.2 1.9-.2 1.8-.2 1.9-.2 1.9-.2 1.9-.2 1.9-.2 1.9-.1 1.9-.2 2-.2 1.9-.1 2-.2 2-.2 2-.1 2-.2 2-.1 2.1-.2 2-.1 2.1-.1 2.1-.2 2.1-.1 2.1-.1 2.1-.1 2.1-.2 2.2-.1 2.1-.1 2.2-.1 2.2-.1 2.2-.1 2.2-.1 2.2-.1 2.2-.1 2.3-.1 2.2-.1 2.3-.1 2.3-.1 2.3-.1 2.3-.1 2.3 0 2.3-.1 2.4-.1 2.3-.1 2.4-.1 2.4 0 2.4-.1 2.4-.1 2.4-.1 2.4 0 2.4-.1 2.5-.1 2.4 0 2.5-.1 2.5-.1" stroke="#000080" stroke-width="1.3" fill="none"/>
<path d="M1099.3 700.2l2.5 0 2.5-.1 2.4-.1 2.5 0 2.4-.1 2.4-.1 2.4-.1 2.4 0 2.4-.1 2.4-.1 2.4-.1 2.3-.1 2.4-.1 2.3-.1 2.3 0 2.3-.1 2.3-.1 2.3-.1 2.3-.1 2.2-.1 2.3-.1 2.2-.1 2.2-.1 2.2-.2 2.2-.1 2.2-.1 2.2-.1 2.1-.1 2.2-.1 2.1-.2 2.1-.1 2.1-.1 2.1-.2 2.1-.1 2.1-.2 2-.1 2.1-.1 2-.2 2-.2 2-.1 2-.2 2-.2 1.9-.1 2-.2 1.9-.2 1.9-.2 1.9-.2 1.9-.2 1.9-.2 1.9-.2 1.8-.2 1.9-.2 1.8-.3 1.8-.2 1.8-.3 1.8-.2 1.8-.3 1.7-.3 1.7-.2 1.8-.3 1.7-.3 1.7-.3 1.7-.3 1.6-.4 1.7-.3 1.6-.4 1.6-.3 1.6-.4 1.6-.4 1.6-.4 1.5-.4 1.6-.5 1.5-.4 1.5-.5 1.5-.5 1.5-.5 1.4-.6 1.5-.6 1.4-.6 1.4-.6 1.4-.6 1.4-.7 1.4-.7 1.3-.7 1.3-.8 1.3-.8 1.3-.9 1.3-.9 1.2-1 1.3-1 1.2-1 1.2-1.1 1.2-1.2 1.1-1.2 1.2-1.3 1.1-1.4 1.1-1.4 1.1-1.6 1.1-1.6 1-1.7 1-1.8 1-1.9 1-2.1 1-2.2 .9-2.3 .9-2.4 .9-2.6 .9-2.8 .8-2.9 .8-3.1 .8-3.4 .8-3.5 .8-3.8 .7-3.9 .7-4.3 .6-4.4 .7-4.8 .6-4.9 .6-5.3 .5-5.4 .5-5.7 .5-5.7 .5-4.9 .4-4.2 .3-3.5 .4-2.9 .3-2.4 .2-1.9 .2-1.3 0-.6 .1-.7 .2-1.2 .2-1.7 .3-1.9 .4-2.2 .3-2.3 .4-2.4 .5-2.5 .5-2.5 .5-2.5 .5-2.5 .6-2.4 .6-2.4 .7-2.4 .6-2.3 .7-2.2 .7-2.1 .8-2 .8-2 .8-1.9 .8-1.8 .8-1.7 .9-1.7 .9-1.6 .9-1.5 .9-1.5 1-1.4 1-1.3 1-1.3 1-1.2 1-1.2 1.1-1.1 1.1-1.1 1.1-1 1.1-1 1.2-1 1.1-.9 1.2-.8 1.2-.9 1.2-.8 1.3-.7 1.2-.8 1.3-.7 1.3-.7 1.3-.7 1.3-.6 1.3-.6 1.4-.6 1.4-.6 1.4-.5 1.4-.6 1.4-.5 1.5-.5 1.4-.5 1.5-.4 1.5-.5 1.5-.4 1.5-.5 1.6-.4 1.5-.4 1.6-.3 1.6-.4 1.6-.4 1.6-.3 1.6-.4 1.7-.3 1.6-.3 1.7-.3 1.7-.3 1.7-.3 1.8-.3 1.7-.2 1.7-.3 1.8-.3 1.8-.2 1.8-.2 1.8-.3 1.8-.2 1.9-.2 1.8-.2 1.9-.3 1.9-.2 1.9-.1 1.9-.2 1.9-.2 1.9-.2 2-.2 1.9-.2 2-.1 2-.2 2-.1 2-.2 2-.2 2.1-.1 2-.1 2.1-.2 2.1-.1 2.1-.2 2.1-.1 2.1-.1 2.1-.1 2.2-.2 2.1-.1 2.2-.1 2.2-.1 2.2-.1 2.2-.1 2.2-.1 2.2-.1 2.3-.1 2.2-.1 2.3-.1 2.3-.1 2.3-.1 2.3-.1 2.3-.1 2.3-.1 2.4-.1 2.3 0 2.4-.1 2.4-.1 2.4-.1 2.4-.1 2.4 0 2.4-.1 2.4-.1 2.5-.1 2.4 0 2.5-.1 2.5-.1" stroke="#8000ff" stroke-width="1.3" fill="none"/>
<path d="M1099.3 700.2l2.5 0 2.5-.1 2.4-.1 2.5 0 2.4-.1 2.4-.1 2.4-.1 2.4 0 2.4-.1 2.4-.1 2.4-.1 2.3-.1 2.4-.1 2.3-.1 2.3 0 2.3-.1 2.3-.1 2.3-.1 2.3-.1 2.2-.1 2.3-.1 2.2-.1 2.2-.1 2.2-.2 2.2-.1 2.2-.1 2.2-.1 2.1-.1 2.2-.1 2.1-.2 2.1-.1 2.1-.1 2.1-.2 2.1-.1 2.1-.2 2-.1 2.1-.1 2-.2 2-.2 2-.1 2-.2 2-.2 1.9-.1 2-.2 1.9-.2 1.9-.2 1.9-.2 1.9-.2 1.9-.2 1.9-.2 1.8-.2 1.9-.2 1.8-.3 1.8-.2 1.8-.3 1.8-.2 1.8-.3 1.7-.2 1.7-.3 1.8-.3 1.7-.3 1.7-.3 1.7-.3 1.6-.3 1.7-.4 1.6-.3 1.6-.4 1.6-.3 1.6-.4 1.6-.4 1.5-.4 1.6-.4 1.5-.5 1.5-.4 1.5-.5 1.5-.4 1.4-.5 1.5-.5 1.4-.6 1.4-.5 1.4-.6 1.4-.6 1.4-.6 1.3-.6 1.3-.6 1.3-.7 1.3-.7 1.3-.8 1.2-.7 1.3-.8 1.2-.8 1.2-.9 1.2-.9 1.1-.9 1.2-1 1.1-1 1.1-1 1.1-1.1 1.1-1.2 1-1.2 1-1.2 1-1.3 1-1.4 1-1.4 .9-1.5 .9-1.5 .9-1.7 .9-1.7 .8-1.7 .8-1.9 .8-1.9 .8-2 .8-2.1 .7-2.2 .7-2.2 .6-2.3 .7-2.4 .6-2.5 .6-2.5 .5-2.5 .5-2.6 .5-2.5 .5-2.6 .4-2.4 .3-2.4 .4-2.2 .3-2 .2-1.7 .2-1.3 0-.6 .1-.6 .2-1.4 .2-1.9 .3-2.4 .4-3 .3-3.6 .4-4.3 .5-5 .5-5.7 .5-5.5 .5-5.4 .6-5.1 .6-4.8 .7-4.7 .6-4.4 .7-4.1 .7-3.9 .8-3.7 .8-3.5 .8-3.2 .8-3.1 .8-2.9 .9-2.7 .9-2.5 .9-2.4 .9-2.3 1-2.1 1-2 1-1.9 1-1.8 1-1.7 1.1-1.6 1.1-1.5 1.1-1.4 1.1-1.3 1.2-1.3 1.1-1.2 1.2-1.2 1.2-1 1.2-1.1 1.3-.9 1.2-1 1.3-.9 1.3-.8 1.3-.8 1.3-.8 1.3-.7 1.4-.7 1.4-.7 1.4-.6 1.4-.6 1.4-.6 1.5-.5 1.4-.6 1.5-.5 1.5-.5 1.5-.4 1.5-.5 1.6-.4 1.5-.4 1.6-.4 1.6-.4 1.6-.4 1.6-.4 1.6-.3 1.7-.3 1.6-.4 1.7-.3 1.7-.3 1.7-.3 1.8-.3 1.7-.2 1.7-.3 1.8-.3 1.8-.2 1.8-.2 1.8-.3 1.8-.2 1.9-.2 1.8-.2 1.9-.2 1.9-.3 1.9-.1 1.9-.2 1.9-.2 1.9-.2 2-.2 1.9-.2 2-.1 2-.2 2-.1 2-.2 2-.2 2.1-.1 2-.1 2.1-.2 2.1-.1 2.1-.2 2.1-.1 2.1-.1 2.1-.1 2.2-.2 2.1-.1 2.2-.1 2.2-.1 2.2-.1 2.2-.1 2.2-.1 2.2-.1 2.3-.1 2.2-.1 2.3-.1 2.3-.1 2.3-.1 2.3-.1 2.3-.1 2.3-.1 2.4-.1 2.3 0 2.4-.1 2.4-.1 2.4-.1 2.4-.1 2.4 0 2.4-.1 2.4-.1 2.5-.1 2.4 0 2.5-.1 2.5-.1" stroke="#8000ff" stroke-width="1.3" fill="none"/>
<path d="M1099.3 702l2.5-.1 2.5-.1 2.4 0 2.5-.1 2.4-.1 2.4-.1 2.4 0 2.4-.1 2.4-.1 2.4-.1 2.4-.1 2.3-.1 2.4 0 2.3-.1 2.3-.1 2.3-.1 2.3-.1 2.3-.1 2.3-.1 2.2-.1 2.3-.1 2.2-.1 2.2-.1 2.2-.2 2.2-.1 2.2-.1 2.2-.1 2.1-.1 2.2-.1 2.1-.2 2.1-.1 2.1-.1 2.1-.2 2.1-.1 2.1-.2 2-.1 2.1-.2 2-.1 2-.2 2-.2 2-.1 2-.2 1.9-.2 2-.2 1.9-.1 1.9-.2 1.9-.2 1.9-.2 1.9-.2 1.9-.3 1.8-.2 1.9-.2 1.8-.2 1.8-.3 1.8-.2 1.8-.3 1.8-.3 1.7-.2 1.7-.3 1.8-.3 1.7-.3 1.7-.3 1.7-.4 1.6-.3 1.7-.3 1.6-.4 1.6-.4 1.6-.3 1.6-.4 1.6-.5 1.5-.4 1.6-.4 1.5-.5 1.5-.5 1.5-.5 1.5-.5 1.4-.6 1.5-.6 1.4-.6 1.4-.6 1.4-.7 1.4-.6 1.4-.8 1.3-.7 1.3-.8 1.3-.8 1.3-.9 1.3-.9 1.2-1 1.3-1 1.2-1.1 1.2-1.1 1.2-1.2 1.1-1.2 1.2-1.3 1.1-1.4 1.1-1.5 1.1-1.6 1.1-1.6 1-1.7 1-1.9 1-2 1-2 1-2.2 .9-2.4 .9-2.5 .9-2.6 .9-2.8 .8-3 .8-3.2 .8-3.3 .8-3.6 .8-3.8 .7-4.1 .7-4.3 .6-4.5 .7-4.8 .6-5 .6-5.3 .5-5.6 .5-5.7 .5-5.8 .5-5 .4-4.2 .3-3.6 .4-3 .3-2.4 .2-1.9 .2-1.3 0-.7 .1-.6 .2-1.3 .2-1.7 .3-2 .4-2.1 .3-2.4 .4-2.4 .5-2.6 .5-2.5 .5-2.6 .5-2.5 .6-2.5 .6-2.4 .7-2.4 .6-2.3 .7-2.2 .7-2.2 .8-2.1 .8-2 .8-1.9 .8-1.8 .8-1.8 .9-1.7 .9-1.6 .9-1.5 .9-1.5 1-1.4 1-1.4 1-1.3 1-1.2 1-1.2 1.1-1.2 1.1-1.1 1.1-1 1.1-1 1.2-1 1.1-.9 1.2-.9 1.2-.8 1.2-.8 1.3-.8 1.2-.8 1.3-.7 1.3-.7 1.3-.7 1.3-.6 1.3-.7 1.4-.6 1.4-.5 1.4-.6 1.4-.5 1.4-.6 1.5-.5 1.4-.5 1.5-.4 1.5-.5 1.5-.4 1.5-.5 1.6-.4 1.5-.4 1.6-.4 1.6-.4 1.6-.3 1.6-.4 1.6-.3 1.7-.3 1.6-.4 1.7-.3 1.7-.3 1.7-.3 1.8-.3 1.7-.2 1.7-.3 1.8-.3 1.8-.2 1.8-.2 1.8-.3 1.8-.2 1.9-.2 1.8-.3 1.9-.2 1.9-.2 1.9-.2 1.9-.2 1.9-.2 1.9-.1 2-.2 1.9-.2 2-.2 2-.1 2-.2 2-.1 2-.2 2.1-.1 2-.2 2.1-.1 2.1-.2 2.1-.1 2.1-.1 2.1-.2 2.1-.1 2.2-.1 2.1-.1 2.2-.2 2.2-.1 2.2-.1 2.2-.1 2.2-.1 2.2-.1 2.3-.1 2.2-.1 2.3-.1 2.3-.1 2.3-.1 2.3-.1 2.3-.1 2.3-.1 2.4-.1 2.3 0 2.4-.1 2.4-.1 2.4-.1 2.4-.1 2.4 0 2.4-.1 2.4-.1 2.5-.1 2.4 0 2.5-.1 2.5-.1" stroke="#0000ff" stroke-width="1.3" fill="none"/>
<path d="M1099.3 702l2.5-.1 2.5-.1 2.4 0 2.5-.1 2.4-.1 2.4-.1 2.4 0 2.4-.1 2.4-.1 2.4-.1 2.4-.1 2.3-.1 2.4 0 2.3-.1 2.3-.1 2.3-.1 2.3-.1 2.3-.1 2.3-.1 2.2-.1 2.3-.1 2.2-.1 2.2-.1 2.2-.2 2.2-.1 2.2-.1 2.2-.1 2.1-.1 2.2-.1 2.1-.2 2.1-.1 2.1-.1 2.1-.2 2.1-.1 2.1-.2 2-.1 2.1-.2 2-.1 2-.2 2-.2 2-.1 2-.2 1.9-.2 2-.2 1.9-.1 1.9-.2 1.9-.2 1.9-.2 1.9-.2 1.9-.3 1.8-.2 1.9-.2 1.8-.2 1.8-.3 1.8-.2 1.8-.3 1.8-.3 1.7-.2 1.7-.3 1.8-.3 1.7-.3 1.7-.3 1.7-.3 1.6-.3 1.7-.4 1.6-.3 1.6-.4 1.6-.4 1.6-.3 1.6-.4 1.5-.5 1.6-.4 1.5-.4 1.5-.5 1.5-.4 1.5-.5 1.4-.5 1.5-.5 1.4-.6 1.4-.5 1.4-.6 1.4-.6 1.4-.6 1.3-.6 1.3-.7 1.3-.7 1.3-.7 1.3-.8 1.2-.7 1.3-.8 1.2-.9 1.2-.8 1.2-.9 1.1-1 1.2-.9 1.1-1.1 1.1-1 1.1-1.1 1.1-1.2 1-1.2 1-1.3 1-1.3 1-1.4 1-1.4 .9-1.5 .9-1.6 .9-1.7 .9-1.7 .8-1.8 .8-1.9 .8-1.9 .8-2.1 .8-2.1 .7-2.2 .7-2.3 .6-2.3 .7-2.5 .6-2.4 .6-2.6 .5-2.6 .5-2.6 .5-2.6 .5-2.5 .4-2.5 .3-2.4 .4-2.3 .3-2 .2-1.7 .2-1.3 0-.6 .1-.7 .2-1.4 .2-1.9 .3-2.5 .4-3 .3-3.6 .4-4.3 .5-5.2 .5-5.7 .5-5.6 .5-5.5 .6-5.2 .6-4.9 .7-4.7 .6-4.5 .7-4.2 .7-3.9 .8-3.8 .8-3.5 .8-3.3 .8-3.1 .8-2.9 .9-2.8 .9-2.6 .9-2.4 .9-2.3 1-2.2 1-2 1-1.9 1-1.8 1-1.7 1.1-1.6 1.1-1.6 1.1-1.4 1.1-1.4 1.2-1.3 1.1-1.2 1.2-1.1 1.2-1.2 1.2-1 1.3-1 1.2-.9 1.3-.9 1.3-.9 1.3-.8 1.3-.8 1.3-.7 1.4-.7 1.4-.7 1.4-.6 1.4-.7 1.4-.5 1.5-.6 1.4-.6 1.5-.5 1.5-.5 1.5-.4 1.5-.5 1.6-.4 1.5-.5 1.6-.4 1.6-.4 1.6-.3 1.6-.4 1.6-.4 1.7-.3 1.6-.3 1.7-.3 1.7-.4 1.7-.3 1.8-.2 1.7-.3 1.7-.3 1.8-.2 1.8-.3 1.8-.2 1.8-.3 1.8-.2 1.9-.2 1.8-.3 1.9-.2 1.9-.2 1.9-.2 1.9-.2 1.9-.2 1.9-.1 2-.2 1.9-.2 2-.2 2-.1 2-.2 2-.1 2-.2 2.1-.1 2-.2 2.1-.1 2.1-.2 2.1-.1 2.1-.1 2.1-.2 2.1-.1 2.2-.1 2.1-.1 2.2-.2 2.2-.1 2.2-.1 2.2-.1 2.2-.1 2.2-.1 2.3-.1 2.2-.1 2.3-.1 2.3-.1 2.3-.1 2.3-.1 2.3-.1 2.3-.1 2.4-.1 2.3 0 2.4-.1 2.4-.1 2.4-.1 2.4-.1 2.4 0 2.4-.1 2.4-.1 2.5-.1 2.4 0 2.5-.1 2.5-.1" stroke="#0000ff" stroke-width="1.3" fill="none"/>
<path d="M1099.3 704.2l2.5-.1 2.5-.1 2.4 0 2.5-.1 2.4-.1 2.4-.1 2.4 0 2.4-.1 2.4-.1 2.4-.1 2.4-.1 2.3-.1 2.4-.1 2.3 0 2.3-.1 2.3-.1 2.3-.1 2.3-.1 2.3-.1 2.2-.1 2.3-.1 2.2-.2 2.2-.1 2.2-.1 2.2-.1 2.2-.1 2.2-.1 2.1-.2 2.2-.1 2.1-.1 2.1-.2 2.1-.1 2.1-.1 2.1-.2 2.1-.1 2-.2 2.1-.1 2-.2 2-.2 2-.1 2-.2 2-.2 1.9-.2 2-.1 1.9-.2 1.9-.2 1.9-.2 1.9-.2 1.9-.2 1.9-.3 1.8-.2 1.9-.2 1.8-.3 1.8-.2 1.8-.3 1.8-.2 1.8-.3 1.7-.3 1.7-.3 1.8-.3 1.7-.3 1.7-.3 1.7-.3 1.6-.4 1.7-.3 1.6-.4 1.6-.4 1.6-.4 1.6-.4 1.6-.4 1.5-.4 1.6-.5 1.5-.5 1.5-.5 1.5-.5 1.5-.5 1.4-.6 1.5-.6 1.4-.6 1.4-.6 1.4-.7 1.4-.7 1.4-.7 1.3-.8 1.3-.8 1.3-.8 1.3-.9 1.3-1 1.2-.9 1.3-1.1 1.2-1.1 1.2-1.1 1.2-1.2 1.1-1.3 1.2-1.3 1.1-1.4 1.1-1.5 1.1-1.6 1.1-1.7 1-1.8 1-1.9 1-2 1-2.1 1-2.2 .9-2.4 .9-2.5 .9-2.7 .9-2.9 .8-3 .8-3.2 .8-3.5 .8-3.6 .8-3.9 .7-4.1 .7-4.4 .6-4.6 .7-4.9 .6-5.2 .6-5.4 .5-5.6 .5-5.8 .5-5.9 .5-5.1 .4-4.4 .3-3.6 .4-3 .3-2.5 .2-1.9 .2-1.4 0-.6 .1-.7 .2-1.3 .2-1.7 .3-2 .4-2.2 .3-2.4 .4-2.5 .5-2.6 .5-2.6 .5-2.6 .5-2.6 .6-2.5 .6-2.5 .7-2.4 .6-2.4 .7-2.2 .7-2.2 .8-2.1 .8-2.1 .8-1.9 .8-1.9 .8-1.8 .9-1.7 .9-1.7 .9-1.6 .9-1.5 1-1.4 1-1.4 1-1.3 1-1.3 1-1.2 1.1-1.2 1.1-1.1 1.1-1 1.1-1 1.2-1 1.1-1 1.2-.9 1.2-.8 1.2-.9 1.3-.8 1.2-.7 1.3-.8 1.3-.7 1.3-.7 1.3-.6 1.3-.7 1.4-.6 1.4-.6 1.4-.6 1.4-.5 1.4-.5 1.5-.6 1.4-.5 1.5-.4 1.5-.5 1.5-.5 1.5-.4 1.6-.4 1.5-.4 1.6-.4 1.6-.4 1.6-.4 1.6-.3 1.6-.4 1.7-.3 1.6-.4 1.7-.3 1.7-.3 1.7-.3 1.8-.3 1.7-.2 1.7-.3 1.8-.3 1.8-.2 1.8-.3 1.8-.2 1.8-.3 1.9-.2 1.8-.2 1.9-.2 1.9-.2 1.9-.2 1.9-.2 1.9-.2 1.9-.2 2-.2 1.9-.2 2-.1 2-.2 2-.2 2-.1 2-.2 2.1-.1 2-.2 2.1-.1 2.1-.2 2.1-.1 2.1-.2 2.1-.1 2.1-.1 2.2-.1 2.1-.2 2.2-.1 2.2-.1 2.2-.1 2.2-.1 2.2-.1 2.2-.1 2.3-.1 2.2-.1 2.3-.1 2.3-.1 2.3-.1 2.3-.1 2.3-.1 2.3-.1 2.4-.1 2.3-.1 2.4-.1 2.4-.1 2.4 0 2.4-.1 2.4-.1 2.4-.1 2.4 0 2.5-.1 2.4-.1 2.5-.1 2.5 0" stroke="#008000" stroke-width="1.3" fill="none"/>
<path d="M1099.3 704.2l2.5-.1 2.5-.1 2.4 0 2.5-.1 2.4-.1 2.4-.1 2.4 0 2.4-.1 2.4-.1 2.4-.1 2.4-.1 2.3-.1 2.4-.1 2.3 0 2.3-.1 2.3-.1 2.3-.1 2.3-.1 2.3-.1 2.2-.1 2.3-.1 2.2-.2 2.2-.1 2.2-.1 2.2-.1 2.2-.1 2.2-.1 2.1-.2 2.2-.1 2.1-.1 2.1-.2 2.1-.1 2.1-.1 2.1-.2 2.1-.1 2-.2 2.1-.1 2-.2 2-.2 2-.1 2-.2 2-.2 1.9-.2 2-.1 1.9-.2 1.9-.2 1.9-.2 1.9-.2 1.9-.2 1.9-.3 1.8-.2 1.9-.2 1.8-.3 1.8-.2 1.8-.3 1.8-.2 1.8-.3 1.7-.3 1.7-.3 1.8-.3 1.7-.3 1.7-.3 1.7-.3 1.6-.3 1.7-.4 1.6-.3 1.6-.4 1.6-.4 1.6-.4 1.6-.4 1.5-.4 1.6-.4 1.5-.5 1.5-.4 1.5-.5 1.5-.5 1.4-.5 1.5-.5 1.4-.6 1.4-.5 1.4-.6 1.4-.6 1.4-.7 1.3-.6 1.3-.7 1.3-.7 1.3-.7 1.3-.8 1.2-.7 1.3-.9 1.2-.8 1.2-.9 1.2-.9 1.1-1 1.2-1 1.1-1 1.1-1.1 1.1-1.1 1.1-1.2 1-1.2 1-1.3 1-1.4 1-1.4 1-1.5 .9-1.5 .9-1.6 .9-1.7 .9-1.8 .8-1.8 .8-1.9 .8-2 .8-2.1 .8-2.1 .7-2.3 .7-2.3 .6-2.4 .7-2.5 .6-2.5 .6-2.6 .5-2.6 .5-2.7 .5-2.6 .5-2.6 .4-2.6 .3-2.4 .4-2.3 .3-2 .2-1.8 .2-1.3 0-.7 .1-.6 .2-1.4 .2-2 .3-2.5 .4-3.1 .3-3.7 .4-4.4 .5-5.2 .5-5.9 .5-5.7 .5-5.5 .6-5.3 .6-5.1 .7-4.8 .6-4.5 .7-4.3 .7-4 .8-3.8 .8-3.6 .8-3.4 .8-3.2 .8-2.9 .9-2.8 .9-2.7 .9-2.5 .9-2.3 1-2.2 1-2.1 1-1.9 1-1.9 1-1.7 1.1-1.6 1.1-1.6 1.1-1.5 1.1-1.4 1.2-1.3 1.1-1.2 1.2-1.2 1.2-1.1 1.2-1.1 1.3-1 1.2-1 1.3-.9 1.3-.8 1.3-.9 1.3-.8 1.3-.7 1.4-.7 1.4-.7 1.4-.7 1.4-.6 1.4-.6 1.5-.6 1.4-.5 1.5-.6 1.5-.5 1.5-.5 1.5-.4 1.6-.5 1.5-.4 1.6-.4 1.6-.4 1.6-.4 1.6-.4 1.6-.3 1.7-.4 1.6-.3 1.7-.3 1.7-.4 1.7-.3 1.8-.2 1.7-.3 1.7-.3 1.8-.3 1.8-.2 1.8-.3 1.8-.2 1.8-.3 1.9-.2 1.8-.2 1.9-.2 1.9-.2 1.9-.2 1.9-.2 1.9-.2 1.9-.2 2-.2 1.9-.2 2-.1 2-.2 2-.2 2-.1 2-.2 2.1-.1 2-.2 2.1-.1 2.1-.2 2.1-.1 2.1-.2 2.1-.1 2.1-.1 2.2-.1 2.1-.2 2.2-.1 2.2-.1 2.2-.1 2.2-.1 2.2-.1 2.2-.1 2.3-.1 2.2-.1 2.3-.1 2.3-.1 2.3-.1 2.3-.1 2.3-.1 2.3-.1 2.4-.1 2.3-.1 2.4-.1 2.4-.1 2.4 0 2.4-.1 2.4-.1 2.4-.1 2.4 0 2.5-.1 2.4-.1 2.5-.1 2.5 0" stroke="#008000" stroke-width="1.3" fill="none"/>
<path d="M1099.3 715.5l2.5 0 2.5-.1 2.4-.1 2.5-.1 2.4-.1 2.4 0 2.4-.1 2.4-.1 2.4-.1 2.4-.1 2.4-.1 2.3-.1 2.4-.1 2.3-.1 2.3-.1 2.3-.1 2.3-.1 2.3-.1 2.3-.1 2.2-.1 2.3-.2 2.2-.1 2.2-.1 2.2-.1 2.2-.2 2.2-.1 2.2-.1 2.1-.2 2.2-.1 2.1-.1 2.1-.2 2.1-.1 2.1-.2 2.1-.1 2.1-.2 2-.2 2.1-.1 2-.2 2-.2 2-.2 2-.2 2-.2 1.9-.2 2-.2 1.9-.2 1.9-.2 1.9-.2 1.9-.2 1.9-.3 1.9-.2 1.8-.3 1.9-.2 1.8-.3 1.8-.2 1.8-.3 1.8-.3 1.8-.3 1.7-.3 1.7-.3 1.8-.4 1.7-.3 1.7-.3 1.7-.4 1.6-.4 1.7-.4 1.6-.4 1.6-.4 1.6-.4 1.6-.5 1.6-.4 1.5-.5 1.6-.5 1.5-.5 1.5-.6 1.5-.5 1.5-.6 1.4-.6 1.5-.7 1.4-.6 1.4-.7 1.4-.8 1.4-.7 1.4-.9 1.3-.8 1.3-.9 1.3-.9 1.3-1 1.3-1 1.2-1.1 1.3-1.1 1.2-1.2 1.2-1.2 1.2-1.4 1.1-1.4 1.2-1.4 1.1-1.6 1.1-1.6 1.1-1.8 1.1-1.8 1-1.9 1-2.1 1-2.2 1-2.3 1-2.4 .9-2.7 .9-2.7 .9-3 .9-3.1 .8-3.3 .8-3.6 .8-3.7 .8-4 .8-4.3 .7-4.5 .7-4.8 .6-5 .7-5.4 .6-5.6 .6-5.9 .5-6.2 .5-6.4 .5-6.4 .5-5.6 .4-4.8 .3-3.9 .4-3.4 .3-2.7 .2-2.1 .2-1.5 0-.7 .1-.7 .2-1.4 .2-1.9 .3-2.2 .4-2.4 .3-2.7 .4-2.7 .5-2.8 .5-2.8 .5-2.9 .5-2.8 .6-2.8 .6-2.7 .7-2.6 .6-2.6 .7-2.5 .7-2.4 .8-2.3 .8-2.3 .8-2.1 .8-2.1 .8-1.9 .9-1.9 .9-1.8 .9-1.7 .9-1.7 1-1.6 1-1.5 1-1.4 1-1.4 1-1.3 1.1-1.3 1.1-1.2 1.1-1.2 1.1-1.1 1.2-1.1 1.1-1 1.2-1 1.2-.9 1.2-.9 1.3-.9 1.2-.9 1.3-.8 1.3-.8 1.3-.7 1.3-.7 1.3-.7 1.4-.7 1.4-.7 1.4-.6 1.4-.6 1.4-.6 1.5-.5 1.4-.6 1.5-.5 1.5-.5 1.5-.5 1.5-.5 1.6-.5 1.5-.4 1.6-.4 1.6-.5 1.6-.4 1.6-.4 1.6-.3 1.7-.4 1.6-.4 1.7-.3 1.7-.4 1.7-.3 1.8-.3 1.7-.3 1.7-.3 1.8-.3 1.8-.3 1.8-.2 1.8-.3 1.8-.3 1.9-.2 1.8-.3 1.9-.2 1.9-.2 1.9-.2 1.9-.3 1.9-.2 1.9-.2 2-.2 1.9-.2 2-.2 2-.1 2-.2 2-.2 2-.2 2.1-.1 2-.2 2.1-.2 2.1-.1 2.1-.2 2.1-.1 2.1-.2 2.1-.1 2.2-.1 2.1-.2 2.2-.1 2.2-.1 2.2-.1 2.2-.2 2.2-.1 2.2-.1 2.3-.1 2.2-.1 2.3-.1 2.3-.1 2.3-.2 2.3-.1 2.3-.1 2.3-.1 2.4-.1 2.3 0 2.4-.1 2.4-.1 2.4-.1 2.4-.1 2.4-.1 2.4-.1 2.4-.1 2.5 0 2.4-.1 2.5-.1 2.5-.1" stroke="#ff0000" stroke-width="1.3" fill="none"/>
<path d="M1099.3 715.5l2.5 0 2.5-.1 2.4-.1 2.5-.1 2.4-.1 2.4 0 2.4-.1 2.4-.1 2.4-.1 2.4-.1 2.4-.1 2.3-.1 2.4-.1 2.3-.1 2.3-.1 2.3-.1 2.3-.1 2.3-.1 2.3-.1 2.2-.1 2.3-.2 2.2-.1 2.2-.1 2.2-.1 2.2-.2 2.2-.1 2.2-.1 2.1-.2 2.2-.1 2.1-.1 2.1-.2 2.1-.1 2.1-.2 2.1-.1 2.1-.2 2-.2 2.1-.1 2-.2 2-.2 2-.2 2-.2 2-.2 1.9-.2 2-.2 1.9-.2 1.9-.2 1.9-.2 1.9-.2 1.9-.3 1.9-.2 1.8-.3 1.9-.2 1.8-.3 1.8-.2 1.8-.3 1.8-.3 1.8-.3 1.7-.3 1.7-.3 1.8-.3 1.7-.4 1.7-.3 1.7-.4 1.6-.3 1.7-.4 1.6-.4 1.6-.4 1.6-.4 1.6-.4 1.6-.5 1.5-.4 1.6-.5 1.5-.5 1.5-.5 1.5-.5 1.5-.6 1.4-.5 1.5-.6 1.4-.6 1.4-.6 1.4-.7 1.4-.6 1.4-.7 1.3-.7 1.3-.8 1.3-.7 1.3-.8 1.3-.8 1.2-.9 1.3-.9 1.2-.9 1.2-1 1.2-1 1.1-1 1.2-1.1 1.1-1.2 1.1-1.2 1.1-1.2 1.1-1.3 1-1.4 1-1.4 1-1.4 1-1.6 1-1.6 .9-1.7 .9-1.7 .9-1.9 .9-1.9 .8-2 .8-2.1 .8-2.2 .8-2.3 .8-2.3 .7-2.5 .7-2.5 .6-2.7 .7-2.7 .6-2.7 .6-2.9 .5-2.8 .5-2.9 .5-2.9 .5-2.9 .4-2.8 .3-2.7 .4-2.4 .3-2.3 .2-1.9 .2-1.5 0-.7 .1-.7 .2-1.5 .2-2.2 .3-2.7 .4-3.4 .3-4.1 .4-4.8 .5-5.7 .5-6.4 .5-6.3 .5-6.1 .6-5.7 .6-5.6 .7-5.2 .6-5 .7-4.7 .7-4.4 .8-4.2 .8-3.9 .8-3.7 .8-3.4 .8-3.3 .9-3.1 .9-2.8 .9-2.8 .9-2.5 1-2.4 1-2.3 1-2.1 1-2.1 1-1.9 1.1-1.8 1.1-1.7 1.1-1.6 1.1-1.5 1.2-1.4 1.1-1.4 1.2-1.3 1.2-1.2 1.2-1.2 1.3-1.1 1.2-1 1.3-1.1 1.3-.9 1.3-.9 1.3-.9 1.3-.8 1.4-.8 1.4-.7 1.4-.8 1.4-.6 1.4-.7 1.5-.6 1.4-.6 1.5-.6 1.5-.6 1.5-.5 1.5-.5 1.6-.5 1.5-.5 1.6-.4 1.6-.5 1.6-.4 1.6-.4 1.6-.4 1.7-.4 1.6-.3 1.7-.4 1.7-.3 1.7-.4 1.8-.3 1.7-.3 1.7-.3 1.8-.3 1.8-.3 1.8-.2 1.8-.3 1.8-.3 1.9-.2 1.8-.3 1.9-.2 1.9-.2 1.9-.2 1.9-.3 1.9-.2 1.9-.2 2-.2 1.9-.2 2-.2 2-.1 2-.2 2-.2 2-.2 2.1-.1 2-.2 2.1-.2 2.1-.1 2.1-.2 2.1-.1 2.1-.2 2.1-.1 2.2-.1 2.1-.2 2.2-.1 2.2-.1 2.2-.1 2.2-.2 2.2-.1 2.2-.1 2.3-.1 2.2-.1 2.3-.1 2.3-.1 2.3-.2 2.3-.1 2.3-.1 2.3-.1 2.4-.1 2.3 0 2.4-.1 2.4-.1 2.4-.1 2.4-.1 2.4-.1 2.4-.1 2.4-.1 2.5 0 2.4-.1 2.5-.1 2.5-.1" stroke="#ff0000" stroke-width="1.3" fill="none"/>
<path d="M1099.3 718.4l2.5-.1 2.5-.1 2.4-.1 2.5 0 2.4-.1 2.4-.1 2.4-.1 2.4-.1 2.4-.1 2.4-.1 2.4-.1 2.3-.1 2.4-.1 2.3-.1 2.3-.1 2.3-.1 2.3-.1 2.3-.1 2.3-.1 2.2-.1 2.3-.2 2.2-.1 2.2-.1 2.2-.1 2.2-.2 2.2-.1 2.2-.1 2.1-.2 2.2-.1 2.1-.2 2.1-.1 2.1-.2 2.1-.1 2.1-.2 2.1-.2 2-.1 2.1-.2 2-.2 2-.2 2-.1 2-.2 2-.2 1.9-.2 2-.2 1.9-.3 1.9-.2 1.9-.2 1.9-.2 1.9-.3 1.9-.2 1.8-.3 1.9-.2 1.8-.3 1.8-.3 1.8-.3 1.8-.3 1.8-.3 1.7-.3 1.7-.3 1.8-.3 1.7-.4 1.7-.3 1.7-.4 1.6-.4 1.7-.4 1.6-.4 1.6-.4 1.6-.4 1.6-.5 1.6-.5 1.5-.5 1.6-.5 1.5-.5 1.5-.6 1.5-.5 1.5-.6 1.4-.7 1.5-.6 1.4-.7 1.4-.7 1.4-.7 1.4-.8 1.4-.8 1.3-.9 1.3-.9 1.3-.9 1.3-1 1.3-1 1.2-1.1 1.3-1.2 1.2-1.2 1.2-1.2 1.2-1.4 1.1-1.4 1.2-1.4 1.1-1.6 1.1-1.7 1.1-1.7 1.1-1.8 1-2 1-2 1-2.2 1-2.3 1-2.5 .9-2.6 .9-2.8 .9-2.9 .9-3.1 .8-3.3 .8-3.5 .8-3.8 .8-3.9 .8-4.2 .7-4.5 .7-4.7 .6-5 .7-5.2 .6-5.5 .6-5.8 .5-6 .5-6.3 .5-6.4 .5-6 .4-5 .3-4.3 .4-3.5 .3-2.9 .2-2.2 .2-1.6 0-.8 .1-.8 .2-1.5 .2-2 .3-2.3 .4-2.6 .3-2.8 .4-2.9 .5-2.9 .5-3 .5-3 .5-3 .6-2.9 .6-2.9 .7-2.8 .6-2.7 .7-2.6 .7-2.6 .8-2.4 .8-2.3 .8-2.3 .8-2.1 .8-2.1 .9-1.9 .9-1.9 .9-1.8 .9-1.7 1-1.7 1-1.6 1-1.5 1-1.4 1-1.4 1.1-1.3 1.1-1.3 1.1-1.2 1.1-1.1 1.2-1.2 1.1-1 1.2-1 1.2-1 1.2-1 1.3-.9 1.2-.8 1.3-.9 1.3-.8 1.3-.8 1.3-.7 1.3-.7 1.4-.7 1.4-.7 1.4-.6 1.4-.7 1.4-.6 1.5-.5 1.4-.6 1.5-.5 1.5-.6 1.5-.5 1.5-.5 1.6-.4 1.5-.5 1.6-.4 1.6-.5 1.6-.4 1.6-.4 1.6-.4 1.7-.4 1.6-.3 1.7-.4 1.7-.3 1.7-.4 1.8-.3 1.7-.3 1.7-.3 1.8-.3 1.8-.3 1.8-.3 1.8-.2 1.8-.3 1.9-.2 1.8-.3 1.9-.2 1.9-.3 1.9-.2 1.9-.2 1.9-.2 1.9-.2 2-.2 1.9-.2 2-.2 2-.2 2-.2 2-.2 2-.2 2.1-.1 2-.2 2.1-.2 2.1-.1 2.1-.2 2.1-.1 2.1-.2 2.1-.1 2.2-.2 2.1-.1 2.2-.1 2.2-.2 2.2-.1 2.2-.1 2.2-.1 2.2-.1 2.3-.2 2.2-.1 2.3-.1 2.3-.1 2.3-.1 2.3-.1 2.3-.1 2.3-.1 2.4-.1 2.3-.1 2.4-.1 2.4-.1 2.4-.1 2.4-.1 2.4-.1 2.4-.1 2.4 0 2.5-.1 2.4-.1 2.5-.1 2.5-.1" stroke="#000000" stroke-width="1.3" fill="none"/>
<path d="M1099.3 718.4l2.5-.1 2.5-.1 2.4-.1 2.5 0 2.4-.1 2.4-.1 2.4-.1 2.4-.1 2.4-.1 2.4-.1 2.4-.1 2.3-.1 2.4-.1 2.3-.1 2.3-.1 2.3-.1 2.3-.1 2.3-.1 2.3-.1 2.2-.1 2.3-.2 2.2-.1 2.2-.1 2.2-.1 2.2-.2 2.2-.1 2.2-.1 2.1-.2 2.2-.1 2.1-.2 2.1-.1 2.1-.2 2.1-.1 2.1-.2 2.1-.2 2-.1 2.1-.2 2-.2 2-.2 2-.1 2-.2 2-.2 1.9-.2 2-.2 1.9-.3 1.9-.2 1.9-.2 1.9-.2 1.9-.3 1.9-.2 1.8-.3 1.9-.2 1.8-.3 1.8-.3 1.8-.3 1.8-.2 1.8-.3 1.7-.4 1.7-.3 1.8-.3 1.7-.3 1.7-.4 1.7-.4 1.6-.3 1.7-.4 1.6-.4 1.6-.4 1.6-.5 1.6-.4 1.6-.4 1.5-.5 1.6-.5 1.5-.5 1.5-.5 1.5-.5 1.5-.6 1.4-.6 1.5-.6 1.4-.6 1.4-.6 1.4-.7 1.4-.7 1.4-.7 1.3-.7 1.3-.8 1.3-.7 1.3-.9 1.3-.8 1.2-.9 1.3-.9 1.2-1 1.2-1 1.2-1 1.1-1.1 1.2-1.2 1.1-1.1 1.1-1.3 1.1-1.3 1.1-1.3 1-1.4 1-1.5 1-1.5 1-1.6 1-1.7 .9-1.8 .9-1.8 .9-1.9 .9-2 .8-2.1 .8-2.2 .8-2.3 .8-2.4 .8-2.5 .7-2.6 .7-2.6 .6-2.8 .7-2.8 .6-3 .6-2.9 .5-3.1 .5-3 .5-3.1 .5-3 .4-3 .3-2.8 .4-2.7 .3-2.3 .2-2.1 .2-1.5 0-.8 .1-.8 .2-1.6 .2-2.3 .3-2.9 .4-3.6 .3-4.4 .4-5.1 .5-6.1 .5-6.3 .5-6.1 .5-5.9 .6-5.7 .6-5.4 .7-5.1 .6-4.9 .7-4.6 .7-4.4 .8-4.1 .8-3.9 .8-3.6 .8-3.5 .8-3.2 .9-3.1 .9-2.9 .9-2.7 .9-2.5 1-2.4 1-2.3 1-2.1 1-2.1 1-1.9 1.1-1.8 1.1-1.7 1.1-1.6 1.1-1.5 1.2-1.5 1.1-1.4 1.2-1.3 1.2-1.2 1.2-1.2 1.3-1.1 1.2-1.1 1.3-1 1.3-.9 1.3-1 1.3-.8 1.3-.9 1.4-.8 1.4-.7 1.4-.8 1.4-.7 1.4-.6 1.5-.7 1.4-.6 1.5-.6 1.5-.5 1.5-.6 1.5-.5 1.6-.5 1.5-.5 1.6-.4 1.6-.5 1.6-.4 1.6-.4 1.6-.4 1.7-.4 1.6-.4 1.7-.4 1.7-.3 1.7-.3 1.8-.4 1.7-.3 1.7-.3 1.8-.3 1.8-.3 1.8-.3 1.8-.2 1.8-.3 1.9-.2 1.8-.3 1.9-.2 1.9-.3 1.9-.2 1.9-.2 1.9-.2 1.9-.2 2-.2 1.9-.2 2-.2 2-.2 2-.2 2-.2 2-.2 2.1-.1 2-.2 2.1-.2 2.1-.1 2.1-.2 2.1-.1 2.1-.2 2.1-.1 2.2-.2 2.1-.1 2.2-.1 2.2-.2 2.2-.1 2.2-.1 2.2-.1 2.2-.1 2.3-.2 2.2-.1 2.3-.1 2.3-.1 2.3-.1 2.3-.1 2.3-.1 2.3-.1 2.4-.1 2.3-.1 2.4-.1 2.4-.1 2.4-.1 2.4-.1 2.4-.1 2.4-.1 2.4 0 2.5-.1 2.4-.1 2.5-.1 2.5-.1" stroke="#000000" stroke-width="1.3" fill="none"/>
<path d="M1099.3 738.7l2.5-.1 2.5-.2 2.4-.1 2.5-.1 2.4-.1 2.4-.1 2.4-.2 2.4-.1 2.4-.1 2.4-.2 2.4-.1 2.3-.1 2.4-.2 2.3-.1 2.3-.2 2.3-.1 2.3-.2 2.3-.1 2.3-.2 2.2-.2 2.3-.1 2.2-.2 2.2-.2 2.2-.2 2.2-.1 2.2-.2 2.2-.2 2.1-.2 2.2-.2 2.1-.2 2.1-.2 2.1-.3 2.1-.2 2.1-.2 2.1-.2 2-.3 2.1-.2 2-.3 2-.2 2-.3 2-.2 2-.3 1.9-.3 2-.3 1.9-.3 1.9-.3 1.9-.3 1.9-.3 1.9-.4 1.9-.3 1.8-.4 1.9-.3 1.8-.4 1.8-.4 1.8-.4 1.8-.4 1.8-.4 1.7-.4 1.7-.5 1.8-.4 1.7-.5 1.7-.5 1.7-.5 1.6-.5 1.7-.5 1.6-.6 1.6-.6 1.6-.6 1.6-.6 1.6-.6 1.5-.7 1.6-.7 1.5-.7 1.5-.8 1.5-.7 1.5-.8 1.4-.9 1.5-.9 1.4-.9 1.4-.9 1.4-1 1.4-1.1 1.4-1 1.3-1.2 1.3-1.2 1.3-1.2 1.3-1.3 1.3-1.3 1.2-1.5 1.3-1.4 1.2-1.6 1.2-1.6 1.2-1.8 1.1-1.8 1.2-1.9 1.1-1.9 1.1-2.1 1.1-2.2 1.1-2.3 1-2.5 1-2.5 1-2.7 1-2.9 1-3 .9-3.1 .9-3.3 .9-3.5 .9-3.7 .8-3.8 .8-4.1 .8-4.3 .8-4.5 .8-4.7 .7-4.9 .7-5.1 .6-5.4 .7-5.6 .6-5.8 .6-5.9 .5-6.1 .5-6.3 .5-6.2 .5-5.4 .4-4.7 .3-4 .4-3.4 .3-2.7 .2-2.2 .2-1.6 0-.7 .1-.8 .2-1.5 .2-1.9 .3-2.4 .4-2.6 .3-2.8 .4-3 .5-3 .5-3.2 .5-3.1 .5-3.2 .6-3.1 .6-3.2 .7-3 .6-3 .7-3 .7-2.8 .8-2.8 .8-2.6 .8-2.6 .8-2.5 .8-2.5 .9-2.3 .9-2.2 .9-2.2 .9-2.1 1-2 1-1.9 1-1.8 1-1.8 1-1.7 1.1-1.7 1.1-1.6 1.1-1.5 1.1-1.4 1.2-1.5 1.1-1.3 1.2-1.3 1.2-1.3 1.2-1.2 1.3-1.2 1.2-1.1 1.3-1.1 1.3-1 1.3-1.1 1.3-.9 1.3-1 1.4-.9 1.4-.9 1.4-.9 1.4-.8 1.4-.8 1.5-.8 1.4-.7 1.5-.8 1.5-.7 1.5-.7 1.5-.6 1.6-.7 1.5-.6 1.6-.6 1.6-.6 1.6-.6 1.6-.5 1.6-.6 1.7-.5 1.6-.5 1.7-.5 1.7-.5 1.7-.4 1.8-.5 1.7-.4 1.7-.4 1.8-.4 1.8-.4 1.8-.4 1.8-.4 1.8-.4 1.9-.3 1.8-.4 1.9-.3 1.9-.3 1.9-.3 1.9-.4 1.9-.3 1.9-.3 2-.2 1.9-.3 2-.3 2-.3 2-.2 2-.3 2-.2 2.1-.3 2-.2 2.1-.2 2.1-.3 2.1-.2 2.1-.2 2.1-.2 2.1-.2 2.2-.2 2.1-.2 2.2-.2 2.2-.2 2.2-.1 2.2-.2 2.2-.2 2.2-.2 2.3-.1 2.2-.2 2.3-.2 2.3-.1 2.3-.2 2.3-.1 2.3-.2 2.3-.1 2.4-.2 2.3-.1 2.4-.1 2.4-.2 2.4-.1 2.4-.1 2.4-.1 2.4-.2 2.4-.1 2.5-.1 2.4-.1 2.5-.1 2.5-.1" stroke="#ff00ff" stroke-width="1.3" fill="none"/>
<path d="M1099.3 738.7l2.5-.1 2.5-.2 2.4-.1 2.5-.1 2.4-.1 2.4-.1 2.4-.2 2.4-.1 2.4-.1 2.4-.2 2.4-.1 2.3-.1 2.4-.2 2.3-.1 2.3-.2 2.3-.1 2.3-.2 2.3-.1 2.3-.2 2.2-.2 2.3-.1 2.2-.2 2.2-.2 2.2-.2 2.2-.1 2.2-.2 2.2-.2 2.1-.2 2.2-.2 2.1-.2 2.1-.2 2.1-.3 2.1-.2 2.1-.2 2.1-.2 2-.3 2.1-.2 2-.3 2-.2 2-.3 2-.2 2-.3 1.9-.3 2-.3 1.9-.3 1.9-.3 1.9-.3 1.9-.3 1.9-.4 1.9-.3 1.8-.4 1.9-.3 1.8-.4 1.8-.4 1.8-.4 1.8-.4 1.8-.4 1.7-.4 1.7-.4 1.8-.5 1.7-.5 1.7-.4 1.7-.5 1.6-.5 1.7-.6 1.6-.5 1.6-.6 1.6-.5 1.6-.6 1.6-.7 1.5-.6 1.6-.6 1.5-.7 1.5-.7 1.5-.7 1.5-.8 1.4-.7 1.5-.8 1.4-.8 1.4-.9 1.4-.8 1.4-.9 1.4-1 1.3-.9 1.3-1 1.3-1 1.3-1.1 1.3-1.1 1.2-1.2 1.3-1.1 1.2-1.3 1.2-1.2 1.2-1.4 1.1-1.3 1.2-1.5 1.1-1.4 1.1-1.6 1.1-1.6 1.1-1.6 1-1.8 1-1.8 1-1.8 1-2 1-2 .9-2.1 .9-2.2 .9-2.2 .9-2.4 .8-2.4 .8-2.6 .8-2.6 .8-2.7 .8-2.8 .7-2.8 .7-3 .6-3 .7-3.1 .6-3.2 .6-3.2 .5-3.2 .5-3.2 .5-3.1 .5-3.1 .4-3 .3-2.9 .4-2.6 .3-2.4 .2-2 .2-1.5 0-.7 .1-.8 .2-1.5 .2-2.2 .3-2.8 .4-3.4 .3-4.1 .4-4.7 .5-5.5 .5-6.2 .5-6.2 .5-6 .6-5.9 .6-5.7 .7-5.6 .6-5.3 .7-5.1 .7-4.9 .8-4.6 .8-4.4 .8-4.3 .8-4 .8-3.8 .9-3.7 .9-3.4 .9-3.3 .9-3.1 1-3 1-2.8 1-2.6 1-2.6 1-2.4 1.1-2.3 1.1-2.2 1.1-2 1.1-2 1.2-1.9 1.1-1.8 1.2-1.7 1.2-1.6 1.2-1.5 1.3-1.5 1.2-1.4 1.3-1.3 1.3-1.3 1.3-1.2 1.3-1.2 1.3-1.1 1.4-1.1 1.4-1 1.4-1 1.4-1 1.4-.9 1.5-.8 1.4-.9 1.5-.8 1.5-.7 1.5-.8 1.5-.7 1.6-.7 1.5-.6 1.6-.7 1.6-.6 1.6-.6 1.6-.5 1.6-.6 1.7-.5 1.6-.5 1.7-.5 1.7-.5 1.7-.5 1.8-.4 1.7-.5 1.7-.4 1.8-.4 1.8-.4 1.8-.4 1.8-.4 1.8-.4 1.9-.3 1.8-.4 1.9-.3 1.9-.3 1.9-.3 1.9-.4 1.9-.3 1.9-.3 2-.2 1.9-.3 2-.3 2-.3 2-.2 2-.3 2-.2 2.1-.3 2-.2 2.1-.2 2.1-.3 2.1-.2 2.1-.2 2.1-.2 2.1-.2 2.2-.2 2.1-.2 2.2-.2 2.2-.2 2.2-.1 2.2-.2 2.2-.2 2.2-.2 2.3-.1 2.2-.2 2.3-.2 2.3-.1 2.3-.2 2.3-.1 2.3-.2 2.3-.1 2.4-.2 2.3-.1 2.4-.1 2.4-.2 2.4-.1 2.4-.1 2.4-.1 2.4-.2 2.4-.1 2.5-.1 2.4-.1 2.5-.1 2.5-.1" stroke="#ff00ff" stroke-width="1.3" fill="none"/>
<text x="1466.7" y="436.7" font-size="13.8" font-family="'Liberation Serif','Times New Roman',serif" font-weight="bold" fill="#000">2 h</text>
<text x="1466" y="450.8" font-size="13.8" font-family="'Liberation Serif','Times New Roman',serif" font-weight="bold" fill="#000">0.5 h</text>
<text x="1466" y="465.8" font-size="13.8" font-family="'Liberation Serif','Times New Roman',serif" font-weight="bold" fill="#000">1 h</text>
<rect x="1341.1" y="599.1" width="150.2" height="128.3" fill="#fff" stroke="#2b2b2b" stroke-width="1.4"/>
<path d="M1341.1 727.4v2.2M1371.1 727.4v2.2M1401.2 727.4v2.2M1431.2 727.4v2.2M1461.3 727.4v2.2M1491.3 727.4v2.2M1356.1 727.4v1.2M1386.2 727.4v1.2M1416.2 727.4v1.2M1446.2 727.4v1.2M1476.3 727.4v1.2M1341.1 727.4h-2.2M1341.1 684.6h-2.2M1341.1 641.9h-2.2M1341.1 599.1h-2.2M1341.1 706h-1.2M1341.1 663.2h-1.2M1341.1 620.5h-1.2" stroke="#2b2b2b" stroke-width="0.9" fill="none"/>
<text x="1341.1" y="735" font-size="5.0" font-family="'Liberation Serif','Times New Roman',serif" font-weight="bold" text-anchor="middle" fill="#111">400000</text>
<text x="1371.1" y="735" font-size="5.0" font-family="'Liberation Serif','Times New Roman',serif" font-weight="bold" text-anchor="middle" fill="#111">420000</text>
<text x="1401.2" y="735" font-size="5.0" font-family="'Liberation Serif','Times New Roman',serif" font-weight="bold" text-anchor="middle" fill="#111">440000</text>
<text x="1431.2" y="735" font-size="5.0" font-family="'Liberation Serif','Times New Roman',serif" font-weight="bold" text-anchor="middle" fill="#111">460000</text>
<text x="1461.3" y="735" font-size="5.0" font-family="'Liberation Serif','Times New Roman',serif" font-weight="bold" text-anchor="middle" fill="#111">480000</text>
<text x="1491.3" y="735" font-size="5.0" font-family="'Liberation Serif','Times New Roman',serif" font-weight="bold" text-anchor="middle" fill="#111">500000</text>
<text x="1337.6" y="729.1" font-size="5.0" font-family="'Liberation Serif','Times New Roman',serif" font-weight="bold" text-anchor="end" fill="#111">30</text>
<text x="1337.6" y="686.3" font-size="5.0" font-family="'Liberation Serif','Times New Roman',serif" font-weight="bold" text-anchor="end" fill="#111">32</text>
<text x="1337.6" y="643.6" font-size="5.0" font-family="'Liberation Serif','Times New Roman',serif" font-weight="bold" text-anchor="end" fill="#111">34</text>
<text x="1337.6" y="600.8" font-size="5.0" font-family="'Liberation Serif','Times New Roman',serif" font-weight="bold" text-anchor="end" fill="#111">36</text>
<path d="M1341.6 636.9l1.2-.2 1.3-.3 1.2-.2 1.3-.2 1.2 0 1.3-.3 1.2-.2 1.3 0 1.2-.2 1.2-.2 1.3-.3 1.2-.1 1.3-.2 1.2-.3 1.3 0 1.2-.2 1.3-.1 1.2-.3 1.3-.2 1.2-.1 1.2-.3 1.3-.1 1.2-.3 1.3-.2 1.2-.1 1.3-.2 1.2-.2 1.3-.3 1.2-.1 1.2-.2 1.3-.1 1.2-.2 1.3-.1 1.2-.3 1.3-.1 1.2-.1 1.3-.3 1.2-.1 1.3-.1 1.2 0 1.2-.3 1.3 0 1.2-.2 1.3-.2 1.2-.2 1.3 .1 1.2-.2 1.3-.1 1.2-.2 1.2-.1 1.3 0 1.2-.1 1.3-.3 1.2-.1 1.3 0 1.2-.1 1.3-.2 1.2-.1 1.3-.2 1.2 0 1.2-.1 1.3-.3 1.2-.2 1.3-.1 1.2 0 1.3-.3 1.2-.1 1.3-.2 1.2-.1 1.3-.1 1.2-.2 1.2 0 1.3-.3 1.2-.1 1.3-.2 1.2-.2 1.3-.1 1.2-.4 1.3 0 1.2-.1 1.2-.3 1.3 0 1.2-.3 1.3-.3 1.2 .1 1.3-.2 1.2-.1 1.3-.2 1.2 0 1.3-.2 1.2-.1 1.2-.1 1.3-.3 1.2 .1 1.3-.3 1.2 0 1.3-.2 1.2-.1 1.3 0 1.2 .1 1.2-.2 1.3-.2 1.2 0 1.3-.2 1.2 .1 1.3-.2 1.2 .1 1.3-.3 1.2 .1 1.2-.1 1.3-.1 1.2 .1 1.3-.1 1.2-.1 1.3 0 1.2 0 1.3-.3 1.2 .1 1.3-.2 1.2 .1" stroke="#008000" stroke-width="1.4" fill="none"/>
<path d="M1341.6 641.1l1.2-.5 1.3-.1 1.2-.2 1.3-.1 1.2-.4 1.3-.1 1.2-.3 1.3-.2 1.2-.2 1.2-.2 1.3-.2 1.2-.2 1.3-.1 1.2-.3 1.3-.4 1.2 .1 1.3-.3 1.2-.2 1.3-.1 1.2-.2 1.2-.2 1.3-.3 1.2 0 1.3-.4 1.2 .1 1.3-.4 1.2 0 1.3-.2 1.2-.1 1.2-.2 1.3-.1 1.2-.5 1.3 .2 1.2-.2 1.3-.1 1.2 0 1.3-.3 1.2-.1 1.3-.3 1.2 .1 1.2-.3 1.3-.1 1.2 .2 1.3-.3 1.2-.2 1.3-.1 1.2-.3 1.3-.1 1.2 0 1.2-.3 1.3 0 1.2-.3 1.3 0 1.2-.2 1.3 0 1.2-.2 1.3-.3 1.2-.2 1.3-.1 1.2-.1 1.2-.3 1.3 0 1.2-.2 1.3-.2 1.2-.2 1.3-.1 1.2-.3 1.3 0 1.2-.3 1.3 0 1.2-.4 1.2-.2 1.3-.1 1.2-.2 1.3-.2 1.2-.1 1.3-.1 1.2-.4 1.3 .1 1.2-.2 1.2-.1 1.3-.1 1.2-.3 1.3 0 1.2-.2 1.3-.1 1.2-.1 1.3-.1 1.2-.2 1.3 0 1.2 0 1.2-.1 1.3-.1 1.2-.2 1.3-.1 1.2 0 1.3 0 1.2-.4 1.3 .1 1.2 0 1.2-.2 1.3 0 1.2 0 1.3-.1 1.2-.1 1.3-.1 1.2-.2 1.3 0 1.2-.2 1.2 0 1.3-.2 1.2 0 1.3 0 1.2-.2 1.3-.1 1.2 0 1.3-.2 1.2 0 1.3-.1 1.2-.2" stroke="#008000" stroke-width="1.4" fill="none"/>
<path d="M1341.6 645.4l1.2-.1 1.3-.4 1.2 0 1.3-.3 1.2-.2 1.3-.1 1.2-.3 1.3-.2 1.2-.2 1.2-.2 1.3-.2 1.2-.2 1.3-.3 1.2-.1 1.3-.2 1.2-.3 1.3-.2 1.2-.1 1.3-.1 1.2-.1 1.2-.2 1.3-.1 1.2-.3 1.3-.1 1.2-.1 1.3-.1 1.2-.2 1.3-.2 1.2-.2 1.2 0 1.3-.3 1.2-.1 1.3 .1 1.2-.4 1.3 .1 1.2-.2 1.3-.2 1.2-.1 1.3-.1 1.2-.1 1.2-.3 1.3-.1 1.2-.2 1.3-.2 1.2-.1 1.3-.2 1.2 0 1.3-.4 1.2-.1 1.2-.2 1.3-.3 1.2 .2 1.3-.6 1.2 0 1.3-.2 1.2 0 1.3-.5 1.2 .1 1.3-.3 1.2-.2 1.2-.2 1.3-.1 1.2-.3 1.3-.1 1.2-.1 1.3-.1 1.2-.5 1.3 .1 1.2-.2 1.3-.3 1.2 0 1.2-.3 1.3 .1 1.2-.3 1.3-.2 1.2-.1 1.3-.1 1.2-.2 1.3-.2 1.2 .2 1.2-.5 1.3-.2 1.2 .1 1.3-.1 1.2 0 1.3-.2 1.2-.1 1.3 0 1.2-.1 1.3-.2 1.2-.1 1.2 .1 1.3-.2 1.2-.2 1.3 .1 1.2-.2 1.3-.2 1.2-.1 1.3 0 1.2-.2 1.2-.1 1.3-.2 1.2 0 1.3 0 1.2-.2 1.3-.2 1.2 0 1.3-.2 1.2 0 1.2-.1 1.3-.2 1.2-.2 1.3-.1 1.2-.2 1.3 .1 1.2-.1 1.3-.2 1.2-.1 1.3-.1 1.2-.1" stroke="#0000ff" stroke-width="1.4" fill="none"/>
<path d="M1341.6 650.2l1.2-.2 1.3-.3 1.2-.1 1.3-.1 1.2-.2 1.3-.1 1.2-.4 1.3-.1 1.2-.2 1.2-.2 1.3-.1 1.2-.1 1.3-.2 1.2-.1 1.3 0 1.2-.3 1.3-.3 1.2 0 1.3-.2 1.2-.1 1.2 0 1.3-.3 1.2-.3 1.3 .1 1.2-.2 1.3-.2 1.2-.1 1.3-.1 1.2-.1 1.2-.2 1.3-.1 1.2 0 1.3-.4 1.2-.2 1.3-.1 1.2 0 1.3-.3 1.2 0 1.3-.4 1.2-.2 1.2-.1 1.3-.2 1.2-.2 1.3-.1 1.2-.1 1.3-.3 1.2-.2 1.3 0 1.2-.3 1.2-.2 1.3-.1 1.2-.4 1.3-.1 1.2-.1 1.3-.3 1.2-.2 1.3-.1 1.2-.2 1.3-.2 1.2-.2 1.2 0 1.3-.3 1.2 0 1.3-.2 1.2-.2 1.3-.1 1.2-.1 1.3-.2 1.2-.2 1.3-.1 1.2 0 1.2-.2 1.3 0 1.2-.1 1.3-.2 1.2 0 1.3-.4 1.2 0 1.3-.3 1.2 .2 1.2-.2 1.3 .1 1.2-.3 1.3-.2 1.2 .1 1.3-.3 1.2-.1 1.3 0 1.2-.1 1.3-.2 1.2 0 1.2-.3 1.3 .2 1.2-.3 1.3-.1 1.2-.1 1.3-.2 1.2-.1 1.3-.2 1.2-.1 1.2-.1 1.3 0 1.2-.3 1.3-.1 1.2-.1 1.3-.1 1.2-.2 1.3-.2 1.2-.1 1.2 0 1.3-.2 1.2-.1 1.3 .1 1.2-.3 1.3-.1 1.2-.2 1.3-.2 1.2 .1 1.3-.1 1.2-.1" stroke="#0000ff" stroke-width="1.4" fill="none"/>
<path d="M1341.6 658.9l1.2-.1 1.3 0 1.2-.4 1.3 0 1.2-.3 1.3 .1 1.2-.2 1.3-.1 1.2-.2 1.2-.1 1.3-.2 1.2-.2 1.3 0 1.2-.3 1.3 0 1.2-.1 1.3-.2 1.2-.1 1.3 0 1.2-.3 1.2-.2 1.3-.1 1.2-.2 1.3-.1 1.2-.2 1.3 .1 1.2-.3 1.3-.2 1.2-.1 1.2-.1 1.3-.3 1.2-.2 1.3 0 1.2-.5 1.3-.1 1.2-.1 1.3 0 1.2-.5 1.3-.3 1.2 .1 1.2-.3 1.3-.2 1.2-.1 1.3-.2 1.2-.1 1.3-.3 1.2 0 1.3-.2 1.2-.3 1.2-.2 1.3 0 1.2-.2 1.3-.3 1.2-.1 1.3 0 1.2-.3 1.3-.1 1.2-.1 1.3-.2 1.2-.1 1.2-.3 1.3 .2 1.2-.3 1.3-.2 1.2 .1 1.3-.2 1.2-.1 1.3 0 1.2-.1 1.3-.2 1.2 0 1.2-.1 1.3-.3 1.2-.1 1.3 0 1.2-.3 1.3 0 1.2 0 1.3-.1 1.2-.2 1.2-.3 1.3 .3 1.2-.3 1.3-.1 1.2-.2 1.3-.3 1.2-.1 1.3-.1 1.2 .1 1.3-.3 1.2-.1 1.2-.2 1.3-.1 1.2-.1 1.3-.2 1.2-.2 1.3-.3 1.2 .1 1.3-.1 1.2-.1 1.2-.2 1.3-.2 1.2-.1 1.3-.3 1.2-.1 1.3-.1 1.2 0 1.3 0 1.2-.2 1.2-.1 1.3-.1 1.2-.1 1.3-.2 1.2 0 1.3-.3 1.2 0 1.3 0 1.2 .1 1.3-.1 1.2 .1" stroke="#8000ff" stroke-width="1.4" fill="none"/>
<path d="M1341.6 661l1.2-.4 1.3 0 1.2-.1 1.3 0 1.2-.3 1.3-.3 1.2 0 1.3-.2 1.2 0 1.2-.2 1.3 0 1.2-.3 1.3-.3 1.2-.1 1.3-.1 1.2-.1 1.3-.1 1.2-.3 1.3-.2 1.2-.1 1.2-.3 1.3-.1 1.2-.2 1.3 0 1.2-.3 1.3-.2 1.2-.3 1.3-.1 1.2-.2 1.2-.3 1.3-.2 1.2 0 1.3-.3 1.2-.2 1.3-.1 1.2-.4 1.3 .1 1.2-.3 1.3-.3 1.2-.2 1.2-.2 1.3 0 1.2-.4 1.3 .1 1.2-.2 1.3-.3 1.2-.1 1.3-.2 1.2-.1 1.2 0 1.3-.3 1.2 0 1.3-.1 1.2-.3 1.3 0 1.2-.2 1.3-.1 1.2-.1 1.3 0 1.2-.3 1.2-.1 1.3-.1 1.2-.1 1.3-.2 1.2 .1 1.3-.3 1.2-.1 1.3-.1 1.2 0 1.3 0 1.2-.1 1.2-.3 1.3-.2 1.2-.1 1.3-.3 1.2 .1 1.3-.3 1.2 .1 1.3-.4 1.2-.2 1.2-.2 1.3-.1 1.2 0 1.3-.2 1.2-.2 1.3-.2 1.2 0 1.3-.3 1.2-.1 1.3-.1 1.2-.3 1.2-.2 1.3 0 1.2-.1 1.3-.2 1.2-.1 1.3-.1 1.2-.3 1.3 0 1.2-.4 1.2 .1 1.3-.1 1.2-.1 1.3-.1 1.2-.2 1.3-.1 1.2 0 1.3-.2 1.2 0 1.2-.1 1.3 0 1.2-.1 1.3-.2 1.2-.1 1.3-.1 1.2 .2 1.3-.1 1.2-.1 1.3 0 1.2 0" stroke="#8000ff" stroke-width="1.4" fill="none"/>
<path d="M1341.6 691.8l1.2-.1 1.3-.2 1.2-.2 1.3-.1 1.2-.1 1.3-.1 1.2-.2 1.3-.1 1.2-.2 1.2-.2 1.3-.2 1.2-.3 1.3 0 1.2-.2 1.3-.1 1.2-.4 1.3-.2 1.2-.1 1.3-.2 1.2-.1 1.2-.2 1.3-.1 1.2-.3 1.3-.1 1.2-.2 1.3-.3 1.2 0 1.3-.2 1.2-.2 1.2-.3 1.3-.2 1.2-.1 1.3-.1 1.2-.1 1.3-.2 1.2-.2 1.3-.2 1.2-.1 1.3 0 1.2-.4 1.2 0 1.3-.1 1.2-.3 1.3 0 1.2 0 1.3-.4 1.2 0 1.3-.1 1.2-.1 1.2-.1 1.3-.1 1.2-.2 1.3 0 1.2-.1 1.3-.1 1.2 0 1.3-.2 1.2-.2 1.3-.2 1.2 0 1.2-.2 1.3-.1 1.2-.2 1.3-.1 1.2-.1 1.3 .1 1.2-.4 1.3-.1 1.2 0 1.3-.1 1.2-.2 1.2-.4 1.3-.2 1.2 .1 1.3-.2 1.2-.2 1.3 0 1.2-.1 1.3-.3 1.2-.1 1.2-.2 1.3 0 1.2-.3 1.3-.1 1.2-.2 1.3-.3 1.2 .1 1.3-.2 1.2-.1 1.3-.4 1.2 0 1.2 0 1.3-.3 1.2 0 1.3 0 1.2-.3 1.3 .1 1.2-.2 1.3-.1 1.2-.1 1.2 0 1.3-.1 1.2 0 1.3-.3 1.2 0 1.3 0 1.2-.1 1.3-.1 1.2 .1 1.2-.1 1.3-.2 1.2-.1 1.3 .1 1.2-.1 1.3-.1 1.2 .1 1.3-.2 1.2 .1 1.3-.2 1.2 0" stroke="#000080" stroke-width="1.4" fill="none"/>
<path d="M1341.6 693.8l1.2 0 1.3-.3 1.2-.2 1.3-.2 1.2-.2 1.3-.1 1.2-.3 1.3-.2 1.2-.3 1.2-.2 1.3 0 1.2-.2 1.3-.1 1.2-.3 1.3-.2 1.2-.2 1.3-.2 1.2-.4 1.3 .1 1.2-.4 1.2-.1 1.3-.2 1.2 .1 1.3-.3 1.2-.3 1.3-.3 1.2 0 1.3-.3 1.2 0 1.2-.3 1.3-.1 1.2 0 1.3-.3 1.2-.1 1.3-.1 1.2-.1 1.3-.2 1.2 0 1.3 0 1.2-.5 1.2 0 1.3 0 1.2-.3 1.3-.1 1.2 .1 1.3-.2 1.2-.1 1.3-.1 1.2-.2 1.2-.2 1.3-.3 1.2 .1 1.3-.2 1.2-.1 1.3-.1 1.2-.3 1.3 0 1.2 0 1.3-.2 1.2-.4 1.2 0 1.3-.2 1.2-.1 1.3-.1 1.2-.3 1.3-.1 1.2-.1 1.3-.4 1.2 .1 1.3-.3 1.2-.2 1.2-.2 1.3-.1 1.2-.3 1.3-.2 1.2 0 1.3 0 1.2-.3 1.3-.2 1.2-.1 1.2-.2 1.3-.1 1.2-.1 1.3-.2 1.2 0 1.3-.3 1.2 0 1.3-.2 1.2-.1 1.3-.1 1.2-.1 1.2 0 1.3-.1 1.2-.3 1.3 .1 1.2-.3 1.3 .1 1.2-.1 1.3-.1 1.2 0 1.2-.1 1.3-.2 1.2 .1 1.3-.2 1.2-.1 1.3 0 1.2-.1 1.3 0 1.2-.2 1.2 0 1.3-.1 1.2 .1 1.3-.3 1.2 .1 1.3-.2 1.2 0 1.3 0 1.2-.3 1.3 0 1.2-.1" stroke="#000080" stroke-width="1.4" fill="none"/>
<text x="0" y="0" font-size="13.7" font-family="'Liberation Serif','Times New Roman',serif" font-weight="bold" transform="translate(1458.9 619.8) scale(1 1.05)">2.5 h</text>
<text x="0" y="0" font-size="13.7" font-family="'Liberation Serif','Times New Roman',serif" font-weight="bold" transform="translate(1458.9 639.9) scale(1 1.05)">1.5 h</text>
<text x="0" y="0" font-size="13.7" font-family="'Liberation Serif','Times New Roman',serif" font-weight="bold" transform="translate(1458.3 658.7) scale(1 1.05)">4 h</text>
<text x="0" y="0" font-size="13.7" font-family="'Liberation Serif','Times New Roman',serif" font-weight="bold" transform="translate(1458.3 691.4) scale(1 1.05)">3 h</text>
<text x="1050.8" y="575" font-size="17" font-family="'Liberation Serif','Times New Roman',serif" font-weight="bold" text-anchor="middle" transform="rotate(-90 1050.8 575)">M (A&#183;m<tspan dy="-6.8" font-size="11">2</tspan><tspan dy="6.8">/kg)</tspan></text>
<text x="1301.5" y="795.6" font-size="17.0" font-family="'Liberation Serif','Times New Roman',serif" font-weight="bold" text-anchor="middle" fill="#000">H (A/m)</text>
<text x="1119.2" y="449" font-size="23.3" font-family="'Liberation Serif','Times New Roman',serif" font-weight="bold" fill="#000">(f)</text>
<rect x="52" y="816.5" width="444.5" height="328" fill="none" stroke="#2b2b2b" stroke-width="1.3"/>
<path d="M52 1144.5v6.5M126.1 1144.5v6.5M200.2 1144.5v6.5M274.2 1144.5v6.5M348.3 1144.5v6.5M422.4 1144.5v6.5M496.5 1144.5v6.5M89 1144.5v3.5M163.1 1144.5v3.5M237.2 1144.5v3.5M311.3 1144.5v3.5M385.4 1144.5v3.5M459.5 1144.5v3.5" stroke="#2b2b2b" stroke-width="1.3" fill="none"/>
<text x="52" y="1166.7" font-size="14" font-family="'Liberation Sans',Arial,sans-serif" text-anchor="middle" fill="#222222">20</text>
<text x="126.1" y="1166.7" font-size="14" font-family="'Liberation Sans',Arial,sans-serif" text-anchor="middle" fill="#222222">30</text>
<text x="200.2" y="1166.7" font-size="14" font-family="'Liberation Sans',Arial,sans-serif" text-anchor="middle" fill="#222222">40</text>
<text x="274.2" y="1166.7" font-size="14" font-family="'Liberation Sans',Arial,sans-serif" text-anchor="middle" fill="#222222">50</text>
<text x="348.3" y="1166.7" font-size="14" font-family="'Liberation Sans',Arial,sans-serif" text-anchor="middle" fill="#222222">60</text>
<text x="422.4" y="1166.7" font-size="14" font-family="'Liberation Sans',Arial,sans-serif" text-anchor="middle" fill="#222222">70</text>
<text x="496.5" y="1166.7" font-size="14" font-family="'Liberation Sans',Arial,sans-serif" text-anchor="middle" fill="#222222">80</text>
<path d="M52 1088.9l.6 .3 .6-.1 .6-.4 .6 .3 .6-.3 .6 .7 .6-.6 .6-.4 .6 .3 .6 .2 .6 .2 .6 .4 .6-.8 .6 .3 .6-.4 .6 .5 .6-.1 .6 0 .6-.1 .6 0 .6 .2 .6 0 .6-.2 .6 .2 .6 0 .6 .2 .6-.5 .6 .4 .6-.6 .6 .8 .6-1.1 .6 .4 .6 .1 .6 .5 .6-.1 .6-1.2 .6 .4 .6-.3 .6-.1 .6 .1 .6 .7 .6 .1 .6-.9 .6 0 .6 0 .6-.6 .6-1 .6-1.8 .6-4.2 .6-8.1 .6-7.8 .1 0 .5 3.5 .6 8.4 .6 6.1 .6 3.4 .6 1.5 .6 0 .6 .3 .6 1 .6 0 .6-.1 .6 .3 .6 .2 .6-.4 .6 .2 .6 .1 .6-.5 .6 .4 .6-.1 .6-.4 .6 .3 .6 .5 .6-.5 .6 .1 .6-.2 .6 .4 .6 .2 .6-.6 .6 .2 .6 .4 .6-.3 .6-.2 .6 .6 .6-.2 .6 .3 .6-.3 .6-.1 .6 0 .6-.1 .6 .3 .6-.2 .6 .4 .6-.3 .6-.3 .6 .2 .6-.4 .6 0 .6 .1 .6 .4 .6-.4 .6 .6 .6-.2 .6 .6 .6-.2 .6-.8 .6 .2 .6-.1 .6-.1 .6 0 .6 .1 .6 .2 .6 .2 .6-.4 .6-.1 .6-.4 .6 .3 .6 0 .6 .2 .6-.1 .6 .2 .6 0 .6-1.5 .6-.5 .6-1.8 .4-.6 .2-.3 .6 1.7 .6 1.3 .6 .8 .6 .2 .6 .8 .6 0 .6 0 .6 0 .6-.2 .6 .3 .6-.1 .6-.3 .6 .2 .6-.7 .6 .5 .6-.2 .6-.1 .6 .3 .6 .3 .6 .1 .6-.7 .6-.4 .6 .2 .6 .4 .6-.7 .6 .2 .6 .3 .6-.8 .6-.3 .6-.6 .6-.8 .6-.8 .6-1.9 .6-4.8 .6-12.7 .6-21.7 .6-21.4 .2-2.6 .4 6.9 .6 23.9 .6 19.2 .6 9.4 .6 4.2 .6 1.8 .6 .9 .6 .6 .6 .5 .6 .3 .6 .4 .6-.3 .6 0 .6 .2 .6 .6 .6-.6 .6 .2 .6-.4 .6 0 .6 .1 .6-.7 .6 .5 .6-.8 .6-.4 .6-.7 .6-1.1 .6-3.2 .6-8.2 .6-16.4 .6-19.7 .4-5.2 .2 2.4 .6 18 .6 17.6 .6 10.1 .6 3.9 .6 1.7 .6 .9 .6 .4 .6 .8 .6 0 .6 .5 .6 .3 .6-.2 .6-.3 .6 .3 .6-.5 .6-.3 .6-1.1 .6 .2 .1-.1 .5 .6 .6 .8 .6 .4 .6 .1 .6-.2 .6 .4 .6 .2 .6-.3 .6 .5 .6-.2 .6 .1 .6-.4 .6 .4 .6 .2 .6-.6 .6 .4 .6-.1 .6 .1 .6-.3 .6-.1 .6 .4 .6-.3 .6-.3 .6 .4 .6 0 .6 .2 .6-.5 .6 .6 .6-.7 .6 .5 .6 .1 .6-.2 .6-.4 .6-.1 .6 .7 .6-.2 .6-.6 .6 .3 .6-.4 .6-.1 .6-.2 .6-.5 .6-.7 .6-3.5 .6-5.5 .6-5.8 .3-1.4 .3 2 .6 5.9 .6 5.6 .6 2.5 .6 1.1 .6 .7 .6 0 .6 0 .6 0 .6 .6 .6-.2 .6 0 .6 .1 .6-.2 .6 .6 .6-.3 .6 0 .6-.1 .6 .1 .6 0 .6-.2 .6-.5 .6 .2 .6 .4 .6-.8 .6-.7 .6-1.5 .6-1.5 .1 0 .5 .5 .6 2.3 .6 .5 .6 1 .6 .2 .6 .1 .6-.3 .6 .9 .6-.3 .6-.2 .6 .7 .6-.7 .6-.1 .6 .1 .6-.4 .6 .5 .6-.3 .6 0 .6 .3 .6-.3 .6 .1 .6 .3 .6-.3 .6-.4 .6 .5 .6 0 .6 .4 .6-.8 .6 .6 .6-.2 .6-.5 .6 .3 .6 .4 .6 .2 .6-.2 .6 .1 .6-.2 .6 .2 .6-.2 .6-.8 .6 .5 .6 .3 .6-.1 .6 .2 .6-.3 .6 .1 .6 .1 .6 .1 .6-.5 .6 .4 .6 0 .6-.3 .6 0 .6 .3 .6-.3 .6 0 .6 .4 .6 .1 .6-.3 .6 .2 .6-.4 .6-.1 .6 .5 .6-.4 .6-.5 .6 .6 .6-.4 .6 .2 .6 .2 .6-.8 .6 .3 .6 0 .6-.9 .6-.2 .6-1.4 .6-3.3 .6-6.6 .6-7.5 .4-2.9 .2 1.4 .6 6.8 .6 7.9 .6 3.4 .6 1.8 .6 1.1 .6 .4 .6 .1 .6 .1 .6-.1 .6 0 .6 .3 .6 .4 .6-.6 .6 .3 .6 .4 .6-.3 .6-.1 .6-.1 .6 0 .6 .1 .6 .5 .6-.1 .6-.7 .6 .3 .6 .1 .6-.2 .6 .1 .6 .6 .6-.4 .6-.3 .6 .7 .6-.8 .6 .2 .6 .4 .6 0 .6-.1 .6-.6 .6 .2 .6 .2 .6-.7 .6-.1 .6 .3 .6 0 .6-.2 .6 .2 .6 .2 .6-.1 .6-.1 .6 0 .6-.5 .6-.8 .6-.8 .6-1.7 .6-5.9 .6-9.1 .6-9.6 .3-2.1 .3 2.6 .6 10.6 .6 8.8 .6 4.3 .6 2.4 .6 1.3 .6 .3 .6-.4 .6 .5 .6-.1 .6-.1 .6 .1 .6 .5 .6-.3 .6 .5 .6-.6 .6 .3 .6-.1 .6-.1 .6-.2 .6 .3 .6 .8 .6-.4 .6-.5 .6 .1 .6 0 .6 0 .6 .2 .6-.2 .6-.2 .6-.5 .6-.2 .6-1.2 .6-1.9 .6-3.2 .4-1.1 .2-.1 .6 3 .6 2.7 .6 1.3 .6-.2 .6-1.2 .6-2.8 .6-1.3 0 .3 .6 1.3 .6 2.7 .6 1.1 .6 1.3 .6 .5 .6-.2 .6 0 .6 .7 .6-.8 .6 .2 .6 .1 .6-.2 .6 .4 .6 .4 .6-.5 .6-.2 .6-.4 .6 .4 .6 .3 .6-.3 .6 .7 .6-.4 .6-.4 .6 .5 .6-1 .6 .6 .6 .1 .6 .3 .6-.1 .6 .4 .6-.2 .6-.4 .6 .2 .6-.5 .6 0 .6 .5 .6-.5 .6 .2 .6 .2 .6 .1 .6 .5 .6-.7 .6 .2 .6-.2 .6-.3 .6 .3 .6-.2 .6-.2 .6-.1 .6 0 .6 .2 .6 0 .6-.4 .6 0 .6-.3 .6-.7 .6-.9 .6-2 .6-5.4 .6-9.5 .6-7.2 .1 .2 .5 4.8 .6 9.2 .6 6.6 .6 2.7 .6 1.2 .6 .7 .6 0 .6 .4 .6 .2 .6-.2 .6 .2 .6 0 .6-.1 .6-.7 .6-1 .6-1.9 .6-4.4 .6-7.6 .6-7.8 .2-.5 .4 3.2 .6 8.2 .6 6.9 .6 3.5 .6 1.1 .6 1.3 .6 0 .6 .1 .6 .1 .6 .3 .6-.1 .6-.1 .6 .2 .6-.4 .6 .5 .6 .1 .6-.2 .6-.2 .6 .6 .6-.5 .6 .1 .6 .2 .6-.1 .6-.1 .6 .2 .6-.5 .6 .4 .6-.5 .6 .1 .6 0 .6 1 .6-.3 .6-.4 .6 .2 .6 .1 .6-.3 .6 .3 .6-.2 .6 0 .6 0 .6 .1 .6 .1 .6 0 .6-.1 .6-.3 .6 0 .6 0 .6-.1 .6 .9 .6 0 .6-.8 .6 .1 .6 .3 .6 0 .6-.3 .6 0 .6 .4 .6-.1 .6-.4 .6-.1 .6 .5 .6-.1 .6-.2 .6 .2 .6 .2 .6-.5 .6-.3 .6-.4 .6-.9 .3-.1 .3 .1 .6 .4 .6 1.2 .6-.1 .6 0 .6 .3 .6-.3 .6 .1 .6 .1 .6 .1 .6-.2 .6 .2 .6-.4 .6 .4 .6 0 .6 .4 .6 0 .6-.4 .6 .4 .6-.9 .6 .1 .6 .2 .6-.4 .6 .7 .6-.1 .6-.6 .6-1 .6-1.5 .6-2.1 .6-1.2 0-.4 .6 1.4 .6 2.6 .6 1.4 .6 1.1 .6-.2 .6 0 .6 .1 .6 .3 .6 .2 .6-.3 .6 .2 .6-.4 .6 .3 .6 .6 .6-.3 .6-.2 .6-.6 .6 .8 .6-.1 .6-.1 .6-.1 .6 .2 .6-1.3 .6-1.3 .5 0 .1 0 .6 1.2 .6 .3 .6 .7 .6 .2 .6-.2 .6 .6 .6 0 .6-.6 .6 .2 .6-.1 .6 .1 .6-.2 .6 .2 .6 0 .6-.8 .6-.9 .6-1.5 .6-1.3 .2-.1 .4 .8 .6 1.8 .6 1.2 .6 .1 .6 .8 .6 0 .6-.1 .6 0 .6 .1 .6 .1 .6 .1 .6 0 .6 .1 .6-.1 .6 .3 .6-.5 .6 .1 .6-.5 .6-.1 .6 .7 .6 .1 .6-.3 .6-.3 .6-.1 .6-.4 .6-.1 .6-1 .3 .1 .3-.1 .6 .4 .6 1.2 .6 .4 .6 .2 .6 .1 .6-.2 .6-.2 .6 .2 .6-.3 .6 .6 .6 .2 .6-1 .6-.3 .6 .7 .6 .1 .6-.2 .6 .5 .6-.5 .6 .5 .6-.3 .6-.2 .6 .1 .6-.1 .6-.6 .6 .1 .6 .3 .6-.2" stroke="#000000" stroke-width="1.7" fill="none" stroke-linejoin="round"/>
<path d="M52 1010.4l.6 .3 .6 .4 .6-.9 .6 .6 .6-.4 .6 .6 .6-.3 .6 .2 .6-.7 .6 .9 .6 .7 .6-.9 .6-.3 .6 .2 .6-.7 .6 .5 .6 .1 .6-.5 .6-.5 .6 1.2 .6-.3 .6 0 .6-.1 .6-.1 .6 .3 .6-.2 .6 .2 .6-.4 .6 .5 .6-.1 .6 .9 .6-.2 .6-.8 .6 .2 .6-.6 .6 .4 .6-.2 .6 .2 .6 .4 .6-.8 .6 .3 .6 .7 .6-1 .6-.1 .6 .5 .6-.7 .6-1 .6-.1 .6-2.7 .6-3.9 .6-4.5 .1 0 .5 1.5 .6 3.9 .6 3.8 .6 2.1 .6 .9 .6-.2 .6 .3 .6-.1 .6-.2 .6 .3 .6 .9 .6 0 .6-.3 .6 .6 .6-.2 .6 .2 .6 .3 .6-.2 .6-.9 .6 0 .6-.3 .6 .7 .6 0 .6 .6 .6-.3 .6-.1 .6-.5 .6 .4 .6 .3 .6-.3 .6-.7 .6 .7 .6-.1 .6 .9 .6-.1 .6-.6 .6-.2 .6 .4 .6-1.5 .6 1.2 .6-.2 .6 .3 .6-.3 .6 .2 .6-.1 .6 1 .6-.6 .6-1.1 .6 .7 .6-.3 .6 .7 .6-.3 .6-.4 .6 .2 .6 0 .6 .1 .6-.3 .6-.1 .6 .1 .6 .2 .6-.3 .6-.4 .6 .9 .6-.6 .6-.2 .6 .5 .6 .4 .6-1 .6-.5 .6-1 .6-1.7 .6-4.5 .6-6 .4-1.9 .2 0 .6 5 .6 5.7 .6 3.7 .6 0 .6 .7 .6 .7 .6-.9 .6 1.3 .6 0 .6 .1 .6 .2 .6 .4 .6-.4 .6 .1 .6 .1 .6-1.3 .6-.6 .6 1.7 .6 .7 .6-1.2 .6-.1 .6 .3 .6-.3 .6-.4 .6 .6 .6-.4 .6 0 .6-.9 .6 1.1 .6-1.3 .6-.3 .6-.9 .6-.9 .6-3.5 .6-7.4 .6-13.9 .6-13.3 .2-.7 .4 3.6 .6 15.9 .6 11.3 .6 5.8 .6 2.2 .6 1.7 .6 0 .6 1.2 .6-1.3 .6 1.1 .6 .1 .6-.1 .6 .8 .6-.6 .6-.7 .6 .5 .6-.1 .6 .5 .6 0 .6-.7 .6 .2 .6-1 .6-.6 .6-.8 .6-1.5 .6-4.9 .6-11.5 .6-19.5 .6-20.8 .2-1.8 .4 6.4 .6 22.4 .6 17.3 .6 9.2 .6 3.6 .6 1.2 .6 .9 .6 1.1 .6-.2 .6 .4 .6 .5 .6 .2 .6-.5 .6-.2 .6 .2 .6 .2 .6-.8 .6-.7 .6-.6 .6-.8 .1 .3 .5 0 .6 1.4 .6 1.4 .6-.1 .6 0 .6 .2 .6 .5 .6 .2 .6-.3 .6-.2 .6 .1 .6-.1 .6 .1 .6 .6 .6 .1 .6 0 .6 .3 .6-.3 .6-.4 .6-.5 .6 .5 .6-1.1 .6 .8 .6 .4 .6 .1 .6 .7 .6-1 .6 .3 .6 .1 .6-.2 .6-1.5 .6 1.5 .6 0 .6 .2 .6-.6 .6-.7 .6 1.5 .6-.4 .6-.5 .6-.4 .6 .1 .6 .1 .6-.2 .6-1.4 .6-2.7 .6-3.7 .3-.6 .3 .4 .6 4.4 .6 1.6 .6 1.7 .6 .5 .6 0 .6 .1 .6-.3 .6 .8 .6-.5 .6 .8 .6-1.1 .6 0 .6 .5 .6-.2 .6 .6 .6-.2 .6-.5 .6 1 .6-1.3 .6 .4 .6-.2 .6-.9 .6-.1 .6-1.3 .6-3.6 .6-5 .6-4.8 .1 .7 .5 2.4 .6 5.5 .6 4 .6 1.7 .6 1.2 .6 1 .6-.7 .6-.2 .6 .7 .6-.1 .6 .3 .6-.2 .6-.2 .6-.2 .6 .2 .6 .1 .6 .1 .6 .2 .6-.3 .6 .3 .6 .1 .6 .1 .6 .4 .6-.6 .6-.3 .6 .3 .6 .3 .6 .1 .6-.6 .6 .4 .6-1.3 .6 .7 .6 .8 .6 .2 .6-.7 .6-.1 .6 .2 .6-.7 .6 .6 .6-.6 .6 .9 .6-.5 .6 1.1 .6-.4 .6-.8 .6 .2 .6 .8 .6-.3 .6-.6 .6 .7 .6 .1 .6-.9 .6 .1 .6 .2 .6-.5 .6 .8 .6-.3 .6-.2 .6 .3 .6 0 .6 .1 .6-.4 .6 .5 .6-.2 .6-.8 .6-.3 .6 .6 .6 .5 .6 .4 .6-1 .6 0 .6 .2 .6-.3 .6-.4 .6 .3 .6-2.3 .6-3.2 .6-3.3 .4-.7 .2-.1 .6 3.5 .6 3.3 .6 1.9 .6 .7 .6 .7 .6-.1 .6-.5 .6 .2 .6-.2 .6 .3 .6 .5 .6-.4 .6-.4 .6 .7 .6 .2 .6-.9 .6 .7 .6-.5 .6 .4 .6 .4 .6-.5 .6-.3 .6 .7 .6-.1 .6 0 .6-.7 .6 .4 .6 .7 .6-.3 .6 .3 .6-.9 .6 .1 .6 1.1 .6-1 .6-.1 .6-.3 .6-.3 .6 .9 .6 .4 .6-1.1 .6 .7 .6-.5 .6 .4 .6-.5 .6-.6 .6-1.5 .6-2.4 .6-2.4 .2-1.5 .4 2.2 .6 2 .6 1.5 .6 1.3 .6-1 .6-3.3 .6-6.2 .6-4.7 .3-.9 .3 1.3 .6 6.9 .6 4.3 .6 3.2 .6 1.3 .6 .7 .6-.3 .6-.1 .6-.3 .6 .1 .6 1.3 .6-.8 .6 1.2 .6-.2 .6-.4 .6-.3 .6-.1 .6-.2 .6 .5 .6-.3 .6 .2 .6-.1 .6-.1 .6 .2 .6-1.2 .6 .4 .6 .4 .6-.5 .6 .7 .6-.1 .6-1.1 .6-.6 .6-3.3 .6-3.8 .6-6.1 .4-1.2 .2 .5 .6 6.1 .6 5.6 .6 1.5 .6 .3 .6-.4 .6-2.3 .6-.7 0-.5 .6 1.2 .6 2.5 .6 1.1 .6 1 .6 .8 .6-.3 .6-.1 .6 .7 .6-1.3 .6 .4 .6-.3 .6 .8 .6 .2 .6 .4 .6-.1 .6-.6 .6 0 .6 .5 .6-.4 .6 .2 .6-.1 .6-.1 .6 0 .6 .2 .6 .3 .6 .1 .6-.5 .6 .4 .6-.3 .6 0 .6 .2 .6-.5 .6 .4 .6-.9 .6 .6 .6-.2 .6 .1 .6-.8 .6 .3 .6 .1 .6-1.9 .6-.7 0 .5 .6-.6 .6 2 .6 .4 .6 .2 .6-.3 .6 1.2 .6-.8 .6 .1 .6 .5 .6-.8 .6-.8 .6-.1 .6-1 .6 .8 .6-1.7 .6-2 .6-7.2 .6-9.6 .6-8.5 .1-.1 .5 5.2 .6 10.2 .6 6.9 .6 3.5 .6-1.3 .6-2.9 .6-.8 0 .8 .6 2.7 .6 2.6 .6 1.7 .6 .4 .6 1.1 .6 0 .6-.4 .6-.5 .6-1 .6-.9 .6-4.8 .6-3 .2 0 .4 .4 .6 5.1 .6 2.4 .6 1.8 .6 .4 .6 .7 .6 .9 .6-.5 .6-.6 .6 .9 .6-.8 .6 .1 .6 .7 .6-.2 .6 .4 .6 .5 .6 .1 .6-.6 .6-.6 .6 .7 .6-.3 .6-.8 .6 .6 .6 0 .6 .3 .6-.4 .6 .4 .6-.6 .6 .5 .6 .3 .6-.9 .6 .1 .6 .1 .6 .4 .6-.6 .6 .7 .6-.5 .6 .4 .6 .4 .6-.4 .6-.4 .6-.5 .6 1.4 .6-.5 .6 0 .6-.3 .6 .3 .6-.4 .6 .1 .6-.5 .6 .3 .6 .1 .6 .2 .6-.2 .6 .5 .6-.7 .6 .8 .6-.6 .6-.5 .6 .6 .6-.6 .6 .7 .6 0 .6-1 .6 .9 .6 .1 .6 .5 .6 .2 .6-1.2 .6 .5 .6 .1 .6-.9 .6 .6 .6 .5 .6 .3 .6-.3 .6 .2 .6-1.1 .6 1.2 .6-.3 .6 .6 .6-.2 .6-.5 .6-.3 .6 .2 .6 0 .6-.2 .6 .6 .6-.8 .6 .6 .6-.4 .6 .2 .6 .2 .6-.3 .6 .4 .6-.5 .6-1.1 .6-1.5 .6-.2 0 .3 .6 .1 .6 1 .6 1.1 .6 .5 .6 .1 .6 .1 .6 .5 .6-.9 .6 .2 .6 0 .6-.6 .6 1.3 .6-.2 .6 .3 .6-1.1 .6-.2 .6 0 .6 .4 .6-.2 .6 0 .6-.8 .6 .5 .6-.6 .6-1 .5 .1 .1-.4 .6 .1 .6 .9 .6 .7 .6 .5 .6 .5 .6-.3 .6 .6 .6-.1 .6-.8 .6 .7 .6 .2 .6-.4 .6 .3 .6-.9 .6 .3 .6-.4 .6-.9 .6-.6 .2 1 .4-.3 .6 1.1 .6-.7 .6 .7 .6 .5 .6-.1 .6-.1 .6-.2 .6 .5 .6-1 .6 .7 .6-.3 .6 .2 .6 .4 .6-.6 .6-.1 .6 0 .6 .7 .6-.3 .6 .3 .6-.2 .6-.4 .6 .1 .6 .5 .6 0 .6 .2 .6-.4 .6-.2 .6-.1 .6-.1 .6 1.6 .6-1.1 .6 .3 .6-.2 .6-.5 .6 .6 .6-.8 .6 0 .6 .8 .6-.5 .6 .7 .6-.4 .6-.9 .6 1.3 .6-.7 .6 .7 .6 .1 .6-.2 .6-.4 .6-.8 .6 .9 .6 0 .6-.3 .6-.2 .6-.2" stroke="#ff0000" stroke-width="1.7" fill="none" stroke-linejoin="round"/>
<path d="M52 939.9l.6-.2 .6-.1 .6 0 .6-.1 .6 .2 .6-.2 .6 .5 .6-.1 .6-.2 .6 .1 .6-.4 .6-.1 .6 .5 .6 0 .6-.4 .6-.1 .6 .4 .6 .1 .6-.3 .6 .4 .6 .1 .6-.2 .6 .2 .6-.1 .6-.2 .6 .1 .6-.4 .6 .2 .6 .5 .6-.4 .6 .2 .6-.3 .6-.2 .6 .3 .6-.2 .6-.2 .6 .2 .6 .2 .6-.2 .6 0 .6 .2 .6 0 .6-.1 .6-.1 .6-.4 .6-.1 .6 .3 .6-.8 .6-2.7 .6-2.8 .6-2.6 .1-.1 .5 1.3 .6 3.4 .6 1.9 .6 1.3 .6 .5 .6 .5 .6 .1 .6 .3 .6 0 .6 .3 .6 .1 .6-.6 .6 .1 .6-.2 .6 .5 .6-.4 .6 .1 .6 0 .6 .4 .6 .5 .6-.5 .6-.3 .6 .2 .6 0 .6-.2 .6 .2 .6 .1 .6 .1 .6-.1 .6-.3 .6 .3 .6-.4 .6-.2 .6 .4 .6 .2 .6 .1 .6-.4 .6 .3 .6-.4 .6 .3 .6-.1 .6 .3 .6 .3 .6-.1 .6-.3 .6-.5 .6 .4 .6-.2 .6-.1 .6 .2 .6 .1 .6-.3 .6 .2 .6-.1 .6 .1 .6 .1 .6 .2 .6 .1 .6-.3 .6 .1 .6 .3 .6-.2 .6-.3 .6 0 .6 .1 .6-.1 .6 .3 .6-1 .6 .8 .6-.7 .6-.8 .6-1.3 .6-1.7 .4-.3 .2 .2 .6 .5 .6 1.6 .6 1.1 .6 .8 .6 .5 .6-.1 .6-.2 .6 .5 .6-.2 .6-.2 .6 0 .6 0 .6-.3 .6 .5 .6-.2 .6 .5 .6-.6 .6 .1 .6-.5 .6 .5 .6 0 .6 .1 .6-.2 .6 .3 .6-.4 .6-.2 .6-.3 .6-.2 .6 .2 .6-.4 .6-.1 .6-.2 .6-1.1 .6-2.8 .6-6.3 .6-10.4 .6-10.9 .2-.9 .4 2.7 .6 12.3 .6 9.4 .6 4.9 .6 2.5 .6 .4 .6 .3 .6 .4 .6 .2 .6 .4 .6 .1 .6 .2 .6-.5 .6 .1 .6-.4 .6 .5 .6 .1 .6 .2 .6 .2 .6-.3 .6-.3 .6 .1 .6-.6 .6 .3 .6-1.1 .6-.1 .6-1.8 .6-4.7 .6-8.8 .6-11.3 .4-2.9 .2 .8 .6 10.4 .6 9.9 .6 5.6 .6 2 .6 .6 .6 .9 .6 0 .6 .6 .6-.3 .6 .8 .6-.2 .6 0 .6 .3 .6-.3 .6 .6 .6-.4 .6 .4 .6-.5 .6 .4 .6-.3 .6 .2 .6-.4 .6 .4 .6-.5 .6 .6 .6 0 .6 .3 .6-.3 .6 .1 .6 0 .6-.4 .6 0 .6 .2 .6 0 .6 .1 .6 .1 .6-.7 .6 .1 .6 .6 .6-.2 .6 .2 .6-.3 .6 0 .6 0 .6-.3 .6 .2 .6-.3 .6 .6 .6 .2 .6-.5 .6 .3 .6 .1 .6-.2 .6-.3 .6-.2 .6 .3 .6 .4 .6-.3 .6-.3 .6 0 .6-.7 .6-1.6 .6-2.9 .6-2.5 .3-.9 .3 .8 .6 2.6 .6 3 .6 1.6 .6 .4 .6 0 .6 .3 .6-.4 .6 .9 .6-.5 .6 .7 .6 0 .6-.4 .6-.4 .6 .5 .6-.1 .6-.1 .6 .4 .6-.2 .6-.6 .6 .1 .6 .4 .6 .2 .6-.1 .6-.8 .6-1.6 .6-1.8 .6-1.9 .1-.2 .5 1.1 .6 2.3 .6 1.4 .6 .8 .6 .1 .6 .8 .6-.1 .6-.1 .6-1 .6 .6 .6 .5 .6-.5 .6 0 .6 .1 .6 0 .6-.1 .6 .2 .6 .4 .6-.1 .6-.1 .6 0 .6 .1 .6 .4 .6-.7 .6-.2 .6 .1 .6 .3 .6-.2 .6-.4 .6 .7 .6 .1 .6-.2 .6 .3 .6 0 .6-.2 .6 0 .6-.4 .6 .2 .6-.2 .6 .4 .6 .1 .6 .1 .6-.4 .6-.2 .6 .2 .6 .3 .6 .1 .6-.2 .6-.1 .6 .1 .6 .1 .6-.3 .6-.1 .6 .1 .6-.1 .6 .5 .6-.4 .6-.3 .6-.1 .6 .8 .6-.1 .6-.8 .6 .2 .6 .2 .6 .5 .6 .1 .6-.1 .6-.5 .6 .1 .6 .4 .6-.6 .6-.3 .6-.2 .6 0 .6-1 .6-1.9 .6-3.4 .6-4.4 .4-.6 .2 .5 .6 3.4 .6 4.2 .6 1.9 .6 .7 .6 .5 .6 .4 .6 .4 .6-.4 .6 .3 .6-.4 .6 .2 .6 .4 .6-.3 .6 0 .6-.2 .6 0 .6 .5 .6 .1 .6-.4 .6 0 .6 .2 .6-.2 .6 .4 .6 .2 .6-.5 .6 .3 .6-.1 .6-.1 .6-.1 .6 .4 .6-.1 .6-.6 .6 .3 .6 .2 .6-.2 .6 .3 .6 .1 .6-.3 .6-.2 .6-.3 .6 .3 .6 .3 .6-.4 .6 .4 .6-.2 .6-.1 .6-.1 .6-.6 .6 .5 .6-.5 .6-.3 .6-.3 .6-1.7 .6-4.3 .6-6.6 .6-7 .3-1.1 .3 1.8 .6 7.5 .6 6.4 .6 3.7 .6 1.2 .6 .5 .6 .1 .6 .2 .6 .2 .6 .3 .6 .2 .6 0 .6 .1 .6-.2 .6 .1 .6-.1 .6 0 .6-.2 .6 .6 .6-.1 .6-.1 .6 0 .6 0 .6-.4 .6 .5 .6 .5 .6-.5 .6-.1 .6-.5 .6 .5 .6-.2 .6-.3 .6-1.7 .6-1.5 .6-1.6 .4-.5 .2 .3 .6 1 .6 2.3 .6 1 .6-.2 .6-.8 .6-2 .6-1.2 0-.3 .6 1.6 .6 1.6 .6 1.7 .6 .8 .6-.3 .6-.1 .6 .2 .6 .1 .6-.3 .6 0 .6 0 .6 .7 .6-.2 .6-.5 .6 .1 .6 .1 .6-.2 .6 .5 .6-.2 .6 0 .6-.2 .6 .3 .6 .2 .6 0 .6 .1 .6-.2 .6-.6 .6 .6 .6 0 .6 .1 .6-.3 .6 .1 .6-.2 .6 .3 .6 0 .6 0 .6 .3 .6-.3 .6-.3 .6 .2 .6 .2 .6 .2 .6-.1 .6-.6 .6-.5 .6 .4 .6 .7 .6-.1 .6-.5 .6 .4 .6 .4 .6-.6 .6 .1 .6 0 .6-.4 .6 0 .6-.6 .6-1.9 .6-3.5 .6-5.8 .6-4.2 .1-.3 .5 2.5 .6 6.4 .6 4.1 .6 1.4 .6 1 .6 .7 .6 .3 .6-.3 .6-.3 .6 .1 .6 .5 .6-.5 .6 .2 .6-.1 .6-.4 .6-1.6 .6-3 .6-4.7 .6-4.7 .2 .1 .4 1.7 .6 5.4 .6 4 .6 2.2 .6 .8 .6 .4 .6 0 .6 .2 .6-.2 .6 0 .6 .5 .6-.1 .6-.1 .6 .1 .6 .6 .6-.4 .6-.1 .6 .1 .6-.5 .6 .5 .6 .6 .6-.8 .6-.2 .6 .3 .6 0 .6 .3 .6-.1 .6-.2 .6-.3 .6 0 .6 .7 .6-.3 .6 .1 .6-.6 .6 .9 .6-.2 .6-.2 .6 .1 .6 .1 .6 .2 .6-.6 .6 .8 .6-.4 .6 .2 .6-.1 .6-.3 .6 .1 .6-.1 .6 .3 .6-.9 .6 .8 .6-.5 .6-.1 .6 .6 .6-.2 .6-.1 .6-.1 .6-.1 .6 .2 .6 .1 .6 .1 .6-.3 .6 .3 .6-.6 .6-.1 .6 .3 .6 .2 .6 0 .6 .1 .6-.3 .6 .1 .6-.3 .6 .1 .6 .5 .6-.2 .6-.2 .6 .5 .6 .2 .6-.5 .6-.5 .6 .6 .6-.1 .6-.3 .6 .4 .6 0 .6 .2 .6-.2 .6-.2 .6-.5 .6 .5 .6-.4 .6 .2 .6 .3 .6-.3 .6 0 .6-.2 .6-1.9 .6-2.1 .6-1.8 0 .3 .6 1.4 .6 1.7 .6 2 .6 .4 .6-.1 .6 .2 .6 .7 .6-.8 .6 .5 .6-.1 .6-.1 .6 .4 .6 .2 .6-.6 .6 0 .6 .3 .6 .2 .6-.2 .6 .2 .6-.5 .6 .4 .6-.5 .6-.5 .6-.5 .5-.5 .1 0 .6 .4 .6 1 .6 .1 .6-.1 .6-.1 .6 .1 .6 .4 .6 0 .6-.1 .6-.2 .6 0 .6 .6 .6 0 .6-.6 .6-.2 .6 0 .6-1.4 .6-1.1 .2-.2 .4 .8 .6 .6 .6 1.4 .6-.2 .6 .1 .6 .6 .6-.1 .6 .1 .6 .1 .6 0 .6 .2 .6-.4 .6 .1 .6-.5 .6 .4 .6 .2 .6-.3 .6 0 .6 .4 .6-.1 .6-.5 .6 .5 .6 .1 .6-.4 .6-.3 .6-.8 .6-.2 .3-.1 .3 .1 .6 1 .6 .4 .6-.1 .6-.1 .6 .1 .6 .9 .6-.9 .6-.1 .6-.1 .6-.1 .6 .1 .6 .1 .6 .4 .6 .2 .6-.3 .6-.1 .6 .2 .6-.4 .6 .2 .6-.2 .6 .5 .6-.4 .6 .1 .6-.2 .6 .2 .6-.1 .6-.1" stroke="#0000ff" stroke-width="1.7" fill="none" stroke-linejoin="round"/>
<path d="M52 897l.6 .2 .6-.1 .6-.6 .6 .8 .6-.3 .6-.8 .6 .8 .6 .3 .6-.6 .6 .2 .6-.5 .6 .2 .6 .6 .6 .2 .6-.5 .6 .5 .6-.8 .6 .4 .6 .1 .6-.1 .6-.7 .6 .2 .6 .2 .6 .2 .6-.2 .6 .4 .6-.5 .6 .7 .6-.4 .6 .4 .6-.3 .6 0 .6-.5 .6 .3 .6 .3 .6-.6 .6 .7 .6-.7 .6-.3 .6 .7 .6 0 .6-.1 .6-.4 .6 .3 .6-.6 .6-.6 .6-.4 .6-1.9 .6-3.2 .6-6.6 .6-5.3 .1 0 .5 2.6 .6 7 .6 4.8 .6 2.6 .6 .4 .6 .5 .6 0 .6 .4 .6-.1 .6-.3 .6 .8 .6-.2 .6 0 .6 .1 .6 .3 .6-.2 .6 .1 .6-.1 .6 .1 .6 .1 .6 .1 .6-.2 .6-.2 .6-.1 .6 .1 .6 .3 .6 0 .6-.4 .6 .7 .6-.3 .6 .6 .6-.6 .6 .4 .6-.4 .6 .3 .6-.2 .6 .1 .6-.4 .6-.4 .6 .3 .6 .3 .6 0 .6-.1 .6 0 .6 .6 .6-.7 .6-.3 .6 .5 .6-.2 .6 .3 .6-.3 .6 0 .6 .5 .6-.1 .6-.3 .6-.2 .6 .4 .6-.3 .6 .3 .6-.1 .6-.3 .6 .4 .6-.3 .6 .4 .6-.4 .6-.2 .6 .2 .6-.1 .6-.2 .6-.7 .6-.9 .6-2.1 .6-2.3 .4-.4 .2-.2 .6 1.8 .6 2.3 .6 1.9 .6 1 .6-.5 .6 0 .6 .6 .6 .1 .6-.3 .6-.1 .6 .5 .6-.3 .6-.2 .6-.1 .6-.2 .6 .4 .6 .2 .6-.6 .6 .2 .6 .1 .6-.2 .6-.1 .6-.6 .6 0 .6 .7 .6-.1 .6-.9 .6-.2 .6-.4 .6-.2 .6-.6 .6-.9 .6-1.7 .6-5.2 .6-11.2 .6-20.2 .6-20.4 .2-2.1 .4 6.5 .6 22.4 .6 17.8 .6 9.5 .6 2.9 .6 1.9 .6 .7 .6 .9 .6 .2 .6 .6 .6 .5 .6-.4 .6 .3 .6-.2 .6 .1 .6-.3 .6 .3 .6 .1 .6-.6 .6 .3 .6-.3 .6-.1 .6-.4 .6-.5 .6 0 .6-2 .6-2.8 .6-7.3 .6-14.6 .6-18 .4-4.2 .2 1.4 .6 16.2 .6 16.5 .6 8.8 .6 4 .6 1.3 .6 .8 .6 .7 .6-.1 .6 .1 .6 .5 .6 .2 .6 .3 .6-.6 .6 .2 .6 .3 .6 0 .6 0 .6 .4 .6 .1 .6 .5 .6-.5 .6-.3 .6 .6 .6-.3 .6-.3 .6 .5 .6-.1 .6 0 .6-.1 .6 .5 .6-.1 .6 0 .6-.3 .6-.6 .6 .5 .6 .4 .6-.1 .6-.3 .6 .5 .6-.5 .6 .7 .6-.5 .6-.1 .6-.4 .6 .8 .6-.2 .6-.8 .6 .6 .6 .3 .6-.6 .6 .2 .6 0 .6-.4 .6 .3 .6 .2 .6-.5 .6 .4 .6-.3 .6-.1 .6-.5 .6-1 .6-2.9 .6-4.9 .6-5.5 .3-.7 .3 1.4 .6 5.2 .6 5 .6 2.1 .6 .8 .6 1 .6 .4 .6-.6 .6 .5 .6 .2 .6-.2 .6 .1 .6-.2 .6 .3 .6 0 .6-.3 .6-.1 .6 .3 .6 .2 .6-.6 .6 .5 .6 .1 .6-.3 .6-.1 .6-.5 .6-1 .6-2.2 .6-2 .1 .3 .5 .8 .6 2.2 .6 1.6 .6 .8 .6-.4 .6 .3 .6 0 .6 .4 .6 0 .6 .5 .6-.6 .6 0 .6 0 .6 .2 .6 .1 .6-.6 .6 .2 .6 .3 .6-.3 .6 .2 .6-.2 .6 .4 .6-.2 .6 .4 .6-.4 .6 .1 .6-.5 .6 .2 .6 .4 .6-.2 .6-.2 .6 .2 .6-.3 .6 .5 .6-.3 .6 .1 .6 .3 .6-.1 .6-.2 .6 0 .6 .2 .6-.1 .6 .3 .6 0 .6-.1 .6 0 .6 0 .6 0 .6-.4 .6 .1 .6 0 .6-.3 .6 .6 .6 0 .6 0 .6-.2 .6 .4 .6-.2 .6 .3 .6-.3 .6-.2 .6-.1 .6-.4 .6 .7 .6-.2 .6-.3 .6 0 .6 .1 .6 .1 .6-.6 .6 .1 .6-.2 .6-.6 .6 0 .6-1 .6-2.5 .6-5.9 .6-6.9 .4-1.9 .2 .8 .6 6.1 .6 6.2 .6 3.4 .6 1.3 .6 .8 .6 .4 .6 0 .6 .2 .6 0 .6-.2 .6 .2 .6 .3 .6 .3 .6-.7 .6 .4 .6 .1 .6-.2 .6-.3 .6 .2 .6 .1 .6 .4 .6 .1 .6-.2 .6-.5 .6 .2 .6-.1 .6 .1 .6-.1 .6 .1 .6-.2 .6 .5 .6-.2 .6-.6 .6 .4 .6-.1 .6 .5 .6-.5 .6 .8 .6-.2 .6-.7 .6 0 .6 .4 .6-.2 .6 .5 .6-.4 .6-.2 .6 .2 .6-.1 .6-.2 .6-.6 .6-.6 .6-.7 .6-1.6 .6-4.6 .6-8.5 .6-9.4 .3-2 .3 2.9 .6 9.5 .6 8.1 .6 4.2 .6 1.4 .6 .7 .6 .3 .6 .8 .6 0 .6 .4 .6-.2 .6-.1 .6 0 .6 0 .6 .5 .6-.4 .6-.2 .6 .8 .6 .1 .6-.5 .6 .3 .6-.2 .6 .1 .6 .1 .6-.5 .6-.3 .6 .2 .6 .4 .6-.5 .6 .1 .6-.2 .6-.8 .6-.8 .6-2 .6-3 .4-.3 .2-.6 .6 2.7 .6 2.5 .6 1.4 .6-.5 .6-1.3 .6-1.6 .6-1.7 0-.3 .6 2.1 .6 2.1 .6 1.9 .6 .2 .6 .5 .6 .1 .6 0 .6 .1 .6-.1 .6-.2 .6 0 .6-.1 .6 .4 .6 0 .6 .1 .6-.1 .6-.6 .6 .7 .6-.2 .6 .1 .6 .2 .6-.3 .6 0 .6 0 .6 .2 .6-.2 .6 .4 .6-.4 .6-.3 .6 .6 .6-.5 .6 .4 .6-.2 .6-.5 .6 .3 .6 .5 .6-.4 .6-.4 .6 .2 .6 .2 .6 .2 .6-.1 .6-.3 .6 .3 .6 .1 .6-.5 .6-.1 .6 .2 .6 .1 .6 .4 .6-.3 .6-.3 .6-.4 .6 .1 .6-.3 .6-.5 .6-.5 .6-2.2 .6-6 .6-8.5 .6-6.2 .1-.8 .5 4.2 .6 9.1 .6 6.2 .6 3.6 .6 .4 .6 .9 .6-.1 .6 .1 .6 .5 .6-.4 .6 .2 .6 0 .6 0 .6-.5 .6 .2 .6-1.2 .6-3.6 .6-5.1 .6-5.5 .2-.7 .4 2.5 .6 6.3 .6 4.8 .6 1.6 .6 1.1 .6 .1 .6 .1 .6 .3 .6 .4 .6 .2 .6-.3 .6 .1 .6 .3 .6-.4 .6 .1 .6-.1 .6 .2 .6-.1 .6 0 .6 .2 .6 .1 .6 0 .6 .4 .6-.4 .6-.3 .6-.2 .6 .1 .6 0 .6 .3 .6 .2 .6 .2 .6-.4 .6 0 .6 .4 .6-.1 .6-.3 .6 .1 .6 .3 .6-.4 .6 .4 .6-.5 .6 .4 .6-.4 .6 .4 .6-.2 .6-.5 .6 .9 .6 0 .6-.8 .6 .3 .6 .2 .6-.2 .6 0 .6 .4 .6-.1 .6-.4 .6 0 .6 .4 .6 .2 .6-.2 .6-.3 .6 0 .6 .1 .6-.2 .6 .2 .6 .1 .6-.5 .6-.5 .6-.7 .3 0 .3 .2 .6 .1 .6 .9 .6 .7 .6-.5 .6 .2 .6-.1 .6 .1 .6-.1 .6 0 .6-.2 .6 .1 .6-.5 .6 .1 .6 .9 .6-.1 .6 .2 .6-.5 .6-.5 .6 .3 .6 .3 .6 .3 .6-.9 .6 0 .6 .1 .6-.1 .6-.9 .6-1.5 .6-1.8 .6-1.4 0-.1 .6 .9 .6 2.6 .6 1.7 .6 .4 .6 .6 .6-.2 .6 .3 .6 .2 .6 .2 .6-.9 .6 .6 .6 .3 .6-.5 .6 0 .6-.8 .6 .7 .6-.2 .6 .6 .6-.6 .6 .4 .6-.2 .6-.3 .6-.7 .6 .3 .5-.8 .1 .4 .6 .6 .6 .4 .6-.1 .6 0 .6 .6 .6-.2 .6-.3 .6 .3 .6-.4 .6 .1 .6 .3 .6-.4 .6 .6 .6-.8 .6 0 .6-.6 .6-1.6 .6-.7 .2-.1 .4 .5 .6 1.5 .6 .7 .6 .6 .6 .3 .6-.3 .6 .2 .6-.1 .6 .3 .6-.2 .6-.1 .6 .2 .6 .5 .6-.4 .6-.3 .6 .3 .6 .3 .6-.3 .6 0 .6 .4 .6-.4 .6-.3 .6-.1 .6 .2 .6-.8 .6-.1 .6-.1 .3-.5 .3 .2 .6 .6 .6 .6 .6 .3 .6-.3 .6 .6 .6-.4 .6 .3 .6 .1 .6-.5 .6-.2 .6 .7 .6 .1 .6-.6 .6 .2 .6-.2 .6-.4 .6 .5 .6 .6 .6-.3 .6 .1 .6-.1 .6-.4 .6 .4 .6-.1 .6 .3 .6-.5 .6 0" stroke="#ff00ff" stroke-width="1.7" fill="none" stroke-linejoin="round"/>
<text x="417.6" y="880.5" font-size="17.0" font-family="'Liberation Serif','Times New Roman',serif" font-weight="bold">7 <tspan dy="-7.2" font-size="10.5">o</tspan><tspan dy="7.2">C/min</tspan></text>
<text x="417.6" y="924.9" font-size="17.0" font-family="'Liberation Serif','Times New Roman',serif" font-weight="bold">5 <tspan dy="-7.2" font-size="10.5">o</tspan><tspan dy="7.2">C/min</tspan></text>
<text x="417.6" y="995.9" font-size="17.0" font-family="'Liberation Serif','Times New Roman',serif" font-weight="bold">3 <tspan dy="-7.2" font-size="10.5">o</tspan><tspan dy="7.2">C/min</tspan></text>
<text x="417.6" y="1072.4" font-size="17.0" font-family="'Liberation Serif','Times New Roman',serif" font-weight="bold">1 <tspan dy="-7.2" font-size="10.5">o</tspan><tspan dy="7.2">C/min</tspan></text>
<text x="31.5" y="980.5" font-size="17" font-family="'Liberation Serif','Times New Roman',serif" font-weight="bold" text-anchor="middle" fill="#000" transform="rotate(-90 31.5 980.5)">Intensity (a.u.)</text>
<text x="274.2" y="1193" font-size="17.6" font-family="'Liberation Serif','Times New Roman',serif" font-weight="bold" text-anchor="middle">2&#952; <tspan font-weight="normal">(&#176;)</tspan></text>
<text x="73.1" y="850" font-size="23.3" font-family="'Liberation Serif','Times New Roman',serif" font-weight="bold" fill="#000">(g)</text>
<rect x="588" y="817" width="404.5" height="326.3" fill="none" stroke="#2b2b2b" stroke-width="1.3"/>
<path d="M790.2 817V1143.3M588 980.1H992.5" stroke="#2b2b2b" stroke-width="1.1" fill="none"/>
<path d="M588 1143.3v6.5M638.6 1143.3v6.5M689.1 1143.3v6.5M739.7 1143.3v6.5M790.2 1143.3v6.5M840.8 1143.3v6.5M891.4 1143.3v6.5M941.9 1143.3v6.5M992.5 1143.3v6.5M613.3 1143.3v3.5M663.8 1143.3v3.5M714.4 1143.3v3.5M765 1143.3v3.5M815.5 1143.3v3.5M866.1 1143.3v3.5M916.7 1143.3v3.5M967.2 1143.3v3.5" stroke="#2b2b2b" stroke-width="1.3" fill="none"/>
<path d="M588 1110.7h-6.5M588 1045.4h-6.5M588 980.1h-6.5M588 914.9h-6.5M588 849.6h-6.5M588 1143.3h-3.5M588 1078h-3.5M588 1012.8h-3.5M588 947.5h-3.5M588 882.3h-3.5M588 817h-3.5" stroke="#2b2b2b" stroke-width="1.3" fill="none"/>
<text x="588" y="1164.8" font-size="13.6" font-family="'Liberation Serif','Times New Roman',serif" text-anchor="middle" fill="#222222">-800,000</text>
<text x="638.6" y="1164.8" font-size="13.6" font-family="'Liberation Serif','Times New Roman',serif" text-anchor="middle" fill="#222222">-600,000</text>
<text x="689.1" y="1164.8" font-size="13.6" font-family="'Liberation Serif','Times New Roman',serif" text-anchor="middle" fill="#222222">-400,000</text>
<text x="739.7" y="1164.8" font-size="13.6" font-family="'Liberation Serif','Times New Roman',serif" text-anchor="middle" fill="#222222">-200,000</text>
<text x="790.2" y="1164.8" font-size="13.6" font-family="'Liberation Serif','Times New Roman',serif" text-anchor="middle" fill="#222222">0</text>
<text x="840.8" y="1164.8" font-size="13.6" font-family="'Liberation Serif','Times New Roman',serif" text-anchor="middle" fill="#222222">200,000</text>
<text x="891.4" y="1164.8" font-size="13.6" font-family="'Liberation Serif','Times New Roman',serif" text-anchor="middle" fill="#222222">400,000</text>
<text x="941.9" y="1164.8" font-size="13.6" font-family="'Liberation Serif','Times New Roman',serif" text-anchor="middle" fill="#222222">600,000</text>
<text x="992.5" y="1164.8" font-size="13.6" font-family="'Liberation Serif','Times New Roman',serif" text-anchor="middle" fill="#222222">800,000</text>
<text x="577" y="1116.1" font-size="13.6" font-family="'Liberation Serif','Times New Roman',serif" text-anchor="end" fill="#222222">-40</text>
<text x="577" y="1050.8" font-size="13.6" font-family="'Liberation Serif','Times New Roman',serif" text-anchor="end" fill="#222222">-20</text>
<text x="577" y="985.5" font-size="13.6" font-family="'Liberation Serif','Times New Roman',serif" text-anchor="end" fill="#222222">0</text>
<text x="577" y="920.3" font-size="13.6" font-family="'Liberation Serif','Times New Roman',serif" text-anchor="end" fill="#222222">20</text>
<text x="577" y="855" font-size="13.6" font-family="'Liberation Serif','Times New Roman',serif" text-anchor="end" fill="#222222">40</text>
<path d="M588 1061.3l2.5 0 2.5-.1 2.4 0 2.5-.1 2.4-.1 2.4 0 2.4-.1 2.4 0 2.4-.1 2.4-.1 2.4 0 2.3-.1 2.4-.1 2.3-.1 2.3 0 2.3-.1 2.3-.1 2.3-.1 2.3 0 2.2-.1 2.3-.1 2.2-.1 2.2-.1 2.2-.1 2.2-.1 2.2-.1 2.2-.1 2.2-.1 2.1-.1 2.1-.1 2.2-.1 2.1-.1 2.1-.1 2-.1 2.1-.1 2.1-.1 2-.1 2-.2 2.1-.1 2-.1 1.9-.2 2-.1 2-.1 1.9-.2 2-.1 1.9-.2 1.9-.1 1.9-.2 1.9-.2 1.8-.1 1.9-.2 1.8-.2 1.9-.2 1.8-.2 1.8-.2 1.7-.2 1.8-.2 1.8-.2 1.7-.2 1.7-.2 1.7-.3 1.7-.2 1.7-.3 1.7-.2 1.6-.3 1.7-.3 1.6-.3 1.6-.3 1.6-.3 1.6-.3 1.5-.4 1.6-.3 1.5-.4 1.5-.3 1.5-.4 1.5-.4 1.4-.5 1.5-.4 1.4-.5 1.4-.4 1.4-.6 1.4-.5 1.3-.5 1.4-.6 1.3-.6 1.3-.6 1.3-.7 1.3-.7 1.2-.7 1.3-.8 1.2-.8 1.2-.8 1.2-.9 1.1-.9 1.2-1 1.1-1 1.1-1.1 1.1-1.1 1-1.2 1.1-1.3 1-1.3 1-1.4 1-1.5 .9-1.5 1-1.7 .9-1.7 .9-1.8 .9-2 .8-2 .8-2.2 .8-2.2 .8-2.4 .7-2.6 .8-2.6 .7-2.8 .6-2.9 .7-3 .6-3.2 .6-3.3 .5-3.3 .5-3.5 .5-3.4 .5-3 .4-2.6 .3-2.2 .4-1.8 .3-1.5 .2-1.2 .2-.8 0-.4 .1-.4 .2-.8 .2-1.1 .3-1.2 .4-1.4 .3-1.5 .4-1.6 .5-1.7 .5-1.6 .5-1.7 .5-1.7 .6-1.7 .6-1.6 .7-1.6 .6-1.6 .7-1.5 .8-1.5 .7-1.4 .8-1.4 .8-1.4 .8-1.3 .8-1.2 .9-1.2 .9-1.2 .9-1.1 1-1 .9-1.1 1-.9 1-1 1-.9 1.1-.9 1-.8 1.1-.8 1.1-.8 1.1-.7 1.2-.7 1.1-.7 1.2-.7 1.2-.6 1.2-.6 1.3-.6 1.2-.6 1.3-.5 1.3-.6 1.3-.5 1.3-.5 1.4-.5 1.3-.4 1.4-.5 1.4-.4 1.4-.4 1.4-.4 1.5-.4 1.4-.4 1.5-.3 1.5-.4 1.5-.3 1.5-.4 1.6-.3 1.5-.3 1.6-.3 1.6-.3 1.6-.3 1.6-.3 1.7-.2 1.6-.3 1.7-.2 1.7-.3 1.7-.2 1.7-.2 1.7-.3 1.7-.2 1.8-.2 1.8-.2 1.7-.2 1.8-.2 1.8-.2 1.9-.1 1.8-.2 1.9-.2 1.8-.2 1.9-.1 1.9-.2 1.9-.1 1.9-.2 2-.1 1.9-.2 2-.1 2-.1 1.9-.2 2-.1 2.1-.1 2-.1 2-.2 2.1-.1 2.1-.1 2-.1 2.1-.1 2.1-.1 2.2-.1 2.1-.1 2.1-.1 2.2-.1 2.2-.1 2.2-.1 2.2-.1 2.2-.1 2.2-.1 2.2 0 2.3-.1 2.2-.1 2.3-.1 2.3-.1 2.3 0 2.3-.1 2.3-.1 2.3-.1 2.4 0 2.3-.1 2.4-.1 2.4 0 2.4-.1 2.4 0 2.4-.1 2.4-.1 2.4 0 2.5-.1 2.4 0 2.5-.1 2.5-.1" stroke="#000000" stroke-width="1.3" fill="none"/>
<path d="M588 1061.3l2.5 0 2.5-.1 2.4 0 2.5-.1 2.4-.1 2.4 0 2.4-.1 2.4 0 2.4-.1 2.4-.1 2.4 0 2.3-.1 2.4-.1 2.3-.1 2.3 0 2.3-.1 2.3-.1 2.3-.1 2.3 0 2.2-.1 2.3-.1 2.2-.1 2.2-.1 2.2-.1 2.2-.1 2.2-.1 2.2-.1 2.2-.1 2.1-.1 2.1-.1 2.2-.1 2.1-.1 2.1-.1 2-.1 2.1-.1 2.1-.1 2-.1 2-.2 2.1-.1 2-.1 1.9-.2 2-.1 2-.1 1.9-.2 2-.1 1.9-.2 1.9-.1 1.9-.2 1.9-.2 1.8-.1 1.9-.2 1.8-.2 1.9-.2 1.8-.2 1.8-.2 1.7-.2 1.8-.2 1.8-.2 1.7-.2 1.7-.2 1.7-.3 1.7-.2 1.7-.3 1.7-.2 1.6-.3 1.7-.2 1.6-.3 1.6-.3 1.6-.3 1.6-.3 1.5-.3 1.6-.4 1.5-.3 1.5-.4 1.5-.3 1.5-.4 1.4-.4 1.5-.4 1.4-.4 1.4-.4 1.4-.5 1.4-.4 1.3-.5 1.4-.5 1.3-.5 1.3-.5 1.3-.5 1.3-.6 1.2-.6 1.3-.6 1.2-.6 1.2-.7 1.2-.6 1.1-.7 1.2-.8 1.1-.7 1.1-.8 1.1-.8 1-.9 1.1-.9 1-.9 1-1 1-1 .9-1 1-1.1 .9-1.1 .9-1.2 .9-1.2 .8-1.3 .8-1.3 .8-1.4 .8-1.4 .7-1.5 .8-1.5 .7-1.6 .6-1.6 .7-1.6 .6-1.7 .6-1.7 .5-1.7 .5-1.7 .5-1.7 .5-1.7 .4-1.6 .3-1.5 .4-1.5 .3-1.3 .2-1 .2-.9 0-.4 .1-.4 .2-.8 .2-1.2 .3-1.6 .4-1.8 .3-2.3 .4-2.6 .5-3.1 .5-3.4 .5-3.3 .5-3.3 .6-3.3 .6-3 .7-3 .6-2.9 .7-2.7 .8-2.6 .7-2.5 .8-2.3 .8-2.2 .8-2.1 .8-2 .9-1.9 .9-1.8 .9-1.7 1-1.6 .9-1.6 1-1.4 1-1.4 1-1.3 1.1-1.2 1-1.2 1.1-1.1 1.1-1.1 1.1-1 1.2-.9 1.1-.9 1.2-.9 1.2-.8 1.2-.8 1.3-.7 1.2-.7 1.3-.7 1.3-.7 1.3-.6 1.3-.6 1.4-.5 1.3-.6 1.4-.5 1.4-.5 1.4-.4 1.4-.5 1.5-.4 1.4-.4 1.5-.4 1.5-.4 1.5-.4 1.5-.3 1.6-.4 1.5-.3 1.6-.3 1.6-.3 1.6-.3 1.6-.3 1.7-.3 1.6-.2 1.7-.3 1.7-.2 1.7-.3 1.7-.2 1.7-.2 1.7-.3 1.8-.2 1.8-.2 1.7-.2 1.8-.2 1.8-.2 1.9-.1 1.8-.2 1.9-.2 1.8-.2 1.9-.1 1.9-.2 1.9-.1 1.9-.2 2-.1 1.9-.2 2-.1 2-.1 1.9-.2 2-.1 2.1-.1 2-.1 2-.2 2.1-.1 2.1-.1 2-.1 2.1-.1 2.1-.1 2.2-.1 2.1-.1 2.1-.1 2.2-.1 2.2-.1 2.2-.1 2.2-.1 2.2-.1 2.2-.1 2.2 0 2.3-.1 2.2-.1 2.3-.1 2.3-.1 2.3 0 2.3-.1 2.3-.1 2.3-.1 2.4 0 2.3-.1 2.4-.1 2.4 0 2.4-.1 2.4 0 2.4-.1 2.4-.1 2.4 0 2.5-.1 2.4 0 2.5-.1 2.5-.1" stroke="#000000" stroke-width="1.3" fill="none"/>
<path d="M588 1058.2l2.5-.1 2.5 0 2.4-.1 2.5 0 2.4-.1 2.4 0 2.4-.1 2.4-.1 2.4 0 2.4-.1 2.4-.1 2.3 0 2.4-.1 2.3-.1 2.3 0 2.3-.1 2.3-.1 2.3-.1 2.3 0 2.2-.1 2.3-.1 2.2-.1 2.2-.1 2.2 0 2.2-.1 2.2-.1 2.2-.1 2.2-.1 2.1-.1 2.1-.1 2.2-.1 2.1-.1 2.1-.1 2-.1 2.1-.1 2.1-.1 2-.2 2-.1 2.1-.1 2-.1 1.9-.2 2-.1 2-.1 1.9-.2 2-.1 1.9-.2 1.9-.1 1.9-.2 1.9-.1 1.8-.2 1.9-.1 1.8-.2 1.9-.2 1.8-.2 1.8-.2 1.7-.2 1.8-.2 1.8-.2 1.7-.2 1.7-.2 1.7-.2 1.7-.3 1.7-.2 1.7-.3 1.6-.2 1.7-.3 1.6-.3 1.6-.3 1.6-.3 1.6-.3 1.5-.3 1.6-.3 1.5-.4 1.5-.3 1.5-.4 1.5-.4 1.4-.4 1.5-.4 1.4-.5 1.4-.5 1.4-.4 1.4-.5 1.3-.6 1.4-.5 1.3-.6 1.3-.6 1.3-.6 1.3-.7 1.2-.7 1.3-.7 1.2-.8 1.2-.8 1.2-.8 1.1-.9 1.2-1 1.1-.9 1.1-1.1 1.1-1.1 1-1.1 1.1-1.2 1-1.3 1-1.4 1-1.4 .9-1.5 1-1.6 .9-1.6 .9-1.8 .9-1.9 .8-1.9 .8-2.1 .8-2.2 .8-2.3 .7-2.4 .8-2.5 .7-2.7 .6-2.8 .7-2.9 .6-3.1 .6-3.1 .5-3.3 .5-3.3 .5-3.3 .5-2.9 .4-2.4 .3-2.1 .4-1.8 .3-1.4 .2-1.1 .2-.9 0-.3 .1-.4 .2-.8 .2-1 .3-1.2 .4-1.4 .3-1.4 .4-1.5 .5-1.6 .5-1.6 .5-1.6 .5-1.7 .6-1.5 .6-1.6 .7-1.6 .6-1.5 .7-1.5 .8-1.4 .7-1.4 .8-1.3 .8-1.3 .8-1.2 .8-1.2 .9-1.2 .9-1.1 .9-1.1 1-1 .9-1 1-.9 1-.9 1-.9 1.1-.8 1-.8 1.1-.8 1.1-.8 1.1-.7 1.2-.7 1.1-.6 1.2-.7 1.2-.6 1.2-.6 1.3-.5 1.2-.6 1.3-.5 1.3-.5 1.3-.5 1.3-.5 1.4-.4 1.3-.5 1.4-.4 1.4-.4 1.4-.4 1.4-.4 1.5-.4 1.4-.3 1.5-.4 1.5-.3 1.5-.4 1.5-.3 1.6-.3 1.5-.3 1.6-.3 1.6-.3 1.6-.2 1.6-.3 1.7-.3 1.6-.2 1.7-.2 1.7-.3 1.7-.2 1.7-.2 1.7-.2 1.7-.2 1.8-.2 1.8-.2 1.7-.2 1.8-.2 1.8-.2 1.9-.2 1.8-.1 1.9-.2 1.8-.2 1.9-.1 1.9-.2 1.9-.1 1.9-.2 2-.1 1.9-.1 2-.2 2-.1 1.9-.1 2-.2 2.1-.1 2-.1 2-.1 2.1-.1 2.1-.1 2-.1 2.1-.1 2.1-.1 2.2-.1 2.1-.1 2.1-.1 2.2-.1 2.2-.1 2.2-.1 2.2-.1 2.2-.1 2.2 0 2.2-.1 2.3-.1 2.2-.1 2.3-.1 2.3 0 2.3-.1 2.3-.1 2.3 0 2.3-.1 2.4-.1 2.3 0 2.4-.1 2.4-.1 2.4 0 2.4-.1 2.4-.1 2.4 0 2.4-.1 2.5 0 2.4-.1 2.5 0 2.5-.1" stroke="#ff00ff" stroke-width="1.3" fill="none"/>
<path d="M588 1058.2l2.5-.1 2.5 0 2.4-.1 2.5 0 2.4-.1 2.4 0 2.4-.1 2.4-.1 2.4 0 2.4-.1 2.4-.1 2.3 0 2.4-.1 2.3-.1 2.3 0 2.3-.1 2.3-.1 2.3-.1 2.3 0 2.2-.1 2.3-.1 2.2-.1 2.2-.1 2.2 0 2.2-.1 2.2-.1 2.2-.1 2.2-.1 2.1-.1 2.1-.1 2.2-.1 2.1-.1 2.1-.1 2-.1 2.1-.1 2.1-.1 2-.2 2-.1 2.1-.1 2-.1 1.9-.2 2-.1 2-.1 1.9-.2 2-.1 1.9-.2 1.9-.1 1.9-.2 1.9-.1 1.8-.2 1.9-.1 1.8-.2 1.9-.2 1.8-.2 1.8-.2 1.7-.2 1.8-.2 1.8-.2 1.7-.2 1.7-.2 1.7-.2 1.7-.3 1.7-.2 1.7-.2 1.6-.3 1.7-.3 1.6-.2 1.6-.3 1.6-.3 1.6-.3 1.5-.3 1.6-.3 1.5-.3 1.5-.4 1.5-.3 1.5-.4 1.4-.3 1.5-.4 1.4-.4 1.4-.4 1.4-.5 1.4-.4 1.3-.4 1.4-.5 1.3-.5 1.3-.5 1.3-.5 1.3-.6 1.2-.5 1.3-.6 1.2-.6 1.2-.6 1.2-.7 1.1-.6 1.2-.7 1.1-.8 1.1-.7 1.1-.8 1-.8 1.1-.9 1-.9 1-.9 1-1 .9-1 1-1 .9-1.1 .9-1.2 .9-1.1 .8-1.3 .8-1.2 .8-1.3 .8-1.4 .7-1.4 .8-1.5 .7-1.5 .6-1.5 .7-1.6 .6-1.6 .6-1.7 .5-1.6 .5-1.6 .5-1.7 .5-1.6 .4-1.5 .3-1.5 .4-1.4 .3-1.2 .2-1.1 .2-.8 0-.4 .1-.4 .2-.8 .2-1.1 .3-1.5 .4-1.8 .3-2.1 .4-2.6 .5-2.9 .5-3.3 .5-3.2 .5-3.2 .6-3.1 .6-3 .7-2.8 .6-2.8 .7-2.6 .8-2.5 .7-2.3 .8-2.3 .8-2.1 .8-2.1 .8-1.9 .9-1.8 .9-1.7 .9-1.7 1-1.5 .9-1.5 1-1.4 1-1.3 1-1.3 1.1-1.1 1-1.2 1.1-1 1.1-1 1.1-1 1.2-.9 1.1-.9 1.2-.8 1.2-.8 1.2-.8 1.3-.7 1.2-.7 1.3-.6 1.3-.6 1.3-.6 1.3-.6 1.4-.5 1.3-.5 1.4-.5 1.4-.5 1.4-.5 1.4-.4 1.5-.4 1.4-.4 1.5-.4 1.5-.4 1.5-.3 1.5-.4 1.6-.3 1.5-.3 1.6-.3 1.6-.3 1.6-.3 1.6-.3 1.7-.2 1.6-.3 1.7-.2 1.7-.3 1.7-.2 1.7-.2 1.7-.2 1.7-.2 1.8-.2 1.8-.2 1.7-.2 1.8-.2 1.8-.2 1.9-.2 1.8-.1 1.9-.2 1.8-.2 1.9-.1 1.9-.2 1.9-.1 1.9-.2 2-.1 1.9-.1 2-.2 2-.1 1.9-.1 2-.2 2.1-.1 2-.1 2-.1 2.1-.1 2.1-.1 2-.1 2.1-.1 2.1-.1 2.2-.1 2.1-.1 2.1-.1 2.2-.1 2.2-.1 2.2-.1 2.2-.1 2.2-.1 2.2 0 2.2-.1 2.3-.1 2.2-.1 2.3-.1 2.3 0 2.3-.1 2.3-.1 2.3 0 2.3-.1 2.4-.1 2.3 0 2.4-.1 2.4-.1 2.4 0 2.4-.1 2.4-.1 2.4 0 2.4-.1 2.5 0 2.4-.1 2.5 0 2.5-.1" stroke="#ff00ff" stroke-width="1.3" fill="none"/>
<path d="M588 1095.2l2.5-.1 2.5-.1 2.4-.1 2.5 0 2.4-.1 2.4-.1 2.4-.1 2.4-.1 2.4-.1 2.4-.1 2.4-.1 2.3-.1 2.4-.1 2.3-.1 2.3-.1 2.3-.1 2.3-.1 2.3-.1 2.3-.1 2.2-.1 2.3-.2 2.2-.1 2.2-.1 2.2-.1 2.2-.2 2.2-.1 2.2-.1 2.2-.2 2.1-.1 2.1-.2 2.2-.1 2.1-.2 2.1-.1 2-.2 2.1-.1 2.1-.2 2-.2 2-.2 2.1-.1 2-.2 1.9-.2 2-.2 2-.2 1.9-.2 2-.2 1.9-.2 1.9-.3 1.9-.2 1.9-.2 1.8-.3 1.9-.2 1.8-.3 1.9-.2 1.8-.3 1.8-.3 1.7-.3 1.8-.3 1.8-.3 1.7-.3 1.7-.3 1.7-.3 1.7-.4 1.7-.3 1.7-.4 1.6-.4 1.7-.4 1.6-.4 1.6-.4 1.6-.5 1.6-.4 1.5-.5 1.6-.5 1.5-.5 1.5-.6 1.5-.5 1.5-.6 1.4-.6 1.5-.6 1.4-.7 1.4-.7 1.4-.7 1.4-.7 1.3-.8 1.4-.8 1.3-.9 1.3-.9 1.3-.9 1.3-1 1.2-1.1 1.3-1.1 1.2-1.1 1.2-1.2 1.2-1.3 1.1-1.3 1.2-1.4 1.1-1.5 1.1-1.5 1.1-1.6 1-1.8 1.1-1.8 1-1.9 1-2 1-2.2 .9-2.2 1-2.4 .9-2.5 .9-2.7 .9-2.8 .8-3 .8-3.1 .8-3.3 .8-3.5 .7-3.7 .8-3.9 .7-4 .6-4.3 .7-4.4 .6-4.7 .6-4.8 .5-5 .5-5.1 .5-4.8 .5-4 .4-3.5 .3-3 .4-2.5 .3-2.1 .2-1.6 .2-1.1 0-.6 .1-.5 .2-1.1 .2-1.5 .3-1.7 .4-1.9 .3-2.1 .4-2.2 .5-2.2 .5-2.3 .5-2.3 .5-2.3 .6-2.3 .6-2.3 .7-2.2 .6-2.1 .7-2.2 .8-2 .7-2 .8-1.9 .8-1.9 .8-1.8 .8-1.7 .9-1.7 .9-1.6 .9-1.5 1-1.5 .9-1.4 1-1.4 1-1.3 1-1.3 1.1-1.2 1-1.2 1.1-1.1 1.1-1.1 1.1-1 1.2-1 1.1-.9 1.2-1 1.2-.9 1.2-.8 1.3-.8 1.2-.8 1.3-.8 1.3-.8 1.3-.7 1.3-.7 1.4-.6 1.3-.7 1.4-.6 1.4-.6 1.4-.6 1.4-.6 1.5-.5 1.4-.6 1.5-.5 1.5-.5 1.5-.5 1.5-.4 1.6-.5 1.5-.4 1.6-.4 1.6-.5 1.6-.4 1.6-.3 1.7-.4 1.6-.4 1.7-.3 1.7-.4 1.7-.3 1.7-.3 1.7-.4 1.7-.3 1.8-.3 1.8-.2 1.7-.3 1.8-.3 1.8-.3 1.9-.2 1.8-.3 1.9-.2 1.8-.2 1.9-.3 1.9-.2 1.9-.2 1.9-.2 2-.2 1.9-.2 2-.2 2-.2 1.9-.2 2-.2 2.1-.2 2-.1 2-.2 2.1-.2 2.1-.1 2-.2 2.1-.1 2.1-.2 2.2-.1 2.1-.2 2.1-.1 2.2-.2 2.2-.1 2.2-.1 2.2-.1 2.2-.2 2.2-.1 2.2-.1 2.3-.1 2.2-.1 2.3-.1 2.3-.2 2.3-.1 2.3-.1 2.3-.1 2.3-.1 2.4-.1 2.3-.1 2.4-.1 2.4 0 2.4-.1 2.4-.1 2.4-.1 2.4-.1 2.4-.1 2.5-.1 2.4 0 2.5-.1 2.5-.1" stroke="#0000ff" stroke-width="1.3" fill="none"/>
<path d="M588 1095.2l2.5-.1 2.5-.1 2.4-.1 2.5 0 2.4-.1 2.4-.1 2.4-.1 2.4-.1 2.4-.1 2.4-.1 2.4-.1 2.3-.1 2.4-.1 2.3-.1 2.3-.1 2.3-.1 2.3-.1 2.3-.1 2.3-.1 2.2-.1 2.3-.2 2.2-.1 2.2-.1 2.2-.1 2.2-.2 2.2-.1 2.2-.1 2.2-.2 2.1-.1 2.1-.2 2.2-.1 2.1-.2 2.1-.1 2-.2 2.1-.1 2.1-.2 2-.2 2-.2 2.1-.1 2-.2 1.9-.2 2-.2 2-.2 1.9-.2 2-.2 1.9-.2 1.9-.3 1.9-.2 1.9-.2 1.8-.3 1.9-.2 1.8-.3 1.9-.2 1.8-.3 1.8-.3 1.7-.3 1.8-.2 1.8-.4 1.7-.3 1.7-.3 1.7-.3 1.7-.4 1.7-.3 1.7-.4 1.6-.3 1.7-.4 1.6-.4 1.6-.4 1.6-.5 1.6-.4 1.5-.4 1.6-.5 1.5-.5 1.5-.5 1.5-.5 1.5-.5 1.4-.6 1.5-.5 1.4-.6 1.4-.6 1.4-.6 1.4-.7 1.3-.6 1.4-.7 1.3-.7 1.3-.7 1.3-.8 1.3-.8 1.2-.8 1.3-.8 1.2-.9 1.2-.9 1.2-1 1.1-1 1.2-1 1.1-1 1.1-1.1 1.1-1.2 1-1.2 1.1-1.2 1-1.3 1-1.3 1-1.4 .9-1.5 1-1.5 .9-1.6 .9-1.6 .9-1.7 .8-1.8 .8-1.8 .8-1.9 .8-2 .7-2 .8-2.1 .7-2.2 .6-2.2 .7-2.2 .6-2.3 .6-2.4 .5-2.3 .5-2.4 .5-2.3 .5-2.3 .4-2.3 .3-2.1 .4-1.9 .3-1.8 .2-1.5 .2-1.1 0-.6 .1-.5 .2-1.2 .2-1.6 .3-2.1 .4-2.6 .3-3 .4-3.6 .5-4.2 .5-4.8 .5-5 .5-4.9 .6-4.7 .6-4.5 .7-4.4 .6-4.2 .7-4 .8-3.8 .7-3.6 .8-3.4 .8-3.2 .8-3.1 .8-2.9 .9-2.8 .9-2.6 .9-2.4 1-2.4 .9-2.2 1-2.1 1-1.9 1-1.9 1.1-1.8 1-1.7 1.1-1.6 1.1-1.5 1.1-1.5 1.2-1.3 1.1-1.3 1.2-1.3 1.2-1.1 1.2-1.2 1.3-1 1.2-1 1.3-1 1.3-.9 1.3-.9 1.3-.8 1.4-.9 1.3-.7 1.4-.8 1.4-.7 1.4-.6 1.4-.7 1.5-.6 1.4-.6 1.5-.5 1.5-.6 1.5-.5 1.5-.5 1.6-.5 1.5-.5 1.6-.4 1.6-.5 1.6-.4 1.6-.4 1.7-.4 1.6-.3 1.7-.4 1.7-.4 1.7-.3 1.7-.3 1.7-.3 1.7-.3 1.8-.3 1.8-.3 1.7-.3 1.8-.3 1.8-.3 1.9-.2 1.8-.3 1.9-.2 1.8-.2 1.9-.3 1.9-.2 1.9-.2 1.9-.2 2-.2 1.9-.2 2-.2 2-.2 1.9-.2 2-.2 2.1-.2 2-.1 2-.2 2.1-.2 2.1-.1 2-.2 2.1-.1 2.1-.2 2.2-.1 2.1-.2 2.1-.1 2.2-.2 2.2-.1 2.2-.1 2.2-.1 2.2-.2 2.2-.1 2.2-.1 2.3-.1 2.2-.1 2.3-.1 2.3-.2 2.3-.1 2.3-.1 2.3-.1 2.3-.1 2.4-.1 2.3-.1 2.4-.1 2.4 0 2.4-.1 2.4-.1 2.4-.1 2.4-.1 2.4-.1 2.5-.1 2.4 0 2.5-.1 2.5-.1" stroke="#0000ff" stroke-width="1.3" fill="none"/>
<path d="M588 1136.2l2.5-.1 2.5-.1 2.4-.1 2.5-.1 2.4-.1 2.4-.1 2.4-.2 2.4-.1 2.4-.1 2.4-.1 2.4-.2 2.3-.1 2.4-.1 2.3-.2 2.3-.1 2.3-.2 2.3-.1 2.3-.2 2.3-.1 2.2-.2 2.3-.1 2.2-.2 2.2-.2 2.2-.1 2.2-.2 2.2-.2 2.2-.2 2.2-.2 2.1-.2 2.1-.2 2.2-.2 2.1-.2 2.1-.2 2-.2 2.1-.2 2.1-.2 2-.3 2-.2 2.1-.3 2-.2 1.9-.3 2-.2 2-.3 1.9-.3 2-.3 1.9-.3 1.9-.3 1.9-.3 1.9-.3 1.8-.3 1.9-.3 1.8-.4 1.9-.4 1.8-.3 1.8-.4 1.7-.4 1.8-.4 1.8-.4 1.7-.4 1.7-.5 1.7-.4 1.7-.5 1.7-.5 1.7-.5 1.6-.5 1.7-.6 1.6-.5 1.6-.6 1.6-.6 1.6-.6 1.5-.7 1.6-.6 1.5-.7 1.5-.8 1.5-.7 1.5-.8 1.4-.8 1.5-.9 1.4-.9 1.4-.9 1.4-1 1.4-1 1.3-1 1.4-1.2 1.3-1.1 1.3-1.2 1.3-1.3 1.3-1.4 1.2-1.4 1.3-1.4 1.2-1.6 1.2-1.6 1.2-1.7 1.1-1.8 1.2-1.9 1.1-2 1.1-2.1 1.1-2.3 1-2.3 1.1-2.5 1-2.6 1-2.7 1-2.9 .9-3.1 1-3.2 .9-3.4 .9-3.6 .9-3.9 .8-4 .8-4.2 .8-4.5 .8-4.8 .7-5 .8-5.2 .7-5.5 .6-5.8 .7-6.1 .6-6.3 .6-6.5 .5-6.8 .5-6.9 .5-6.5 .5-5.5 .4-4.7 .3-4.1 .4-3.4 .3-2.7 .2-2.2 .2-1.6 0-.7 .1-.8 .2-1.5 .2-2 .3-2.3 .4-2.6 .3-2.8 .4-2.9 .5-3.1 .5-3.1 .5-3.1 .5-3.2 .6-3.1 .6-3 .7-3.1 .6-2.9 .7-2.9 .8-2.8 .7-2.7 .8-2.6 .8-2.5 .8-2.4 .8-2.4 .9-2.2 .9-2.2 .9-2.1 1-2 .9-1.9 1-1.9 1-1.8 1-1.7 1.1-1.6 1-1.6 1.1-1.5 1.1-1.5 1.1-1.4 1.2-1.4 1.1-1.3 1.2-1.2 1.2-1.2 1.2-1.2 1.3-1.1 1.2-1.1 1.3-1.1 1.3-1 1.3-.9 1.3-1 1.4-.9 1.3-.9 1.4-.8 1.4-.8 1.4-.8 1.4-.8 1.5-.7 1.4-.8 1.5-.7 1.5-.6 1.5-.7 1.5-.6 1.6-.7 1.5-.5 1.6-.6 1.6-.6 1.6-.5 1.6-.6 1.7-.5 1.6-.5 1.7-.4 1.7-.5 1.7-.5 1.7-.4 1.7-.4 1.7-.4 1.8-.5 1.8-.3 1.7-.4 1.8-.4 1.8-.3 1.9-.4 1.8-.3 1.9-.4 1.8-.3 1.9-.3 1.9-.3 1.9-.3 1.9-.3 2-.3 1.9-.2 2-.3 2-.3 1.9-.2 2-.3 2.1-.2 2-.2 2-.3 2.1-.2 2.1-.2 2-.2 2.1-.2 2.1-.2 2.2-.2 2.1-.2 2.1-.2 2.2-.2 2.2-.2 2.2-.1 2.2-.2 2.2-.2 2.2-.1 2.2-.2 2.3-.2 2.2-.1 2.3-.2 2.3-.1 2.3-.2 2.3-.1 2.3-.1 2.3-.2 2.4-.1 2.3-.1 2.4-.2 2.4-.1 2.4-.1 2.4-.1 2.4-.2 2.4-.1 2.4-.1 2.5-.1 2.4-.1 2.5-.1 2.5-.1" stroke="#ff0000" stroke-width="1.3" fill="none"/>
<path d="M588 1136.2l2.5-.1 2.5-.1 2.4-.1 2.5-.1 2.4-.1 2.4-.1 2.4-.2 2.4-.1 2.4-.1 2.4-.1 2.4-.2 2.3-.1 2.4-.1 2.3-.2 2.3-.1 2.3-.2 2.3-.1 2.3-.2 2.3-.1 2.2-.2 2.3-.1 2.2-.2 2.2-.2 2.2-.1 2.2-.2 2.2-.2 2.2-.2 2.2-.2 2.1-.2 2.1-.2 2.2-.2 2.1-.2 2.1-.2 2-.2 2.1-.2 2.1-.2 2-.3 2-.2 2.1-.3 2-.2 1.9-.3 2-.2 2-.3 1.9-.3 2-.3 1.9-.3 1.9-.3 1.9-.3 1.9-.3 1.8-.3 1.9-.3 1.8-.4 1.9-.3 1.8-.4 1.8-.4 1.7-.4 1.8-.4 1.8-.4 1.7-.4 1.7-.4 1.7-.5 1.7-.5 1.7-.4 1.7-.5 1.6-.5 1.7-.6 1.6-.5 1.6-.5 1.6-.6 1.6-.6 1.5-.6 1.6-.7 1.5-.6 1.5-.7 1.5-.7 1.5-.7 1.4-.7 1.5-.8 1.4-.8 1.4-.8 1.4-.8 1.4-.9 1.3-.9 1.4-.9 1.3-1 1.3-1 1.3-1 1.3-1.1 1.2-1.1 1.3-1.1 1.2-1.2 1.2-1.2 1.2-1.3 1.1-1.3 1.2-1.4 1.1-1.5 1.1-1.5 1.1-1.5 1-1.6 1.1-1.7 1-1.8 1-1.8 1-1.9 .9-1.9 1-2.1 .9-2.1 .9-2.2 .9-2.4 .8-2.3 .8-2.5 .8-2.6 .8-2.7 .7-2.7 .8-2.9 .7-2.9 .6-3 .7-3.1 .6-3.1 .6-3.2 .5-3.2 .5-3.2 .5-3.2 .5-3.1 .4-3 .3-2.9 .4-2.6 .3-2.4 .2-2 .2-1.5 0-.8 .1-.8 .2-1.6 .2-2.2 .3-2.8 .4-3.5 .3-4.1 .4-4.9 .5-5.6 .5-6.6 .5-6.8 .5-6.6 .6-6.4 .6-6.2 .7-5.9 .6-5.7 .7-5.4 .8-5.1 .7-4.9 .8-4.6 .8-4.4 .8-4.2 .8-4 .9-3.7 .9-3.5 .9-3.4 1-3.1 .9-3 1-2.9 1-2.7 1-2.5 1.1-2.4 1-2.3 1.1-2.2 1.1-2.1 1.1-1.9 1.2-1.9 1.1-1.7 1.2-1.7 1.2-1.6 1.2-1.5 1.3-1.5 1.2-1.4 1.3-1.3 1.3-1.2 1.3-1.2 1.3-1.2 1.4-1 1.3-1.1 1.4-1 1.4-.9 1.4-.9 1.4-.9 1.5-.9 1.4-.8 1.5-.7 1.5-.8 1.5-.7 1.5-.7 1.6-.6 1.5-.7 1.6-.6 1.6-.5 1.6-.6 1.6-.6 1.7-.5 1.6-.5 1.7-.5 1.7-.5 1.7-.4 1.7-.5 1.7-.4 1.7-.4 1.8-.4 1.8-.4 1.7-.4 1.8-.4 1.8-.3 1.9-.4 1.8-.3 1.9-.4 1.8-.3 1.9-.3 1.9-.3 1.9-.3 1.9-.3 2-.3 1.9-.2 2-.3 2-.3 1.9-.2 2-.3 2.1-.2 2-.2 2-.3 2.1-.2 2.1-.2 2-.2 2.1-.2 2.1-.2 2.2-.2 2.1-.2 2.1-.2 2.2-.2 2.2-.2 2.2-.1 2.2-.2 2.2-.2 2.2-.1 2.2-.2 2.3-.2 2.2-.1 2.3-.2 2.3-.1 2.3-.2 2.3-.1 2.3-.1 2.3-.2 2.4-.1 2.3-.1 2.4-.2 2.4-.1 2.4-.1 2.4-.1 2.4-.2 2.4-.1 2.4-.1 2.5-.1 2.4-.1 2.5-.1 2.5-.1" stroke="#ff0000" stroke-width="1.3" fill="none"/>
<text x="918.2" y="845.9" font-size="17.0" font-family="'Liberation Serif','Times New Roman',serif" font-weight="bold">1 <tspan dy="-6.6" font-size="10.5">o</tspan><tspan dy="6.6">C/min</tspan></text>
<text x="918.2" y="865.6" font-size="17.0" font-family="'Liberation Serif','Times New Roman',serif" font-weight="bold">3 <tspan dy="-6.6" font-size="10.5">o</tspan><tspan dy="6.6">C/min</tspan></text>
<text x="918.2" y="897.6" font-size="17.0" font-family="'Liberation Serif','Times New Roman',serif" font-weight="bold">5 <tspan dy="-6.6" font-size="10.5">o</tspan><tspan dy="6.6">C/min</tspan></text>
<text x="918.2" y="920.7" font-size="17.0" font-family="'Liberation Serif','Times New Roman',serif" font-weight="bold">7 <tspan dy="-6.6" font-size="10.5">o</tspan><tspan dy="6.6">C/min</tspan></text>
<text x="548.5" y="975.9" font-size="17" font-family="'Liberation Serif','Times New Roman',serif" font-weight="bold" text-anchor="middle" transform="rotate(-90 548.5 975.9)">M (A&#183;m<tspan dy="-6.8" font-size="11">2</tspan><tspan dy="6.8">/kg)</tspan></text>
<text x="790.7" y="1191.7" font-size="17.0" font-family="'Liberation Serif','Times New Roman',serif" font-weight="bold" text-anchor="middle" fill="#000">H (A/m)</text>
<text x="603.3" y="849" font-size="23.3" font-family="'Liberation Serif','Times New Roman',serif" font-weight="bold" fill="#000">(h)</text></g></svg></body></html>
